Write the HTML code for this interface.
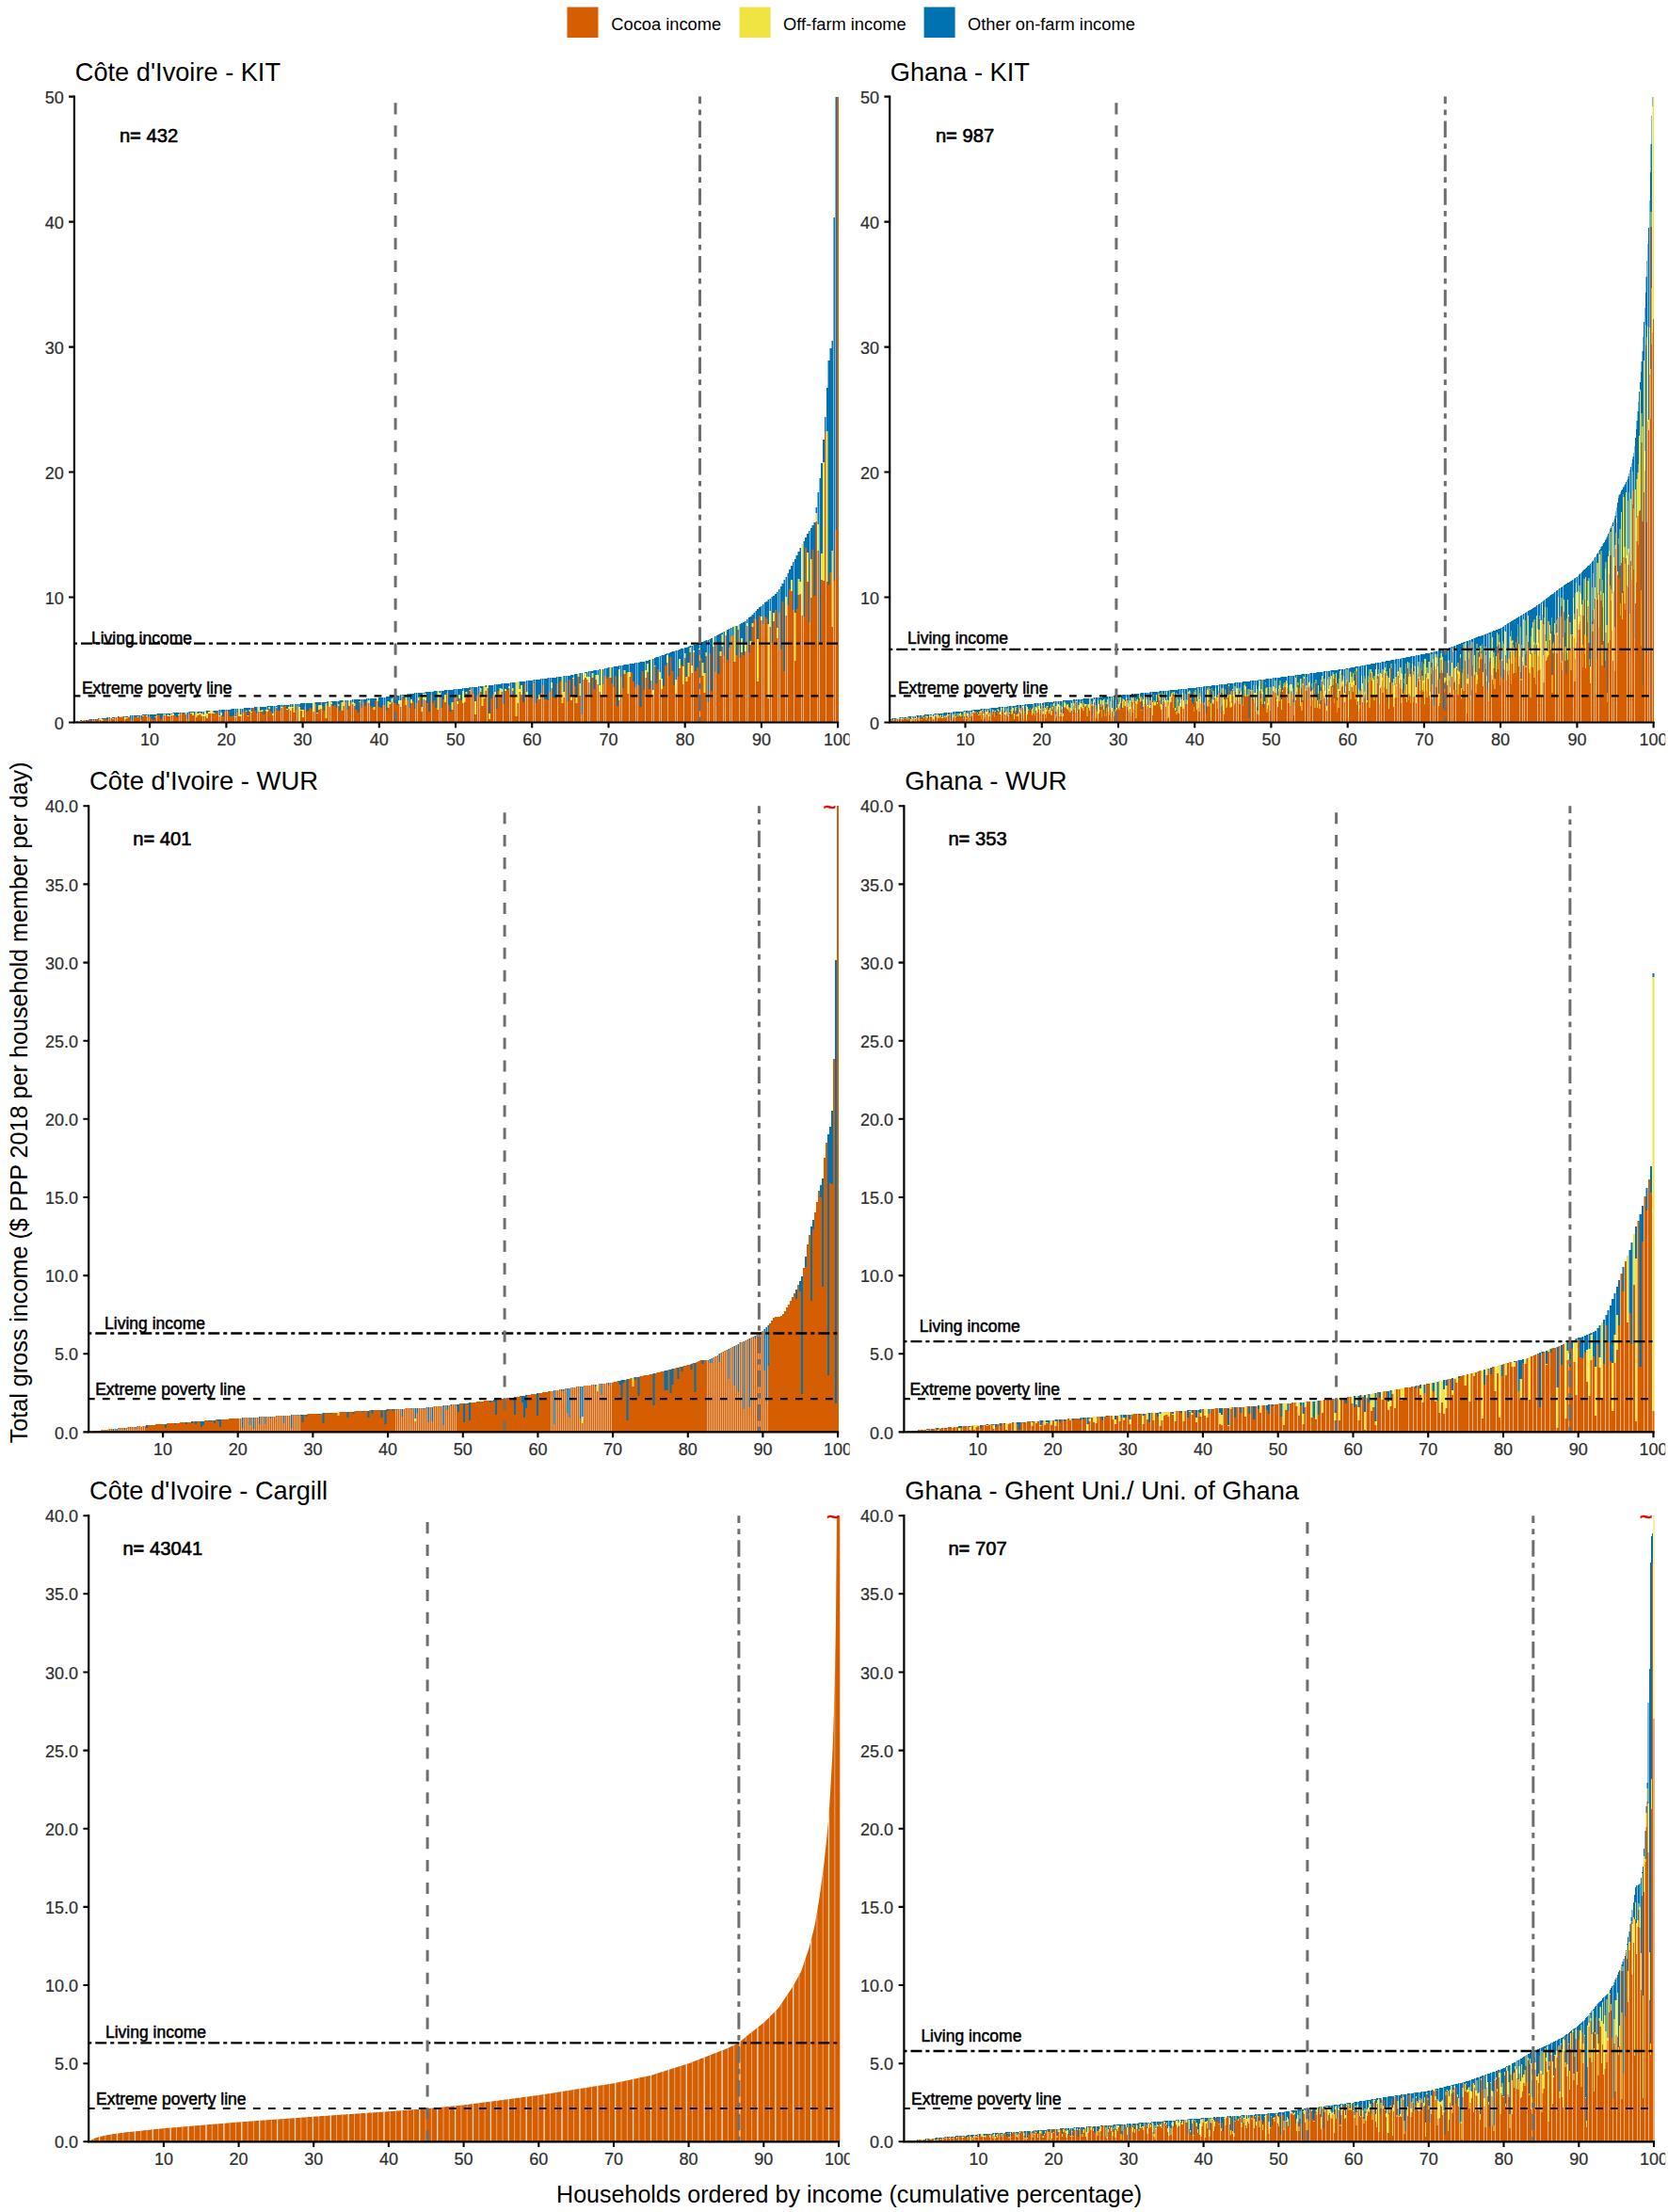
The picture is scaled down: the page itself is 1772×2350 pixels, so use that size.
<!DOCTYPE html>
<html lang="en"><head><meta charset="utf-8"><title>Household income distribution</title>
<style>html,body{margin:0;padding:0;background:#fff}svg{display:block}text{font-family:"Liberation Sans", sans-serif}</style></head><body>
<svg width="1772" height="2350" viewBox="0 0 1772 2350">
<rect width="1772" height="2350" fill="#fff"/>
<g font-size="18.3" fill="#000"><rect x="602.5" y="7.5" width="33" height="32.5" fill="#D55E00"/><text x="649.3" y="31.6">Cocoa income</text><rect x="785.6" y="7.5" width="33" height="32.5" fill="#F0E442"/><text x="832" y="31.6">Off-farm income</text><rect x="981.6" y="7.5" width="33" height="32.5" fill="#0072B2"/><text x="1028" y="31.6">Other on-farm income</text></g>
<text x="902.1" y="2340.4" font-size="25.04" text-anchor="middle">Households ordered by income (cumulative percentage)</text>
<text transform="translate(29.1 1171.4) rotate(-90)" font-size="25.17" text-anchor="middle">Total gross income ($ PPP 2018 per household member per day)</text>
<clipPath id="cl"><rect x="0" y="0" width="902.6" height="2350"/></clipPath><clipPath id="cr"><rect x="903" y="0" width="866.2" height="2350"/></clipPath>
<g clip-path="url(#cl)">
<text x="79.8" y="85.9" font-size="27.2">Côte d'Ivoire - KIT</text>
<g shape-rendering="crispEdges">
<path fill="#D55E00" d="M78 768v-1h2v1zM80 768v-1h1v1zM82 768v-1h1v1zM84 768v-1h1v1zM85 768v-1h2v1zM87 768v-2h2v2zM89 768v-3h2v3zM91 768v-2h2v2zM93 768v-3h2v3zM95 768v-3h2v3zM97 768v-3h1v3zM99 768v-3h1v3zM101 768v-3h1v3zM102 768v-4h2v4zM104 768v-4h2v4zM106 768v-3h2v3zM108 768v-2h2v2zM110 768v-4h2v4zM112 768v-4h2v4zM114 768v-3h1v3zM116 768v-5h1v5zM118 768v-5h1v5zM119 768v-4h2v4zM121 768v-5h2v5zM123 768v-6h2v6zM125 768v-6h2v6zM127 768v-6h2v6zM129 768v-6h2v6zM131 768v-6h1v6zM133 768v-4h1v4zM134 768v-5h2v5zM136 768v-6h2v6zM138 768v-4h2v4zM140 768v-3h2v3zM142 768v-7h2v7zM144 768v-6h2v6zM146 768v-6h2v6zM148 768v-7h1v7zM150 768v-4h1v4zM151 768v-7h2v7zM153 768v-8h2v8zM155 768v-7h2v7zM157 768v-6h2v6zM159 768v-7h2v7zM161 768v-4h2v4zM163 768v-3h2v3zM165 768v-6h1v6zM167 768v-8h1v8zM168 768v-9h2v9zM170 768v-4h2v4zM172 768v-7h2v7zM174 768v-8h2v8zM176 768v-8h2v8zM178 768v-7h2v7zM180 768v-7h1v7zM182 768v-8h1v8zM184 768v-8h1v8zM185 768v-8h2v8zM187 768v-6h2v6zM189 768v-8h2v8zM191 768v-10h2v10zM193 768v-11h2v11zM195 768v-9h2v9zM197 768v-9h1v9zM199 768v-4h1v4zM201 768v-9h1v9zM202 768v-10h2v10zM204 768v-8h2v8zM206 768v-9h2v9zM208 768v-6h2v6zM210 768v-8h2v8zM212 768v-9h2v9zM214 768v-7h1v7zM216 768v-7h1v7zM218 768v-7h1v7zM219 768v-5h2v5zM221 768v-10h2v10zM223 768v-10h2v10zM225 768v-10h2v10zM227 768v-10h2v10zM229 768v-10h2v10zM231 768v-13h1v13zM233 768v-7h1v7zM235 768v-8h1v8zM236 768v-7h2v7zM238 768v-12h2v12zM240 768v-13h2v13zM242 768v-12h2v12zM244 768v-7h2v7zM246 768v-7h2v7zM248 768v-8h1v8zM250 768v-6h1v6zM252 768v-11h1v11zM253 768v-7h2v7zM255 768v-7h2v7zM257 768v-11h2v11zM259 768v-12h2v12zM261 768v-12h2v12zM263 768v-7h2v7zM265 768v-12h1v12zM267 768v-11h1v11zM268 768v-16h2v16zM270 768v-13h2v13zM272 768v-10h2v10zM274 768v-12h2v12zM276 768v-12h2v12zM278 768v-12h2v12zM280 768v-9h2v9zM282 768v-13h1v13zM284 768v-12h1v12zM285 768v-15h2v15zM287 768v-12h2v12zM289 768v-8h2v8zM291 768v-12h2v12zM293 768v-16h2v16zM295 768v-13h2v13zM297 768v-13h1v13zM299 768v-16h1v16zM301 768v-17h1v17zM302 768v-18h2v18zM304 768v-14h2v14zM306 768v-15h2v15zM308 768v-13h2v13zM310 768v-16h2v16zM312 768v-11h2v11zM314 768v-13h1v13zM316 768v-18h1v18zM318 768v-2h1v2zM319 768v-13h2v13zM321 768v-6h2v6zM323 768v-17h2v17zM325 768v-12h2v12zM327 768v-13h2v13zM329 768v-16h2v16zM331 768v-15h1v15zM333 768v-12h1v12zM335 768v-20h1v20zM336 768v-10h2v10zM338 768v-14h2v14zM340 768v-15h2v15zM342 768v-18h2v18zM344 768v-13h2v13zM346 768v-5h2v5zM348 768v-18h1v18zM350 768v-17h1v17zM352 768v-20h1v20zM353 768v-18h2v18zM355 768v-19h2v19zM357 768v-16h2v16zM359 768v-18h2v18zM361 768v-13h2v13zM363 768v-13h2v13zM365 768v-18h1v18zM367 768v-22h1v22zM369 768v-14h1v14zM370 768v-18h2v18zM372 768v-21h2v21zM374 768v-20h2v20zM376 768v-18h2v18zM378 768v-14h2v14zM380 768v-11h2v11zM382 768v-22h1v22zM384 768v-16h1v16zM386 768v-22h1v22zM387 768v-18h2v18zM389 768v-23h2v23zM391 768v-21h2v21zM393 768v-18h2v18zM395 768v-16h2v16zM397 768v-14h2v14zM399 768v-24h1v24zM401 768v-23h1v23zM402 768v-17h2v17zM404 768v-16h2v16zM406 768v-19h2v19zM408 768v-19h2v19zM410 768v-13h2v13zM412 768v-16h2v16zM414 768v-20h2v20zM416 768v-22h1v22zM418 768v-22h1v22zM419 768v-21h2v21zM421 768v-19h2v19zM423 768v-20h2v20zM425 768v-17h2v17zM427 768v-28h2v28zM429 768v-25h2v25zM431 768v-19h1v19zM433 768v-24h1v24zM435 768v-16h1v16zM436 768v-21h2v21zM438 768v-23h2v23zM440 768v-15h2v15zM442 768v-21h2v21zM444 768v-24h2v24zM446 768v-27h2v27zM448 768v-12h1v12zM450 768v-25h1v25zM452 768v-24h1v24zM453 768v-21h2v21zM455 768v-12h2v12zM457 768v-30h2v30zM459 768v-21h2v21zM461 768v-24h2v24zM463 768v-16h2v16zM465 768v-14h1v14zM467 768v-28h1v28zM469 768v-16h1v16zM470 768v-25h2v25zM472 768v-22h2v22zM474 768v-32h2v32zM476 768v-19h2v19zM478 768v-12h2v12zM480 768v-14h2v14zM482 768v-26h1v26zM484 768v-29h1v29zM486 768v-20h1v20zM487 768v-26h2v26zM489 768v-24h2v24zM491 768v-21h2v21zM493 768v-22h2v22zM495 768v-31h2v31zM497 768v-27h2v27zM499 768v-34h1v34zM501 768v-36h1v36zM503 768v-31h1v31zM504 768v-9h2v9zM506 768v-29h2v29zM508 768v-31h2v31zM510 768v-33h2v33zM512 768v-18h2v18zM514 768v-26h2v26zM516 768v-34h1v34zM518 768v-37h1v37zM519 768v-4h2v4zM521 768v-26h2v26zM523 768v-30h2v30zM525 768v-28h2v28zM527 768v-15h2v15zM529 768v-34h2v34zM531 768v-30h2v30zM533 768v-33h1v33zM535 768v-20h1v20zM536 768v-34h2v34zM538 768v-35h2v35zM540 768v-37h2v37zM542 768v-30h2v30zM544 768v-34h2v34zM546 768v-29h2v29zM548 768v-7h2v7zM550 768v-21h1v21zM552 768v-33h1v33zM553 768v-30h2v30zM555 768v-22h2v22zM557 768v-42h2v42zM559 768v-29h2v29zM561 768v-27h2v27zM563 768v-28h2v28zM565 768v-26h1v26zM567 768v-42h1v42zM569 768v-21h1v21zM570 768v-26h2v26zM572 768v-25h2v25zM574 768v-32h2v32zM576 768v-40h2v40zM578 768v-25h2v25zM580 768v-25h2v25zM582 768v-24h1v24zM584 768v-33h1v33zM586 768v-37h1v37zM587 768v-27h2v27zM589 768v-26h2v26zM591 768v-42h2v42zM593 768v-29h2v29zM595 768v-44h2v44zM597 768v-21h2v21zM599 768v-27h1v27zM601 768v-43h1v43zM603 768v-23h1v23zM604 768v-46h2v46zM606 768v-24h2v24zM608 768v-47h2v47zM610 768v-39h2v39zM612 768v-21h2v21zM614 768v-49h2v49zM616 768v-29h1v29zM618 768v-9h1v9zM620 768v-46h1v46zM621 768v-48h2v48zM623 768v-46h2v46zM625 768v-43h2v43zM627 768v-30h2v30zM629 768v-48h2v48zM631 768v-36h2v36zM633 768v-46h1v46zM635 768v-41h1v41zM637 768v-33h1v33zM638 768v-28h2v28zM640 768v-41h2v41zM642 768v-50h2v50zM644 768v-47h2v47zM646 768v-49h2v49zM648 768v-48h2v48zM650 768v-42h1v42zM652 768v-38h1v38zM653 768v-50h2v50zM655 768v-18h2v18zM657 768v-24h2v24zM659 768v-49h2v49zM661 768v-37h2v37zM663 768v-52h2v52zM665 768v-53h2v53zM667 768v-31h1v31zM669 768v-49h1v49zM670 768v-54h2v54zM672 768v-44h2v44zM674 768v-38h2v38zM676 768v-41h2v41zM678 768v-40h2v40zM680 768v-17h2v17zM682 768v-55h2v55zM684 768v-35h1v35zM686 768v-48h1v48zM687 768v-54h2v54zM689 768v-36h2v36zM691 768v-45h2v45zM693 768v-30h2v30zM695 768v-60h2v60zM697 768v-42h2v42zM699 768v-57h1v57zM701 768v-46h1v46zM703 768v-36h1v36zM704 768v-39h2v39zM706 768v-61h2v61zM708 768v-64h2v64zM710 768v-50h2v50zM712 768v-70h2v70zM714 768v-55h2v55zM716 768v-40h1v40zM718 768v-31h1v31zM720 768v-49h1v49zM721 768v-58h2v58zM723 768v-61h2v61zM725 768v-41h2v41zM727 768v-69h2v69zM729 768v-44h2v44zM731 768v-49h2v49zM733 768v-75h1v75zM735 768v-53h1v53zM737 768v-75h1v75zM738 768v-55h2v55zM740 768v-59h2v59zM742 768v-78h2v78zM744 768v-69h2v69zM746 768v-50h2v50zM748 768v-32h2v32zM750 768v-71h1v71zM752 768v-22h1v22zM754 768v-74h1v74zM755 768v-34h2v34zM757 768v-81h2v81zM759 768v-54h2v54zM761 768v-84h2v84zM763 768v-52h2v52zM765 768v-71h2v71zM767 768v-81h1v81zM769 768v-71h1v71zM771 768v-93h1v93zM772 768v-67h2v67zM774 768v-80h2v80zM776 768v-92h2v92zM778 768v-93h2v93zM780 768v-65h2v65zM782 768v-72h2v72zM784 768v-99h1v99zM786 768v-69h1v69zM787 768v-75h2v75zM789 768v-72h2v72zM791 768v-76h2v76zM793 768v-103h2v103zM795 768v-75h2v75zM797 768v-83h2v83zM799 768v-102h2v102zM801 768v-111h1v111zM803 768v-110h1v110zM804 768v-44h2v44zM806 768v-114h2v114zM808 768v-109h2v109zM810 768v-105h2v105zM812 768v-113h2v113zM814 768v-111h2v111zM816 768v-26h1v26zM818 768v-102h1v102zM820 768v-85h1v85zM821 768v-108h2v108zM823 768v-120h2v120zM825 768v-90h2v90zM827 768v-117h2v117zM829 768v-78h2v78zM831 768v-129h2v129zM833 768v-55h1v55zM835 768v-114h1v114zM837 768v-125h1v125zM838 768v-142h2v142zM840 768v-140h2v140zM842 768v-120h2v120zM844 768v-66h2v66zM846 768v-121h2v121zM848 768v-136h2v136zM850 768v-137h1v137zM852 768v-114h1v114zM854 768v-113h1v113zM855 768v-186h2v186zM857 768v-150h2v150zM859 768v-107h2v107zM861 768v-133h2v133zM863 768v-184h2v184zM865 768v-135h2v135zM867 768v-214h1v214zM869 768v-183h1v183zM871 768v-85h1v85zM872 768v-152h2v152zM874 768v-151h2v151zM876 768v-309h2v309zM878 768v-150h2v150zM880 768v-147h2v147zM882 768v-160h2v160zM884 768v-102h1v102zM886 768v-151h1v151zM888 768v-205h1v205zM889 768v-665h2v665z"/>
<path fill="#F0E442" d="M78 767v-1h2v1zM80 767v-1h1v1zM84 767v-1h1v1zM85 767v-1h2v1zM87 766v-1h2v1zM106 765v-2h2v2zM108 766v-2h2v2zM118 763v-1h1v1zM119 764v-1h2v1zM127 762v-1h2v1zM129 762v-1h2v1zM133 764v-2h1v2zM134 763v-1h2v1zM136 762v-1h2v1zM146 762v-1h2v1zM151 761v-1h2v1zM155 761v-1h2v1zM165 762v-1h1v1zM174 760v-1h2v1zM178 761v-2h2v2zM180 761v-1h1v1zM182 760v-1h1v1zM184 760v-2h1v2zM189 760v-1h2v1zM197 759v-2h1v2zM202 758v-1h2v1zM204 760v-3h2v3zM208 762v-6h2v6zM210 760v-2h2v2zM212 759v-2h2v2zM214 761v-3h1v3zM216 761v-2h1v2zM218 761v-6h1v6zM219 763v-5h2v5zM221 758v-2h2v2zM223 758v-3h2v3zM225 758v-3h2v3zM227 758v-1h2v1zM233 761v-1h1v1zM235 760v-3h1v3zM250 762v-1h1v1zM253 761v-8h2v8zM255 761v-2h2v2zM261 756v-1h2v1zM263 761v-1h2v1zM265 756v-2h1v2zM267 757v-1h1v1zM274 756v-5h2v5zM276 756v-1h2v1zM278 756v-2h2v2zM282 755v-1h1v1zM284 756v-2h1v2zM285 753v-2h2v2zM289 760v-2h2v2zM293 752v-1h2v1zM299 752v-1h1v1zM304 754v-1h2v1zM306 753v-2h2v2zM308 755v-4h2v4zM310 752v-1h2v1zM312 757v-9h2v9zM318 766v-15h1v15zM319 755v-1h2v1zM321 762v-8h2v8zM333 756v-9h1v9zM336 758v-1h2v1zM338 754v-5h2v5zM340 753v-4h2v4zM346 763v-16h2v16zM350 751v-6h1v6zM352 748v-2h1v2zM359 750v-2h2v2zM363 755v-9h2v9zM365 750v-6h1v6zM370 750v-6h2v6zM374 748v-2h2v2zM376 750v-3h2v3zM382 746v-1h1v1zM391 747v-3h2v3zM397 754v-3h2v3zM401 745v-3h1v3zM412 752v-7h2v7zM414 748v-2h2v2zM416 746v-4h1v4zM423 748v-4h2v4zM425 751v-7h2v7zM427 740v-1h2v1zM431 749v-11h1v11zM436 747v-4h2v4zM444 744v-3h2v3zM446 741v-2h2v2zM448 756v-5h1v5zM450 743v-6h1v6zM452 744v-7h1v7zM465 754v-20h1v20zM467 740v-4h1v4zM472 746v-8h2v8zM480 754v-8h2v8zM486 748v-3h1v3zM487 742v-4h2v4zM491 747v-13h2v13zM493 746v-5h2v5zM495 737v-2h2v2zM499 734v-1h1v1zM504 759v-14h2v14zM510 735v-4h2v4zM512 750v-10h2v10zM514 742v-13h2v13zM516 734v-4h1v4zM518 731v-3h1v3zM519 764v-6h2v6zM525 740v-5h2v5zM531 738v-7h2v7zM533 735v-3h1v3zM536 734v-2h2v2zM540 731v-2h2v2zM544 734v-3h2v3zM546 739v-1h2v1zM548 761v-36h2v36zM550 747v-23h1v23zM552 735v-3h1v3zM553 738v-10h2v10zM559 739v-4h2v4zM572 743v-5h2v5zM586 731v-6h1v6zM597 747v-28h2v28zM599 741v-6h1v6zM606 744v-4h2v4zM608 721v-1h2v1zM612 747v-6h2v6zM614 719v-3h2v3zM616 739v-13h1v13zM620 722v-7h1v7zM621 720v-5h2v5zM623 722v-3h2v3zM625 725v-6h2v6zM629 720v-5h2v5zM633 722v-5h1v5zM635 727v-10h1v10zM637 735v-7h1v7zM638 740v-29h2v29zM648 720v-11h2v11zM657 744v-33h2v33zM663 716v-4h2v4zM667 737v-23h1v23zM669 719v-5h1v5zM686 720v-8h1v8zM687 714v-9h2v9zM691 723v-23h2v23zM693 738v-5h2v5zM695 708v-1h2v1zM701 722v-8h1v8zM703 732v-11h1v11zM708 704v-8h2v8zM718 737v-15h1v15zM721 710v-10h2v10zM725 727v-19h2v19zM727 699v-5h2v5zM729 724v-5h2v5zM731 719v-15h2v15zM733 693v-5h1v5zM735 715v-8h1v8zM737 693v-2h1v2zM742 690v-1h2v1zM746 718v-14h2v14zM748 736v-21h2v21zM750 697v-4h1v4zM757 687v-10h2v10zM765 697v-5h2v5zM767 687v-13h1v13zM771 675v-5h1v5zM780 703v-38h2v38zM784 669v-5h1v5zM787 693v-15h2v15zM791 692v-7h2v7zM793 665v-3h2v3zM797 685v-4h2v4zM799 666v-4h2v4zM804 724v-45h2v45zM808 659v-4h2v4zM816 742v-79h1v79zM818 666v-17h1v17zM821 660v-9h2v9zM825 678v-11h2v11zM835 654v-20h1v20zM840 628v-12h2v12zM844 702v-51h2v51zM848 632v-17h2v17zM850 631v-13h1v13zM852 654v-76h1v76zM857 618v-31h2v31zM861 635v-41h2v41zM867 554v-9h1v9zM869 585v-28h1v28zM872 616v-28h2v28zM874 617v-126h2v126zM878 618v-160h2v160zM884 666v-81h1v81z"/>
<path fill="#0072B2" d="M82 767v-1h1v1zM85 766v-1h2v1zM91 766v-1h2v1zM95 765v-1h2v1zM97 765v-1h1v1zM99 765v-1h1v1zM101 765v-1h1v1zM104 764v-1h2v1zM108 764v-1h2v1zM110 764v-1h2v1zM112 764v-1h2v1zM114 765v-3h1v3zM116 763v-1h1v1zM119 763v-1h2v1zM121 763v-1h2v1zM125 762v-1h2v1zM131 762v-1h1v1zM133 762v-1h1v1zM134 762v-1h2v1zM138 764v-4h2v4zM140 765v-5h2v5zM142 761v-1h2v1zM144 762v-2h2v2zM146 761v-1h2v1zM148 761v-1h1v1zM150 764v-4h1v4zM151 760v-1h2v1zM153 760v-1h2v1zM155 760v-1h2v1zM157 762v-3h2v3zM159 761v-2h2v2zM161 764v-5h2v5zM163 765v-6h2v6zM165 761v-2h1v2zM167 760v-2h1v2zM168 759v-1h2v1zM170 764v-6h2v6zM172 761v-3h2v3zM174 759v-1h2v1zM176 760v-2h2v2zM178 759v-1h2v1zM180 760v-2h1v2zM182 759v-1h1v1zM184 758v-1h1v1zM185 760v-3h2v3zM187 762v-5h2v5zM189 759v-2h2v2zM191 758v-1h2v1zM195 759v-2h2v2zM199 764v-7h1v7zM201 759v-3h1v3zM202 757v-1h2v1zM204 757v-1h2v1zM206 759v-3h2v3zM210 758v-2h2v2zM212 757v-1h2v1zM214 758v-2h1v2zM216 759v-3h1v3zM219 758v-3h2v3zM221 756v-1h2v1zM227 757v-2h2v2zM229 758v-3h2v3zM233 760v-6h1v6zM235 757v-3h1v3zM236 761v-7h2v7zM238 756v-2h2v2zM240 755v-1h2v1zM242 756v-2h2v2zM244 761v-7h2v7zM246 761v-8h2v8zM248 760v-7h1v7zM250 761v-8h1v8zM252 757v-4h1v4zM255 759v-6h2v6zM257 757v-4h2v4zM259 756v-4h2v4zM261 755v-3h2v3zM263 760v-8h2v8zM265 754v-2h1v2zM267 756v-4h1v4zM270 755v-4h2v4zM272 758v-7h2v7zM276 755v-4h2v4zM278 754v-3h2v3zM280 759v-8h2v8zM282 754v-3h1v3zM284 754v-4h1v4zM285 751v-1h2v1zM287 756v-6h2v6zM289 758v-8h2v8zM291 756v-6h2v6zM293 751v-1h2v1zM295 755v-6h2v6zM297 755v-6h1v6zM299 751v-2h1v2zM301 751v-2h1v2zM302 750v-1h2v1zM304 753v-4h2v4zM306 751v-2h2v2zM308 751v-3h2v3zM310 751v-3h2v3zM314 755v-7h1v7zM316 750v-2h1v2zM318 751v-3h1v3zM319 754v-7h2v7zM321 754v-7h2v7zM323 751v-4h2v4zM325 756v-9h2v9zM327 755v-8h2v8zM329 752v-5h2v5zM331 753v-6h1v6zM335 748v-2h1v2zM336 757v-11h2v11zM338 749v-3h2v3zM340 749v-3h2v3zM342 750v-4h2v4zM344 755v-9h2v9zM346 747v-1h2v1zM348 750v-5h1v5zM352 746v-1h1v1zM353 750v-5h2v5zM355 749v-4h2v4zM357 752v-7h2v7zM359 748v-3h2v3zM361 755v-11h2v11zM363 746v-2h2v2zM367 746v-2h1v2zM369 754v-10h1v10zM372 747v-3h2v3zM374 746v-3h2v3zM376 747v-4h2v4zM378 754v-11h2v11zM380 757v-14h2v14zM382 745v-2h1v2zM384 752v-9h1v9zM386 746v-3h1v3zM387 750v-7h2v7zM389 745v-3h2v3zM391 744v-2h2v2zM393 750v-8h2v8zM395 752v-10h2v10zM397 751v-9h2v9zM399 744v-2h1v2zM402 751v-10h2v10zM404 752v-11h2v11zM406 749v-8h2v8zM408 749v-8h2v8zM410 755v-15h2v15zM412 745v-5h2v5zM414 746v-6h2v6zM416 742v-2h1v2zM418 746v-7h1v7zM419 747v-8h2v8zM421 749v-10h2v10zM423 744v-5h2v5zM425 744v-6h2v6zM427 739v-1h2v1zM429 743v-5h2v5zM433 744v-7h1v7zM435 752v-15h1v15zM436 743v-6h2v6zM438 745v-8h2v8zM440 753v-17h2v17zM442 747v-11h2v11zM444 741v-5h2v5zM446 739v-3h2v3zM448 751v-15h1v15zM450 737v-1h1v1zM452 737v-2h1v2zM453 747v-12h2v12zM455 756v-21h2v21zM457 738v-3h2v3zM459 747v-12h2v12zM461 744v-10h2v10zM463 752v-18h2v18zM467 736v-2h1v2zM469 752v-18h1v18zM470 743v-9h2v9zM472 738v-5h2v5zM474 736v-3h2v3zM476 749v-16h2v16zM478 756v-23h2v23zM480 746v-13h2v13zM482 742v-10h1v10zM484 739v-7h1v7zM486 745v-13h1v13zM487 738v-6h2v6zM489 744v-12h2v12zM491 734v-3h2v3zM493 741v-10h2v10zM495 735v-4h2v4zM497 741v-10h2v10zM499 733v-3h1v3zM501 732v-2h1v2zM503 737v-7h1v7zM504 745v-15h2v15zM506 739v-9h2v9zM508 737v-8h2v8zM510 731v-2h2v2zM512 740v-11h2v11zM516 730v-2h1v2zM519 758v-30h2v30zM521 742v-14h2v14zM523 738v-10h2v10zM525 735v-8h2v8zM527 753v-26h2v26zM529 734v-7h2v7zM531 731v-4h2v4zM533 732v-6h1v6zM535 748v-22h1v22zM536 732v-6h2v6zM538 733v-7h2v7zM540 729v-3h2v3zM542 738v-13h2v13zM544 731v-6h2v6zM546 738v-13h2v13zM552 732v-8h1v8zM553 728v-4h2v4zM555 746v-22h2v22zM557 726v-2h2v2zM559 735v-12h2v12zM561 741v-18h2v18zM563 740v-17h2v17zM565 742v-19h1v19zM567 726v-4h1v4zM569 747v-25h1v25zM570 742v-20h2v20zM572 738v-16h2v16zM574 736v-15h2v15zM576 728v-7h2v7zM578 743v-22h2v22zM580 743v-22h2v22zM582 744v-24h1v24zM584 735v-15h1v15zM586 725v-5h1v5zM587 741v-21h2v21zM589 742v-22h2v22zM591 726v-7h2v7zM593 739v-20h2v20zM595 724v-5h2v5zM599 735v-17h1v17zM601 725v-7h1v7zM603 745v-27h1v27zM604 722v-4h2v4zM606 740v-23h2v23zM608 720v-3h2v3zM610 729v-13h2v13zM612 741v-25h2v25zM616 726v-11h1v11zM618 759v-44h1v44zM621 715v-1h2v1zM623 719v-5h2v5zM625 719v-6h2v6zM627 738v-25h2v25zM629 715v-2h2v2zM631 732v-20h2v20zM633 717v-5h1v5zM635 717v-5h1v5zM637 728v-17h1v17zM640 727v-16h2v16zM642 718v-8h2v8zM644 721v-11h2v11zM646 719v-10h2v10zM650 726v-17h1v17zM652 730v-22h1v22zM653 718v-10h2v10zM655 750v-42h2v42zM657 711v-4h2v4zM659 719v-12h2v12zM661 731v-24h2v24zM663 712v-6h2v6zM665 715v-9h2v9zM667 714v-8h1v8zM669 714v-9h1v9zM670 714v-9h2v9zM672 724v-19h2v19zM674 730v-26h2v26zM676 727v-23h2v23zM678 728v-24h2v24zM680 751v-48h2v48zM682 713v-10h2v10zM684 733v-30h1v30zM686 712v-10h1v10zM687 705v-3h2v3zM689 732v-31h2v31zM693 733v-33h2v33zM695 707v-8h2v8zM697 726v-28h2v28zM699 711v-13h1v13zM701 714v-17h1v17zM703 721v-25h1v25zM704 729v-33h2v33zM706 707v-12h2v12zM708 696v-2h2v2zM710 718v-24h2v24zM712 698v-5h2v5zM714 713v-21h2v21zM716 728v-36h1v36zM718 722v-31h1v31zM720 719v-28h1v28zM721 700v-10h2v10zM723 707v-18h2v18zM725 708v-19h2v19zM727 694v-6h2v6zM729 719v-31h2v31zM731 704v-17h2v17zM733 688v-2h1v2zM735 707v-21h1v21zM737 691v-6h1v6zM738 713v-28h2v28zM740 709v-25h2v25zM742 689v-5h2v5zM744 699v-16h2v16zM746 704v-22h2v22zM748 715v-34h2v34zM750 693v-13h1v13zM752 746v-66h1v66zM754 694v-15h1v15zM755 734v-56h2v56zM759 714v-38h2v38zM761 684v-9h2v9zM763 716v-42h2v42zM765 692v-19h2v19zM767 674v-2h1v2zM769 697v-26h1v26zM772 701v-32h2v32zM774 688v-20h2v20zM776 676v-9h2v9zM778 675v-9h2v9zM782 696v-31h2v31zM786 699v-36h1v36zM787 678v-16h2v16zM789 696v-35h2v35zM791 685v-25h2v25zM793 662v-4h2v4zM795 693v-37h2v37zM797 681v-26h2v26zM799 662v-9h2v9zM801 657v-6h1v6zM803 658v-9h1v9zM804 679v-32h2v32zM806 654v-9h2v9zM808 655v-11h2v11zM810 663v-21h2v21zM812 655v-15h2v15zM814 657v-18h2v18zM816 663v-26h1v26zM818 649v-13h1v13zM820 683v-49h1v49zM821 651v-18h2v18zM823 648v-17h2v17zM825 667v-38h2v38zM827 651v-25h2v25zM829 690v-67h2v67zM831 639v-19h2v19zM833 713v-97h1v97zM835 634v-21h1v21zM837 643v-34h1v34zM838 626v-21h2v21zM840 616v-15h2v15zM842 648v-51h2v51zM844 651v-57h2v57zM846 647v-57h2v57zM848 615v-29h2v29zM850 618v-36h1v36zM854 655v-80h1v80zM855 582v-11h2v11zM857 587v-20h2v20zM859 661v-97h2v97zM861 594v-33h2v33zM863 584v-26h2v26zM865 633v-78h2v78zM867 545v-6h1v6zM869 557v-34h1v34zM871 683v-175h1v175zM872 588v-96h2v96zM874 491v-24h2v24zM876 459v-16h2v16zM878 458v-46h2v46zM880 621v-238h2v238zM882 608v-238h2v238zM884 585v-223h1v223zM886 617v-386h1v386zM888 563v-460h1v460z"/>
<g opacity=".5">
<path fill="#fff" d="M90 768v-3h1v3zM105 768v-5h1v5zM107 768v-5h1v5zM122 768v-6h1v6zM124 768v-6h1v6zM139 768v-8h1v8zM141 768v-8h1v8zM156 768v-9h1v9zM158 768v-9h1v9zM173 768v-10h1v10zM175 768v-10h1v10zM190 768v-11h1v11zM192 768v-11h1v11zM207 768v-12h1v12zM224 768v-13h1v13zM239 768v-14h1v14zM241 768v-14h1v14zM256 768v-15h1v15zM258 768v-15h1v15zM273 768v-17h1v17zM275 768v-17h1v17zM290 768v-18h1v18zM292 768v-18h1v18zM307 768v-19h1v19zM309 768v-20h1v20zM324 768v-21h1v21zM341 768v-22h1v22zM358 768v-23h1v23zM373 768v-24h1v24zM375 768v-25h1v25zM390 768v-26h1v26zM392 768v-26h1v26zM407 768v-27h1v27zM409 768v-27h1v27zM424 768v-29h1v29zM426 768v-30h1v30zM441 768v-32h1v32zM443 768v-32h1v32zM458 768v-33h1v33zM475 768v-35h1v35zM492 768v-37h1v37zM507 768v-38h1v38zM509 768v-39h1v39zM524 768v-40h1v40zM526 768v-41h1v41zM541 768v-42h1v42zM543 768v-43h1v43zM558 768v-44h1v44zM560 768v-45h1v45zM575 768v-47h1v47zM577 768v-47h1v47zM592 768v-49h1v49zM609 768v-51h1v51zM624 768v-54h1v54zM626 768v-55h1v55zM641 768v-57h1v57zM643 768v-58h1v58zM658 768v-61h1v61zM660 768v-61h1v61zM675 768v-64h1v64zM677 768v-64h1v64zM692 768v-68h1v68zM694 768v-68h1v68zM709 768v-74h1v74zM726 768v-79h1v79zM743 768v-84h1v84zM758 768v-91h1v91zM760 768v-92h1v92zM775 768v-100h1v100zM777 768v-101h1v101zM792 768v-108h1v108zM794 768v-110h1v110zM809 768v-124h1v124zM811 768v-126h1v126zM826 768v-139h1v139zM828 768v-142h1v142zM843 768v-171h1v171zM860 768v-204h1v204zM877 768v-325h1v325z"/>
<path fill="#D55E00" d="M78 768v-1h1v1zM79 768v-1h2v1zM81 768v-1h2v1zM83 768v-1h2v1zM85 768v-1h2v1zM87 768v-2h2v2zM89 768v-3h1v3zM91 768v-2h1v2zM92 768v-3h2v3zM94 768v-3h2v3zM96 768v-3h2v3zM98 768v-3h2v3zM100 768v-3h2v3zM102 768v-4h2v4zM104 768v-4h1v4zM106 768v-3h1v3zM108 768v-2h1v2zM109 768v-4h2v4zM111 768v-4h2v4zM113 768v-3h2v3zM115 768v-5h2v5zM117 768v-5h2v5zM119 768v-4h2v4zM121 768v-5h1v5zM123 768v-6h1v6zM125 768v-6h1v6zM126 768v-6h2v6zM128 768v-6h2v6zM130 768v-6h2v6zM132 768v-4h2v4zM134 768v-5h2v5zM136 768v-6h2v6zM138 768v-4h1v4zM140 768v-3h1v3zM142 768v-7h1v7zM143 768v-6h2v6zM145 768v-6h2v6zM147 768v-7h2v7zM149 768v-4h2v4zM151 768v-7h2v7zM153 768v-8h2v8zM155 768v-7h1v7zM157 768v-6h1v6zM159 768v-7h1v7zM160 768v-4h2v4zM162 768v-3h2v3zM164 768v-6h2v6zM166 768v-8h2v8zM168 768v-9h2v9zM170 768v-4h2v4zM172 768v-7h1v7zM174 768v-8h1v8zM176 768v-8h1v8zM177 768v-7h2v7zM179 768v-7h2v7zM181 768v-8h2v8zM183 768v-8h2v8zM185 768v-8h2v8zM187 768v-6h2v6zM189 768v-8h1v8zM191 768v-10h1v10zM193 768v-11h1v11zM194 768v-9h2v9zM196 768v-9h2v9zM198 768v-4h2v4zM200 768v-9h2v9zM202 768v-10h2v10zM204 768v-8h2v8zM206 768v-9h1v9zM208 768v-6h1v6zM209 768v-8h2v8zM211 768v-9h2v9zM213 768v-7h2v7zM215 768v-7h2v7zM217 768v-7h2v7zM219 768v-5h2v5zM221 768v-10h2v10zM223 768v-10h1v10zM225 768v-10h1v10zM226 768v-10h2v10zM228 768v-10h2v10zM230 768v-13h2v13zM232 768v-7h2v7zM234 768v-8h2v8zM236 768v-7h2v7zM238 768v-12h1v12zM240 768v-13h1v13zM242 768v-12h1v12zM243 768v-7h2v7zM245 768v-7h2v7zM247 768v-8h2v8zM249 768v-6h2v6zM251 768v-11h2v11zM253 768v-7h2v7zM255 768v-7h1v7zM257 768v-11h1v11zM259 768v-12h1v12zM260 768v-12h2v12zM262 768v-7h2v7zM264 768v-12h2v12zM266 768v-11h2v11zM268 768v-16h2v16zM270 768v-13h2v13zM272 768v-10h1v10zM274 768v-12h1v12zM276 768v-12h1v12zM277 768v-12h2v12zM279 768v-9h2v9zM281 768v-13h2v13zM283 768v-12h2v12zM285 768v-15h2v15zM287 768v-12h2v12zM289 768v-8h1v8zM291 768v-12h1v12zM293 768v-16h1v16zM294 768v-13h2v13zM296 768v-13h2v13zM298 768v-16h2v16zM300 768v-17h2v17zM302 768v-18h2v18zM304 768v-14h2v14zM306 768v-15h1v15zM308 768v-13h1v13zM310 768v-16h1v16zM311 768v-11h2v11zM313 768v-13h2v13zM315 768v-18h2v18zM317 768v-2h2v2zM319 768v-13h2v13zM321 768v-6h2v6zM323 768v-17h1v17zM325 768v-12h1v12zM326 768v-13h2v13zM328 768v-16h2v16zM330 768v-15h2v15zM332 768v-12h2v12zM334 768v-20h2v20zM336 768v-10h2v10zM338 768v-14h2v14zM340 768v-15h1v15zM342 768v-18h1v18zM343 768v-13h2v13zM345 768v-5h2v5zM347 768v-18h2v18zM349 768v-17h2v17zM351 768v-20h2v20zM353 768v-18h2v18zM355 768v-19h2v19zM357 768v-16h1v16zM359 768v-18h1v18zM360 768v-13h2v13zM362 768v-13h2v13zM364 768v-18h2v18zM366 768v-22h2v22zM368 768v-14h2v14zM370 768v-18h2v18zM372 768v-21h1v21zM374 768v-20h1v20zM376 768v-18h1v18zM377 768v-14h2v14zM379 768v-11h2v11zM381 768v-22h2v22zM383 768v-16h2v16zM385 768v-22h2v22zM387 768v-18h2v18zM389 768v-23h1v23zM391 768v-21h1v21zM393 768v-18h1v18zM394 768v-16h2v16zM396 768v-14h2v14zM398 768v-24h2v24zM400 768v-23h2v23zM402 768v-17h2v17zM404 768v-16h2v16zM406 768v-19h1v19zM408 768v-19h1v19zM410 768v-13h1v13zM411 768v-16h2v16zM413 768v-20h2v20zM415 768v-22h2v22zM417 768v-22h2v22zM419 768v-21h2v21zM421 768v-19h2v19zM423 768v-20h1v20zM425 768v-17h1v17zM427 768v-28h1v28zM428 768v-25h2v25zM430 768v-19h2v19zM432 768v-24h2v24zM434 768v-16h2v16zM436 768v-21h2v21zM438 768v-23h2v23zM440 768v-15h1v15zM442 768v-21h1v21zM444 768v-24h1v24zM445 768v-27h2v27zM447 768v-12h2v12zM449 768v-25h2v25zM451 768v-24h2v24zM453 768v-21h2v21zM455 768v-12h2v12zM457 768v-30h1v30zM459 768v-21h1v21zM460 768v-24h2v24zM462 768v-16h2v16zM464 768v-14h2v14zM466 768v-28h2v28zM468 768v-16h2v16zM470 768v-25h2v25zM472 768v-22h2v22zM474 768v-32h1v32zM476 768v-19h1v19zM477 768v-12h2v12zM479 768v-14h2v14zM481 768v-26h2v26zM483 768v-29h2v29zM485 768v-20h2v20zM487 768v-26h2v26zM489 768v-24h2v24zM491 768v-21h1v21zM493 768v-22h1v22zM494 768v-31h2v31zM496 768v-27h2v27zM498 768v-34h2v34zM500 768v-36h2v36zM502 768v-31h2v31zM504 768v-9h2v9zM506 768v-29h1v29zM508 768v-31h1v31zM510 768v-33h1v33zM511 768v-18h2v18zM513 768v-26h2v26zM515 768v-34h2v34zM517 768v-37h2v37zM519 768v-4h2v4zM521 768v-26h2v26zM523 768v-30h1v30zM525 768v-28h1v28zM527 768v-15h1v15zM528 768v-34h2v34zM530 768v-30h2v30zM532 768v-33h2v33zM534 768v-20h2v20zM536 768v-34h2v34zM538 768v-35h2v35zM540 768v-37h1v37zM542 768v-30h1v30zM544 768v-34h1v34zM545 768v-29h2v29zM547 768v-7h2v7zM549 768v-21h2v21zM551 768v-33h2v33zM553 768v-30h2v30zM555 768v-22h2v22zM557 768v-42h1v42zM559 768v-29h1v29zM561 768v-27h1v27zM562 768v-28h2v28zM564 768v-26h2v26zM566 768v-42h2v42zM568 768v-21h2v21zM570 768v-26h2v26zM572 768v-25h2v25zM574 768v-32h1v32zM576 768v-40h1v40zM578 768v-25h1v25zM579 768v-25h2v25zM581 768v-24h2v24zM583 768v-33h2v33zM585 768v-37h2v37zM587 768v-27h2v27zM589 768v-26h2v26zM591 768v-42h1v42zM593 768v-29h1v29zM594 768v-44h2v44zM596 768v-21h2v21zM598 768v-27h2v27zM600 768v-43h2v43zM602 768v-23h2v23zM604 768v-46h2v46zM606 768v-24h2v24zM608 768v-47h1v47zM610 768v-39h1v39zM611 768v-21h2v21zM613 768v-49h2v49zM615 768v-29h2v29zM617 768v-9h2v9zM619 768v-46h2v46zM621 768v-48h2v48zM623 768v-46h1v46zM625 768v-43h1v43zM627 768v-30h1v30zM628 768v-48h2v48zM630 768v-36h2v36zM632 768v-46h2v46zM634 768v-41h2v41zM636 768v-33h2v33zM638 768v-28h2v28zM640 768v-41h1v41zM642 768v-50h1v50zM644 768v-47h1v47zM645 768v-49h2v49zM647 768v-48h2v48zM649 768v-42h2v42zM651 768v-38h2v38zM653 768v-50h2v50zM655 768v-18h2v18zM657 768v-24h1v24zM659 768v-49h1v49zM661 768v-37h1v37zM662 768v-52h2v52zM664 768v-53h2v53zM666 768v-31h2v31zM668 768v-49h2v49zM670 768v-54h2v54zM672 768v-44h2v44zM674 768v-38h1v38zM676 768v-41h1v41zM678 768v-40h1v40zM679 768v-17h2v17zM681 768v-55h2v55zM683 768v-35h2v35zM685 768v-48h2v48zM687 768v-54h2v54zM689 768v-36h2v36zM691 768v-45h1v45zM693 768v-30h1v30zM695 768v-60h1v60zM696 768v-42h2v42zM698 768v-57h2v57zM700 768v-46h2v46zM702 768v-36h2v36zM704 768v-39h2v39zM706 768v-61h2v61zM708 768v-64h1v64zM710 768v-50h1v50zM711 768v-70h2v70zM713 768v-55h2v55zM715 768v-40h2v40zM717 768v-31h2v31zM719 768v-49h2v49zM721 768v-58h2v58zM723 768v-61h2v61zM725 768v-41h1v41zM727 768v-69h1v69zM728 768v-44h2v44zM730 768v-49h2v49zM732 768v-75h2v75zM734 768v-53h2v53zM736 768v-75h2v75zM738 768v-55h2v55zM740 768v-59h2v59zM742 768v-78h1v78zM744 768v-69h1v69zM745 768v-50h2v50zM747 768v-32h2v32zM749 768v-71h2v71zM751 768v-22h2v22zM753 768v-74h2v74zM755 768v-34h2v34zM757 768v-81h1v81zM759 768v-54h1v54zM761 768v-84h1v84zM762 768v-52h2v52zM764 768v-71h2v71zM766 768v-81h2v81zM768 768v-71h2v71zM770 768v-93h2v93zM772 768v-67h2v67zM774 768v-80h1v80zM776 768v-92h1v92zM778 768v-93h1v93zM779 768v-65h2v65zM781 768v-72h2v72zM783 768v-99h2v99zM785 768v-69h2v69zM787 768v-75h2v75zM789 768v-72h2v72zM791 768v-76h1v76zM793 768v-103h1v103zM795 768v-75h1v75zM796 768v-83h2v83zM798 768v-102h2v102zM800 768v-111h2v111zM802 768v-110h2v110zM804 768v-44h2v44zM806 768v-114h2v114zM808 768v-109h1v109zM810 768v-105h1v105zM812 768v-113h1v113zM813 768v-111h2v111zM815 768v-26h2v26zM817 768v-102h2v102zM819 768v-85h2v85zM821 768v-108h2v108zM823 768v-120h2v120zM825 768v-90h1v90zM827 768v-117h1v117zM829 768v-78h1v78zM830 768v-129h2v129zM832 768v-55h2v55zM834 768v-114h2v114zM836 768v-125h2v125zM838 768v-142h2v142zM840 768v-140h2v140zM842 768v-120h1v120zM844 768v-66h1v66zM845 768v-121h2v121zM847 768v-136h2v136zM849 768v-137h2v137zM851 768v-114h2v114zM853 768v-113h2v113zM855 768v-186h2v186zM857 768v-150h2v150zM859 768v-107h1v107zM861 768v-133h1v133zM862 768v-184h2v184zM864 768v-135h2v135zM866 768v-214h2v214zM868 768v-183h2v183zM870 768v-85h2v85zM872 768v-152h2v152zM874 768v-151h2v151zM876 768v-309h1v309zM878 768v-150h1v150zM879 768v-147h2v147zM881 768v-160h2v160zM883 768v-102h2v102zM885 768v-151h2v151zM887 768v-205h2v205zM889 768v-665h2v665z"/>
<path fill="#F0E442" d="M78 767v-1h1v1zM79 767v-1h2v1zM83 767v-1h2v1zM85 767v-1h2v1zM87 766v-1h2v1zM106 765v-2h1v2zM108 766v-2h1v2zM117 763v-1h2v1zM119 764v-1h2v1zM126 762v-1h2v1zM128 762v-1h2v1zM132 764v-2h2v2zM134 763v-1h2v1zM136 762v-1h2v1zM145 762v-1h2v1zM151 761v-1h2v1zM155 761v-1h1v1zM164 762v-1h2v1zM174 760v-1h1v1zM177 761v-2h2v2zM179 761v-1h2v1zM181 760v-1h2v1zM183 760v-2h2v2zM189 760v-1h1v1zM196 759v-2h2v2zM202 758v-1h2v1zM204 760v-3h2v3zM208 762v-6h1v6zM209 760v-2h2v2zM211 759v-2h2v2zM213 761v-3h2v3zM215 761v-2h2v2zM217 761v-6h2v6zM219 763v-5h2v5zM221 758v-2h2v2zM223 758v-3h1v3zM225 758v-3h1v3zM226 758v-1h2v1zM232 761v-1h2v1zM234 760v-3h2v3zM249 762v-1h2v1zM253 761v-8h2v8zM255 761v-2h1v2zM260 756v-1h2v1zM262 761v-1h2v1zM264 756v-2h2v2zM266 757v-1h2v1zM274 756v-5h1v5zM276 756v-1h1v1zM277 756v-2h2v2zM281 755v-1h2v1zM283 756v-2h2v2zM285 753v-2h2v2zM289 760v-2h1v2zM293 752v-1h1v1zM298 752v-1h2v1zM304 754v-1h2v1zM306 753v-2h1v2zM308 755v-4h1v4zM310 752v-1h1v1zM311 757v-9h2v9zM317 766v-15h2v15zM319 755v-1h2v1zM321 762v-8h2v8zM332 756v-9h2v9zM336 758v-1h2v1zM338 754v-5h2v5zM340 753v-4h1v4zM345 763v-16h2v16zM349 751v-6h2v6zM351 748v-2h2v2zM359 750v-2h1v2zM362 755v-9h2v9zM364 750v-6h2v6zM370 750v-6h2v6zM374 748v-2h1v2zM376 750v-3h1v3zM381 746v-1h2v1zM391 747v-3h1v3zM396 754v-3h2v3zM400 745v-3h2v3zM411 752v-7h2v7zM413 748v-2h2v2zM415 746v-4h2v4zM423 748v-4h1v4zM425 751v-7h1v7zM427 740v-1h1v1zM430 749v-11h2v11zM436 747v-4h2v4zM444 744v-3h1v3zM445 741v-2h2v2zM447 756v-5h2v5zM449 743v-6h2v6zM451 744v-7h2v7zM464 754v-20h2v20zM466 740v-4h2v4zM472 746v-8h2v8zM479 754v-8h2v8zM485 748v-3h2v3zM487 742v-4h2v4zM491 747v-13h1v13zM493 746v-5h1v5zM494 737v-2h2v2zM498 734v-1h2v1zM504 759v-14h2v14zM510 735v-4h1v4zM511 750v-10h2v10zM513 742v-13h2v13zM515 734v-4h2v4zM517 731v-3h2v3zM519 764v-6h2v6zM525 740v-5h1v5zM530 738v-7h2v7zM532 735v-3h2v3zM536 734v-2h2v2zM540 731v-2h1v2zM544 734v-3h1v3zM545 739v-1h2v1zM547 761v-36h2v36zM549 747v-23h2v23zM551 735v-3h2v3zM553 738v-10h2v10zM559 739v-4h1v4zM572 743v-5h2v5zM585 731v-6h2v6zM596 747v-28h2v28zM598 741v-6h2v6zM606 744v-4h2v4zM608 721v-1h1v1zM611 747v-6h2v6zM613 719v-3h2v3zM615 739v-13h2v13zM619 722v-7h2v7zM621 720v-5h2v5zM623 722v-3h1v3zM625 725v-6h1v6zM628 720v-5h2v5zM632 722v-5h2v5zM634 727v-10h2v10zM636 735v-7h2v7zM638 740v-29h2v29zM647 720v-11h2v11zM657 744v-33h1v33zM662 716v-4h2v4zM666 737v-23h2v23zM668 719v-5h2v5zM685 720v-8h2v8zM687 714v-9h2v9zM691 723v-23h1v23zM693 738v-5h1v5zM695 708v-1h1v1zM700 722v-8h2v8zM702 732v-11h2v11zM708 704v-8h1v8zM717 737v-15h2v15zM721 710v-10h2v10zM725 727v-19h1v19zM727 699v-5h1v5zM728 724v-5h2v5zM730 719v-15h2v15zM732 693v-5h2v5zM734 715v-8h2v8zM736 693v-2h2v2zM742 690v-1h1v1zM745 718v-14h2v14zM747 736v-21h2v21zM749 697v-4h2v4zM757 687v-10h1v10zM764 697v-5h2v5zM766 687v-13h2v13zM770 675v-5h2v5zM779 703v-38h2v38zM783 669v-5h2v5zM787 693v-15h2v15zM791 692v-7h1v7zM793 665v-3h1v3zM796 685v-4h2v4zM798 666v-4h2v4zM804 724v-45h2v45zM808 659v-4h1v4zM815 742v-79h2v79zM817 666v-17h2v17zM821 660v-9h2v9zM825 678v-11h1v11zM834 654v-20h2v20zM840 628v-12h2v12zM844 702v-51h1v51zM847 632v-17h2v17zM849 631v-13h2v13zM851 654v-76h2v76zM857 618v-31h2v31zM861 635v-41h1v41zM866 554v-9h2v9zM868 585v-28h2v28zM872 616v-28h2v28zM874 617v-126h2v126zM878 618v-160h1v160zM883 666v-81h2v81z"/>
<path fill="#0072B2" d="M81 767v-1h2v1zM85 766v-1h2v1zM91 766v-1h1v1zM94 765v-1h2v1zM96 765v-1h2v1zM98 765v-1h2v1zM100 765v-1h2v1zM104 764v-1h1v1zM108 764v-1h1v1zM109 764v-1h2v1zM111 764v-1h2v1zM113 765v-3h2v3zM115 763v-1h2v1zM119 763v-1h2v1zM121 763v-1h1v1zM125 762v-1h1v1zM130 762v-1h2v1zM132 762v-1h2v1zM134 762v-1h2v1zM138 764v-4h1v4zM140 765v-5h1v5zM142 761v-1h1v1zM143 762v-2h2v2zM145 761v-1h2v1zM147 761v-1h2v1zM149 764v-4h2v4zM151 760v-1h2v1zM153 760v-1h2v1zM155 760v-1h1v1zM157 762v-3h1v3zM159 761v-2h1v2zM160 764v-5h2v5zM162 765v-6h2v6zM164 761v-2h2v2zM166 760v-2h2v2zM168 759v-1h2v1zM170 764v-6h2v6zM172 761v-3h1v3zM174 759v-1h1v1zM176 760v-2h1v2zM177 759v-1h2v1zM179 760v-2h2v2zM181 759v-1h2v1zM183 758v-1h2v1zM185 760v-3h2v3zM187 762v-5h2v5zM189 759v-2h1v2zM191 758v-1h1v1zM194 759v-2h2v2zM198 764v-7h2v7zM200 759v-3h2v3zM202 757v-1h2v1zM204 757v-1h2v1zM206 759v-3h1v3zM209 758v-2h2v2zM211 757v-1h2v1zM213 758v-2h2v2zM215 759v-3h2v3zM219 758v-3h2v3zM221 756v-1h2v1zM226 757v-2h2v2zM228 758v-3h2v3zM232 760v-6h2v6zM234 757v-3h2v3zM236 761v-7h2v7zM238 756v-2h1v2zM240 755v-1h1v1zM242 756v-2h1v2zM243 761v-7h2v7zM245 761v-8h2v8zM247 760v-7h2v7zM249 761v-8h2v8zM251 757v-4h2v4zM255 759v-6h1v6zM257 757v-4h1v4zM259 756v-4h1v4zM260 755v-3h2v3zM262 760v-8h2v8zM264 754v-2h2v2zM266 756v-4h2v4zM270 755v-4h2v4zM272 758v-7h1v7zM276 755v-4h1v4zM277 754v-3h2v3zM279 759v-8h2v8zM281 754v-3h2v3zM283 754v-4h2v4zM285 751v-1h2v1zM287 756v-6h2v6zM289 758v-8h1v8zM291 756v-6h1v6zM293 751v-1h1v1zM294 755v-6h2v6zM296 755v-6h2v6zM298 751v-2h2v2zM300 751v-2h2v2zM302 750v-1h2v1zM304 753v-4h2v4zM306 751v-2h1v2zM308 751v-3h1v3zM310 751v-3h1v3zM313 755v-7h2v7zM315 750v-2h2v2zM317 751v-3h2v3zM319 754v-7h2v7zM321 754v-7h2v7zM323 751v-4h1v4zM325 756v-9h1v9zM326 755v-8h2v8zM328 752v-5h2v5zM330 753v-6h2v6zM334 748v-2h2v2zM336 757v-11h2v11zM338 749v-3h2v3zM340 749v-3h1v3zM342 750v-4h1v4zM343 755v-9h2v9zM345 747v-1h2v1zM347 750v-5h2v5zM351 746v-1h2v1zM353 750v-5h2v5zM355 749v-4h2v4zM357 752v-7h1v7zM359 748v-3h1v3zM360 755v-11h2v11zM362 746v-2h2v2zM366 746v-2h2v2zM368 754v-10h2v10zM372 747v-3h1v3zM374 746v-3h1v3zM376 747v-4h1v4zM377 754v-11h2v11zM379 757v-14h2v14zM381 745v-2h2v2zM383 752v-9h2v9zM385 746v-3h2v3zM387 750v-7h2v7zM389 745v-3h1v3zM391 744v-2h1v2zM393 750v-8h1v8zM394 752v-10h2v10zM396 751v-9h2v9zM398 744v-2h2v2zM402 751v-10h2v10zM404 752v-11h2v11zM406 749v-8h1v8zM408 749v-8h1v8zM410 755v-15h1v15zM411 745v-5h2v5zM413 746v-6h2v6zM415 742v-2h2v2zM417 746v-7h2v7zM419 747v-8h2v8zM421 749v-10h2v10zM423 744v-5h1v5zM425 744v-6h1v6zM427 739v-1h1v1zM428 743v-5h2v5zM432 744v-7h2v7zM434 752v-15h2v15zM436 743v-6h2v6zM438 745v-8h2v8zM440 753v-17h1v17zM442 747v-11h1v11zM444 741v-5h1v5zM445 739v-3h2v3zM447 751v-15h2v15zM449 737v-1h2v1zM451 737v-2h2v2zM453 747v-12h2v12zM455 756v-21h2v21zM457 738v-3h1v3zM459 747v-12h1v12zM460 744v-10h2v10zM462 752v-18h2v18zM466 736v-2h2v2zM468 752v-18h2v18zM470 743v-9h2v9zM472 738v-5h2v5zM474 736v-3h1v3zM476 749v-16h1v16zM477 756v-23h2v23zM479 746v-13h2v13zM481 742v-10h2v10zM483 739v-7h2v7zM485 745v-13h2v13zM487 738v-6h2v6zM489 744v-12h2v12zM491 734v-3h1v3zM493 741v-10h1v10zM494 735v-4h2v4zM496 741v-10h2v10zM498 733v-3h2v3zM500 732v-2h2v2zM502 737v-7h2v7zM504 745v-15h2v15zM506 739v-9h1v9zM508 737v-8h1v8zM510 731v-2h1v2zM511 740v-11h2v11zM515 730v-2h2v2zM519 758v-30h2v30zM521 742v-14h2v14zM523 738v-10h1v10zM525 735v-8h1v8zM527 753v-26h1v26zM528 734v-7h2v7zM530 731v-4h2v4zM532 732v-6h2v6zM534 748v-22h2v22zM536 732v-6h2v6zM538 733v-7h2v7zM540 729v-3h1v3zM542 738v-13h1v13zM544 731v-6h1v6zM545 738v-13h2v13zM551 732v-8h2v8zM553 728v-4h2v4zM555 746v-22h2v22zM557 726v-2h1v2zM559 735v-12h1v12zM561 741v-18h1v18zM562 740v-17h2v17zM564 742v-19h2v19zM566 726v-4h2v4zM568 747v-25h2v25zM570 742v-20h2v20zM572 738v-16h2v16zM574 736v-15h1v15zM576 728v-7h1v7zM578 743v-22h1v22zM579 743v-22h2v22zM581 744v-24h2v24zM583 735v-15h2v15zM585 725v-5h2v5zM587 741v-21h2v21zM589 742v-22h2v22zM591 726v-7h1v7zM593 739v-20h1v20zM594 724v-5h2v5zM598 735v-17h2v17zM600 725v-7h2v7zM602 745v-27h2v27zM604 722v-4h2v4zM606 740v-23h2v23zM608 720v-3h1v3zM610 729v-13h1v13zM611 741v-25h2v25zM615 726v-11h2v11zM617 759v-44h2v44zM621 715v-1h2v1zM623 719v-5h1v5zM625 719v-6h1v6zM627 738v-25h1v25zM628 715v-2h2v2zM630 732v-20h2v20zM632 717v-5h2v5zM634 717v-5h2v5zM636 728v-17h2v17zM640 727v-16h1v16zM642 718v-8h1v8zM644 721v-11h1v11zM645 719v-10h2v10zM649 726v-17h2v17zM651 730v-22h2v22zM653 718v-10h2v10zM655 750v-42h2v42zM657 711v-4h1v4zM659 719v-12h1v12zM661 731v-24h1v24zM662 712v-6h2v6zM664 715v-9h2v9zM666 714v-8h2v8zM668 714v-9h2v9zM670 714v-9h2v9zM672 724v-19h2v19zM674 730v-26h1v26zM676 727v-23h1v23zM678 728v-24h1v24zM679 751v-48h2v48zM681 713v-10h2v10zM683 733v-30h2v30zM685 712v-10h2v10zM687 705v-3h2v3zM689 732v-31h2v31zM693 733v-33h1v33zM695 707v-8h1v8zM696 726v-28h2v28zM698 711v-13h2v13zM700 714v-17h2v17zM702 721v-25h2v25zM704 729v-33h2v33zM706 707v-12h2v12zM708 696v-2h1v2zM710 718v-24h1v24zM711 698v-5h2v5zM713 713v-21h2v21zM715 728v-36h2v36zM717 722v-31h2v31zM719 719v-28h2v28zM721 700v-10h2v10zM723 707v-18h2v18zM725 708v-19h1v19zM727 694v-6h1v6zM728 719v-31h2v31zM730 704v-17h2v17zM732 688v-2h2v2zM734 707v-21h2v21zM736 691v-6h2v6zM738 713v-28h2v28zM740 709v-25h2v25zM742 689v-5h1v5zM744 699v-16h1v16zM745 704v-22h2v22zM747 715v-34h2v34zM749 693v-13h2v13zM751 746v-66h2v66zM753 694v-15h2v15zM755 734v-56h2v56zM759 714v-38h1v38zM761 684v-9h1v9zM762 716v-42h2v42zM764 692v-19h2v19zM766 674v-2h2v2zM768 697v-26h2v26zM772 701v-32h2v32zM774 688v-20h1v20zM776 676v-9h1v9zM778 675v-9h1v9zM781 696v-31h2v31zM785 699v-36h2v36zM787 678v-16h2v16zM789 696v-35h2v35zM791 685v-25h1v25zM793 662v-4h1v4zM795 693v-37h1v37zM796 681v-26h2v26zM798 662v-9h2v9zM800 657v-6h2v6zM802 658v-9h2v9zM804 679v-32h2v32zM806 654v-9h2v9zM808 655v-11h1v11zM810 663v-21h1v21zM812 655v-15h1v15zM813 657v-18h2v18zM815 663v-26h2v26zM817 649v-13h2v13zM819 683v-49h2v49zM821 651v-18h2v18zM823 648v-17h2v17zM825 667v-38h1v38zM827 651v-25h1v25zM829 690v-67h1v67zM830 639v-19h2v19zM832 713v-97h2v97zM834 634v-21h2v21zM836 643v-34h2v34zM838 626v-21h2v21zM840 616v-15h2v15zM842 648v-51h1v51zM844 651v-57h1v57zM845 647v-57h2v57zM847 615v-29h2v29zM849 618v-36h2v36zM853 655v-80h2v80zM855 582v-11h2v11zM857 587v-20h2v20zM859 661v-97h1v97zM861 594v-33h1v33zM862 584v-26h2v26zM864 633v-78h2v78zM866 545v-6h2v6zM868 557v-34h2v34zM870 683v-175h2v175zM872 588v-96h2v96zM874 491v-24h2v24zM876 459v-16h1v16zM878 458v-46h1v46zM879 621v-238h2v238zM881 608v-238h2v238zM883 585v-223h2v223zM885 617v-386h2v386zM887 563v-460h2v460z"/>
</g></g>
<path d="M78.9 683.6H891" stroke="#000" stroke-width="2.3" stroke-dasharray="4.1 4 12 3.9" stroke-dashoffset="1" fill="none"/>
<path d="M78.9 739.3H891" stroke="#000" stroke-width="2.2" stroke-dasharray="7.8 8.2" stroke-dashoffset="1.3" fill="none"/>
<path d="M420.1 767.5V102.6" stroke="#6e6e6e" stroke-width="3" stroke-dasharray="12.1 11.83" fill="none"/>
<path d="M743.5 767.5V102.6" stroke="#6e6e6e" stroke-width="3" stroke-dasharray="5.65 6.35 17.5 6.35" fill="none"/>
<g font-size="17.5" stroke="#000" stroke-width=".5"><text x="97" y="684.2">Living income</text><text x="86.9" y="736.8">Extreme poverty line</text></g>
<text x="126.9" y="151.3" font-size="20.2" stroke="#000" stroke-width=".6">n= 432</text>
<path d="M78.9 102.6V767.5H890.1" stroke="#000" stroke-width="2.2" fill="none" stroke-linecap="square"/>
<path d="M78.9 767.5h-5.8M78.9 634.5h-5.8M78.9 501.5h-5.8M78.9 368.6h-5.8M78.9 235.6h-5.8M78.9 102.6h-5.8M159.1 767.5v5.8M240.4 767.5v5.8M321.6 767.5v5.8M402.8 767.5v5.8M484 767.5v5.8M565.2 767.5v5.8M646.5 767.5v5.8M727.7 767.5v5.8M808.9 767.5v5.8M890.1 767.5v5.8" stroke="#000" stroke-width="2.1" fill="none"/>
<g font-size="18" fill="#2e2e2e" stroke="#2e2e2e" stroke-width=".22"><g text-anchor="end"><text x="67.7" y="774.6">0</text><text x="67.7" y="641.6">10</text><text x="67.7" y="508.6">20</text><text x="67.7" y="375.7">30</text><text x="67.7" y="242.7">40</text><text x="67.7" y="109.7">50</text></g><g text-anchor="middle"><text x="159.1" y="792.3">10</text><text x="240.4" y="792.3">20</text><text x="321.6" y="792.3">30</text><text x="402.8" y="792.3">40</text><text x="484" y="792.3">50</text><text x="565.2" y="792.3">60</text><text x="646.5" y="792.3">70</text><text x="727.7" y="792.3">80</text><text x="808.9" y="792.3">90</text><text x="890.1" y="792.3">100</text></g></g>
</g>
<g clip-path="url(#cr)">
<text x="945.8" y="85.9" font-size="27.2">Ghana - KIT</text>
<g shape-rendering="crispEdges">
<path fill="#D55E00" d="M945 768v-1h1v1zM946 768v-3h1v3zM947 768v-2h1v2zM948 768v-3h1v3zM949 768v-3h1v3zM950 768v-4h1v4zM951 768v-3h1v3zM953 768v-4h1v4zM954 768v-4h1v4zM955 768v-3h1v3zM956 768v-4h1v4zM958 768v-4h1v4zM959 768v-3h1v3zM960 768v-4h1v4zM961 768v-4h1v4zM962 768v-4h1v4zM963 768v-5h1v5zM964 768v-3h1v3zM965 768v-5h1v5zM966 768v-4h1v4zM967 768v-1h1v1zM968 768v-5h1v5zM969 768v-4h1v4zM970 768v-2h1v2zM972 768v-4h1v4zM973 768v-5h1v5zM974 768v-6h1v6zM975 768v-6h1v6zM977 768v-6h1v6zM978 768v-6h1v6zM979 768v-3h1v3zM980 768v-6h1v6zM981 768v-5h1v5zM982 768v-8h1v8zM983 768v-3h1v3zM984 768v-3h1v3zM985 768v-6h1v6zM986 768v-4h1v4zM987 768v-6h1v6zM988 768v-7h1v7zM989 768v-7h1v7zM991 768v-4h1v4zM992 768v-4h1v4zM993 768v-6h1v6zM994 768v-7h1v7zM996 768v-5h1v5zM997 768v-7h1v7zM998 768v-5h1v5zM999 768v-7h1v7zM1000 768v-5h1v5zM1001 768v-5h1v5zM1002 768v-6h1v6zM1003 768v-6h1v6zM1004 768v-6h1v6zM1005 768v-6h1v6zM1006 768v-8h1v8zM1007 768v-7h1v7zM1008 768v-8h1v8zM1010 768v-3h1v3zM1011 768v-9h1v9zM1012 768v-3h1v3zM1013 768v-6h1v6zM1015 768v-6h1v6zM1016 768v-8h1v8zM1017 768v-7h1v7zM1018 768v-5h1v5zM1019 768v-8h1v8zM1020 768v-7h1v7zM1021 768v-7h1v7zM1022 768v-8h1v8zM1023 768v-5h1v5zM1024 768v-7h1v7zM1025 768v-10h1v10zM1026 768v-4h1v4zM1027 768v-7h1v7zM1029 768v-10h1v10zM1030 768v-4h1v4zM1031 768v-10h1v10zM1032 768v-7h1v7zM1034 768v-11h1v11zM1035 768v-10h1v10zM1036 768v-11h1v11zM1037 768v-12h1v12zM1038 768v-10h1v10zM1039 768v-8h1v8zM1040 768v-13h1v13zM1041 768v-8h1v8zM1042 768v-11h1v11zM1043 768v-13h1v13zM1044 768v-8h1v8zM1045 768v-4h1v4zM1046 768v-12h1v12zM1048 768v-9h1v9zM1049 768v-11h1v11zM1050 768v-3h1v3zM1051 768v-7h1v7zM1053 768v-12h1v12zM1054 768v-9h1v9zM1055 768v-12h1v12zM1056 768v-10h1v10zM1057 768v-12h1v12zM1058 768v-8h1v8zM1059 768v-10h1v10zM1060 768v-13h1v13zM1061 768v-12h1v12zM1062 768v-9h1v9zM1063 768v-9h1v9zM1064 768v-8h1v8zM1065 768v-14h1v14zM1067 768v-9h1v9zM1068 768v-8h1v8zM1069 768v-9h1v9zM1070 768v-12h1v12zM1072 768v-10h1v10zM1073 768v-6h1v6zM1074 768v-13h1v13zM1075 768v-9h1v9zM1076 768v-13h1v13zM1077 768v-4h1v4zM1078 768v-11h1v11zM1079 768v-13h1v13zM1080 768v-7h1v7zM1081 768v-7h1v7zM1082 768v-18h1v18zM1083 768v-12h1v12zM1084 768v-11h1v11zM1086 768v-16h1v16zM1087 768v-4h1v4zM1088 768v-11h1v11zM1089 768v-10h1v10zM1091 768v-9h1v9zM1092 768v-14h1v14zM1093 768v-13h1v13zM1094 768v-12h1v12zM1095 768v-14h1v14zM1096 768v-8h1v8zM1097 768v-15h1v15zM1098 768v-10h1v10zM1099 768v-11h1v11zM1100 768v-13h1v13zM1101 768v-11h1v11zM1102 768v-11h1v11zM1103 768v-14h1v14zM1105 768v-14h1v14zM1106 768v-18h1v18zM1107 768v-11h1v11zM1108 768v-9h1v9zM1110 768v-9h1v9zM1111 768v-5h1v5zM1112 768v-12h1v12zM1113 768v-17h1v17zM1114 768v-10h1v10zM1115 768v-13h1v13zM1116 768v-9h1v9zM1117 768v-8h1v8zM1118 768v-14h1v14zM1119 768v-18h1v18zM1120 768v-6h1v6zM1121 768v-5h1v5zM1122 768v-12h1v12zM1124 768v-17h1v17zM1125 768v-7h1v7zM1126 768v-10h1v10zM1127 768v-7h1v7zM1129 768v-7h1v7zM1130 768v-16h1v16zM1131 768v-17h1v17zM1132 768v-16h1v16zM1133 768v-15h1v15zM1134 768v-14h1v14zM1135 768v-12h1v12zM1136 768v-17h1v17zM1137 768v-11h1v11zM1138 768v-13h1v13zM1139 768v-8h1v8zM1140 768v-18h1v18zM1141 768v-14h1v14zM1143 768v-22h1v22zM1144 768v-11h1v11zM1145 768v-17h1v17zM1146 768v-14h1v14zM1148 768v-17h1v17zM1149 768v-15h1v15zM1150 768v-16h1v16zM1151 768v-13h1v13zM1152 768v-17h1v17zM1153 768v-18h1v18zM1154 768v-16h1v16zM1155 768v-7h1v7zM1156 768v-16h1v16zM1157 768v-13h1v13zM1158 768v-19h1v19zM1159 768v-20h1v20zM1160 768v-18h1v18zM1162 768v-22h1v22zM1163 768v-19h1v19zM1164 768v-5h1v5zM1165 768v-14h1v14zM1167 768v-10h1v10zM1168 768v-12h1v12zM1169 768v-20h1v20zM1170 768v-17h1v17zM1171 768v-19h1v19zM1172 768v-14h1v14zM1173 768v-7h1v7zM1174 768v-10h1v10zM1175 768v-20h1v20zM1176 768v-20h1v20zM1177 768v-12h1v12zM1178 768v-8h1v8zM1179 768v-13h1v13zM1181 768v-12h1v12zM1182 768v-24h1v24zM1183 768v-7h1v7zM1184 768v-15h1v15zM1186 768v-14h1v14zM1187 768v-25h1v25zM1188 768v-16h1v16zM1189 768v-14h1v14zM1190 768v-21h1v21zM1191 768v-15h1v15zM1192 768v-16h1v16zM1193 768v-16h1v16zM1194 768v-23h1v23zM1195 768v-18h1v18zM1196 768v-25h1v25zM1197 768v-26h1v26zM1198 768v-17h1v17zM1200 768v-15h1v15zM1201 768v-7h1v7zM1202 768v-25h1v25zM1203 768v-22h1v22zM1205 768v-24h1v24zM1206 768v-21h1v21zM1207 768v-5h1v5zM1208 768v-20h1v20zM1209 768v-24h1v24zM1210 768v-26h1v26zM1211 768v-22h1v22zM1212 768v-23h1v23zM1213 768v-13h1v13zM1214 768v-17h1v17zM1215 768v-20h1v20zM1216 768v-18h1v18zM1217 768v-27h1v27zM1219 768v-18h1v18zM1220 768v-29h1v29zM1221 768v-16h1v16zM1222 768v-16h1v16zM1224 768v-8h1v8zM1225 768v-28h1v28zM1226 768v-19h1v19zM1227 768v-18h1v18zM1228 768v-23h1v23zM1229 768v-20h1v20zM1230 768v-31h1v31zM1231 768v-27h1v27zM1232 768v-24h1v24zM1233 768v-14h1v14zM1234 768v-15h1v15zM1235 768v-20h1v20zM1236 768v-23h1v23zM1238 768v-17h1v17zM1239 768v-26h1v26zM1240 768v-22h1v22zM1241 768v-5h1v5zM1243 768v-22h1v22zM1244 768v-22h1v22zM1245 768v-27h1v27zM1246 768v-31h1v31zM1247 768v-30h1v30zM1248 768v-13h1v13zM1249 768v-14h1v14zM1250 768v-9h1v9zM1251 768v-11h1v11zM1252 768v-10h1v10zM1253 768v-18h1v18zM1254 768v-17h1v17zM1255 768v-17h1v17zM1257 768v-15h1v15zM1258 768v-20h1v20zM1259 768v-25h1v25zM1260 768v-20h1v20zM1262 768v-31h1v31zM1263 768v-31h1v31zM1264 768v-31h1v31zM1265 768v-25h1v25zM1266 768v-22h1v22zM1267 768v-20h1v20zM1268 768v-12h1v12zM1269 768v-29h1v29zM1270 768v-33h1v33zM1271 768v-14h1v14zM1272 768v-25h1v25zM1273 768v-16h1v16zM1274 768v-12h1v12zM1276 768v-22h1v22zM1277 768v-34h1v34zM1278 768v-15h1v15zM1279 768v-21h1v21zM1281 768v-10h1v10zM1282 768v-17h1v17zM1283 768v-18h1v18zM1284 768v-24h1v24zM1285 768v-35h1v35zM1286 768v-2h1v2zM1287 768v-33h1v33zM1288 768v-21h1v21zM1289 768v-20h1v20zM1290 768v-27h1v27zM1291 768v-26h1v26zM1292 768v-28h1v28zM1293 768v-23h1v23zM1295 768v-32h1v32zM1296 768v-10h1v10zM1297 768v-17h1v17zM1298 768v-32h1v32zM1300 768v-9h1v9zM1301 768v-31h1v31zM1302 768v-35h1v35zM1303 768v-16h1v16zM1304 768v-27h1v27zM1305 768v-39h1v39zM1306 768v-23h1v23zM1307 768v-16h1v16zM1308 768v-17h1v17zM1309 768v-35h1v35zM1310 768v-28h1v28zM1311 768v-19h1v19zM1312 768v-21h1v21zM1314 768v-28h1v28zM1315 768v-23h1v23zM1316 768v-34h1v34zM1317 768v-20h1v20zM1319 768v-20h1v20zM1320 768v-18h1v18zM1321 768v-29h1v29zM1322 768v-29h1v29zM1323 768v-28h1v28zM1324 768v-29h1v29zM1325 768v-28h1v28zM1326 768v-29h1v29zM1327 768v-5h1v5zM1328 768v-34h1v34zM1329 768v-33h1v33zM1330 768v-28h1v28zM1331 768v-24h1v24zM1333 768v-29h1v29zM1334 768v-12h1v12zM1335 768v-17h1v17zM1336 768v-9h1v9zM1338 768v-34h1v34zM1339 768v-23h1v23zM1340 768v-31h1v31zM1341 768v-20h1v20zM1342 768v-16h1v16zM1343 768v-20h1v20zM1344 768v-41h1v41zM1345 768v-30h1v30zM1346 768v-11h1v11zM1347 768v-19h1v19zM1348 768v-37h1v37zM1349 768v-13h1v13zM1350 768v-28h1v28zM1352 768v-34h1v34zM1353 768v-33h1v33zM1354 768v-36h1v36zM1355 768v-32h1v32zM1357 768v-17h1v17zM1358 768v-34h1v34zM1359 768v-23h1v23zM1360 768v-36h1v36zM1361 768v-14h1v14zM1362 768v-33h1v33zM1363 768v-36h1v36zM1364 768v-38h1v38zM1365 768v-42h1v42zM1366 768v-27h1v27zM1367 768v-37h1v37zM1368 768v-23h1v23zM1369 768v-21h1v21zM1371 768v-34h1v34zM1372 768v-33h1v33zM1373 768v-25h1v25zM1374 768v-33h1v33zM1376 768v-24h1v24zM1377 768v-33h1v33zM1378 768v-27h1v27zM1379 768v-40h1v40zM1380 768v-37h1v37zM1381 768v-18h1v18zM1382 768v-37h1v37zM1383 768v-13h1v13zM1384 768v-24h1v24zM1385 768v-47h1v47zM1386 768v-35h1v35zM1387 768v-39h1v39zM1388 768v-34h1v34zM1390 768v-38h1v38zM1391 768v-40h1v40zM1392 768v-18h1v18zM1393 768v-27h1v27zM1395 768v-37h1v37zM1396 768v-31h1v31zM1397 768v-16h1v16zM1398 768v-42h1v42zM1399 768v-16h1v16zM1400 768v-31h1v31zM1401 768v-18h1v18zM1402 768v-15h1v15zM1403 768v-24h1v24zM1404 768v-44h1v44zM1405 768v-35h1v35zM1406 768v-29h1v29zM1407 768v-26h1v26zM1409 768v-13h1v13zM1410 768v-25h1v25zM1411 768v-30h1v30zM1412 768v-34h1v34zM1414 768v-39h1v39zM1415 768v-27h1v27zM1416 768v-40h1v40zM1417 768v-47h1v47zM1418 768v-48h1v48zM1419 768v-42h1v42zM1420 768v-11h1v11zM1421 768v-27h1v27zM1422 768v-16h1v16zM1423 768v-34h1v34zM1424 768v-53h1v53zM1425 768v-38h1v38zM1426 768v-39h1v39zM1428 768v-22h1v22zM1429 768v-33h1v33zM1430 768v-41h1v41zM1431 768v-44h1v44zM1433 768v-34h1v34zM1434 768v-42h1v42zM1435 768v-25h1v25zM1436 768v-38h1v38zM1437 768v-33h1v33zM1438 768v-40h1v40zM1439 768v-51h1v51zM1440 768v-25h1v25zM1441 768v-55h1v55zM1442 768v-23h1v23zM1443 768v-12h1v12zM1444 768v-15h1v15zM1445 768v-28h1v28zM1447 768v-22h1v22zM1448 768v-22h1v22zM1449 768v-26h1v26zM1450 768v-30h1v30zM1452 768v-22h1v22zM1453 768v-43h1v43zM1454 768v-46h1v46zM1455 768v-16h1v16zM1456 768v-53h1v53zM1457 768v-45h1v45zM1458 768v-29h1v29zM1459 768v-29h1v29zM1460 768v-24h1v24zM1461 768v-28h1v28zM1462 768v-50h1v50zM1463 768v-42h1v42zM1464 768v-50h1v50zM1466 768v-37h1v37zM1467 768v-39h1v39zM1468 768v-45h1v45zM1469 768v-32h1v32zM1471 768v-53h1v53zM1472 768v-56h1v56zM1473 768v-36h1v36zM1474 768v-30h1v30zM1475 768v-15h1v15zM1476 768v-43h1v43zM1477 768v-32h1v32zM1478 768v-58h1v58zM1479 768v-31h1v31zM1480 768v-17h1v17zM1481 768v-26h1v26zM1482 768v-42h1v42zM1483 768v-27h1v27zM1485 768v-50h1v50zM1486 768v-42h1v42zM1487 768v-37h1v37zM1488 768v-46h1v46zM1490 768v-30h1v30zM1491 768v-42h1v42zM1492 768v-35h1v35zM1493 768v-26h1v26zM1494 768v-22h1v22zM1495 768v-58h1v58zM1496 768v-24h1v24zM1497 768v-31h1v31zM1498 768v-29h1v29zM1499 768v-58h1v58zM1500 768v-55h1v55zM1501 768v-22h1v22zM1502 768v-28h1v28zM1504 768v-21h1v21zM1505 768v-45h1v45zM1506 768v-52h1v52zM1507 768v-47h1v47zM1509 768v-58h1v58zM1510 768v-56h1v56zM1511 768v-35h1v35zM1512 768v-33h1v33zM1513 768v-20h1v20zM1514 768v-52h1v52zM1515 768v-34h1v34zM1516 768v-27h1v27zM1517 768v-47h1v47zM1518 768v-29h1v29zM1519 768v-23h1v23zM1520 768v-52h1v52zM1521 768v-64h1v64zM1523 768v-18h1v18zM1524 768v-60h1v60zM1525 768v-57h1v57zM1526 768v-38h1v38zM1528 768v-18h1v18zM1529 768v-21h1v21zM1530 768v-53h1v53zM1531 768v-67h1v67zM1532 768v-53h1v53zM1533 768v-15h1v15zM1534 768v-33h1v33zM1535 768v-43h1v43zM1536 768v-45h1v45zM1537 768v-40h1v40zM1538 768v-64h1v64zM1539 768v-45h1v45zM1540 768v-32h1v32zM1542 768v-49h1v49zM1543 768v-75h1v75zM1544 768v-29h1v29zM1545 768v-43h1v43zM1547 768v-58h1v58zM1548 768v-52h1v52zM1549 768v-30h1v30zM1550 768v-41h1v41zM1551 768v-69h1v69zM1552 768v-26h1v26zM1553 768v-36h1v36zM1554 768v-57h1v57zM1555 768v-34h1v34zM1556 768v-66h1v66zM1557 768v-79h1v79zM1558 768v-10h1v10zM1559 768v-42h1v42zM1561 768v-83h1v83zM1562 768v-24h1v24zM1563 768v-35h1v35zM1564 768v-80h1v80zM1566 768v-51h1v51zM1567 768v-48h1v48zM1568 768v-32h1v32zM1569 768v-41h1v41zM1570 768v-75h1v75zM1571 768v-58h1v58zM1572 768v-67h1v67zM1573 768v-76h1v76zM1574 768v-68h1v68zM1575 768v-39h1v39zM1576 768v-38h1v38zM1577 768v-63h1v63zM1578 768v-75h1v75zM1580 768v-35h1v35zM1581 768v-23h1v23zM1582 768v-65h1v65zM1583 768v-69h1v69zM1585 768v-46h1v46zM1586 768v-41h1v41zM1587 768v-58h1v58zM1588 768v-36h1v36zM1589 768v-54h1v54zM1590 768v-81h1v81zM1591 768v-57h1v57zM1592 768v-83h1v83zM1593 768v-79h1v79zM1594 768v-49h1v49zM1595 768v-66h1v66zM1596 768v-66h1v66zM1597 768v-46h1v46zM1599 768v-72h1v72zM1600 768v-45h1v45zM1601 768v-55h1v55zM1602 768v-69h1v69zM1604 768v-76h1v76zM1605 768v-41h1v41zM1606 768v-63h1v63zM1607 768v-85h1v85zM1608 768v-53h1v53zM1609 768v-70h1v70zM1610 768v-53h1v53zM1611 768v-80h1v80zM1612 768v-92h1v92zM1613 768v-60h1v60zM1614 768v-71h1v71zM1615 768v-54h1v54zM1616 768v-45h1v45zM1618 768v-61h1v61zM1619 768v-61h1v61zM1620 768v-73h1v73zM1621 768v-59h1v59zM1623 768v-86h1v86zM1624 768v-57h1v57zM1625 768v-53h1v53zM1626 768v-27h1v27zM1627 768v-74h1v74zM1628 768v-59h1v59zM1629 768v-83h1v83zM1630 768v-48h1v48zM1631 768v-73h1v73zM1632 768v-83h1v83zM1633 768v-55h1v55zM1634 768v-71h1v71zM1635 768v-56h1v56zM1637 768v-29h1v29zM1638 768v-115h1v115zM1639 768v-29h1v29zM1640 768v-43h1v43zM1642 768v-66h1v66zM1643 768v-67h1v67zM1644 768v-70h1v70zM1645 768v-72h1v72zM1646 768v-88h1v88zM1647 768v-78h1v78zM1648 768v-97h1v97zM1649 768v-32h1v32zM1650 768v-74h1v74zM1651 768v-94h1v94zM1652 768v-31h1v31zM1653 768v-105h1v105zM1654 768v-74h1v74zM1656 768v-113h1v113zM1657 768v-84h1v84zM1658 768v-64h1v64zM1659 768v-124h1v124zM1661 768v-118h1v118zM1662 768v-96h1v96zM1663 768v-66h1v66zM1664 768v-52h1v52zM1665 768v-67h1v67zM1666 768v-113h1v113zM1667 768v-31h1v31zM1668 768v-79h1v79zM1669 768v-56h1v56zM1670 768v-93h1v93zM1671 768v-80h1v80zM1672 768v-90h1v90zM1673 768v-44h1v44zM1675 768v-121h1v121zM1676 768v-99h1v99zM1677 768v-105h1v105zM1678 768v-99h1v99zM1680 768v-80h1v80zM1681 768v-59h1v59zM1682 768v-114h1v114zM1683 768v-131h1v131zM1684 768v-58h1v58zM1685 768v-92h1v92zM1686 768v-107h1v107zM1687 768v-124h1v124zM1688 768v-85h1v85zM1689 768v-42h1v42zM1690 768v-67h1v67zM1691 768v-108h1v108zM1692 768v-97h1v97zM1694 768v-132h1v132zM1695 768v-31h1v31zM1696 768v-68h1v68zM1697 768v-131h1v131zM1699 768v-153h1v153zM1700 768v-136h1v136zM1701 768v-130h1v130zM1702 768v-61h1v61zM1703 768v-87h1v87zM1704 768v-59h1v59zM1705 768v-66h1v66zM1706 768v-96h1v96zM1707 768v-77h1v77zM1708 768v-85h1v85zM1709 768v-158h1v158zM1710 768v-88h1v88zM1711 768v-178h1v178zM1713 768v-66h1v66zM1714 768v-140h1v140zM1715 768v-55h1v55zM1716 768v-167h1v167zM1718 768v-157h1v157zM1719 768v-190h1v190zM1720 768v-154h1v154zM1721 768v-167h1v167zM1722 768v-170h1v170zM1723 768v-110h1v110zM1724 768v-140h1v140zM1725 768v-176h1v176zM1726 768v-127h1v127zM1727 768v-175h1v175zM1728 768v-146h1v146zM1729 768v-144h1v144zM1730 768v-168h1v168zM1732 768v-172h1v172zM1733 768v-152h1v152zM1734 768v-232h1v232zM1735 768v-247h1v247zM1737 768v-127h1v127zM1738 768v-149h1v149zM1739 768v-193h1v193zM1740 768v-220h1v220zM1741 768v-225h1v225zM1742 768v-226h1v226zM1743 768v-82h1v82zM1744 768v-298h1v298zM1745 768v-214h1v214zM1746 768v-245h1v245zM1747 768v-268h1v268zM1748 768v-401h1v401zM1749 768v-74h1v74zM1751 768v-311h1v311zM1752 768v-370h1v370zM1753 768v-323h1v323zM1754 768v-527h1v527zM1756 768v-429h1v429z"/>
<path fill="#F0E442" d="M945 767v-2h1v2zM947 766v-1h1v1zM949 765v-1h1v1zM953 764v-1h1v1zM954 764v-1h1v1zM956 764v-1h1v1zM958 764v-1h1v1zM959 765v-1h1v1zM960 764v-2h1v2zM962 764v-1h1v1zM963 763v-1h1v1zM964 765v-2h1v2zM965 763v-1h1v1zM966 764v-1h1v1zM967 767v-3h1v3zM968 763v-1h1v1zM969 764v-3h1v3zM970 766v-3h1v3zM972 764v-1h1v1zM973 763v-2h1v2zM978 762v-1h1v1zM979 765v-1h1v1zM980 762v-2h1v2zM981 763v-1h1v1zM984 765v-5h1v5zM985 762v-1h1v1zM987 762v-2h1v2zM988 761v-1h1v1zM989 761v-1h1v1zM991 764v-3h1v3zM992 764v-4h1v4zM994 761v-2h1v2zM996 763v-4h1v4zM997 761v-1h1v1zM998 763v-2h1v2zM999 761v-1h1v1zM1000 763v-1h1v1zM1001 763v-4h1v4zM1003 762v-1h1v1zM1004 762v-2h1v2zM1005 762v-2h1v2zM1006 760v-1h1v1zM1007 761v-2h1v2zM1008 760v-1h1v1zM1012 765v-7h1v7zM1013 762v-3h1v3zM1015 762v-1h1v1zM1017 761v-3h1v3zM1019 760v-2h1v2zM1020 761v-4h1v4zM1021 761v-1h1v1zM1022 760v-1h1v1zM1024 761v-5h1v5zM1026 764v-2h1v2zM1027 761v-4h1v4zM1030 764v-1h1v1zM1031 758v-1h1v1zM1032 761v-5h1v5zM1034 757v-2h1v2zM1035 758v-1h1v1zM1036 757v-1h1v1zM1038 758v-1h1v1zM1039 760v-1h1v1zM1041 760v-4h1v4zM1042 757v-2h1v2zM1043 755v-1h1v1zM1044 760v-2h1v2zM1045 764v-6h1v6zM1048 759v-3h1v3zM1049 757v-3h1v3zM1050 765v-6h1v6zM1051 761v-4h1v4zM1054 759v-5h1v5zM1055 756v-2h1v2zM1057 756v-1h1v1zM1059 758v-1h1v1zM1060 755v-2h1v2zM1061 756v-2h1v2zM1062 759v-3h1v3zM1063 759v-7h1v7zM1064 760v-1h1v1zM1065 754v-2h1v2zM1067 759v-2h1v2zM1068 760v-4h1v4zM1069 759v-6h1v6zM1072 758v-1h1v1zM1074 755v-1h1v1zM1075 759v-9h1v9zM1076 755v-3h1v3zM1077 764v-6h1v6zM1078 757v-6h1v6zM1079 755v-4h1v4zM1080 761v-2h1v2zM1081 761v-3h1v3zM1083 756v-2h1v2zM1084 757v-5h1v5zM1086 752v-2h1v2zM1087 764v-14h1v14zM1088 757v-1h1v1zM1091 759v-8h1v8zM1092 754v-1h1v1zM1093 755v-1h1v1zM1096 760v-7h1v7zM1097 753v-1h1v1zM1098 758v-10h1v10zM1100 755v-4h1v4zM1101 757v-5h1v5zM1102 757v-3h1v3zM1103 754v-4h1v4zM1105 754v-1h1v1zM1106 750v-3h1v3zM1107 757v-8h1v8zM1108 759v-3h1v3zM1110 759v-7h1v7zM1111 763v-9h1v9zM1112 756v-6h1v6zM1113 751v-1h1v1zM1114 758v-4h1v4zM1115 755v-3h1v3zM1116 759v-11h1v11zM1117 760v-5h1v5zM1118 754v-3h1v3zM1119 750v-3h1v3zM1121 763v-4h1v4zM1122 756v-6h1v6zM1124 751v-3h1v3zM1125 761v-12h1v12zM1126 758v-9h1v9zM1127 761v-4h1v4zM1129 761v-3h1v3zM1130 752v-6h1v6zM1131 751v-6h1v6zM1132 752v-5h1v5zM1133 753v-4h1v4zM1134 754v-6h1v6zM1135 756v-5h1v5zM1137 757v-5h1v5zM1138 755v-8h1v8zM1139 760v-1h1v1zM1140 750v-5h1v5zM1141 754v-7h1v7zM1143 746v-1h1v1zM1144 757v-2h1v2zM1146 754v-5h1v5zM1148 751v-4h1v4zM1149 753v-5h1v5zM1150 752v-8h1v8zM1151 755v-4h1v4zM1152 751v-3h1v3zM1153 750v-2h1v2zM1154 752v-4h1v4zM1155 761v-9h1v9zM1156 752v-4h1v4zM1157 755v-13h1v13zM1159 748v-3h1v3zM1160 750v-2h1v2zM1162 746v-3h1v3zM1164 763v-14h1v14zM1167 758v-10h1v10zM1168 756v-2h1v2zM1169 748v-5h1v5zM1170 751v-7h1v7zM1171 749v-5h1v5zM1172 754v-11h1v11zM1173 761v-19h1v19zM1175 748v-2h1v2zM1176 748v-5h1v5zM1177 756v-5h1v5zM1178 760v-18h1v18zM1181 756v-4h1v4zM1182 744v-4h1v4zM1183 761v-5h1v5zM1186 754v-2h1v2zM1187 743v-2h1v2zM1188 752v-4h1v4zM1189 754v-13h1v13zM1190 747v-8h1v8zM1192 752v-7h1v7zM1193 752v-10h1v10zM1194 745v-2h1v2zM1195 750v-5h1v5zM1196 743v-2h1v2zM1197 742v-1h1v1zM1198 751v-7h1v7zM1200 753v-9h1v9zM1201 761v-10h1v10zM1202 743v-4h1v4zM1203 746v-4h1v4zM1206 747v-8h1v8zM1207 763v-18h1v18zM1208 748v-5h1v5zM1210 742v-5h1v5zM1211 746v-4h1v4zM1212 745v-5h1v5zM1213 755v-1h1v1zM1214 751v-8h1v8zM1215 748v-9h1v9zM1216 750v-1h1v1zM1217 741v-3h1v3zM1219 750v-1h1v1zM1221 752v-8h1v8zM1222 752v-3h1v3zM1224 760v-14h1v14zM1225 740v-2h1v2zM1226 749v-5h1v5zM1227 750v-4h1v4zM1228 745v-7h1v7zM1229 748v-2h1v2zM1230 737v-2h1v2zM1231 741v-4h1v4zM1232 744v-4h1v4zM1233 754v-6h1v6zM1234 753v-4h1v4zM1235 748v-4h1v4zM1236 745v-8h1v8zM1238 751v-7h1v7zM1239 742v-7h1v7zM1240 746v-3h1v3zM1241 763v-19h1v19zM1243 746v-6h1v6zM1244 746v-9h1v9zM1245 741v-5h1v5zM1246 737v-2h1v2zM1247 738v-3h1v3zM1248 755v-3h1v3zM1249 754v-18h1v18zM1250 759v-3h1v3zM1251 757v-20h1v20zM1252 758v-8h1v8zM1253 750v-3h1v3zM1254 751v-13h1v13zM1255 751v-8h1v8zM1257 753v-9h1v9zM1259 743v-6h1v6zM1260 748v-5h1v5zM1262 737v-2h1v2zM1263 737v-4h1v4zM1264 737v-3h1v3zM1265 743v-1h1v1zM1268 756v-5h1v5zM1269 739v-4h1v4zM1270 735v-2h1v2zM1271 754v-9h1v9zM1272 743v-3h1v3zM1273 752v-21h1v21zM1274 756v-13h1v13zM1277 734v-3h1v3zM1282 751v-20h1v20zM1283 750v-17h1v17zM1284 744v-14h1v14zM1285 733v-1h1v1zM1286 766v-19h1v19zM1287 735v-4h1v4zM1288 747v-4h1v4zM1289 748v-14h1v14zM1290 741v-1h1v1zM1291 742v-11h1v11zM1293 745v-4h1v4zM1297 751v-10h1v10zM1298 736v-5h1v5zM1300 759v-16h1v16zM1301 737v-5h1v5zM1303 752v-9h1v9zM1304 741v-3h1v3zM1305 729v-2h1v2zM1306 745v-8h1v8zM1307 752v-14h1v14zM1308 751v-17h1v17zM1309 733v-1h1v1zM1310 740v-6h1v6zM1311 749v-20h1v20zM1312 747v-9h1v9zM1314 740v-9h1v9zM1315 745v-6h1v6zM1316 734v-3h1v3zM1317 748v-11h1v11zM1320 750v-9h1v9zM1322 739v-11h1v11zM1323 740v-11h1v11zM1325 740v-2h1v2zM1326 739v-7h1v7zM1328 734v-1h1v1zM1329 735v-1h1v1zM1330 740v-7h1v7zM1333 739v-3h1v3zM1334 756v-28h1v28zM1335 751v-19h1v19zM1336 759v-4h1v4zM1338 734v-11h1v11zM1339 745v-3h1v3zM1340 737v-5h1v5zM1341 748v-26h1v26zM1343 748v-3h1v3zM1344 727v-2h1v2zM1345 738v-7h1v7zM1346 757v-27h1v27zM1347 749v-8h1v8zM1348 731v-1h1v1zM1349 755v-15h1v15zM1350 740v-10h1v10zM1352 734v-5h1v5zM1353 735v-5h1v5zM1355 736v-13h1v13zM1357 751v-12h1v12zM1358 734v-2h1v2zM1359 745v-17h1v17zM1360 732v-9h1v9zM1361 754v-11h1v11zM1362 735v-2h1v2zM1363 732v-3h1v3zM1364 730v-4h1v4zM1365 726v-1h1v1zM1366 741v-18h1v18zM1367 731v-5h1v5zM1369 747v-10h1v10zM1371 734v-7h1v7zM1372 735v-8h1v8zM1373 743v-12h1v12zM1376 744v-24h1v24zM1377 735v-18h1v18zM1378 741v-11h1v11zM1379 728v-3h1v3zM1381 750v-29h1v29zM1382 731v-10h1v10zM1383 755v-9h1v9zM1384 744v-18h1v18zM1385 721v-2h1v2zM1386 733v-1h1v1zM1388 734v-6h1v6zM1390 730v-5h1v5zM1391 728v-4h1v4zM1392 750v-15h1v15zM1393 741v-7h1v7zM1396 737v-12h1v12zM1397 752v-12h1v12zM1398 726v-4h1v4zM1399 752v-8h1v8zM1400 737v-9h1v9zM1401 750v-7h1v7zM1402 753v-5h1v5zM1403 744v-10h1v10zM1404 724v-6h1v6zM1405 733v-6h1v6zM1406 739v-11h1v11zM1407 742v-21h1v21zM1409 755v-5h1v5zM1410 743v-21h1v21zM1411 738v-6h1v6zM1412 734v-15h1v15zM1414 729v-11h1v11zM1415 741v-11h1v11zM1416 728v-14h1v14zM1417 721v-5h1v5zM1419 726v-11h1v11zM1420 757v-13h1v13zM1421 741v-15h1v15zM1422 752v-20h1v20zM1423 734v-21h1v21zM1424 715v-3h1v3zM1425 730v-13h1v13zM1426 729v-5h1v5zM1428 746v-10h1v10zM1429 735v-6h1v6zM1430 727v-4h1v4zM1431 724v-13h1v13zM1433 734v-9h1v9zM1434 726v-13h1v13zM1435 743v-29h1v29zM1436 730v-11h1v11zM1437 735v-20h1v20zM1438 728v-5h1v5zM1439 717v-4h1v4zM1440 743v-15h1v15zM1441 713v-3h1v3zM1442 745v-4h1v4zM1443 756v-24h1v24zM1444 753v-4h1v4zM1445 740v-6h1v6zM1447 746v-20h1v20zM1449 742v-24h1v24zM1450 738v-3h1v3zM1452 746v-2h1v2zM1453 725v-7h1v7zM1455 752v-41h1v41zM1456 715v-4h1v4zM1457 723v-9h1v9zM1458 739v-19h1v19zM1459 739v-17h1v17zM1460 744v-26h1v26zM1461 740v-29h1v29zM1462 718v-11h1v11zM1463 726v-5h1v5zM1464 718v-2h1v2zM1466 731v-16h1v16zM1467 729v-13h1v13zM1468 723v-3h1v3zM1469 736v-25h1v25zM1471 715v-6h1v6zM1472 712v-7h1v7zM1473 732v-19h1v19zM1474 738v-20h1v20zM1475 753v-33h1v33zM1476 725v-15h1v15zM1478 710v-5h1v5zM1479 737v-12h1v12zM1480 751v-30h1v30zM1481 742v-14h1v14zM1482 726v-21h1v21zM1483 741v-22h1v22zM1485 718v-5h1v5zM1486 726v-6h1v6zM1487 731v-22h1v22zM1488 722v-13h1v13zM1490 738v-1h1v1zM1491 726v-5h1v5zM1493 742v-26h1v26zM1494 746v-19h1v19zM1495 710v-7h1v7zM1496 744v-25h1v25zM1497 737v-33h1v33zM1498 739v-23h1v23zM1500 713v-8h1v8zM1501 746v-29h1v29zM1502 740v-27h1v27zM1504 747v-17h1v17zM1506 716v-8h1v8zM1507 721v-18h1v18zM1510 712v-9h1v9zM1511 733v-15h1v15zM1512 735v-12h1v12zM1513 748v-48h1v48zM1514 716v-16h1v16zM1515 734v-14h1v14zM1516 741v-32h1v32zM1517 721v-6h1v6zM1518 739v-36h1v36zM1519 745v-10h1v10zM1520 716v-7h1v7zM1521 704v-9h1v9zM1524 708v-13h1v13zM1525 711v-13h1v13zM1526 730v-35h1v35zM1528 750v-13h1v13zM1529 747v-26h1v26zM1530 715v-16h1v16zM1531 701v-7h1v7zM1532 715v-17h1v17zM1534 735v-32h1v32zM1535 725v-19h1v19zM1536 723v-12h1v12zM1537 728v-13h1v13zM1538 704v-2h1v2zM1539 723v-22h1v22zM1540 736v-18h1v18zM1542 719v-15h1v15zM1543 693v-4h1v4zM1544 739v-6h1v6zM1545 725v-15h1v15zM1547 710v-2h1v2zM1548 716v-4h1v4zM1549 738v-34h1v34zM1550 727v-14h1v14zM1551 699v-4h1v4zM1552 742v-11h1v11zM1553 732v-17h1v17zM1555 734v-50h1v50zM1556 702v-19h1v19zM1557 689v-1h1v1zM1558 758v-67h1v67zM1559 726v-5h1v5zM1562 744v-5h1v5zM1563 733v-15h1v15zM1564 688v-6h1v6zM1566 717v-21h1v21zM1568 736v-22h1v22zM1569 727v-43h1v43zM1570 693v-5h1v5zM1571 710v-12h1v12zM1572 701v-15h1v15zM1573 692v-6h1v6zM1574 700v-6h1v6zM1575 729v-15h1v15zM1577 705v-12h1v12zM1578 693v-6h1v6zM1581 745v-20h1v20zM1582 703v-29h1v29zM1583 699v-10h1v10zM1585 722v-45h1v45zM1586 727v-29h1v29zM1587 710v-17h1v17zM1588 732v-11h1v11zM1589 714v-17h1v17zM1590 687v-15h1v15zM1591 711v-17h1v17zM1592 685v-11h1v11zM1593 689v-7h1v7zM1595 702v-2h1v2zM1596 702v-21h1v21zM1599 696v-25h1v25zM1600 723v-19h1v19zM1601 713v-8h1v8zM1604 692v-16h1v16zM1605 727v-57h1v57zM1606 705v-24h1v24zM1607 683v-3h1v3zM1608 715v-27h1v27zM1610 715v-33h1v33zM1613 708v-24h1v24zM1614 697v-6h1v6zM1615 714v-48h1v48zM1616 723v-2h1v2zM1618 707v-49h1v49zM1620 695v-36h1v36zM1621 709v-2h1v2zM1623 682v-28h1v28zM1624 711v-23h1v23zM1625 715v-25h1v25zM1626 741v-46h1v46zM1627 694v-27h1v27zM1628 709v-48h1v48zM1629 685v-3h1v3zM1630 720v-62h1v62zM1632 685v-31h1v31zM1633 713v-45h1v45zM1634 697v-14h1v14zM1635 712v-43h1v43zM1637 739v-80h1v80zM1638 653v-12h1v12zM1639 739v-43h1v43zM1640 725v-62h1v62zM1642 702v-21h1v21zM1643 701v-56h1v56zM1644 698v-6h1v6zM1645 696v-36h1v36zM1646 680v-16h1v16zM1647 690v-17h1v17zM1648 671v-15h1v15zM1649 736v-19h1v19zM1650 694v-10h1v10zM1651 674v-12h1v12zM1652 737v-64h1v64zM1653 663v-4h1v4zM1654 694v-22h1v22zM1658 704v-49h1v49zM1659 644v-9h1v9zM1661 650v-13h1v13zM1662 672v-13h1v13zM1663 702v-15h1v15zM1665 701v-64h1v64zM1666 655v-2h1v2zM1667 737v-46h1v46zM1668 689v-28h1v28zM1669 712v-38h1v38zM1670 675v-1h1v1zM1671 688v-53h1v53zM1672 678v-26h1v26zM1673 724v-66h1v66zM1675 647v-18h1v18zM1676 669v-41h1v41zM1677 663v-8h1v8zM1678 669v-47h1v47zM1680 688v-46h1v46zM1681 709v-24h1v24zM1682 654v-17h1v17zM1683 637v-22h1v22zM1684 710v-97h1v97zM1686 661v-23h1v23zM1687 644v-27h1v27zM1688 683v-69h1v69zM1689 726v-18h1v18zM1691 660v-36h1v36zM1692 671v-8h1v8zM1694 636v-12h1v12zM1695 737v-102h1v102zM1697 637v-39h1v39zM1699 615v-26h1v26zM1700 632v-4h1v4zM1701 638v-53h1v53zM1702 707v-22h1v22zM1703 681v-51h1v51zM1705 702v-98h1v98zM1706 672v-75h1v75zM1707 691v-27h1v27zM1708 683v-92h1v92zM1709 610v-25h1v25zM1710 680v-58h1v58zM1711 590v-25h1v25zM1713 702v-143h1v143zM1714 628v-36h1v36zM1715 713v-47h1v47zM1716 601v-22h1v22zM1718 611v-4h1v4zM1719 578v-6h1v6zM1721 601v-39h1v39zM1722 598v-54h1v54zM1723 658v-28h1v28zM1724 628v-103h1v103zM1725 592v-64h1v64zM1726 641v-60h1v60zM1727 593v-70h1v70zM1728 622v-32h1v32zM1729 624v-92h1v92zM1730 600v-17h1v17zM1732 596v-66h1v66zM1733 616v-15h1v15zM1734 536v-35h1v35zM1737 641v-121h1v121zM1738 619v-69h1v69zM1739 575v-66h1v66zM1740 548v-46h1v46zM1741 543v-80h1v80zM1742 542v-128h1v128zM1743 686v-59h1v59zM1744 470v-31h1v31zM1745 554v-101h1v101zM1746 523v-140h1v140zM1747 500v-21h1v21zM1748 367v-22h1v22zM1751 457v-11h1v11zM1752 398v-50h1v50zM1753 445v-53h1v53zM1754 241v-16h1v16zM1756 339v-236h1v236z"/>
<path fill="#0072B2" d="M945 765v-1h1v1zM946 765v-1h1v1zM947 765v-1h1v1zM948 765v-2h1v2zM949 764v-1h1v1zM950 764v-1h1v1zM951 765v-2h1v2zM955 765v-2h1v2zM956 763v-1h1v1zM958 763v-1h1v1zM959 764v-2h1v2zM961 764v-2h1v2zM962 763v-1h1v1zM964 763v-1h1v1zM965 762v-1h1v1zM966 763v-2h1v2zM967 764v-3h1v3zM968 762v-1h1v1zM970 763v-2h1v2zM972 763v-2h1v2zM973 761v-1h1v1zM974 762v-2h1v2zM975 762v-2h1v2zM977 762v-2h1v2zM978 761v-1h1v1zM979 764v-4h1v4zM981 762v-2h1v2zM982 760v-1h1v1zM983 765v-6h1v6zM984 760v-1h1v1zM985 761v-2h1v2zM986 764v-5h1v5zM987 760v-1h1v1zM988 760v-1h1v1zM989 760v-1h1v1zM991 761v-2h1v2zM992 760v-2h1v2zM993 762v-4h1v4zM994 759v-1h1v1zM996 759v-1h1v1zM997 760v-2h1v2zM998 761v-3h1v3zM999 760v-2h1v2zM1000 762v-4h1v4zM1001 759v-1h1v1zM1002 762v-4h1v4zM1003 761v-4h1v4zM1004 760v-3h1v3zM1005 760v-3h1v3zM1006 759v-2h1v2zM1007 759v-2h1v2zM1008 759v-2h1v2zM1010 765v-8h1v8zM1011 759v-2h1v2zM1012 758v-1h1v1zM1013 759v-3h1v3zM1015 761v-5h1v5zM1016 760v-4h1v4zM1017 758v-2h1v2zM1018 763v-7h1v7zM1019 758v-2h1v2zM1020 757v-1h1v1zM1021 760v-4h1v4zM1022 759v-3h1v3zM1023 763v-7h1v7zM1024 756v-1h1v1zM1025 758v-3h1v3zM1026 762v-7h1v7zM1027 757v-2h1v2zM1029 758v-3h1v3zM1030 763v-8h1v8zM1031 757v-2h1v2zM1032 756v-1h1v1zM1034 755v-1h1v1zM1035 757v-3h1v3zM1036 756v-2h1v2zM1037 756v-2h1v2zM1038 757v-3h1v3zM1039 759v-5h1v5zM1040 755v-1h1v1zM1041 756v-2h1v2zM1042 755v-2h1v2zM1043 754v-1h1v1zM1044 758v-5h1v5zM1045 758v-5h1v5zM1046 756v-3h1v3zM1048 756v-3h1v3zM1049 754v-1h1v1zM1050 759v-6h1v6zM1051 757v-4h1v4zM1053 756v-4h1v4zM1054 754v-2h1v2zM1055 754v-2h1v2zM1056 758v-6h1v6zM1057 755v-3h1v3zM1058 760v-8h1v8zM1059 757v-5h1v5zM1060 753v-1h1v1zM1061 754v-3h1v3zM1062 756v-5h1v5zM1063 752v-1h1v1zM1064 759v-8h1v8zM1065 752v-1h1v1zM1067 757v-6h1v6zM1068 756v-5h1v5zM1069 753v-2h1v2zM1070 756v-5h1v5zM1072 757v-7h1v7zM1073 762v-12h1v12zM1074 754v-4h1v4zM1076 752v-2h1v2zM1077 758v-8h1v8zM1078 751v-1h1v1zM1079 751v-1h1v1zM1080 759v-10h1v10zM1081 758v-9h1v9zM1082 750v-1h1v1zM1083 754v-5h1v5zM1084 752v-3h1v3zM1086 750v-1h1v1zM1087 750v-1h1v1zM1088 756v-7h1v7zM1089 758v-10h1v10zM1091 751v-3h1v3zM1092 753v-5h1v5zM1093 754v-6h1v6zM1094 756v-8h1v8zM1095 754v-6h1v6zM1096 753v-5h1v5zM1097 752v-4h1v4zM1099 757v-10h1v10zM1100 751v-4h1v4zM1101 752v-5h1v5zM1102 754v-7h1v7zM1103 750v-3h1v3zM1105 753v-6h1v6zM1107 749v-2h1v2zM1108 756v-9h1v9zM1110 752v-6h1v6zM1111 754v-8h1v8zM1112 750v-4h1v4zM1113 750v-4h1v4zM1114 754v-8h1v8zM1115 752v-6h1v6zM1116 748v-2h1v2zM1117 755v-9h1v9zM1118 751v-5h1v5zM1119 747v-2h1v2zM1120 762v-17h1v17zM1121 759v-14h1v14zM1122 750v-5h1v5zM1124 748v-3h1v3zM1125 749v-4h1v4zM1126 749v-4h1v4zM1127 757v-12h1v12zM1129 758v-14h1v14zM1130 746v-2h1v2zM1131 745v-1h1v1zM1132 747v-3h1v3zM1133 749v-5h1v5zM1134 748v-4h1v4zM1135 751v-7h1v7zM1136 751v-7h1v7zM1137 752v-8h1v8zM1138 747v-3h1v3zM1139 759v-15h1v15zM1140 745v-2h1v2zM1141 747v-4h1v4zM1143 745v-2h1v2zM1144 755v-12h1v12zM1145 751v-8h1v8zM1146 749v-6h1v6zM1148 747v-4h1v4zM1149 748v-5h1v5zM1150 744v-1h1v1zM1151 751v-9h1v9zM1152 748v-6h1v6zM1153 748v-6h1v6zM1154 748v-6h1v6zM1155 752v-10h1v10zM1156 748v-6h1v6zM1158 749v-7h1v7zM1159 745v-3h1v3zM1160 748v-6h1v6zM1162 743v-2h1v2zM1163 749v-8h1v8zM1164 749v-8h1v8zM1165 754v-13h1v13zM1167 748v-7h1v7zM1168 754v-13h1v13zM1169 743v-2h1v2zM1170 744v-3h1v3zM1171 744v-4h1v4zM1172 743v-3h1v3zM1173 742v-2h1v2zM1174 758v-18h1v18zM1175 746v-6h1v6zM1176 743v-3h1v3zM1177 751v-11h1v11zM1178 742v-2h1v2zM1179 755v-15h1v15zM1181 752v-12h1v12zM1182 740v-1h1v1zM1183 756v-17h1v17zM1184 753v-14h1v14zM1186 752v-13h1v13zM1187 741v-2h1v2zM1188 748v-9h1v9zM1189 741v-2h1v2zM1191 753v-14h1v14zM1192 745v-7h1v7zM1193 742v-4h1v4zM1194 743v-5h1v5zM1195 745v-7h1v7zM1196 741v-3h1v3zM1197 741v-3h1v3zM1198 744v-6h1v6zM1200 744v-6h1v6zM1201 751v-13h1v13zM1202 739v-2h1v2zM1203 742v-5h1v5zM1205 744v-7h1v7zM1206 739v-2h1v2zM1207 745v-8h1v8zM1208 743v-6h1v6zM1209 744v-7h1v7zM1211 742v-5h1v5zM1212 740v-4h1v4zM1213 754v-18h1v18zM1214 743v-7h1v7zM1215 739v-3h1v3zM1216 749v-13h1v13zM1217 738v-2h1v2zM1219 749v-13h1v13zM1220 739v-3h1v3zM1221 744v-8h1v8zM1222 749v-14h1v14zM1224 746v-11h1v11zM1225 738v-3h1v3zM1226 744v-9h1v9zM1227 746v-11h1v11zM1228 738v-3h1v3zM1229 746v-11h1v11zM1231 737v-2h1v2zM1232 740v-6h1v6zM1233 748v-14h1v14zM1234 749v-15h1v15zM1235 744v-10h1v10zM1236 737v-3h1v3zM1238 744v-10h1v10zM1239 735v-1h1v1zM1240 743v-9h1v9zM1241 744v-10h1v10zM1243 740v-7h1v7zM1244 737v-4h1v4zM1245 736v-3h1v3zM1246 735v-2h1v2zM1247 735v-2h1v2zM1248 752v-19h1v19zM1249 736v-3h1v3zM1250 756v-23h1v23zM1251 737v-4h1v4zM1252 750v-18h1v18zM1253 747v-15h1v15zM1254 738v-6h1v6zM1255 743v-11h1v11zM1257 744v-12h1v12zM1258 748v-16h1v16zM1259 737v-5h1v5zM1260 743v-11h1v11zM1262 735v-4h1v4zM1263 733v-2h1v2zM1264 734v-3h1v3zM1265 742v-11h1v11zM1266 746v-15h1v15zM1267 748v-17h1v17zM1268 751v-20h1v20zM1269 735v-4h1v4zM1270 733v-2h1v2zM1271 745v-15h1v15zM1272 740v-10h1v10zM1273 731v-1h1v1zM1274 743v-13h1v13zM1276 746v-16h1v16zM1277 731v-1h1v1zM1278 753v-23h1v23zM1279 747v-18h1v18zM1281 758v-29h1v29zM1282 731v-2h1v2zM1283 733v-4h1v4zM1284 730v-1h1v1zM1285 732v-3h1v3zM1286 747v-18h1v18zM1287 731v-3h1v3zM1288 743v-15h1v15zM1289 734v-6h1v6zM1290 740v-12h1v12zM1291 731v-3h1v3zM1292 740v-12h1v12zM1293 741v-13h1v13zM1295 736v-9h1v9zM1296 758v-31h1v31zM1297 741v-14h1v14zM1298 731v-4h1v4zM1300 743v-16h1v16zM1301 732v-5h1v5zM1302 733v-6h1v6zM1303 743v-16h1v16zM1304 738v-12h1v12zM1305 727v-1h1v1zM1306 737v-11h1v11zM1307 738v-12h1v12zM1308 734v-8h1v8zM1309 732v-6h1v6zM1310 734v-8h1v8zM1311 729v-3h1v3zM1312 738v-13h1v13zM1314 731v-6h1v6zM1315 739v-14h1v14zM1316 731v-6h1v6zM1317 737v-12h1v12zM1319 748v-23h1v23zM1320 741v-17h1v17zM1321 739v-15h1v15zM1322 728v-4h1v4zM1323 729v-5h1v5zM1324 739v-15h1v15zM1325 738v-14h1v14zM1326 732v-8h1v8zM1327 763v-39h1v39zM1328 733v-10h1v10zM1329 734v-11h1v11zM1330 733v-10h1v10zM1331 744v-21h1v21zM1333 736v-13h1v13zM1334 728v-5h1v5zM1335 732v-9h1v9zM1336 755v-32h1v32zM1338 723v-1h1v1zM1339 742v-20h1v20zM1340 732v-10h1v10zM1342 752v-30h1v30zM1343 745v-23h1v23zM1344 725v-3h1v3zM1345 731v-10h1v10zM1346 730v-9h1v9zM1347 741v-20h1v20zM1348 730v-9h1v9zM1349 740v-19h1v19zM1350 730v-9h1v9zM1352 729v-9h1v9zM1353 730v-10h1v10zM1354 732v-12h1v12zM1355 723v-3h1v3zM1357 739v-19h1v19zM1358 732v-12h1v12zM1359 728v-8h1v8zM1360 723v-3h1v3zM1361 743v-24h1v24zM1362 733v-14h1v14zM1363 729v-10h1v10zM1364 726v-7h1v7zM1365 725v-6h1v6zM1366 723v-4h1v4zM1367 726v-7h1v7zM1368 745v-27h1v27zM1369 737v-19h1v19zM1371 727v-9h1v9zM1372 727v-9h1v9zM1373 731v-13h1v13zM1374 735v-17h1v17zM1376 720v-3h1v3zM1378 730v-13h1v13zM1379 725v-8h1v8zM1380 731v-14h1v14zM1381 721v-4h1v4zM1382 721v-4h1v4zM1383 746v-30h1v30zM1384 726v-10h1v10zM1385 719v-3h1v3zM1386 732v-16h1v16zM1387 729v-13h1v13zM1388 728v-12h1v12zM1390 725v-9h1v9zM1391 724v-9h1v9zM1392 735v-20h1v20zM1393 734v-19h1v19zM1395 731v-16h1v16zM1396 725v-10h1v10zM1397 740v-25h1v25zM1398 722v-7h1v7zM1399 744v-30h1v30zM1400 728v-14h1v14zM1401 743v-29h1v29zM1402 748v-34h1v34zM1403 734v-20h1v20zM1404 718v-4h1v4zM1405 727v-13h1v13zM1406 728v-15h1v15zM1407 721v-8h1v8zM1409 750v-37h1v37zM1410 722v-9h1v9zM1411 732v-19h1v19zM1412 719v-6h1v6zM1414 718v-6h1v6zM1415 730v-18h1v18zM1416 714v-2h1v2zM1417 716v-4h1v4zM1418 720v-8h1v8zM1419 715v-3h1v3zM1420 744v-32h1v32zM1421 726v-14h1v14zM1422 732v-21h1v21zM1423 713v-2h1v2zM1424 712v-1h1v1zM1425 717v-6h1v6zM1426 724v-13h1v13zM1428 736v-25h1v25zM1429 729v-19h1v19zM1430 723v-13h1v13zM1431 711v-1h1v1zM1433 725v-15h1v15zM1434 713v-3h1v3zM1435 714v-5h1v5zM1436 719v-10h1v10zM1437 715v-6h1v6zM1438 723v-14h1v14zM1439 713v-4h1v4zM1440 728v-20h1v20zM1441 710v-2h1v2zM1442 741v-33h1v33zM1443 732v-24h1v24zM1444 749v-41h1v41zM1445 734v-26h1v26zM1447 726v-19h1v19zM1448 746v-39h1v39zM1449 718v-11h1v11zM1450 735v-28h1v28zM1452 744v-38h1v38zM1453 718v-12h1v12zM1454 722v-16h1v16zM1455 711v-5h1v5zM1456 711v-6h1v6zM1457 714v-9h1v9zM1458 720v-15h1v15zM1459 722v-17h1v17zM1460 718v-13h1v13zM1461 711v-7h1v7zM1462 707v-3h1v3zM1463 721v-17h1v17zM1464 716v-12h1v12zM1466 715v-11h1v11zM1467 716v-13h1v13zM1468 720v-17h1v17zM1469 711v-8h1v8zM1471 709v-6h1v6zM1472 705v-3h1v3zM1473 713v-11h1v11zM1474 718v-16h1v16zM1475 720v-18h1v18zM1476 710v-8h1v8zM1477 736v-34h1v34zM1478 705v-4h1v4zM1479 725v-24h1v24zM1480 721v-20h1v20zM1481 728v-27h1v27zM1482 705v-4h1v4zM1483 719v-19h1v19zM1485 713v-13h1v13zM1486 720v-20h1v20zM1487 709v-9h1v9zM1488 709v-9h1v9zM1490 737v-38h1v38zM1491 721v-22h1v22zM1492 733v-34h1v34zM1493 716v-17h1v17zM1494 727v-29h1v29zM1495 703v-5h1v5zM1496 719v-21h1v21zM1497 704v-6h1v6zM1498 716v-18h1v18zM1499 710v-13h1v13zM1500 705v-8h1v8zM1501 717v-20h1v20zM1502 713v-16h1v16zM1504 730v-34h1v34zM1505 723v-27h1v27zM1506 708v-12h1v12zM1507 703v-7h1v7zM1509 710v-15h1v15zM1510 703v-8h1v8zM1511 718v-23h1v23zM1512 723v-28h1v28zM1513 700v-5h1v5zM1514 700v-6h1v6zM1515 720v-26h1v26zM1516 709v-15h1v15zM1517 715v-21h1v21zM1518 703v-9h1v9zM1519 735v-42h1v42zM1520 709v-16h1v16zM1521 695v-2h1v2zM1523 750v-58h1v58zM1524 695v-3h1v3zM1525 698v-6h1v6zM1526 695v-3h1v3zM1528 737v-46h1v46zM1529 721v-30h1v30zM1530 699v-8h1v8zM1531 694v-3h1v3zM1532 698v-8h1v8zM1533 753v-63h1v63zM1534 703v-13h1v13zM1535 706v-16h1v16zM1536 711v-21h1v21zM1537 715v-26h1v26zM1538 702v-13h1v13zM1539 701v-13h1v13zM1540 718v-30h1v30zM1542 704v-17h1v17zM1543 689v-2h1v2zM1544 733v-46h1v46zM1545 710v-24h1v24zM1547 708v-23h1v23zM1548 712v-27h1v27zM1549 704v-19h1v19zM1550 713v-29h1v29zM1551 695v-11h1v11zM1552 731v-48h1v48zM1553 715v-32h1v32zM1554 711v-28h1v28zM1555 684v-2h1v2zM1556 683v-1h1v1zM1557 688v-7h1v7zM1558 691v-10h1v10zM1559 721v-40h1v40zM1561 685v-5h1v5zM1562 739v-59h1v59zM1563 718v-39h1v39zM1564 682v-3h1v3zM1566 696v-18h1v18zM1567 720v-42h1v42zM1568 714v-37h1v37zM1569 684v-7h1v7zM1570 688v-12h1v12zM1571 698v-22h1v22zM1572 686v-10h1v10zM1573 686v-10h1v10zM1574 694v-19h1v19zM1575 714v-39h1v39zM1576 730v-56h1v56zM1577 693v-19h1v19zM1578 687v-13h1v13zM1580 733v-60h1v60zM1581 725v-53h1v53zM1582 674v-2h1v2zM1583 689v-17h1v17zM1585 677v-6h1v6zM1586 698v-28h1v28zM1587 693v-23h1v23zM1588 721v-51h1v51zM1589 697v-28h1v28zM1590 672v-3h1v3zM1591 694v-25h1v25zM1592 674v-6h1v6zM1593 682v-14h1v14zM1594 719v-52h1v52zM1595 700v-33h1v33zM1596 681v-15h1v15zM1597 722v-56h1v56zM1599 671v-7h1v7zM1600 704v-41h1v41zM1601 705v-42h1v42zM1602 699v-37h1v37zM1604 676v-15h1v15zM1605 670v-10h1v10zM1606 681v-21h1v21zM1607 680v-21h1v21zM1608 688v-30h1v30zM1609 698v-40h1v40zM1610 682v-25h1v25zM1611 688v-31h1v31zM1612 676v-20h1v20zM1613 684v-29h1v29zM1614 691v-36h1v36zM1615 666v-12h1v12zM1616 721v-67h1v67zM1618 658v-6h1v6zM1619 707v-55h1v55zM1620 659v-8h1v8zM1621 707v-56h1v56zM1623 654v-5h1v5zM1624 688v-39h1v39zM1625 690v-42h1v42zM1626 695v-47h1v47zM1627 667v-20h1v20zM1628 661v-15h1v15zM1629 682v-36h1v36zM1630 658v-13h1v13zM1631 695v-50h1v50zM1632 654v-11h1v11zM1633 668v-25h1v25zM1634 683v-41h1v41zM1635 669v-27h1v27zM1637 659v-19h1v19zM1638 641v-2h1v2zM1639 696v-57h1v57zM1640 663v-25h1v25zM1642 681v-45h1v45zM1643 645v-9h1v9zM1644 692v-57h1v57zM1645 660v-26h1v26zM1646 664v-31h1v31zM1647 673v-41h1v41zM1648 656v-24h1v24zM1649 717v-86h1v86zM1650 684v-53h1v53zM1651 662v-33h1v33zM1652 673v-44h1v44zM1653 659v-31h1v31zM1654 672v-45h1v45zM1656 655v-30h1v30zM1657 684v-59h1v59zM1658 655v-31h1v31zM1659 635v-11h1v11zM1661 637v-15h1v15zM1662 659v-38h1v38zM1663 687v-66h1v66zM1664 716v-96h1v96zM1665 637v-18h1v18zM1666 653v-34h1v34zM1667 691v-73h1v73zM1668 661v-43h1v43zM1669 674v-57h1v57zM1670 674v-58h1v58zM1671 635v-19h1v19zM1672 652v-37h1v37zM1673 658v-44h1v44zM1675 629v-16h1v16zM1676 628v-16h1v16zM1677 655v-44h1v44zM1678 622v-12h1v12zM1680 642v-34h1v34zM1681 685v-78h1v78zM1682 637v-31h1v31zM1683 615v-10h1v10zM1684 613v-9h1v9zM1685 676v-73h1v73zM1686 638v-36h1v36zM1687 617v-16h1v16zM1688 614v-13h1v13zM1689 708v-109h1v109zM1690 701v-103h1v103zM1691 624v-27h1v27zM1692 663v-67h1v67zM1694 624v-32h1v32zM1695 635v-44h1v44zM1696 700v-111h1v111zM1697 598v-10h1v10zM1699 589v-5h1v5zM1700 628v-45h1v45zM1701 585v-4h1v4zM1702 685v-105h1v105zM1703 630v-53h1v53zM1704 709v-133h1v133zM1705 604v-30h1v30zM1706 597v-24h1v24zM1707 664v-93h1v93zM1708 591v-24h1v24zM1709 585v-20h1v20zM1710 622v-59h1v59zM1711 565v-4h1v4zM1713 559v-4h1v4zM1714 592v-39h1v39zM1715 666v-115h1v115zM1716 579v-31h1v31zM1718 607v-73h1v73zM1719 572v-43h1v43zM1720 614v-88h1v88zM1721 562v-37h1v37zM1722 544v-23h1v23zM1723 630v-110h1v110zM1724 525v-7h1v7zM1725 528v-11h1v11zM1726 581v-66h1v66zM1727 523v-11h1v11zM1728 590v-80h1v80zM1729 532v-23h1v23zM1730 583v-77h1v77zM1732 530v-34h1v34zM1733 601v-109h1v109zM1734 501v-13h1v13zM1735 521v-36h1v36zM1737 520v-55h1v55zM1738 550v-94h1v94zM1739 509v-62h1v62zM1740 502v-65h1v65zM1741 463v-47h1v47zM1742 414v-8h1v8zM1743 627v-232h1v232zM1744 439v-55h1v55zM1745 453v-80h1v80zM1746 383v-41h1v41zM1747 479v-152h1v152zM1748 345v-34h1v34zM1749 694v-400h1v400zM1751 446v-204h1v204zM1752 348v-135h1v135zM1753 392v-209h1v209zM1754 225v-72h1v72z"/>
<g opacity=".5">
<path fill="#fff" d="M949 768v-5h1v5zM954 768v-5h1v5zM968 768v-7h1v7zM973 768v-8h1v8zM987 768v-9h1v9zM992 768v-10h1v10zM1006 768v-11h1v11zM1011 768v-11h1v11zM1025 768v-13h1v13zM1030 768v-13h1v13zM1044 768v-15h1v15zM1049 768v-15h1v15zM1063 768v-17h1v17zM1068 768v-17h1v17zM1082 768v-19h1v19zM1087 768v-19h1v19zM1101 768v-21h1v21zM1106 768v-21h1v21zM1120 768v-23h1v23zM1125 768v-23h1v23zM1139 768v-24h1v24zM1144 768v-25h1v25zM1158 768v-26h1v26zM1163 768v-27h1v27zM1177 768v-28h1v28zM1182 768v-29h1v29zM1196 768v-30h1v30zM1201 768v-30h1v30zM1215 768v-32h1v32zM1220 768v-32h1v32zM1234 768v-34h1v34zM1239 768v-34h1v34zM1253 768v-36h1v36zM1258 768v-36h1v36zM1272 768v-38h1v38zM1277 768v-38h1v38zM1291 768v-40h1v40zM1296 768v-41h1v41zM1310 768v-42h1v42zM1315 768v-43h1v43zM1329 768v-45h1v45zM1334 768v-45h1v45zM1348 768v-47h1v47zM1353 768v-48h1v48zM1367 768v-49h1v49zM1372 768v-50h1v50zM1386 768v-52h1v52zM1391 768v-53h1v53zM1405 768v-54h1v54zM1410 768v-55h1v55zM1424 768v-57h1v57zM1429 768v-58h1v58zM1443 768v-60h1v60zM1448 768v-61h1v61zM1462 768v-64h1v64zM1467 768v-65h1v65zM1481 768v-67h1v67zM1486 768v-68h1v68zM1500 768v-71h1v71zM1505 768v-72h1v72zM1519 768v-75h1v75zM1524 768v-76h1v76zM1538 768v-79h1v79zM1543 768v-81h1v81zM1557 768v-87h1v87zM1562 768v-88h1v88zM1576 768v-94h1v94zM1581 768v-96h1v96zM1595 768v-101h1v101zM1600 768v-105h1v105zM1614 768v-113h1v113zM1619 768v-116h1v116zM1633 768v-125h1v125zM1638 768v-129h1v129zM1652 768v-139h1v139zM1657 768v-143h1v143zM1671 768v-152h1v152zM1676 768v-156h1v156zM1690 768v-170h1v170zM1695 768v-177h1v177zM1709 768v-203h1v203zM1714 768v-215h1v215zM1728 768v-258h1v258zM1733 768v-276h1v276zM1747 768v-441h1v441zM1752 768v-555h1v555z"/>
<path fill="#D55E00" d="M945 768v-3h1v3zM946 768v-2h1v2zM947 768v-3h1v3zM948 768v-3h1v3zM950 768v-3h1v3zM951 768v-3h1v3zM952 768v-3h1v3zM953 768v-4h1v4zM955 768v-4h1v4zM956 768v-5h1v5zM957 768v-4h1v4zM958 768v-4h1v4zM959 768v-4h1v4zM960 768v-4h1v4zM961 768v-5h1v5zM962 768v-4h1v4zM963 768v-5h1v5zM964 768v-5h1v5zM965 768v-4h1v4zM966 768v-4h1v4zM967 768v-1h1v1zM969 768v-2h1v2zM970 768v-6h1v6zM971 768v-5h1v5zM972 768v-4h1v4zM974 768v-6h1v6zM975 768v-3h1v3zM976 768v-6h1v6zM977 768v-6h1v6zM978 768v-3h1v3zM979 768v-6h1v6zM980 768v-7h1v7zM981 768v-5h1v5zM982 768v-8h1v8zM983 768v-3h1v3zM984 768v-6h1v6zM985 768v-5h1v5zM986 768v-4h1v4zM988 768v-7h1v7zM989 768v-6h1v6zM990 768v-6h1v6zM991 768v-4h1v4zM993 768v-7h1v7zM994 768v-6h1v6zM995 768v-8h1v8zM996 768v-5h1v5zM997 768v-5h1v5zM998 768v-7h1v7zM999 768v-6h1v6zM1000 768v-5h1v5zM1001 768v-5h1v5zM1002 768v-6h1v6zM1003 768v-6h1v6zM1004 768v-5h1v5zM1005 768v-6h1v6zM1007 768v-8h1v8zM1008 768v-9h1v9zM1009 768v-6h1v6zM1010 768v-3h1v3zM1012 768v-6h1v6zM1013 768v-7h1v7zM1014 768v-8h1v8zM1015 768v-6h1v6zM1016 768v-7h1v7zM1017 768v-5h1v5zM1018 768v-6h1v6zM1019 768v-8h1v8zM1020 768v-7h1v7zM1021 768v-8h1v8zM1022 768v-5h1v5zM1023 768v-4h1v4zM1024 768v-7h1v7zM1026 768v-7h1v7zM1027 768v-8h1v8zM1028 768v-6h1v6zM1029 768v-10h1v10zM1031 768v-7h1v7zM1032 768v-8h1v8zM1033 768v-11h1v11zM1034 768v-11h1v11zM1035 768v-11h1v11zM1036 768v-12h1v12zM1037 768v-9h1v9zM1038 768v-10h1v10zM1039 768v-8h1v8zM1040 768v-8h1v8zM1041 768v-11h1v11zM1042 768v-4h1v4zM1043 768v-13h1v13zM1045 768v-12h1v12zM1046 768v-6h1v6zM1047 768v-9h1v9zM1048 768v-9h1v9zM1050 768v-7h1v7zM1051 768v-13h1v13zM1052 768v-8h1v8zM1053 768v-12h1v12zM1054 768v-12h1v12zM1055 768v-10h1v10zM1056 768v-6h1v6zM1057 768v-12h1v12zM1058 768v-8h1v8zM1059 768v-13h1v13zM1060 768v-12h1v12zM1061 768v-9h1v9zM1062 768v-9h1v9zM1064 768v-14h1v14zM1065 768v-11h1v11zM1066 768v-13h1v13zM1067 768v-9h1v9zM1069 768v-12h1v12zM1070 768v-7h1v7zM1071 768v-7h1v7zM1072 768v-10h1v10zM1073 768v-13h1v13zM1074 768v-9h1v9zM1075 768v-10h1v10zM1076 768v-13h1v13zM1077 768v-4h1v4zM1078 768v-13h1v13zM1079 768v-7h1v7zM1080 768v-16h1v16zM1081 768v-7h1v7zM1083 768v-11h1v11zM1084 768v-9h1v9zM1085 768v-14h1v14zM1086 768v-16h1v16zM1088 768v-10h1v10zM1089 768v-17h1v17zM1090 768v-3h1v3zM1091 768v-9h1v9zM1092 768v-13h1v13zM1093 768v-12h1v12zM1094 768v-15h1v15zM1095 768v-14h1v14zM1096 768v-8h1v8zM1097 768v-10h1v10zM1098 768v-11h1v11zM1099 768v-8h1v8zM1100 768v-13h1v13zM1102 768v-14h1v14zM1103 768v-15h1v15zM1104 768v-9h1v9zM1105 768v-14h1v14zM1107 768v-9h1v9zM1108 768v-10h1v10zM1109 768v-18h1v18zM1110 768v-9h1v9zM1111 768v-12h1v12zM1112 768v-17h1v17zM1113 768v-20h1v20zM1114 768v-10h1v10zM1115 768v-13h1v13zM1116 768v-8h1v8zM1117 768v-14h1v14zM1118 768v-16h1v16zM1119 768v-18h1v18zM1121 768v-12h1v12zM1122 768v-7h1v7zM1123 768v-14h1v14zM1124 768v-17h1v17zM1126 768v-7h1v7zM1127 768v-14h1v14zM1128 768v-15h1v15zM1129 768v-7h1v7zM1130 768v-17h1v17zM1131 768v-16h1v16zM1132 768v-20h1v20zM1133 768v-15h1v15zM1134 768v-14h1v14zM1135 768v-17h1v17zM1136 768v-11h1v11zM1137 768v-13h1v13zM1138 768v-13h1v13zM1140 768v-14h1v14zM1141 768v-15h1v15zM1142 768v-11h1v11zM1143 768v-22h1v22zM1145 768v-14h1v14zM1146 768v-15h1v15zM1147 768v-7h1v7zM1148 768v-17h1v17zM1149 768v-16h1v16zM1150 768v-13h1v13zM1151 768v-18h1v18zM1152 768v-17h1v17zM1153 768v-18h1v18zM1154 768v-7h1v7zM1155 768v-16h1v16zM1156 768v-16h1v16zM1157 768v-13h1v13zM1159 768v-18h1v18zM1160 768v-8h1v8zM1161 768v-18h1v18zM1162 768v-22h1v22zM1164 768v-14h1v14zM1165 768v-9h1v9zM1166 768v-4h1v4zM1167 768v-10h1v10zM1168 768v-20h1v20zM1169 768v-17h1v17zM1170 768v-6h1v6zM1171 768v-19h1v19zM1172 768v-14h1v14zM1173 768v-10h1v10zM1174 768v-20h1v20zM1175 768v-7h1v7zM1176 768v-20h1v20zM1178 768v-13h1v13zM1179 768v-14h1v14zM1180 768v-6h1v6zM1181 768v-12h1v12zM1183 768v-15h1v15zM1184 768v-8h1v8zM1185 768v-10h1v10zM1186 768v-14h1v14zM1187 768v-16h1v16zM1188 768v-14h1v14zM1189 768v-18h1v18zM1190 768v-21h1v21zM1191 768v-15h1v15zM1192 768v-16h1v16zM1193 768v-23h1v23zM1194 768v-18h1v18zM1195 768v-18h1v18zM1197 768v-17h1v17zM1198 768v-13h1v13zM1199 768v-11h1v11zM1200 768v-15h1v15zM1202 768v-22h1v22zM1203 768v-11h1v11zM1204 768v-14h1v14zM1205 768v-24h1v24zM1206 768v-5h1v5zM1207 768v-20h1v20zM1208 768v-23h1v23zM1209 768v-24h1v24zM1210 768v-26h1v26zM1211 768v-23h1v23zM1212 768v-13h1v13zM1213 768v-23h1v23zM1214 768v-17h1v17zM1216 768v-27h1v27zM1217 768v-20h1v20zM1218 768v-15h1v15zM1219 768v-18h1v18zM1221 768v-16h1v16zM1222 768v-20h1v20zM1223 768v-24h1v24zM1224 768v-8h1v8zM1225 768v-19h1v19zM1226 768v-18h1v18zM1227 768v-19h1v19zM1228 768v-23h1v23zM1229 768v-20h1v20zM1230 768v-27h1v27zM1231 768v-24h1v24zM1232 768v-17h1v17zM1233 768v-14h1v14zM1235 768v-23h1v23zM1236 768v-22h1v22zM1237 768v-22h1v22zM1238 768v-17h1v17zM1240 768v-5h1v5zM1241 768v-7h1v7zM1242 768v-19h1v19zM1243 768v-22h1v22zM1244 768v-27h1v27zM1245 768v-31h1v31zM1246 768v-16h1v16zM1247 768v-30h1v30zM1248 768v-13h1v13zM1249 768v-9h1v9zM1250 768v-11h1v11zM1251 768v-22h1v22zM1252 768v-10h1v10zM1254 768v-17h1v17zM1255 768v-27h1v27zM1256 768v-15h1v15zM1257 768v-15h1v15zM1259 768v-20h1v20zM1260 768v-19h1v19zM1261 768v-20h1v20zM1262 768v-31h1v31zM1263 768v-31h1v31zM1264 768v-25h1v25zM1265 768v-28h1v28zM1266 768v-22h1v22zM1267 768v-20h1v20zM1268 768v-29h1v29zM1269 768v-33h1v33zM1270 768v-21h1v21zM1271 768v-14h1v14zM1273 768v-12h1v12zM1274 768v-24h1v24zM1275 768v-20h1v20zM1276 768v-22h1v22zM1278 768v-21h1v21zM1279 768v-19h1v19zM1280 768v-33h1v33zM1281 768v-10h1v10zM1282 768v-18h1v18zM1283 768v-24h1v24zM1284 768v-17h1v17zM1285 768v-35h1v35zM1286 768v-2h1v2zM1287 768v-21h1v21zM1288 768v-20h1v20zM1289 768v-22h1v22zM1290 768v-27h1v27zM1292 768v-23h1v23zM1293 768v-15h1v15zM1294 768v-34h1v34zM1295 768v-32h1v32zM1297 768v-32h1v32zM1298 768v-19h1v19zM1299 768v-13h1v13zM1300 768v-9h1v9zM1301 768v-35h1v35zM1302 768v-16h1v16zM1303 768v-18h1v18zM1304 768v-27h1v27zM1305 768v-39h1v39zM1306 768v-16h1v16zM1307 768v-17h1v17zM1308 768v-17h1v17zM1309 768v-35h1v35zM1311 768v-21h1v21zM1312 768v-33h1v33zM1313 768v-24h1v24zM1314 768v-28h1v28zM1316 768v-20h1v20zM1317 768v-26h1v26zM1318 768v-27h1v27zM1319 768v-20h1v20zM1320 768v-29h1v29zM1321 768v-29h1v29zM1322 768v-35h1v35zM1323 768v-28h1v28zM1324 768v-29h1v29zM1325 768v-29h1v29zM1326 768v-5h1v5zM1327 768v-29h1v29zM1328 768v-34h1v34zM1330 768v-24h1v24zM1331 768v-25h1v25zM1332 768v-21h1v21zM1333 768v-29h1v29zM1335 768v-9h1v9zM1336 768v-26h1v26zM1337 768v-8h1v8zM1338 768v-34h1v34zM1339 768v-31h1v31zM1340 768v-20h1v20zM1341 768v-30h1v30zM1342 768v-16h1v16zM1343 768v-20h1v20zM1344 768v-30h1v30zM1345 768v-11h1v11zM1346 768v-15h1v15zM1347 768v-19h1v19zM1349 768v-28h1v28zM1350 768v-26h1v26zM1351 768v-32h1v32zM1352 768v-34h1v34zM1354 768v-32h1v32zM1355 768v-27h1v27zM1356 768v-23h1v23zM1357 768v-17h1v17zM1358 768v-23h1v23zM1359 768v-36h1v36zM1360 768v-33h1v33zM1361 768v-14h1v14zM1362 768v-33h1v33zM1363 768v-38h1v38zM1364 768v-42h1v42zM1365 768v-38h1v38zM1366 768v-27h1v27zM1368 768v-21h1v21zM1369 768v-34h1v34zM1370 768v-18h1v18zM1371 768v-34h1v34zM1373 768v-33h1v33zM1374 768v-8h1v8zM1375 768v-18h1v18zM1376 768v-24h1v24zM1377 768v-27h1v27zM1378 768v-40h1v40zM1379 768v-29h1v29zM1380 768v-37h1v37zM1381 768v-18h1v18zM1382 768v-13h1v13zM1383 768v-24h1v24zM1384 768v-40h1v40zM1385 768v-47h1v47zM1387 768v-34h1v34zM1388 768v-38h1v38zM1389 768v-26h1v26zM1390 768v-38h1v38zM1392 768v-27h1v27zM1393 768v-38h1v38zM1394 768v-24h1v24zM1395 768v-37h1v37zM1396 768v-16h1v16zM1397 768v-42h1v42zM1398 768v-24h1v24zM1399 768v-16h1v16zM1400 768v-31h1v31zM1401 768v-15h1v15zM1402 768v-24h1v24zM1403 768v-38h1v38zM1404 768v-44h1v44zM1406 768v-26h1v26zM1407 768v-21h1v21zM1408 768v-32h1v32zM1409 768v-13h1v13zM1411 768v-34h1v34zM1412 768v-28h1v28zM1413 768v-39h1v39zM1414 768v-39h1v39zM1415 768v-40h1v40zM1416 768v-47h1v47zM1417 768v-21h1v21zM1418 768v-48h1v48zM1419 768v-42h1v42zM1420 768v-27h1v27zM1421 768v-16h1v16zM1422 768v-34h1v34zM1423 768v-34h1v34zM1425 768v-39h1v39zM1426 768v-41h1v41zM1427 768v-31h1v31zM1428 768v-22h1v22zM1430 768v-44h1v44zM1431 768v-47h1v47zM1432 768v-6h1v6zM1433 768v-34h1v34zM1434 768v-25h1v25zM1435 768v-38h1v38zM1436 768v-38h1v38zM1437 768v-33h1v33zM1438 768v-40h1v40zM1439 768v-25h1v25zM1440 768v-55h1v55zM1441 768v-19h1v19zM1442 768v-23h1v23zM1444 768v-28h1v28zM1445 768v-36h1v36zM1446 768v-36h1v36zM1447 768v-22h1v22zM1449 768v-30h1v30zM1450 768v-33h1v33zM1451 768v-21h1v21zM1452 768v-22h1v22zM1453 768v-46h1v46zM1454 768v-16h1v16zM1455 768v-47h1v47zM1456 768v-53h1v53zM1457 768v-45h1v45zM1458 768v-29h1v29zM1459 768v-24h1v24zM1460 768v-27h1v27zM1461 768v-28h1v28zM1463 768v-50h1v50zM1464 768v-49h1v49zM1465 768v-20h1v20zM1466 768v-37h1v37zM1468 768v-32h1v32zM1469 768v-51h1v51zM1470 768v-38h1v38zM1471 768v-53h1v53zM1472 768v-36h1v36zM1473 768v-30h1v30zM1474 768v-22h1v22zM1475 768v-15h1v15zM1476 768v-43h1v43zM1477 768v-58h1v58zM1478 768v-31h1v31zM1479 768v-39h1v39zM1480 768v-17h1v17zM1482 768v-27h1v27zM1483 768v-39h1v39zM1484 768v-53h1v53zM1485 768v-50h1v50zM1487 768v-46h1v46zM1488 768v-21h1v21zM1489 768v-36h1v36zM1490 768v-30h1v30zM1491 768v-35h1v35zM1492 768v-26h1v26zM1493 768v-51h1v51zM1494 768v-22h1v22zM1495 768v-58h1v58zM1496 768v-31h1v31zM1497 768v-29h1v29zM1498 768v-21h1v21zM1499 768v-58h1v58zM1501 768v-28h1v28zM1502 768v-58h1v58zM1503 768v-28h1v28zM1504 768v-21h1v21zM1506 768v-47h1v47zM1507 768v-44h1v44zM1508 768v-34h1v34zM1509 768v-58h1v58zM1510 768v-35h1v35zM1511 768v-33h1v33zM1512 768v-43h1v43zM1513 768v-20h1v20zM1514 768v-52h1v52zM1515 768v-27h1v27zM1516 768v-47h1v47zM1517 768v-46h1v46zM1518 768v-29h1v29zM1520 768v-64h1v64zM1521 768v-25h1v25zM1522 768v-56h1v56zM1523 768v-18h1v18zM1525 768v-38h1v38zM1526 768v-63h1v63zM1527 768v-46h1v46zM1528 768v-18h1v18zM1529 768v-53h1v53zM1530 768v-67h1v67zM1531 768v-56h1v56zM1532 768v-53h1v53zM1533 768v-15h1v15zM1534 768v-43h1v43zM1535 768v-45h1v45zM1536 768v-19h1v19zM1537 768v-40h1v40zM1539 768v-32h1v32zM1540 768v-32h1v32zM1541 768v-53h1v53zM1542 768v-49h1v49zM1544 768v-43h1v43zM1545 768v-45h1v45zM1546 768v-35h1v35zM1547 768v-58h1v58zM1548 768v-30h1v30zM1549 768v-41h1v41zM1550 768v-47h1v47zM1551 768v-69h1v69zM1552 768v-26h1v26zM1553 768v-57h1v57zM1554 768v-34h1v34zM1555 768v-40h1v40zM1556 768v-66h1v66zM1558 768v-42h1v42zM1559 768v-41h1v41zM1560 768v-68h1v68zM1561 768v-83h1v83zM1563 768v-80h1v80zM1564 768v-61h1v61zM1565 768v-59h1v59zM1566 768v-51h1v51zM1567 768v-32h1v32zM1568 768v-41h1v41zM1569 768v-46h1v46zM1570 768v-75h1v75zM1571 768v-58h1v58zM1572 768v-76h1v76zM1573 768v-68h1v68zM1574 768v-74h1v74zM1575 768v-39h1v39zM1577 768v-75h1v75zM1578 768v-57h1v57zM1579 768v-44h1v44zM1580 768v-35h1v35zM1582 768v-69h1v69zM1583 768v-63h1v63zM1584 768v-51h1v51zM1585 768v-46h1v46zM1586 768v-58h1v58zM1587 768v-36h1v36zM1588 768v-63h1v63zM1589 768v-54h1v54zM1590 768v-81h1v81zM1591 768v-83h1v83zM1592 768v-79h1v79zM1593 768v-40h1v40zM1594 768v-49h1v49zM1596 768v-46h1v46zM1597 768v-57h1v57zM1598 768v-56h1v56zM1599 768v-72h1v72zM1601 768v-69h1v69zM1602 768v-51h1v51zM1603 768v-56h1v56zM1604 768v-76h1v76zM1605 768v-63h1v63zM1606 768v-85h1v85zM1607 768v-52h1v52zM1608 768v-53h1v53zM1609 768v-70h1v70zM1610 768v-80h1v80zM1611 768v-92h1v92zM1612 768v-84h1v84zM1613 768v-60h1v60zM1615 768v-45h1v45zM1616 768v-78h1v78zM1617 768v-65h1v65zM1618 768v-61h1v61zM1620 768v-59h1v59zM1621 768v-76h1v76zM1622 768v-85h1v85zM1623 768v-86h1v86zM1624 768v-53h1v53zM1625 768v-27h1v27zM1626 768v-59h1v59zM1627 768v-74h1v74zM1628 768v-59h1v59zM1629 768v-48h1v48zM1630 768v-73h1v73zM1631 768v-41h1v41zM1632 768v-83h1v83zM1634 768v-56h1v56zM1635 768v-110h1v110zM1636 768v-57h1v57zM1637 768v-29h1v29zM1639 768v-43h1v43zM1640 768v-106h1v106zM1641 768v-94h1v94zM1642 768v-66h1v66zM1643 768v-70h1v70zM1644 768v-72h1v72zM1645 768v-109h1v109zM1646 768v-88h1v88zM1647 768v-78h1v78zM1648 768v-32h1v32zM1649 768v-74h1v74zM1650 768v-84h1v84zM1651 768v-94h1v94zM1653 768v-74h1v74zM1654 768v-93h1v93zM1655 768v-112h1v112zM1656 768v-113h1v113zM1658 768v-124h1v124zM1659 768v-56h1v56zM1660 768v-75h1v75zM1661 768v-118h1v118zM1662 768v-66h1v66zM1663 768v-52h1v52zM1664 768v-74h1v74zM1665 768v-67h1v67zM1666 768v-113h1v113zM1667 768v-79h1v79zM1668 768v-56h1v56zM1669 768v-78h1v78zM1670 768v-93h1v93zM1672 768v-44h1v44zM1673 768v-68h1v68zM1674 768v-85h1v85zM1675 768v-121h1v121zM1677 768v-99h1v99zM1678 768v-108h1v108zM1679 768v-115h1v115zM1680 768v-80h1v80zM1681 768v-114h1v114zM1682 768v-131h1v131zM1683 768v-73h1v73zM1684 768v-58h1v58zM1685 768v-92h1v92zM1686 768v-124h1v124zM1687 768v-85h1v85zM1688 768v-61h1v61zM1689 768v-42h1v42zM1691 768v-97h1v97zM1692 768v-120h1v120zM1693 768v-110h1v110zM1694 768v-132h1v132zM1696 768v-131h1v131zM1697 768v-138h1v138zM1698 768v-101h1v101zM1699 768v-153h1v153zM1700 768v-130h1v130zM1701 768v-61h1v61zM1702 768v-123h1v123zM1703 768v-87h1v87zM1704 768v-59h1v59zM1705 768v-96h1v96zM1706 768v-77h1v77zM1707 768v-22h1v22zM1708 768v-85h1v85zM1710 768v-178h1v178zM1711 768v-130h1v130zM1712 768v-98h1v98zM1713 768v-66h1v66zM1715 768v-167h1v167zM1716 768v-185h1v185zM1717 768v-213h1v213zM1718 768v-157h1v157zM1719 768v-154h1v154zM1720 768v-167h1v167zM1721 768v-114h1v114zM1722 768v-170h1v170zM1723 768v-110h1v110zM1724 768v-176h1v176zM1725 768v-127h1v127zM1726 768v-120h1v120zM1727 768v-175h1v175zM1729 768v-168h1v168zM1730 768v-181h1v181zM1731 768v-78h1v78zM1732 768v-172h1v172zM1734 768v-247h1v247zM1735 768v-163h1v163zM1736 768v-90h1v90zM1737 768v-127h1v127zM1738 768v-193h1v193zM1739 768v-220h1v220zM1740 768v-189h1v189zM1741 768v-225h1v225zM1742 768v-226h1v226zM1743 768v-298h1v298zM1744 768v-214h1v214zM1745 768v-41h1v41zM1746 768v-245h1v245zM1748 768v-74h1v74zM1749 768v-213h1v213zM1750 768v-320h1v320zM1751 768v-311h1v311zM1753 768v-527h1v527zM1754 768v-402h1v402zM1755 768v-415h1v415zM1756 768v-429h1v429z"/>
<path fill="#F0E442" d="M946 766v-1h1v1zM947 765v-1h1v1zM951 765v-1h1v1zM953 764v-1h1v1zM955 764v-1h1v1zM957 764v-1h1v1zM958 764v-1h1v1zM959 764v-2h1v2zM962 764v-1h1v1zM963 763v-1h1v1zM964 763v-1h1v1zM965 764v-1h1v1zM967 767v-3h1v3zM969 766v-3h1v3zM970 762v-1h1v1zM972 764v-1h1v1zM975 765v-3h1v3zM978 765v-1h1v1zM979 762v-2h1v2zM981 763v-1h1v1zM983 765v-5h1v5zM984 762v-1h1v1zM985 763v-2h1v2zM988 761v-1h1v1zM989 762v-2h1v2zM990 762v-3h1v3zM991 764v-3h1v3zM993 761v-2h1v2zM994 762v-3h1v3zM996 763v-4h1v4zM997 763v-2h1v2zM998 761v-1h1v1zM999 762v-3h1v3zM1000 763v-1h1v1zM1001 763v-4h1v4zM1002 762v-1h1v1zM1003 762v-2h1v2zM1004 763v-1h1v1zM1005 762v-2h1v2zM1007 760v-1h1v1zM1012 762v-3h1v3zM1014 760v-1h1v1zM1015 762v-1h1v1zM1016 761v-3h1v3zM1018 762v-4h1v4zM1019 760v-2h1v2zM1020 761v-4h1v4zM1021 760v-1h1v1zM1023 764v-8h1v8zM1024 761v-5h1v5zM1026 761v-4h1v4zM1027 760v-2h1v2zM1028 762v-4h1v4zM1031 761v-5h1v5zM1032 760v-1h1v1zM1033 757v-1h1v1zM1034 757v-2h1v2zM1035 757v-1h1v1zM1038 758v-1h1v1zM1039 760v-1h1v1zM1040 760v-4h1v4zM1041 757v-2h1v2zM1042 764v-9h1v9zM1043 755v-1h1v1zM1046 762v-8h1v8zM1047 759v-3h1v3zM1048 759v-3h1v3zM1050 761v-4h1v4zM1051 755v-2h1v2zM1054 756v-2h1v2zM1056 762v-7h1v7zM1057 756v-1h1v1zM1059 755v-2h1v2zM1060 756v-2h1v2zM1061 759v-2h1v2zM1062 759v-3h1v3zM1064 754v-2h1v2zM1065 757v-3h1v3zM1066 755v-4h1v4zM1067 759v-2h1v2zM1070 761v-9h1v9zM1071 761v-1h1v1zM1072 758v-1h1v1zM1073 755v-1h1v1zM1074 759v-9h1v9zM1075 758v-6h1v6zM1076 755v-3h1v3zM1077 764v-6h1v6zM1078 755v-4h1v4zM1079 761v-2h1v2zM1080 752v-1h1v1zM1081 761v-3h1v3zM1083 757v-5h1v5zM1084 759v-3h1v3zM1086 752v-2h1v2zM1089 751v-1h1v1zM1090 765v-15h1v15zM1091 759v-8h1v8zM1092 755v-1h1v1zM1094 753v-1h1v1zM1096 760v-7h1v7zM1097 758v-10h1v10zM1099 760v-9h1v9zM1100 755v-4h1v4zM1102 754v-4h1v4zM1103 753v-6h1v6zM1104 759v-9h1v9zM1105 754v-1h1v1zM1107 759v-3h1v3zM1108 758v-6h1v6zM1109 750v-1h1v1zM1110 759v-7h1v7zM1111 756v-6h1v6zM1112 751v-1h1v1zM1113 748v-1h1v1zM1114 758v-4h1v4zM1115 755v-3h1v3zM1116 760v-5h1v5zM1117 754v-3h1v3zM1118 752v-4h1v4zM1119 750v-3h1v3zM1121 756v-6h1v6zM1122 761v-16h1v16zM1123 754v-6h1v6zM1124 751v-3h1v3zM1126 761v-4h1v4zM1127 754v-4h1v4zM1128 753v-2h1v2zM1129 761v-3h1v3zM1130 751v-6h1v6zM1131 752v-5h1v5zM1133 753v-4h1v4zM1134 754v-6h1v6zM1136 757v-5h1v5zM1137 755v-10h1v10zM1138 755v-8h1v8zM1140 754v-7h1v7zM1142 757v-5h1v5zM1143 746v-1h1v1zM1145 754v-5h1v5zM1146 753v-7h1v7zM1147 761v-14h1v14zM1148 751v-4h1v4zM1149 752v-8h1v8zM1150 755v-4h1v4zM1151 750v-3h1v3zM1152 751v-3h1v3zM1153 750v-2h1v2zM1154 761v-9h1v9zM1155 752v-4h1v4zM1156 752v-4h1v4zM1157 755v-13h1v13zM1159 750v-2h1v2zM1161 750v-5h1v5zM1162 746v-3h1v3zM1165 759v-3h1v3zM1166 764v-20h1v20zM1167 758v-10h1v10zM1168 748v-5h1v5zM1169 751v-7h1v7zM1170 762v-8h1v8zM1171 749v-5h1v5zM1172 754v-11h1v11zM1174 748v-2h1v2zM1175 761v-9h1v9zM1176 748v-5h1v5zM1179 754v-9h1v9zM1180 762v-21h1v21zM1181 756v-4h1v4zM1184 760v-6h1v6zM1185 758v-1h1v1zM1186 754v-2h1v2zM1187 752v-4h1v4zM1188 754v-13h1v13zM1189 750v-4h1v4zM1190 747v-8h1v8zM1192 752v-10h1v10zM1193 745v-2h1v2zM1194 750v-6h1v6zM1195 750v-5h1v5zM1197 751v-7h1v7zM1198 755v-8h1v8zM1199 757v-6h1v6zM1200 753v-9h1v9zM1202 746v-4h1v4zM1203 757v-18h1v18zM1204 754v-7h1v7zM1206 763v-18h1v18zM1207 748v-5h1v5zM1208 745v-3h1v3zM1210 742v-5h1v5zM1211 745v-5h1v5zM1212 755v-1h1v1zM1213 745v-4h1v4zM1214 751v-8h1v8zM1216 741v-3h1v3zM1217 748v-8h1v8zM1218 753v-10h1v10zM1219 750v-1h1v1zM1221 752v-3h1v3zM1222 748v-4h1v4zM1223 744v-4h1v4zM1224 760v-14h1v14zM1225 749v-5h1v5zM1226 750v-4h1v4zM1227 749v-4h1v4zM1228 745v-7h1v7zM1229 748v-2h1v2zM1230 741v-4h1v4zM1231 744v-4h1v4zM1232 751v-15h1v15zM1233 754v-6h1v6zM1235 745v-8h1v8zM1237 746v-4h1v4zM1238 751v-7h1v7zM1240 763v-19h1v19zM1241 761v-12h1v12zM1242 749v-9h1v9zM1243 746v-6h1v6zM1244 741v-5h1v5zM1245 737v-2h1v2zM1246 752v-12h1v12zM1247 738v-3h1v3zM1248 755v-3h1v3zM1249 759v-3h1v3zM1250 757v-20h1v20zM1251 746v-3h1v3zM1252 758v-8h1v8zM1254 751v-8h1v8zM1255 741v-8h1v8zM1256 753v-17h1v17zM1257 753v-9h1v9zM1259 748v-5h1v5zM1261 748v-4h1v4zM1262 737v-2h1v2zM1263 737v-3h1v3zM1264 743v-1h1v1zM1265 740v-1h1v1zM1268 739v-4h1v4zM1269 735v-2h1v2zM1270 747v-12h1v12zM1271 754v-9h1v9zM1273 756v-13h1v13zM1274 744v-8h1v8zM1275 748v-8h1v8zM1279 749v-3h1v3zM1282 750v-17h1v17zM1283 744v-14h1v14zM1284 751v-6h1v6zM1285 733v-1h1v1zM1286 766v-19h1v19zM1287 747v-4h1v4zM1288 748v-14h1v14zM1289 746v-2h1v2zM1290 741v-1h1v1zM1292 745v-4h1v4zM1293 753v-15h1v15zM1294 734v-5h1v5zM1297 736v-5h1v5zM1298 749v-8h1v8zM1299 755v-24h1v24zM1300 759v-16h1v16zM1302 752v-9h1v9zM1303 750v-11h1v11zM1304 741v-3h1v3zM1305 729v-2h1v2zM1306 752v-14h1v14zM1307 751v-17h1v17zM1308 751v-4h1v4zM1309 733v-1h1v1zM1311 747v-9h1v9zM1312 735v-6h1v6zM1313 744v-13h1v13zM1314 740v-9h1v9zM1316 748v-11h1v11zM1317 742v-12h1v12zM1318 741v-7h1v7zM1321 739v-11h1v11zM1322 733v-7h1v7zM1323 740v-11h1v11zM1325 739v-7h1v7zM1327 739v-7h1v7zM1328 734v-1h1v1zM1331 743v-15h1v15zM1332 747v-11h1v11zM1333 739v-3h1v3zM1335 759v-4h1v4zM1337 760v-31h1v31zM1338 734v-11h1v11zM1339 737v-5h1v5zM1340 748v-26h1v26zM1341 738v-3h1v3zM1343 748v-3h1v3zM1344 738v-7h1v7zM1345 757v-27h1v27zM1346 753v-6h1v6zM1347 749v-8h1v8zM1349 740v-10h1v10zM1350 742v-1h1v1zM1352 734v-5h1v5zM1354 736v-13h1v13zM1355 741v-10h1v10zM1356 745v-2h1v2zM1357 751v-12h1v12zM1358 745v-17h1v17zM1359 732v-9h1v9zM1360 735v-4h1v4zM1361 754v-11h1v11zM1362 735v-2h1v2zM1363 730v-4h1v4zM1364 726v-1h1v1zM1365 730v-3h1v3zM1366 741v-18h1v18zM1368 747v-10h1v10zM1369 734v-6h1v6zM1370 750v-23h1v23zM1371 734v-7h1v7zM1374 760v-14h1v14zM1376 744v-24h1v24zM1377 741v-11h1v11zM1378 728v-3h1v3zM1381 750v-29h1v29zM1382 755v-9h1v9zM1383 744v-18h1v18zM1384 728v-10h1v10zM1385 721v-2h1v2zM1387 734v-6h1v6zM1388 730v-11h1v11zM1390 730v-5h1v5zM1392 741v-7h1v7zM1393 730v-4h1v4zM1394 744v-11h1v11zM1396 752v-12h1v12zM1397 726v-4h1v4zM1398 744v-4h1v4zM1399 752v-8h1v8zM1400 737v-9h1v9zM1401 753v-5h1v5zM1402 744v-10h1v10zM1403 730v-8h1v8zM1404 724v-6h1v6zM1406 742v-21h1v21zM1407 747v-13h1v13zM1408 736v-22h1v22zM1409 755v-5h1v5zM1411 734v-15h1v15zM1412 740v-12h1v12zM1413 729v-8h1v8zM1414 729v-11h1v11zM1415 728v-14h1v14zM1416 721v-5h1v5zM1417 747v-5h1v5zM1419 726v-11h1v11zM1420 741v-15h1v15zM1421 752v-20h1v20zM1422 734v-13h1v13zM1423 734v-21h1v21zM1425 729v-5h1v5zM1426 727v-5h1v5zM1427 737v-19h1v19zM1428 746v-10h1v10zM1430 724v-13h1v13zM1432 762v-24h1v24zM1433 734v-9h1v9zM1434 743v-29h1v29zM1435 730v-11h1v11zM1436 730v-5h1v5zM1437 735v-20h1v20zM1438 728v-5h1v5zM1439 743v-15h1v15zM1440 713v-3h1v3zM1441 749v-40h1v40zM1442 745v-4h1v4zM1444 740v-6h1v6zM1446 732v-14h1v14zM1447 746v-20h1v20zM1449 738v-3h1v3zM1450 735v-14h1v14zM1451 747v-39h1v39zM1452 746v-2h1v2zM1454 752v-41h1v41zM1455 721v-1h1v1zM1456 715v-4h1v4zM1457 723v-9h1v9zM1458 739v-17h1v17zM1459 744v-26h1v26zM1461 740v-29h1v29zM1463 718v-2h1v2zM1464 719v-8h1v8zM1465 748v-20h1v20zM1466 731v-16h1v16zM1468 736v-25h1v25zM1470 730v-18h1v18zM1471 715v-6h1v6zM1472 732v-19h1v19zM1473 738v-20h1v20zM1475 753v-33h1v33zM1476 725v-15h1v15zM1477 710v-5h1v5zM1478 737v-12h1v12zM1480 751v-30h1v30zM1482 741v-22h1v22zM1483 729v-2h1v2zM1484 715v-1h1v1zM1485 718v-5h1v5zM1487 722v-13h1v13zM1488 747v-32h1v32zM1489 732v-16h1v16zM1490 738v-1h1v1zM1492 742v-26h1v26zM1493 717v-12h1v12zM1494 746v-19h1v19zM1495 710v-7h1v7zM1496 737v-33h1v33zM1497 739v-23h1v23zM1498 747v-28h1v28zM1501 740v-27h1v27zM1502 710v-3h1v3zM1503 740v-32h1v32zM1504 747v-17h1v17zM1506 721v-18h1v18zM1507 724v-5h1v5zM1508 734v-12h1v12zM1510 733v-15h1v15zM1511 735v-12h1v12zM1512 725v-20h1v20zM1513 748v-48h1v48zM1514 716v-16h1v16zM1515 741v-32h1v32zM1516 721v-6h1v6zM1517 722v-19h1v19zM1518 739v-36h1v36zM1520 704v-9h1v9zM1521 743v-16h1v16zM1522 712v-12h1v12zM1525 730v-35h1v35zM1526 705v-6h1v6zM1527 722v-14h1v14zM1528 750v-13h1v13zM1529 715v-16h1v16zM1530 701v-7h1v7zM1531 712v-21h1v21zM1532 715v-17h1v17zM1534 725v-19h1v19zM1535 723v-12h1v12zM1536 749v-7h1v7zM1537 728v-13h1v13zM1539 736v-18h1v18zM1540 736v-6h1v6zM1542 719v-15h1v15zM1544 725v-15h1v15zM1545 723v-14h1v14zM1546 733v-24h1v24zM1547 710v-2h1v2zM1548 738v-34h1v34zM1549 727v-14h1v14zM1550 721v-7h1v7zM1551 699v-4h1v4zM1552 742v-11h1v11zM1554 734v-50h1v50zM1556 702v-19h1v19zM1558 726v-5h1v5zM1559 727v-11h1v11zM1560 700v-7h1v7zM1563 688v-6h1v6zM1564 707v-18h1v18zM1566 717v-21h1v21zM1567 736v-22h1v22zM1568 727v-43h1v43zM1569 722v-5h1v5zM1570 693v-5h1v5zM1571 710v-12h1v12zM1572 692v-6h1v6zM1573 700v-6h1v6zM1574 694v-10h1v10zM1575 729v-15h1v15zM1577 693v-6h1v6zM1578 711v-15h1v15zM1579 724v-6h1v6zM1582 699v-10h1v10zM1584 717v-25h1v25zM1585 722v-45h1v45zM1586 710v-17h1v17zM1587 732v-11h1v11zM1589 714v-17h1v17zM1590 687v-15h1v15zM1591 685v-11h1v11zM1592 689v-7h1v7zM1593 728v-27h1v27zM1597 711v-27h1v27zM1598 712v-42h1v42zM1599 696v-25h1v25zM1602 717v-28h1v28zM1603 712v-12h1v12zM1604 692v-16h1v16zM1605 705v-24h1v24zM1606 683v-3h1v3zM1607 716v-31h1v31zM1608 715v-27h1v27zM1612 684v-21h1v21zM1613 708v-24h1v24zM1615 723v-2h1v2zM1616 690v-5h1v5zM1617 703v-5h1v5zM1618 707v-49h1v49zM1620 709v-2h1v2zM1621 692v-17h1v17zM1623 682v-28h1v28zM1624 715v-25h1v25zM1625 741v-46h1v46zM1626 709v-33h1v33zM1627 694v-27h1v27zM1628 709v-48h1v48zM1629 720v-62h1v62zM1631 727v-44h1v44zM1632 685v-31h1v31zM1634 712v-43h1v43zM1635 658v-4h1v4zM1636 711v-52h1v52zM1637 739v-80h1v80zM1639 725v-62h1v62zM1640 662v-6h1v6zM1641 674v-29h1v29zM1642 702v-21h1v21zM1643 698v-6h1v6zM1644 696v-36h1v36zM1646 680v-16h1v16zM1647 690v-17h1v17zM1648 736v-19h1v19zM1649 694v-10h1v10zM1650 684v-2h1v2zM1651 674v-12h1v12zM1653 694v-22h1v22zM1654 675v-18h1v18zM1655 656v-22h1v22zM1658 644v-9h1v9zM1659 712v-10h1v10zM1660 693v-16h1v16zM1661 650v-13h1v13zM1662 702v-15h1v15zM1664 694v-37h1v37zM1665 701v-64h1v64zM1666 655v-2h1v2zM1667 689v-28h1v28zM1668 712v-38h1v38zM1670 675v-1h1v1zM1672 724v-66h1v66zM1673 700v-70h1v70zM1674 683v-64h1v64zM1675 647v-18h1v18zM1677 669v-47h1v47zM1678 660v-31h1v31zM1679 653v-22h1v22zM1680 688v-46h1v46zM1681 654v-17h1v17zM1682 637v-22h1v22zM1683 695v-21h1v21zM1684 710v-97h1v97zM1686 644v-27h1v27zM1687 683v-69h1v69zM1688 707v-7h1v7zM1689 726v-18h1v18zM1691 671v-8h1v8zM1692 648v-39h1v39zM1693 658v-11h1v11zM1694 636v-12h1v12zM1696 637v-39h1v39zM1697 630v-32h1v32zM1698 667v-35h1v35zM1699 615v-26h1v26zM1700 638v-53h1v53zM1701 707v-22h1v22zM1702 645v-29h1v29zM1703 681v-51h1v51zM1705 672v-75h1v75zM1706 691v-27h1v27zM1707 746v-10h1v10zM1708 683v-92h1v92zM1710 590v-25h1v25zM1711 638v-12h1v12zM1712 670v-39h1v39zM1713 702v-143h1v143zM1715 601v-22h1v22zM1716 583v-17h1v17zM1717 555v-5h1v5zM1718 611v-4h1v4zM1720 601v-39h1v39zM1721 654v-13h1v13zM1722 598v-54h1v54zM1723 658v-28h1v28zM1724 592v-64h1v64zM1725 641v-60h1v60zM1726 648v-49h1v49zM1727 593v-70h1v70zM1729 600v-17h1v17zM1730 587v-64h1v64zM1731 690v-38h1v38zM1732 596v-66h1v66zM1735 605v-65h1v65zM1737 641v-121h1v121zM1738 575v-66h1v66zM1739 548v-46h1v46zM1740 579v-86h1v86zM1741 543v-80h1v80zM1742 542v-128h1v128zM1743 470v-31h1v31zM1744 554v-101h1v101zM1746 523v-140h1v140zM1749 555v-197h1v197zM1750 448v-101h1v101zM1751 457v-11h1v11zM1753 241v-16h1v16zM1754 366v-60h1v60zM1755 353v-240h1v240zM1756 339v-236h1v236z"/>
<path fill="#0072B2" d="M945 765v-1h1v1zM946 765v-1h1v1zM947 764v-1h1v1zM948 765v-2h1v2zM950 765v-2h1v2zM951 764v-1h1v1zM952 765v-2h1v2zM955 763v-1h1v1zM956 763v-1h1v1zM957 763v-1h1v1zM958 763v-1h1v1zM960 764v-2h1v2zM961 763v-1h1v1zM962 763v-1h1v1zM964 762v-1h1v1zM965 763v-2h1v2zM966 764v-3h1v3zM967 764v-3h1v3zM969 763v-2h1v2zM971 763v-2h1v2zM972 763v-2h1v2zM974 762v-2h1v2zM975 762v-2h1v2zM976 762v-2h1v2zM977 762v-2h1v2zM978 764v-4h1v4zM980 761v-1h1v1zM981 762v-2h1v2zM982 760v-1h1v1zM983 760v-1h1v1zM984 761v-2h1v2zM985 761v-2h1v2zM986 764v-5h1v5zM988 760v-1h1v1zM989 760v-1h1v1zM991 761v-2h1v2zM993 759v-1h1v1zM994 759v-1h1v1zM995 760v-2h1v2zM996 759v-1h1v1zM997 761v-3h1v3zM998 760v-2h1v2zM999 759v-1h1v1zM1000 762v-4h1v4zM1001 759v-1h1v1zM1002 761v-4h1v4zM1003 760v-3h1v3zM1004 762v-5h1v5zM1005 760v-3h1v3zM1007 759v-2h1v2zM1008 759v-2h1v2zM1009 762v-5h1v5zM1010 765v-8h1v8zM1012 759v-3h1v3zM1013 761v-5h1v5zM1014 759v-3h1v3zM1015 761v-5h1v5zM1016 758v-2h1v2zM1017 763v-7h1v7zM1018 758v-2h1v2zM1019 758v-2h1v2zM1020 757v-1h1v1zM1021 759v-3h1v3zM1022 763v-7h1v7zM1023 756v-1h1v1zM1024 756v-1h1v1zM1026 757v-2h1v2zM1027 758v-3h1v3zM1028 758v-3h1v3zM1029 758v-3h1v3zM1031 756v-1h1v1zM1032 759v-5h1v5zM1033 756v-2h1v2zM1034 755v-1h1v1zM1035 756v-2h1v2zM1036 756v-2h1v2zM1037 759v-5h1v5zM1038 757v-3h1v3zM1039 759v-5h1v5zM1040 756v-2h1v2zM1041 755v-2h1v2zM1042 755v-2h1v2zM1043 754v-1h1v1zM1045 756v-3h1v3zM1046 754v-1h1v1zM1047 756v-3h1v3zM1048 756v-3h1v3zM1050 757v-4h1v4zM1051 753v-1h1v1zM1052 760v-8h1v8zM1053 756v-4h1v4zM1054 754v-2h1v2zM1055 758v-6h1v6zM1056 755v-3h1v3zM1057 755v-3h1v3zM1058 760v-8h1v8zM1059 753v-1h1v1zM1060 754v-3h1v3zM1061 757v-6h1v6zM1062 756v-5h1v5zM1064 752v-1h1v1zM1065 754v-3h1v3zM1067 757v-6h1v6zM1069 756v-5h1v5zM1070 752v-2h1v2zM1071 760v-10h1v10zM1072 757v-7h1v7zM1073 754v-4h1v4zM1075 752v-2h1v2zM1076 752v-2h1v2zM1077 758v-8h1v8zM1078 751v-1h1v1zM1079 759v-10h1v10zM1080 751v-2h1v2zM1081 758v-9h1v9zM1083 752v-3h1v3zM1084 756v-7h1v7zM1085 754v-5h1v5zM1086 750v-1h1v1zM1088 758v-10h1v10zM1089 750v-2h1v2zM1090 750v-2h1v2zM1091 751v-3h1v3zM1092 754v-6h1v6zM1093 756v-8h1v8zM1094 752v-4h1v4zM1095 754v-6h1v6zM1096 753v-5h1v5zM1098 757v-10h1v10zM1099 751v-4h1v4zM1100 751v-4h1v4zM1102 750v-3h1v3zM1104 750v-3h1v3zM1105 753v-6h1v6zM1107 756v-9h1v9zM1108 752v-6h1v6zM1109 749v-3h1v3zM1110 752v-6h1v6zM1111 750v-4h1v4zM1112 750v-4h1v4zM1113 747v-1h1v1zM1114 754v-8h1v8zM1115 752v-6h1v6zM1116 755v-9h1v9zM1117 751v-5h1v5zM1118 748v-2h1v2zM1119 747v-2h1v2zM1121 750v-5h1v5zM1123 748v-3h1v3zM1124 748v-3h1v3zM1126 757v-12h1v12zM1127 750v-5h1v5zM1128 751v-6h1v6zM1129 758v-14h1v14zM1130 745v-1h1v1zM1131 747v-3h1v3zM1132 748v-4h1v4zM1133 749v-5h1v5zM1134 748v-4h1v4zM1135 751v-7h1v7zM1136 752v-8h1v8zM1137 745v-1h1v1zM1138 747v-3h1v3zM1140 747v-4h1v4zM1141 753v-10h1v10zM1142 752v-9h1v9zM1143 745v-2h1v2zM1145 749v-6h1v6zM1146 746v-3h1v3zM1147 747v-4h1v4zM1148 747v-4h1v4zM1149 744v-1h1v1zM1150 751v-9h1v9zM1151 747v-5h1v5zM1152 748v-6h1v6zM1153 748v-6h1v6zM1154 752v-10h1v10zM1155 748v-6h1v6zM1156 748v-6h1v6zM1159 748v-6h1v6zM1160 760v-18h1v18zM1161 745v-4h1v4zM1162 743v-2h1v2zM1164 754v-13h1v13zM1165 756v-15h1v15zM1166 744v-3h1v3zM1167 748v-7h1v7zM1168 743v-2h1v2zM1169 744v-3h1v3zM1170 754v-13h1v13zM1171 744v-4h1v4zM1172 743v-3h1v3zM1173 758v-18h1v18zM1174 746v-6h1v6zM1175 752v-12h1v12zM1176 743v-3h1v3zM1178 755v-15h1v15zM1179 745v-5h1v5zM1180 741v-1h1v1zM1181 752v-12h1v12zM1183 753v-14h1v14zM1184 754v-15h1v15zM1185 757v-18h1v18zM1186 752v-13h1v13zM1187 748v-9h1v9zM1188 741v-2h1v2zM1189 746v-7h1v7zM1191 753v-14h1v14zM1192 742v-4h1v4zM1193 743v-5h1v5zM1194 744v-6h1v6zM1195 745v-7h1v7zM1197 744v-6h1v6zM1198 747v-9h1v9zM1199 751v-13h1v13zM1200 744v-6h1v6zM1202 742v-5h1v5zM1203 739v-2h1v2zM1204 747v-10h1v10zM1205 744v-7h1v7zM1206 745v-8h1v8zM1207 743v-6h1v6zM1208 742v-5h1v5zM1209 744v-7h1v7zM1211 740v-4h1v4zM1212 754v-18h1v18zM1213 741v-5h1v5zM1214 743v-7h1v7zM1216 738v-2h1v2zM1217 740v-4h1v4zM1218 743v-7h1v7zM1219 749v-13h1v13zM1221 749v-14h1v14zM1222 744v-9h1v9zM1223 740v-5h1v5zM1224 746v-11h1v11zM1225 744v-9h1v9zM1226 746v-11h1v11zM1227 745v-10h1v10zM1228 738v-3h1v3zM1229 746v-11h1v11zM1230 737v-2h1v2zM1231 740v-6h1v6zM1232 736v-2h1v2zM1233 748v-14h1v14zM1235 737v-3h1v3zM1236 746v-12h1v12zM1237 742v-8h1v8zM1238 744v-10h1v10zM1240 744v-10h1v10zM1241 749v-16h1v16zM1242 740v-7h1v7zM1243 740v-7h1v7zM1244 736v-3h1v3zM1245 735v-2h1v2zM1246 740v-7h1v7zM1247 735v-2h1v2zM1248 752v-19h1v19zM1249 756v-23h1v23zM1250 737v-4h1v4zM1251 743v-11h1v11zM1252 750v-18h1v18zM1254 743v-11h1v11zM1255 733v-1h1v1zM1256 736v-4h1v4zM1257 744v-12h1v12zM1259 743v-11h1v11zM1260 749v-17h1v17zM1261 744v-13h1v13zM1262 735v-4h1v4zM1263 734v-3h1v3zM1264 742v-11h1v11zM1265 739v-8h1v8zM1266 746v-15h1v15zM1267 748v-17h1v17zM1268 735v-4h1v4zM1269 733v-2h1v2zM1270 735v-4h1v4zM1271 745v-15h1v15zM1273 743v-13h1v13zM1274 736v-6h1v6zM1275 740v-10h1v10zM1276 746v-16h1v16zM1278 747v-18h1v18zM1279 746v-17h1v17zM1280 735v-6h1v6zM1281 758v-29h1v29zM1282 733v-4h1v4zM1283 730v-1h1v1zM1284 745v-16h1v16zM1285 732v-3h1v3zM1286 747v-18h1v18zM1287 743v-15h1v15zM1288 734v-6h1v6zM1289 744v-16h1v16zM1290 740v-12h1v12zM1292 741v-13h1v13zM1293 738v-10h1v10zM1294 729v-1h1v1zM1295 736v-9h1v9zM1297 731v-4h1v4zM1298 741v-14h1v14zM1299 731v-4h1v4zM1300 743v-16h1v16zM1301 733v-6h1v6zM1302 743v-16h1v16zM1303 739v-13h1v13zM1304 738v-12h1v12zM1305 727v-1h1v1zM1306 738v-12h1v12zM1307 734v-8h1v8zM1308 747v-21h1v21zM1309 732v-6h1v6zM1311 738v-13h1v13zM1312 729v-4h1v4zM1313 731v-6h1v6zM1314 731v-6h1v6zM1316 737v-12h1v12zM1317 730v-5h1v5zM1318 734v-9h1v9zM1319 748v-23h1v23zM1320 739v-15h1v15zM1321 728v-4h1v4zM1322 726v-2h1v2zM1323 729v-5h1v5zM1324 739v-15h1v15zM1325 732v-8h1v8zM1326 763v-39h1v39zM1327 732v-8h1v8zM1328 733v-10h1v10zM1330 744v-21h1v21zM1331 728v-5h1v5zM1332 736v-13h1v13zM1333 736v-13h1v13zM1335 755v-32h1v32zM1336 742v-20h1v20zM1337 729v-7h1v7zM1338 723v-1h1v1zM1339 732v-10h1v10zM1341 735v-13h1v13zM1342 752v-30h1v30zM1343 745v-23h1v23zM1344 731v-10h1v10zM1345 730v-9h1v9zM1346 747v-26h1v26zM1347 741v-20h1v20zM1349 730v-9h1v9zM1350 741v-20h1v20zM1351 736v-15h1v15zM1352 729v-9h1v9zM1354 723v-3h1v3zM1355 731v-11h1v11zM1356 743v-23h1v23zM1357 739v-19h1v19zM1358 728v-8h1v8zM1359 723v-3h1v3zM1360 731v-12h1v12zM1361 743v-24h1v24zM1362 733v-14h1v14zM1363 726v-7h1v7zM1364 725v-6h1v6zM1365 727v-8h1v8zM1366 723v-4h1v4zM1368 737v-19h1v19zM1369 728v-10h1v10zM1370 727v-9h1v9zM1371 727v-9h1v9zM1373 735v-17h1v17zM1374 746v-28h1v28zM1375 750v-33h1v33zM1376 720v-3h1v3zM1377 730v-13h1v13zM1378 725v-8h1v8zM1379 739v-22h1v22zM1380 731v-14h1v14zM1381 721v-4h1v4zM1382 746v-30h1v30zM1383 726v-10h1v10zM1384 718v-2h1v2zM1385 719v-3h1v3zM1387 728v-12h1v12zM1388 719v-3h1v3zM1389 742v-26h1v26zM1390 725v-9h1v9zM1392 734v-19h1v19zM1393 726v-11h1v11zM1394 733v-18h1v18zM1395 731v-16h1v16zM1396 740v-25h1v25zM1397 722v-7h1v7zM1398 740v-26h1v26zM1399 744v-30h1v30zM1400 728v-14h1v14zM1401 748v-34h1v34zM1402 734v-20h1v20zM1403 722v-8h1v8zM1404 718v-4h1v4zM1406 721v-8h1v8zM1407 734v-21h1v21zM1408 714v-1h1v1zM1409 750v-37h1v37zM1411 719v-6h1v6zM1412 728v-15h1v15zM1413 721v-9h1v9zM1414 718v-6h1v6zM1415 714v-2h1v2zM1416 716v-4h1v4zM1417 742v-30h1v30zM1418 720v-8h1v8zM1419 715v-3h1v3zM1420 726v-14h1v14zM1421 732v-21h1v21zM1422 721v-10h1v10zM1423 713v-2h1v2zM1425 724v-13h1v13zM1426 722v-11h1v11zM1427 718v-7h1v7zM1428 736v-25h1v25zM1430 711v-1h1v1zM1431 721v-11h1v11zM1432 738v-28h1v28zM1433 725v-15h1v15zM1434 714v-5h1v5zM1435 719v-10h1v10zM1436 725v-16h1v16zM1437 715v-6h1v6zM1438 723v-14h1v14zM1439 728v-20h1v20zM1440 710v-2h1v2zM1441 709v-1h1v1zM1442 741v-33h1v33zM1444 734v-26h1v26zM1445 732v-25h1v25zM1446 718v-11h1v11zM1447 726v-19h1v19zM1449 735v-28h1v28zM1450 721v-15h1v15zM1451 708v-2h1v2zM1452 744v-38h1v38zM1453 722v-16h1v16zM1454 711v-5h1v5zM1455 720v-14h1v14zM1456 711v-6h1v6zM1457 714v-9h1v9zM1458 722v-17h1v17zM1459 718v-13h1v13zM1460 741v-36h1v36zM1461 711v-7h1v7zM1463 716v-12h1v12zM1464 711v-7h1v7zM1465 728v-24h1v24zM1466 715v-11h1v11zM1468 711v-8h1v8zM1469 717v-14h1v14zM1470 712v-9h1v9zM1471 709v-6h1v6zM1472 713v-11h1v11zM1473 718v-16h1v16zM1474 746v-44h1v44zM1475 720v-18h1v18zM1476 710v-8h1v8zM1477 705v-4h1v4zM1478 725v-24h1v24zM1479 729v-28h1v28zM1480 721v-20h1v20zM1482 719v-19h1v19zM1483 727v-27h1v27zM1484 714v-14h1v14zM1485 713v-13h1v13zM1487 709v-9h1v9zM1488 715v-16h1v16zM1489 716v-17h1v17zM1490 737v-38h1v38zM1491 733v-34h1v34zM1492 716v-17h1v17zM1493 705v-7h1v7zM1494 727v-29h1v29zM1495 703v-5h1v5zM1496 704v-6h1v6zM1497 716v-18h1v18zM1498 719v-22h1v22zM1499 710v-13h1v13zM1501 713v-16h1v16zM1502 707v-10h1v10zM1503 708v-11h1v11zM1504 730v-34h1v34zM1506 703v-7h1v7zM1507 719v-23h1v23zM1508 722v-26h1v26zM1509 710v-15h1v15zM1510 718v-23h1v23zM1511 723v-28h1v28zM1512 705v-10h1v10zM1513 700v-5h1v5zM1514 700v-6h1v6zM1515 709v-15h1v15zM1516 715v-21h1v21zM1517 703v-9h1v9zM1518 703v-9h1v9zM1520 695v-2h1v2zM1521 727v-34h1v34zM1522 700v-7h1v7zM1523 750v-58h1v58zM1525 695v-3h1v3zM1526 699v-7h1v7zM1527 708v-16h1v16zM1528 737v-46h1v46zM1529 699v-8h1v8zM1530 694v-3h1v3zM1532 698v-8h1v8zM1533 753v-63h1v63zM1534 706v-16h1v16zM1535 711v-21h1v21zM1536 742v-53h1v53zM1537 715v-26h1v26zM1539 718v-30h1v30zM1540 730v-42h1v42zM1541 715v-28h1v28zM1542 704v-17h1v17zM1544 710v-24h1v24zM1545 709v-23h1v23zM1546 709v-23h1v23zM1547 708v-23h1v23zM1548 704v-19h1v19zM1549 713v-29h1v29zM1550 714v-30h1v30zM1551 695v-11h1v11zM1552 731v-48h1v48zM1553 711v-28h1v28zM1554 684v-2h1v2zM1555 728v-46h1v46zM1556 683v-1h1v1zM1558 721v-40h1v40zM1559 716v-35h1v35zM1560 693v-13h1v13zM1561 685v-5h1v5zM1563 682v-3h1v3zM1564 689v-10h1v10zM1565 709v-31h1v31zM1566 696v-18h1v18zM1567 714v-37h1v37zM1568 684v-7h1v7zM1569 717v-40h1v40zM1570 688v-12h1v12zM1571 698v-22h1v22zM1572 686v-10h1v10zM1573 694v-19h1v19zM1574 684v-9h1v9zM1575 714v-39h1v39zM1577 687v-13h1v13zM1578 696v-23h1v23zM1579 718v-45h1v45zM1580 733v-60h1v60zM1582 689v-17h1v17zM1583 705v-34h1v34zM1584 692v-21h1v21zM1585 677v-6h1v6zM1586 693v-23h1v23zM1587 721v-51h1v51zM1588 705v-35h1v35zM1589 697v-28h1v28zM1590 672v-3h1v3zM1591 674v-6h1v6zM1592 682v-14h1v14zM1593 701v-33h1v33zM1594 719v-52h1v52zM1596 722v-56h1v56zM1597 684v-19h1v19zM1598 670v-6h1v6zM1599 671v-7h1v7zM1601 699v-37h1v37zM1602 689v-27h1v27zM1603 700v-39h1v39zM1604 676v-15h1v15zM1605 681v-21h1v21zM1606 680v-21h1v21zM1607 685v-26h1v26zM1608 688v-30h1v30zM1609 698v-40h1v40zM1610 688v-31h1v31zM1611 676v-20h1v20zM1612 663v-7h1v7zM1613 684v-29h1v29zM1615 721v-67h1v67zM1616 685v-32h1v32zM1617 698v-45h1v45zM1618 658v-6h1v6zM1620 707v-56h1v56zM1621 675v-25h1v25zM1622 683v-33h1v33zM1623 654v-5h1v5zM1624 690v-42h1v42zM1625 695v-47h1v47zM1626 676v-29h1v29zM1627 667v-20h1v20zM1628 661v-15h1v15zM1629 658v-13h1v13zM1630 695v-50h1v50zM1631 683v-39h1v39zM1632 654v-11h1v11zM1634 669v-27h1v27zM1635 654v-13h1v13zM1636 659v-18h1v18zM1637 659v-19h1v19zM1639 663v-25h1v25zM1640 656v-19h1v19zM1641 645v-8h1v8zM1642 681v-45h1v45zM1643 692v-57h1v57zM1644 660v-26h1v26zM1645 659v-25h1v25zM1646 664v-31h1v31zM1647 673v-41h1v41zM1648 717v-86h1v86zM1649 684v-53h1v53zM1650 682v-52h1v52zM1651 662v-33h1v33zM1653 672v-45h1v45zM1654 657v-30h1v30zM1655 634v-8h1v8zM1656 655v-30h1v30zM1658 635v-11h1v11zM1659 702v-79h1v79zM1660 677v-54h1v54zM1661 637v-15h1v15zM1662 687v-66h1v66zM1663 716v-96h1v96zM1664 657v-37h1v37zM1665 637v-18h1v18zM1666 653v-34h1v34zM1667 661v-43h1v43zM1668 674v-57h1v57zM1669 690v-73h1v73zM1670 674v-58h1v58zM1672 658v-44h1v44zM1673 630v-16h1v16zM1674 619v-6h1v6zM1675 629v-16h1v16zM1677 622v-12h1v12zM1678 629v-20h1v20zM1679 631v-22h1v22zM1680 642v-34h1v34zM1681 637v-31h1v31zM1682 615v-10h1v10zM1683 674v-69h1v69zM1684 613v-9h1v9zM1685 676v-73h1v73zM1686 617v-16h1v16zM1687 614v-13h1v13zM1688 700v-100h1v100zM1689 708v-109h1v109zM1691 663v-67h1v67zM1692 609v-14h1v14zM1693 647v-54h1v54zM1694 624v-32h1v32zM1696 598v-10h1v10zM1697 598v-11h1v11zM1698 632v-47h1v47zM1699 589v-5h1v5zM1700 585v-4h1v4zM1701 685v-105h1v105zM1702 616v-38h1v38zM1703 630v-53h1v53zM1704 709v-133h1v133zM1705 597v-24h1v24zM1706 664v-93h1v93zM1707 736v-167h1v167zM1708 591v-24h1v24zM1710 565v-4h1v4zM1711 626v-67h1v67zM1712 631v-74h1v74zM1713 559v-4h1v4zM1715 579v-31h1v31zM1716 566v-23h1v23zM1717 550v-11h1v11zM1718 607v-73h1v73zM1719 614v-88h1v88zM1720 562v-37h1v37zM1721 641v-118h1v118zM1722 544v-23h1v23zM1723 630v-110h1v110zM1724 528v-11h1v11zM1725 581v-66h1v66zM1726 599v-85h1v85zM1727 523v-11h1v11zM1729 583v-77h1v77zM1730 523v-20h1v20zM1731 652v-153h1v153zM1732 530v-34h1v34zM1734 521v-36h1v36zM1735 540v-59h1v59zM1736 678v-204h1v204zM1737 520v-55h1v55zM1738 509v-62h1v62zM1739 502v-65h1v65zM1740 493v-66h1v66zM1741 463v-47h1v47zM1742 414v-8h1v8zM1743 439v-55h1v55zM1744 453v-80h1v80zM1745 727v-369h1v369zM1746 383v-41h1v41zM1748 694v-400h1v400zM1749 358v-81h1v81zM1750 347v-88h1v88zM1751 446v-204h1v204zM1753 225v-72h1v72zM1754 306v-183h1v183zM1755 113v-10h1v10z"/>
</g></g>
<path d="M945.2 689.8H1757.5" stroke="#000" stroke-width="2.3" stroke-dasharray="4.1 4 12 3.9" stroke-dashoffset="1" fill="none"/>
<path d="M945.2 739.3H1757.5" stroke="#000" stroke-width="2.2" stroke-dasharray="7.8 8.2" stroke-dashoffset="1.3" fill="none"/>
<path d="M1185.9 767.5V102.6" stroke="#6e6e6e" stroke-width="3" stroke-dasharray="12.1 11.83" fill="none"/>
<path d="M1535.3 767.5V102.6" stroke="#6e6e6e" stroke-width="3" stroke-dasharray="5.65 6.35 17.5 6.35" fill="none"/>
<g font-size="17.5" stroke="#000" stroke-width=".5"><text x="964.1" y="684.2">Living income</text><text x="953.9" y="736.8">Extreme poverty line</text></g>
<text x="993.9" y="151.3" font-size="20.2" stroke="#000" stroke-width=".6">n= 987</text>
<path d="M945.2 102.6V767.5H1756.6" stroke="#000" stroke-width="2.2" fill="none" stroke-linecap="square"/>
<path d="M945.2 767.5h-5.8M945.2 634.5h-5.8M945.2 501.5h-5.8M945.2 368.6h-5.8M945.2 235.6h-5.8M945.2 102.6h-5.8M1025.5 767.5v5.8M1106.8 767.5v5.8M1188 767.5v5.8M1269.2 767.5v5.8M1350.4 767.5v5.8M1431.7 767.5v5.8M1512.9 767.5v5.8M1594.1 767.5v5.8M1675.4 767.5v5.8M1756.6 767.5v5.8" stroke="#000" stroke-width="2.1" fill="none"/>
<g font-size="18" fill="#2e2e2e" stroke="#2e2e2e" stroke-width=".22"><g text-anchor="end"><text x="934" y="774.6">0</text><text x="934" y="641.6">10</text><text x="934" y="508.6">20</text><text x="934" y="375.7">30</text><text x="934" y="242.7">40</text><text x="934" y="109.7">50</text></g><g text-anchor="middle"><text x="1025.5" y="792.3">10</text><text x="1106.8" y="792.3">20</text><text x="1188" y="792.3">30</text><text x="1269.2" y="792.3">40</text><text x="1350.4" y="792.3">50</text><text x="1431.7" y="792.3">60</text><text x="1512.9" y="792.3">70</text><text x="1594.1" y="792.3">80</text><text x="1675.4" y="792.3">90</text><text x="1756.6" y="792.3">100</text></g></g>
</g>
<g clip-path="url(#cl)">
<text x="95" y="839.2" font-size="27.45">Côte d'Ivoire - WUR</text>
<text x="888.1" y="865.9" font-size="23" fill="#f00000" stroke="#f00000" stroke-width=".7" text-anchor="end">~</text>
<g shape-rendering="crispEdges">
<path fill="#D55E00" d="M94 1522v-1h1v1zM96 1522v-1h1v1zM98 1522v-1h1v1zM100 1522v-2h1v2zM102 1522v-2h1v2zM104 1522v-2h1v2zM106 1522v-2h1v2zM108 1522v-3h1v3zM110 1522v-3h1v3zM112 1522v-3h1v3zM114 1522v-3h1v3zM116 1522v-4h1v4zM118 1522v-4h1v4zM120 1522v-2h1v2zM122 1522v-4h1v4zM124 1522v-2h1v2zM126 1522v-4h1v4zM128 1522v-5h1v5zM130 1522v-5h1v5zM132 1522v-3h1v3zM134 1522v-5h1v5zM136 1522v-6h1v6zM138 1522v-5h1v5zM140 1522v-6h1v6zM142 1522v-6h1v6zM144 1522v-4h1v4zM146 1522v-7h1v7zM148 1522v-7h1v7zM150 1522v-6h1v6zM152 1522v-7h1v7zM154 1522v-7h1v7zM155 1522v-5h2v5zM157 1522v-8h2v8zM159 1522v-8h2v8zM161 1522v-8h2v8zM163 1522v-8h2v8zM165 1522v-9h2v9zM167 1522v-9h2v9zM169 1522v-9h2v9zM171 1522v-9h2v9zM173 1522v-9h2v9zM175 1522v-5h2v5zM177 1522v-10h2v10zM179 1522v-10h2v10zM181 1522v-10h2v10zM183 1522v-10h2v10zM185 1522v-9h2v9zM187 1522v-10h2v10zM189 1522v-10h2v10zM191 1522v-11h2v11zM193 1522v-11h2v11zM195 1522v-11h2v11zM197 1522v-9h2v9zM199 1522v-11h2v11zM201 1522v-11h2v11zM203 1522v-10h2v10zM205 1522v-12h2v12zM207 1522v-9h2v9zM209 1522v-12h2v12zM211 1522v-12h2v12zM213 1522v-6h2v6zM215 1522v-8h2v8zM217 1522v-13h2v13zM219 1522v-13h2v13zM221 1522v-12h2v12zM223 1522v-12h2v12zM225 1522v-13h2v13zM227 1522v-10h2v10zM229 1522v-14h2v14zM231 1522v-12h2v12zM233 1522v-6h2v6zM235 1522v-14h2v14zM237 1522v-14h2v14zM239 1522v-14h2v14zM241 1522v-14h2v14zM243 1522v-15h2v15zM245 1522v-15h2v15zM247 1522v-15h2v15zM249 1522v-15h2v15zM251 1522v-15h2v15zM253 1522v-15h2v15zM255 1522v-15h2v15zM257 1522v-5h2v5zM259 1522v-16h2v16zM261 1522v-16h2v16zM263 1522v-16h2v16zM265 1522v-8h2v8zM267 1522v-16h2v16zM269 1522v-4h2v4zM271 1522v-16h2v16zM273 1522v-16h2v16zM275 1522v-9h2v9zM277 1522v-17h2v17zM279 1522v-17h2v17zM281 1522v-9h2v9zM283 1522v-17h2v17zM285 1522v-17h2v17zM287 1522v-15h2v15zM289 1522v-17h2v17zM291 1522v-17h2v17zM293 1522v-18h2v18zM295 1522v-18h2v18zM297 1522v-18h2v18zM299 1522v-18h2v18zM301 1522v-10h2v10zM303 1522v-18h2v18zM305 1522v-18h2v18zM307 1522v-18h2v18zM309 1522v-5h2v5zM311 1522v-19h2v19zM313 1522v-19h2v19zM315 1522v-18h2v18zM317 1522v-19h2v19zM319 1522v-18h2v18zM321 1522v-11h2v11zM323 1522v-19h2v19zM325 1522v-17h2v17zM327 1522v-20h2v20zM329 1522v-20h2v20zM331 1522v-20h2v20zM333 1522v-20h2v20zM335 1522v-20h2v20zM337 1522v-20h2v20zM339 1522v-19h2v19zM341 1522v-20h2v20zM343 1522v-10h2v10zM345 1522v-21h2v21zM347 1522v-21h2v21zM349 1522v-21h2v21zM351 1522v-20h2v20zM353 1522v-21h2v21zM355 1522v-21h2v21zM357 1522v-21h2v21zM359 1522v-18h2v18zM361 1522v-22h2v22zM363 1522v-22h2v22zM365 1522v-22h2v22zM367 1522v-22h2v22zM369 1522v-16h2v16zM371 1522v-22h2v22zM373 1522v-22h2v22zM375 1522v-20h2v20zM377 1522v-23h2v23zM379 1522v-23h2v23zM381 1522v-23h2v23zM383 1522v-23h2v23zM385 1522v-22h2v22zM387 1522v-23h2v23zM389 1522v-23h2v23zM391 1522v-16h2v16zM393 1522v-24h2v24zM395 1522v-20h2v20zM397 1522v-24h2v24zM399 1522v-24h2v24zM401 1522v-24h2v24zM403 1522v-24h2v24zM405 1522v-16h2v16zM407 1522v-24h2v24zM409 1522v-9h2v9zM411 1522v-23h2v23zM413 1522v-25h2v25zM415 1522v-25h2v25zM417 1522v-23h2v23zM419 1522v-25h1v25zM421 1522v-24h1v24zM423 1522v-25h1v25zM425 1522v-25h1v25zM427 1522v-17h1v17zM429 1522v-25h1v25zM431 1522v-26h1v26zM433 1522v-26h1v26zM435 1522v-26h1v26zM437 1522v-25h1v25zM439 1522v-26h1v26zM441 1522v-12h1v12zM443 1522v-21h1v21zM445 1522v-26h1v26zM447 1522v-26h1v26zM449 1522v-25h1v25zM451 1522v-25h1v25zM453 1522v-27h1v27zM455 1522v-11h1v11zM457 1522v-27h1v27zM459 1522v-12h1v12zM461 1522v-28h1v28zM463 1522v-28h1v28zM465 1522v-28h1v28zM467 1522v-28h1v28zM469 1522v-28h1v28zM471 1522v-8h1v8zM473 1522v-29h1v29zM475 1522v-24h1v24zM477 1522v-29h1v29zM479 1522v-28h1v28zM481 1522v-30h1v30zM483 1522v-30h1v30zM485 1522v-28h1v28zM486 1522v-22h2v22zM488 1522v-31h2v31zM490 1522v-31h2v31zM492 1522v-11h2v11zM494 1522v-31h2v31zM496 1522v-30h2v30zM498 1522v-13h2v13zM500 1522v-32h2v32zM502 1522v-32h2v32zM504 1522v-32h2v32zM506 1522v-33h2v33zM508 1522v-33h2v33zM510 1522v-33h2v33zM512 1522v-33h2v33zM514 1522v-34h2v34zM516 1522v-34h2v34zM518 1522v-34h2v34zM520 1522v-32h2v32zM522 1522v-34h2v34zM524 1522v-33h2v33zM526 1522v-19h2v19zM528 1522v-35h2v35zM530 1522v-35h2v35zM532 1522v-36h2v36zM534 1522v-36h2v36zM536 1522v-36h2v36zM538 1522v-37h2v37zM540 1522v-37h2v37zM542 1522v-37h2v37zM544 1522v-37h2v37zM546 1522v-19h2v19zM548 1522v-38h2v38zM550 1522v-38h2v38zM552 1522v-39h2v39zM554 1522v-32h2v32zM556 1522v-16h2v16zM558 1522v-26h2v26zM560 1522v-40h2v40zM562 1522v-40h2v40zM564 1522v-41h2v41zM566 1522v-41h2v41zM568 1522v-41h2v41zM570 1522v-18h2v18zM572 1522v-42h2v42zM574 1522v-42h2v42zM576 1522v-43h2v43zM578 1522v-43h2v43zM580 1522v-43h2v43zM582 1522v-44h2v44zM584 1522v-44h2v44zM586 1522v-44h2v44zM588 1522v-9h2v9zM590 1522v-45h2v45zM592 1522v-45h2v45zM594 1522v-46h2v46zM596 1522v-44h2v44zM598 1522v-44h2v44zM600 1522v-47h2v47zM602 1522v-21h2v21zM604 1522v-16h2v16zM606 1522v-48h2v48zM608 1522v-48h2v48zM610 1522v-48h2v48zM612 1522v-49h2v49zM614 1522v-49h2v49zM616 1522v-15h2v15zM618 1522v-10h2v10zM620 1522v-50h2v50zM622 1522v-50h2v50zM624 1522v-50h2v50zM626 1522v-50h2v50zM628 1522v-51h2v51zM630 1522v-51h2v51zM632 1522v-49h2v49zM634 1522v-44h2v44zM636 1522v-52h2v52zM638 1522v-40h2v40zM640 1522v-52h2v52zM642 1522v-52h2v52zM644 1522v-53h2v53zM646 1522v-50h2v50zM648 1522v-53h2v53zM650 1522v-53h2v53zM652 1522v-54h2v54zM654 1522v-54h2v54zM656 1522v-55h2v55zM658 1522v-51h2v51zM660 1522v-36h2v36zM662 1522v-53h2v53zM664 1522v-56h2v56zM666 1522v-13h2v13zM668 1522v-57h2v57zM670 1522v-58h2v58zM672 1522v-49h2v49zM674 1522v-56h2v56zM676 1522v-59h2v59zM678 1522v-39h2v39zM680 1522v-60h2v60zM682 1522v-60h2v60zM684 1522v-61h2v61zM686 1522v-61h2v61zM688 1522v-61h2v61zM690 1522v-62h2v62zM692 1522v-62h2v62zM694 1522v-29h2v29zM696 1522v-63h2v63zM698 1522v-64h2v64zM700 1522v-64h2v64zM702 1522v-65h2v65zM704 1522v-65h2v65zM706 1522v-45h2v45zM708 1522v-45h2v45zM710 1522v-67h2v67zM712 1522v-42h2v42zM714 1522v-51h2v51zM716 1522v-68h2v68zM718 1522v-69h2v69zM720 1522v-57h2v57zM722 1522v-70h2v70zM724 1522v-65h2v65zM726 1522v-71h2v71zM728 1522v-71h2v71zM730 1522v-72h2v72zM732 1522v-72h2v72zM734 1522v-67h2v67zM736 1522v-74h2v74zM738 1522v-43h2v43zM740 1522v-75h2v75zM742 1522v-76h2v76zM744 1522v-77h2v77zM746 1522v-73h2v73zM748 1522v-77h2v77zM750 1522v-77h1v77zM752 1522v-77h1v77zM754 1522v-74h1v74zM756 1522v-74h1v74zM758 1522v-80h1v80zM760 1522v-81h1v81zM762 1522v-82h1v82zM764 1522v-75h1v75zM766 1522v-85h1v85zM768 1522v-86h1v86zM770 1522v-87h1v87zM772 1522v-88h1v88zM774 1522v-57h1v57zM776 1522v-90h1v90zM778 1522v-91h1v91zM780 1522v-50h1v50zM782 1522v-93h1v93zM784 1522v-43h1v43zM786 1522v-96h1v96zM788 1522v-96h1v96zM790 1522v-25h1v25zM792 1522v-98h1v98zM794 1522v-99h1v99zM796 1522v-27h1v27zM798 1522v-101h1v101zM800 1522v-102h1v102zM802 1522v-100h1v100zM804 1522v-104h1v104zM806 1522v-101h1v101zM808 1522v-107h1v107zM810 1522v-108h1v108zM812 1522v-66h1v66zM814 1522v-33h1v33zM816 1522v-71h1v71zM817 1522v-116h2v116zM819 1522v-119h2v119zM821 1522v-122h2v122zM823 1522v-123h2v123zM825 1522v-123h2v123zM827 1522v-123h2v123zM829 1522v-124h2v124zM831 1522v-126h2v126zM833 1522v-129h2v129zM835 1522v-133h2v133zM837 1522v-136h2v136zM839 1522v-140h2v140zM841 1522v-144h2v144zM843 1522v-148h2v148zM845 1522v-142h2v142zM847 1522v-157h2v157zM849 1522v-150h2v150zM851 1522v-41h2v41zM853 1522v-175h2v175zM855 1522v-176h2v176zM857 1522v-200h2v200zM859 1522v-210h2v210zM861 1522v-140h2v140zM863 1522v-216h2v216zM865 1522v-234h2v234zM867 1522v-245h2v245zM869 1522v-257h2v257zM871 1522v-250h2v250zM873 1522v-155h2v155zM875 1522v-292h2v292zM877 1522v-308h2v308zM879 1522v-61h2v61zM881 1522v-265h2v265zM883 1522v-264h2v264zM885 1522v-397h2v397zM887 1522v-31h2v31zM889 1522v-666h2v666z"/>
<path fill="#F0E442" d="M150 1516v-1h1v1zM359 1504v-3h2v3zM441 1510v-3h1v3zM618 1512v-7h2v7zM634 1478v-7h2v7zM672 1473v-9h2v9z"/>
<path fill="#0072B2" d="M120 1520v-2h1v2zM124 1520v-2h1v2zM126 1518v-1h1v1zM132 1519v-2h1v2zM138 1517v-1h1v1zM144 1518v-2h1v2zM155 1517v-3h2v3zM175 1517v-4h2v4zM185 1513v-1h2v1zM197 1513v-2h2v2zM203 1512v-2h2v2zM207 1513v-3h2v3zM213 1516v-6h2v6zM215 1514v-4h2v4zM221 1510v-1h2v1zM223 1510v-1h2v1zM227 1512v-3h2v3zM231 1510v-2h2v2zM233 1516v-8h2v8zM257 1517v-11h2v11zM265 1514v-8h2v8zM269 1518v-12h2v12zM275 1513v-8h2v8zM281 1513v-8h2v8zM287 1507v-2h2v2zM301 1512v-8h2v8zM309 1517v-14h2v14zM315 1504v-1h2v1zM319 1504v-1h2v1zM321 1511v-8h2v8zM325 1505v-2h2v2zM339 1503v-1h2v1zM343 1512v-11h2v11zM351 1502v-1h2v1zM369 1506v-6h2v6zM375 1502v-2h2v2zM385 1500v-1h2v1zM391 1506v-7h2v7zM395 1502v-4h2v4zM405 1506v-8h2v8zM409 1513v-15h2v15zM411 1499v-2h2v2zM417 1499v-2h2v2zM421 1498v-1h1v1zM427 1505v-8h1v8zM437 1497v-1h1v1zM441 1507v-11h1v11zM443 1501v-5h1v5zM449 1497v-1h1v1zM451 1497v-1h1v1zM455 1511v-16h1v16zM459 1510v-15h1v15zM471 1514v-21h1v21zM475 1498v-5h1v5zM479 1494v-2h1v2zM485 1494v-2h1v2zM486 1500v-8h2v8zM492 1511v-20h2v20zM496 1492v-1h2v1zM498 1509v-19h2v19zM520 1490v-2h2v2zM524 1489v-2h2v2zM526 1503v-16h2v16zM546 1503v-19h2v19zM554 1490v-7h2v7zM556 1506v-23h2v23zM558 1496v-14h2v14zM570 1504v-24h2v24zM588 1513v-36h2v36zM596 1478v-2h2v2zM598 1478v-2h2v2zM602 1501v-26h2v26zM604 1506v-31h2v31zM616 1507v-34h2v34zM618 1505v-32h2v32zM632 1473v-2h2v2zM638 1482v-12h2v12zM646 1472v-3h2v3zM658 1471v-4h2v4zM660 1486v-20h2v20zM662 1469v-3h2v3zM666 1509v-44h2v44zM674 1466v-3h2v3zM678 1483v-20h2v20zM694 1493v-34h2v34zM706 1477v-21h2v21zM708 1477v-21h2v21zM712 1480v-25h2v25zM714 1471v-17h2v17zM720 1465v-12h2v12zM724 1457v-5h2v5zM734 1455v-6h2v6zM738 1479v-31h2v31zM746 1449v-4h2v4zM754 1448v-4h1v4zM756 1448v-5h1v5zM764 1447v-9h1v9zM774 1465v-32h1v32zM780 1472v-42h1v42zM784 1479v-51h1v51zM790 1497v-72h1v72zM796 1495v-73h1v73zM802 1422v-3h1v3zM806 1421v-4h1v4zM812 1456v-44h1v44zM814 1489v-79h1v79zM816 1451v-43h1v43zM845 1380v-10h2v10zM849 1372v-11h2v11zM851 1481v-125h2v125zM855 1346v-11h2v11zM861 1382v-79h2v79zM863 1306v-10h2v10zM871 1272v-13h2v13zM873 1367v-115h2v115zM879 1461v-256h2v256zM881 1257v-60h2v60zM883 1258v-78h2v78zM887 1491v-471h2v471z"/>
<g opacity=".5">
<path fill="#fff" d="M254 1522v-15h1v15zM256 1522v-15h1v15zM258 1522v-16h1v16zM260 1522v-16h1v16zM262 1522v-16h1v16zM264 1522v-16h1v16zM266 1522v-16h1v16zM268 1522v-16h1v16zM270 1522v-16h1v16zM272 1522v-16h1v16zM274 1522v-16h1v16zM276 1522v-17h1v17zM278 1522v-17h1v17zM280 1522v-17h1v17zM282 1522v-17h1v17zM284 1522v-17h1v17zM286 1522v-17h1v17zM288 1522v-17h1v17zM290 1522v-17h1v17zM292 1522v-17h1v17zM294 1522v-18h1v18zM296 1522v-18h1v18zM298 1522v-18h1v18zM300 1522v-18h1v18zM302 1522v-18h1v18zM304 1522v-18h1v18zM306 1522v-18h1v18zM308 1522v-18h1v18zM310 1522v-19h1v19zM312 1522v-19h1v19zM314 1522v-19h1v19zM316 1522v-19h1v19zM318 1522v-19h1v19zM585 1522v-44h1v44zM587 1522v-44h1v44zM589 1522v-45h1v45zM591 1522v-45h1v45zM593 1522v-45h1v45zM595 1522v-46h1v46zM597 1522v-46h1v46zM599 1522v-46h1v46zM601 1522v-47h1v47zM603 1522v-47h1v47zM605 1522v-47h1v47zM607 1522v-48h1v48zM609 1522v-48h1v48zM611 1522v-48h1v48zM613 1522v-49h1v49zM615 1522v-49h1v49zM617 1522v-49h1v49zM619 1522v-49h1v49zM621 1522v-50h1v50zM623 1522v-50h1v50zM625 1522v-50h1v50zM627 1522v-50h1v50zM629 1522v-51h1v51zM631 1522v-51h1v51zM633 1522v-51h1v51zM635 1522v-51h1v51zM637 1522v-52h1v52zM639 1522v-52h1v52zM641 1522v-52h1v52zM643 1522v-52h1v52zM645 1522v-53h1v53zM647 1522v-53h1v53zM649 1522v-53h1v53z"/>
<path fill="#D55E00" d="M94 1522v-1h1v1zM95 1522v-1h2v1zM97 1522v-1h2v1zM99 1522v-2h2v2zM101 1522v-2h2v2zM103 1522v-2h2v2zM105 1522v-2h2v2zM107 1522v-3h2v3zM109 1522v-3h2v3zM111 1522v-3h2v3zM113 1522v-3h2v3zM115 1522v-4h2v4zM117 1522v-4h2v4zM119 1522v-2h2v2zM121 1522v-4h2v4zM123 1522v-2h2v2zM125 1522v-4h2v4zM127 1522v-5h2v5zM129 1522v-5h2v5zM131 1522v-3h2v3zM133 1522v-5h2v5zM135 1522v-6h2v6zM137 1522v-5h2v5zM139 1522v-6h2v6zM141 1522v-6h2v6zM143 1522v-4h2v4zM145 1522v-7h2v7zM147 1522v-7h2v7zM149 1522v-6h2v6zM151 1522v-7h2v7zM153 1522v-7h2v7zM155 1522v-5h2v5zM157 1522v-8h2v8zM159 1522v-8h2v8zM161 1522v-8h2v8zM163 1522v-8h2v8zM165 1522v-9h2v9zM167 1522v-9h2v9zM169 1522v-9h2v9zM171 1522v-9h2v9zM173 1522v-9h2v9zM175 1522v-5h2v5zM177 1522v-10h2v10zM179 1522v-10h2v10zM181 1522v-10h2v10zM183 1522v-10h2v10zM185 1522v-9h2v9zM187 1522v-10h2v10zM189 1522v-10h2v10zM191 1522v-11h2v11zM193 1522v-11h2v11zM195 1522v-11h2v11zM197 1522v-9h2v9zM199 1522v-11h2v11zM201 1522v-11h2v11zM203 1522v-10h2v10zM205 1522v-12h2v12zM207 1522v-9h2v9zM209 1522v-12h2v12zM211 1522v-12h2v12zM213 1522v-6h2v6zM215 1522v-8h2v8zM217 1522v-13h2v13zM219 1522v-13h2v13zM221 1522v-12h2v12zM223 1522v-12h2v12zM225 1522v-13h2v13zM227 1522v-10h2v10zM229 1522v-14h2v14zM231 1522v-12h2v12zM233 1522v-6h2v6zM235 1522v-14h2v14zM237 1522v-14h2v14zM239 1522v-14h2v14zM241 1522v-14h2v14zM243 1522v-15h2v15zM245 1522v-15h2v15zM247 1522v-15h2v15zM249 1522v-15h2v15zM251 1522v-15h2v15zM253 1522v-15h1v15zM255 1522v-15h1v15zM257 1522v-5h1v5zM259 1522v-16h1v16zM261 1522v-16h1v16zM263 1522v-16h1v16zM265 1522v-8h1v8zM267 1522v-16h1v16zM269 1522v-4h1v4zM271 1522v-16h1v16zM273 1522v-16h1v16zM275 1522v-9h1v9zM277 1522v-17h1v17zM279 1522v-17h1v17zM281 1522v-9h1v9zM283 1522v-17h1v17zM285 1522v-17h1v17zM287 1522v-15h1v15zM289 1522v-17h1v17zM291 1522v-17h1v17zM293 1522v-18h1v18zM295 1522v-18h1v18zM297 1522v-18h1v18zM299 1522v-18h1v18zM301 1522v-10h1v10zM303 1522v-18h1v18zM305 1522v-18h1v18zM307 1522v-18h1v18zM309 1522v-5h1v5zM311 1522v-19h1v19zM313 1522v-19h1v19zM315 1522v-18h1v18zM317 1522v-19h1v19zM319 1522v-18h1v18zM320 1522v-11h2v11zM322 1522v-19h2v19zM324 1522v-17h2v17zM326 1522v-20h2v20zM328 1522v-20h2v20zM330 1522v-20h2v20zM332 1522v-20h2v20zM334 1522v-20h2v20zM336 1522v-20h2v20zM338 1522v-19h2v19zM340 1522v-20h2v20zM342 1522v-10h2v10zM344 1522v-21h2v21zM346 1522v-21h2v21zM348 1522v-21h2v21zM350 1522v-20h2v20zM352 1522v-21h2v21zM354 1522v-21h2v21zM356 1522v-21h2v21zM358 1522v-18h2v18zM360 1522v-22h2v22zM362 1522v-22h2v22zM364 1522v-22h2v22zM366 1522v-22h2v22zM368 1522v-16h2v16zM370 1522v-22h2v22zM372 1522v-22h2v22zM374 1522v-20h2v20zM376 1522v-23h2v23zM378 1522v-23h2v23zM380 1522v-23h2v23zM382 1522v-23h2v23zM384 1522v-22h2v22zM386 1522v-23h2v23zM388 1522v-23h2v23zM390 1522v-16h2v16zM392 1522v-24h2v24zM394 1522v-20h2v20zM396 1522v-24h2v24zM398 1522v-24h2v24zM400 1522v-24h2v24zM402 1522v-24h2v24zM404 1522v-16h2v16zM406 1522v-24h2v24zM408 1522v-9h2v9zM410 1522v-23h2v23zM412 1522v-25h2v25zM414 1522v-25h2v25zM416 1522v-23h2v23zM418 1522v-25h2v25zM420 1522v-24h2v24zM422 1522v-25h2v25zM424 1522v-25h2v25zM426 1522v-17h2v17zM428 1522v-25h2v25zM430 1522v-26h2v26zM432 1522v-26h2v26zM434 1522v-26h2v26zM436 1522v-25h2v25zM438 1522v-26h2v26zM440 1522v-12h2v12zM442 1522v-21h2v21zM444 1522v-26h2v26zM446 1522v-26h2v26zM448 1522v-25h2v25zM450 1522v-25h2v25zM452 1522v-27h2v27zM454 1522v-11h2v11zM456 1522v-27h2v27zM458 1522v-12h2v12zM460 1522v-28h2v28zM462 1522v-28h2v28zM464 1522v-28h2v28zM466 1522v-28h2v28zM468 1522v-28h2v28zM470 1522v-8h2v8zM472 1522v-29h2v29zM474 1522v-24h2v24zM476 1522v-29h2v29zM478 1522v-28h2v28zM480 1522v-30h2v30zM482 1522v-30h2v30zM484 1522v-28h2v28zM486 1522v-22h2v22zM488 1522v-31h2v31zM490 1522v-31h2v31zM492 1522v-11h2v11zM494 1522v-31h2v31zM496 1522v-30h2v30zM498 1522v-13h2v13zM500 1522v-32h2v32zM502 1522v-32h2v32zM504 1522v-32h2v32zM506 1522v-33h2v33zM508 1522v-33h2v33zM510 1522v-33h2v33zM512 1522v-33h2v33zM514 1522v-34h2v34zM516 1522v-34h2v34zM518 1522v-34h2v34zM520 1522v-32h2v32zM522 1522v-34h2v34zM524 1522v-33h2v33zM526 1522v-19h2v19zM528 1522v-35h2v35zM530 1522v-35h2v35zM532 1522v-36h2v36zM534 1522v-36h2v36zM536 1522v-36h2v36zM538 1522v-37h2v37zM540 1522v-37h2v37zM542 1522v-37h2v37zM544 1522v-37h2v37zM546 1522v-19h2v19zM548 1522v-38h2v38zM550 1522v-38h2v38zM552 1522v-39h2v39zM554 1522v-32h2v32zM556 1522v-16h2v16zM558 1522v-26h2v26zM560 1522v-40h2v40zM562 1522v-40h2v40zM564 1522v-41h2v41zM566 1522v-41h2v41zM568 1522v-41h2v41zM570 1522v-18h2v18zM572 1522v-42h2v42zM574 1522v-42h2v42zM576 1522v-43h2v43zM578 1522v-43h2v43zM580 1522v-43h2v43zM582 1522v-44h2v44zM584 1522v-44h1v44zM586 1522v-44h1v44zM588 1522v-9h1v9zM590 1522v-45h1v45zM592 1522v-45h1v45zM594 1522v-46h1v46zM596 1522v-44h1v44zM598 1522v-44h1v44zM600 1522v-47h1v47zM602 1522v-21h1v21zM604 1522v-16h1v16zM606 1522v-48h1v48zM608 1522v-48h1v48zM610 1522v-48h1v48zM612 1522v-49h1v49zM614 1522v-49h1v49zM616 1522v-15h1v15zM618 1522v-10h1v10zM620 1522v-50h1v50zM622 1522v-50h1v50zM624 1522v-50h1v50zM626 1522v-50h1v50zM628 1522v-51h1v51zM630 1522v-51h1v51zM632 1522v-49h1v49zM634 1522v-44h1v44zM636 1522v-52h1v52zM638 1522v-40h1v40zM640 1522v-52h1v52zM642 1522v-52h1v52zM644 1522v-53h1v53zM646 1522v-50h1v50zM648 1522v-53h1v53zM650 1522v-53h1v53zM651 1522v-54h2v54zM653 1522v-54h2v54zM655 1522v-55h2v55zM657 1522v-51h2v51zM659 1522v-36h2v36zM661 1522v-53h2v53zM663 1522v-56h2v56zM665 1522v-13h2v13zM667 1522v-57h2v57zM669 1522v-58h2v58zM671 1522v-49h2v49zM673 1522v-56h2v56zM675 1522v-59h2v59zM677 1522v-39h2v39zM679 1522v-60h2v60zM681 1522v-60h2v60zM683 1522v-61h2v61zM685 1522v-61h2v61zM687 1522v-61h2v61zM689 1522v-62h2v62zM691 1522v-62h2v62zM693 1522v-29h2v29zM695 1522v-63h2v63zM697 1522v-64h2v64zM699 1522v-64h2v64zM701 1522v-65h2v65zM703 1522v-65h2v65zM705 1522v-45h2v45zM707 1522v-45h2v45zM709 1522v-67h2v67zM711 1522v-42h2v42zM713 1522v-51h2v51zM715 1522v-68h2v68zM717 1522v-69h2v69zM719 1522v-57h2v57zM721 1522v-70h2v70zM723 1522v-65h2v65zM725 1522v-71h2v71zM727 1522v-71h2v71zM729 1522v-72h2v72zM731 1522v-72h2v72zM733 1522v-67h2v67zM735 1522v-74h2v74zM737 1522v-43h2v43zM739 1522v-75h2v75zM741 1522v-76h2v76zM743 1522v-77h2v77zM745 1522v-73h2v73zM747 1522v-77h2v77zM749 1522v-77h2v77zM751 1522v-77h2v77zM753 1522v-74h2v74zM755 1522v-74h2v74zM757 1522v-80h2v80zM759 1522v-81h2v81zM761 1522v-82h2v82zM763 1522v-75h2v75zM765 1522v-85h2v85zM767 1522v-86h2v86zM769 1522v-87h2v87zM771 1522v-88h2v88zM773 1522v-57h2v57zM775 1522v-90h2v90zM777 1522v-91h2v91zM779 1522v-50h2v50zM781 1522v-93h2v93zM783 1522v-43h2v43zM785 1522v-96h2v96zM787 1522v-96h2v96zM789 1522v-25h2v25zM791 1522v-98h2v98zM793 1522v-99h2v99zM795 1522v-27h2v27zM797 1522v-101h2v101zM799 1522v-102h2v102zM801 1522v-100h2v100zM803 1522v-104h2v104zM805 1522v-101h2v101zM807 1522v-107h2v107zM809 1522v-108h2v108zM811 1522v-66h2v66zM813 1522v-33h2v33zM815 1522v-71h2v71zM817 1522v-116h2v116zM819 1522v-119h2v119zM821 1522v-122h2v122zM823 1522v-123h2v123zM825 1522v-123h2v123zM827 1522v-123h2v123zM829 1522v-124h2v124zM831 1522v-126h2v126zM833 1522v-129h2v129zM835 1522v-133h2v133zM837 1522v-136h2v136zM839 1522v-140h2v140zM841 1522v-144h2v144zM843 1522v-148h2v148zM845 1522v-142h2v142zM847 1522v-157h2v157zM849 1522v-150h2v150zM851 1522v-41h2v41zM853 1522v-175h2v175zM855 1522v-176h2v176zM857 1522v-200h2v200zM859 1522v-210h2v210zM861 1522v-140h2v140zM863 1522v-216h2v216zM865 1522v-234h2v234zM867 1522v-245h2v245zM869 1522v-257h2v257zM871 1522v-250h2v250zM873 1522v-155h2v155zM875 1522v-292h2v292zM877 1522v-308h2v308zM879 1522v-61h2v61zM881 1522v-265h2v265zM883 1522v-264h2v264zM885 1522v-397h2v397zM887 1522v-31h2v31zM889 1522v-666h2v666z"/>
<path fill="#F0E442" d="M149 1516v-1h2v1zM358 1504v-3h2v3zM440 1510v-3h2v3zM618 1512v-7h1v7zM634 1478v-7h1v7zM671 1473v-9h2v9z"/>
<path fill="#0072B2" d="M119 1520v-2h2v2zM123 1520v-2h2v2zM125 1518v-1h2v1zM131 1519v-2h2v2zM137 1517v-1h2v1zM143 1518v-2h2v2zM155 1517v-3h2v3zM175 1517v-4h2v4zM185 1513v-1h2v1zM197 1513v-2h2v2zM203 1512v-2h2v2zM207 1513v-3h2v3zM213 1516v-6h2v6zM215 1514v-4h2v4zM221 1510v-1h2v1zM223 1510v-1h2v1zM227 1512v-3h2v3zM231 1510v-2h2v2zM233 1516v-8h2v8zM257 1517v-11h1v11zM265 1514v-8h1v8zM269 1518v-12h1v12zM275 1513v-8h1v8zM281 1513v-8h1v8zM287 1507v-2h1v2zM301 1512v-8h1v8zM309 1517v-14h1v14zM315 1504v-1h1v1zM319 1504v-1h1v1zM320 1511v-8h2v8zM324 1505v-2h2v2zM338 1503v-1h2v1zM342 1512v-11h2v11zM350 1502v-1h2v1zM368 1506v-6h2v6zM374 1502v-2h2v2zM384 1500v-1h2v1zM390 1506v-7h2v7zM394 1502v-4h2v4zM404 1506v-8h2v8zM408 1513v-15h2v15zM410 1499v-2h2v2zM416 1499v-2h2v2zM420 1498v-1h2v1zM426 1505v-8h2v8zM436 1497v-1h2v1zM440 1507v-11h2v11zM442 1501v-5h2v5zM448 1497v-1h2v1zM450 1497v-1h2v1zM454 1511v-16h2v16zM458 1510v-15h2v15zM470 1514v-21h2v21zM474 1498v-5h2v5zM478 1494v-2h2v2zM484 1494v-2h2v2zM486 1500v-8h2v8zM492 1511v-20h2v20zM496 1492v-1h2v1zM498 1509v-19h2v19zM520 1490v-2h2v2zM524 1489v-2h2v2zM526 1503v-16h2v16zM546 1503v-19h2v19zM554 1490v-7h2v7zM556 1506v-23h2v23zM558 1496v-14h2v14zM570 1504v-24h2v24zM588 1513v-36h1v36zM596 1478v-2h1v2zM598 1478v-2h1v2zM602 1501v-26h1v26zM604 1506v-31h1v31zM616 1507v-34h1v34zM618 1505v-32h1v32zM632 1473v-2h1v2zM638 1482v-12h1v12zM646 1472v-3h1v3zM657 1471v-4h2v4zM659 1486v-20h2v20zM661 1469v-3h2v3zM665 1509v-44h2v44zM673 1466v-3h2v3zM677 1483v-20h2v20zM693 1493v-34h2v34zM705 1477v-21h2v21zM707 1477v-21h2v21zM711 1480v-25h2v25zM713 1471v-17h2v17zM719 1465v-12h2v12zM723 1457v-5h2v5zM733 1455v-6h2v6zM737 1479v-31h2v31zM745 1449v-4h2v4zM753 1448v-4h2v4zM755 1448v-5h2v5zM763 1447v-9h2v9zM773 1465v-32h2v32zM779 1472v-42h2v42zM783 1479v-51h2v51zM789 1497v-72h2v72zM795 1495v-73h2v73zM801 1422v-3h2v3zM805 1421v-4h2v4zM811 1456v-44h2v44zM813 1489v-79h2v79zM815 1451v-43h2v43zM845 1380v-10h2v10zM849 1372v-11h2v11zM851 1481v-125h2v125zM855 1346v-11h2v11zM861 1382v-79h2v79zM863 1306v-10h2v10zM871 1272v-13h2v13zM873 1367v-115h2v115zM879 1461v-256h2v256zM881 1257v-60h2v60zM883 1258v-78h2v78zM887 1491v-471h2v471z"/>
</g></g>
<path d="M94.2 1416.5H891" stroke="#000" stroke-width="2.3" stroke-dasharray="4.1 4 12 3.9" stroke-dashoffset="1" fill="none"/>
<path d="M94.2 1486.1H891" stroke="#000" stroke-width="2.2" stroke-dasharray="7.8 8.2" stroke-dashoffset="1.3" fill="none"/>
<path d="M536.1 1521.4V856.3" stroke="#6e6e6e" stroke-width="3" stroke-dasharray="12.1 11.83" fill="none"/>
<path d="M806.4 1521.4V856.3" stroke="#6e6e6e" stroke-width="3" stroke-dasharray="5.65 6.35 17.5 6.35" fill="none"/>
<g font-size="17.5" stroke="#000" stroke-width=".5"><text x="111.1" y="1412">Living income</text><text x="101.2" y="1481.5">Extreme poverty line</text></g>
<text x="141.2" y="897.8" font-size="20.2" stroke="#000" stroke-width=".6">n= 401</text>
<path d="M94.2 856.3V1521.4H890.1" stroke="#000" stroke-width="2.2" fill="none" stroke-linecap="square"/>
<path d="M94.2 1521.4h-5.8M94.2 1438.3h-5.8M94.2 1355.1h-5.8M94.2 1272h-5.8M94.2 1188.8h-5.8M94.2 1105.7h-5.8M94.2 1022.6h-5.8M94.2 939.4h-5.8M94.2 856.3h-5.8M173.1 1521.4v5.8M252.7 1521.4v5.8M332.4 1521.4v5.8M412.1 1521.4v5.8M491.8 1521.4v5.8M571.4 1521.4v5.8M651.1 1521.4v5.8M730.8 1521.4v5.8M810.4 1521.4v5.8M890.1 1521.4v5.8" stroke="#000" stroke-width="2.1" fill="none"/>
<g font-size="18" fill="#2e2e2e" stroke="#2e2e2e" stroke-width=".22"><g text-anchor="end"><text x="83" y="1528.5">0.0</text><text x="83" y="1445.4">5.0</text><text x="83" y="1362.2">10.0</text><text x="83" y="1279.1">15.0</text><text x="83" y="1195.9">20.0</text><text x="83" y="1112.8">25.0</text><text x="83" y="1029.7">30.0</text><text x="83" y="946.5">35.0</text><text x="83" y="863.4">40.0</text></g><g text-anchor="middle"><text x="173.1" y="1546.2">10</text><text x="252.7" y="1546.2">20</text><text x="332.4" y="1546.2">30</text><text x="412.1" y="1546.2">40</text><text x="491.8" y="1546.2">50</text><text x="571.4" y="1546.2">60</text><text x="651.1" y="1546.2">70</text><text x="730.8" y="1546.2">80</text><text x="810.4" y="1546.2">90</text><text x="890.1" y="1546.2">100</text></g></g>
</g>
<g clip-path="url(#cr)">
<text x="961.3" y="839.2" font-size="27.45">Ghana - WUR</text>
<g shape-rendering="crispEdges">
<path fill="#D55E00" d="M960 1522v-1h2v1zM962 1522v-1h2v1zM964 1522v-1h2v1zM966 1522v-1h2v1zM969 1522v-2h2v2zM971 1522v-2h2v2zM973 1522v-2h2v2zM975 1522v-3h2v3zM978 1522v-3h2v3zM980 1522v-3h2v3zM982 1522v-3h2v3zM984 1522v-2h3v2zM987 1522v-4h2v4zM989 1522v-3h2v3zM991 1522v-4h2v4zM994 1522v-5h2v5zM996 1522v-2h2v2zM998 1522v-4h2v4zM1000 1522v-5h2v5zM1003 1522v-5h2v5zM1005 1522v-4h2v4zM1007 1522v-6h2v6zM1009 1522v-6h2v6zM1012 1522v-5h2v5zM1014 1522v-6h2v6zM1016 1522v-6h2v6zM1018 1522v-2h3v2zM1021 1522v-5h2v5zM1023 1522v-7h2v7zM1025 1522v-7h2v7zM1028 1522v-7h2v7zM1030 1522v-3h2v3zM1032 1522v-7h2v7zM1034 1522v-3h2v3zM1037 1522v-6h2v6zM1039 1522v-7h2v7zM1041 1522v-5h2v5zM1043 1522v-8h2v8zM1046 1522v-8h2v8zM1048 1522v-7h2v7zM1050 1522v-8h2v8zM1053 1522v-9h2v9zM1055 1522v-4h2v4zM1057 1522v-6h2v6zM1059 1522v-9h2v9zM1062 1522v-7h2v7zM1064 1522v-10h2v10zM1066 1522v-9h2v9zM1068 1522v-3h2v3zM1071 1522v-9h2v9zM1073 1522v-10h2v10zM1075 1522v-11h2v11zM1077 1522v-2h2v2zM1080 1522v-9h2v9zM1082 1522v-3h2v3zM1084 1522v-11h2v11zM1087 1522v-10h2v10zM1089 1522v-11h2v11zM1091 1522v-12h2v12zM1093 1522v-12h2v12zM1096 1522v-7h2v7zM1098 1522v-12h2v12zM1100 1522v-10h2v10zM1102 1522v-12h2v12zM1105 1522v-7h2v7zM1107 1522v-11h2v11zM1109 1522v-8h2v8zM1111 1522v-10h3v10zM1114 1522v-10h2v10zM1116 1522v-8h2v8zM1118 1522v-13h2v13zM1121 1522v-7h2v7zM1123 1522v-13h2v13zM1125 1522v-11h2v11zM1127 1522v-14h2v14zM1130 1522v-12h2v12zM1132 1522v-14h2v14zM1134 1522v-15h2v15zM1136 1522v-13h2v13zM1139 1522v-13h2v13zM1141 1522v-15h2v15zM1143 1522v-15h2v15zM1145 1522v-15h3v15zM1148 1522v-13h2v13zM1150 1522v-14h2v14zM1152 1522v-16h2v16zM1155 1522v-1h2v1zM1157 1522v-12h2v12zM1159 1522v-16h2v16zM1161 1522v-11h2v11zM1164 1522v-10h2v10zM1166 1522v-17h2v17zM1168 1522v-17h2v17zM1170 1522v-13h2v13zM1173 1522v-17h2v17zM1175 1522v-17h2v17zM1177 1522v-18h2v18zM1180 1522v-18h2v18zM1182 1522v-14h2v14zM1184 1522v-9h2v9zM1186 1522v-18h2v18zM1189 1522v-12h2v12zM1191 1522v-16h2v16zM1193 1522v-13h2v13zM1195 1522v-16h2v16zM1198 1522v-19h2v19zM1200 1522v-9h2v9zM1202 1522v-19h2v19zM1204 1522v-20h3v20zM1207 1522v-20h2v20zM1209 1522v-19h2v19zM1211 1522v-20h2v20zM1214 1522v-9h2v9zM1216 1522v-20h2v20zM1218 1522v-14h2v14zM1220 1522v-11h2v11zM1223 1522v-21h2v21zM1225 1522v-13h2v13zM1227 1522v-21h2v21zM1229 1522v-17h2v17zM1232 1522v-7h2v7zM1234 1522v-13h2v13zM1236 1522v-18h2v18zM1238 1522v-19h3v19zM1241 1522v-17h2v17zM1243 1522v-22h2v22zM1245 1522v-19h2v19zM1248 1522v-12h2v12zM1250 1522v-23h2v23zM1252 1522v-23h2v23zM1254 1522v-21h2v21zM1257 1522v-12h2v12zM1259 1522v-23h2v23zM1261 1522v-16h2v16zM1263 1522v-22h2v22zM1266 1522v-19h2v19zM1268 1522v-24h2v24zM1270 1522v-11h2v11zM1273 1522v-22h2v22zM1275 1522v-17h2v17zM1277 1522v-25h2v25zM1279 1522v-18h2v18zM1282 1522v-16h2v16zM1284 1522v-20h2v20zM1286 1522v-25h2v25zM1288 1522v-25h2v25zM1291 1522v-26h2v26zM1293 1522v-26h2v26zM1295 1522v-9h2v9zM1297 1522v-8h2v8zM1300 1522v-26h2v26zM1302 1522v-26h2v26zM1304 1522v-7h2v7zM1307 1522v-25h2v25zM1309 1522v-27h2v27zM1311 1522v-16h2v16zM1313 1522v-27h2v27zM1316 1522v-27h2v27zM1318 1522v-21h2v21zM1320 1522v-27h2v27zM1322 1522v-17h2v17zM1325 1522v-28h2v28zM1327 1522v-20h2v20zM1329 1522v-28h2v28zM1331 1522v-14h3v14zM1334 1522v-28h2v28zM1336 1522v-25h2v25zM1338 1522v-21h2v21zM1341 1522v-29h2v29zM1343 1522v-29h2v29zM1345 1522v-24h2v24zM1347 1522v-20h2v20zM1350 1522v-30h2v30zM1352 1522v-28h2v28zM1354 1522v-30h2v30zM1356 1522v-30h2v30zM1359 1522v-31h2v31zM1361 1522v-17h2v17zM1363 1522v-8h2v8zM1365 1522v-24h3v24zM1368 1522v-23h2v23zM1370 1522v-31h2v31zM1372 1522v-32h2v32zM1375 1522v-32h2v32zM1377 1522v-28h2v28zM1379 1522v-18h2v18zM1381 1522v-29h2v29zM1384 1522v-9h2v9zM1386 1522v-27h2v27zM1388 1522v-33h2v33zM1390 1522v-33h2v33zM1393 1522v-16h2v16zM1395 1522v-16h2v16zM1397 1522v-14h2v14zM1400 1522v-19h2v19zM1402 1522v-34h2v34zM1404 1522v-21h2v21zM1406 1522v-35h2v35zM1409 1522v-35h2v35zM1411 1522v-35h2v35zM1413 1522v-35h2v35zM1415 1522v-36h2v36zM1418 1522v-13h2v13zM1420 1522v-36h2v36zM1422 1522v-13h2v13zM1424 1522v-37h2v37zM1427 1522v-37h2v37zM1429 1522v-31h2v31zM1431 1522v-38h2v38zM1434 1522v-38h2v38zM1436 1522v-31h2v31zM1438 1522v-27h2v27zM1440 1522v-30h2v30zM1443 1522v-13h2v13zM1445 1522v-37h2v37zM1447 1522v-38h2v38zM1449 1522v-3h2v3zM1452 1522v-37h2v37zM1454 1522v-32h2v32zM1456 1522v-23h2v23zM1458 1522v-27h3v27zM1461 1522v-8h2v8zM1463 1522v-43h2v43zM1465 1522v-37h2v37zM1468 1522v-35h2v35zM1470 1522v-44h2v44zM1472 1522v-44h2v44zM1474 1522v-24h2v24zM1477 1522v-28h2v28zM1479 1522v-41h2v41zM1481 1522v-26h2v26zM1483 1522v-46h2v46zM1486 1522v-46h2v46zM1488 1522v-34h2v34zM1490 1522v-36h2v36zM1492 1522v-48h3v48zM1495 1522v-48h2v48zM1497 1522v-48h2v48zM1499 1522v-49h2v49zM1502 1522v-49h2v49zM1504 1522v-47h2v47zM1506 1522v-50h2v50zM1508 1522v-40h2v40zM1511 1522v-32h2v32zM1513 1522v-42h2v42zM1515 1522v-52h2v52zM1517 1522v-52h2v52zM1520 1522v-35h2v35zM1522 1522v-44h2v44zM1524 1522v-33h2v33zM1527 1522v-34h2v34zM1529 1522v-21h2v21zM1531 1522v-32h2v32zM1533 1522v-20h2v20zM1536 1522v-26h2v26zM1538 1522v-57h2v57zM1540 1522v-57h2v57zM1542 1522v-40h2v40zM1545 1522v-57h2v57zM1547 1522v-53h2v53zM1549 1522v-58h2v58zM1551 1522v-60h3v60zM1554 1522v-61h2v61zM1556 1522v-50h2v50zM1558 1522v-62h2v62zM1561 1522v-33h2v33zM1563 1522v-63h2v63zM1565 1522v-60h2v60zM1567 1522v-64h2v64zM1570 1522v-65h2v65zM1572 1522v-66h2v66zM1574 1522v-15h2v15zM1576 1522v-51h2v51zM1579 1522v-61h2v61zM1581 1522v-68h2v68zM1583 1522v-62h2v62zM1585 1522v-70h3v70zM1588 1522v-44h2v44zM1590 1522v-63h2v63zM1592 1522v-16h2v16zM1595 1522v-60h2v60zM1597 1522v-73h2v73zM1599 1522v-61h2v61zM1601 1522v-74h2v74zM1604 1522v-75h2v75zM1606 1522v-70h2v70zM1608 1522v-70h2v70zM1610 1522v-76h2v76zM1613 1522v-44h2v44zM1615 1522v-36h2v36zM1617 1522v-74h2v74zM1620 1522v-73h2v73zM1622 1522v-79h2v79zM1624 1522v-35h2v35zM1626 1522v-81h2v81zM1629 1522v-82h2v82zM1631 1522v-83h2v83zM1633 1522v-84h2v84zM1635 1522v-27h2v27zM1638 1522v-84h2v84zM1640 1522v-86h2v86zM1642 1522v-72h2v72zM1644 1522v-86h2v86zM1647 1522v-85h2v85zM1649 1522v-90h2v90zM1651 1522v-90h2v90zM1654 1522v-5h2v5zM1656 1522v-92h2v92zM1658 1522v-72h2v72zM1660 1522v-94h2v94zM1663 1522v-15h2v15zM1665 1522v-77h2v77zM1667 1522v-70h2v70zM1669 1522v-89h2v89zM1672 1522v-75h2v75zM1674 1522v-40h2v40zM1676 1522v-99h2v99zM1678 1522v-80h3v80zM1681 1522v-79h2v79zM1683 1522v-85h2v85zM1685 1522v-54h2v54zM1688 1522v-39h2v39zM1690 1522v-77h2v77zM1692 1522v-81h2v81zM1694 1522v-18h2v18zM1697 1522v-94h2v94zM1699 1522v-69h2v69zM1701 1522v-36h2v36zM1703 1522v-73h2v73zM1706 1522v-114h2v114zM1708 1522v-96h2v96zM1710 1522v-76h2v76zM1712 1522v-23h3v23zM1715 1522v-74h2v74zM1717 1522v-88h2v88zM1719 1522v-114h2v114zM1722 1522v-169h2v169zM1724 1522v-150h2v150zM1726 1522v-182h2v182zM1728 1522v-117h2v117zM1731 1522v-127h2v127zM1733 1522v-94h2v94zM1735 1522v-157h2v157zM1737 1522v-12h2v12zM1740 1522v-225h2v225zM1742 1522v-70h2v70zM1744 1522v-203h2v203zM1747 1522v-251h2v251zM1749 1522v-236h2v236zM1751 1522v-269h2v269zM1753 1522v-255h2v255zM1756 1522v-23h2v23z"/>
<path fill="#F0E442" d="M966 1521v-1h2v1zM984 1520v-1h3v1zM996 1520v-1h2v1zM998 1518v-1h2v1zM1012 1517v-1h2v1zM1018 1520v-3h3v3zM1030 1519v-3h2v3zM1032 1515v-1h2v1zM1034 1519v-5h2v5zM1037 1516v-2h2v2zM1039 1515v-1h2v1zM1048 1515v-1h2v1zM1050 1514v-1h2v1zM1055 1518v-4h2v4zM1068 1519v-7h2v7zM1071 1513v-1h2v1zM1077 1520v-9h2v9zM1096 1515v-4h2v4zM1100 1512v-2h2v2zM1105 1515v-1h2v1zM1109 1514v-5h2v5zM1111 1512v-1h3v1zM1116 1514v-5h2v5zM1121 1515v-5h2v5zM1136 1509v-2h2v2zM1155 1521v-8h2v8zM1157 1510v-3h2v3zM1161 1511v-6h2v6zM1164 1512v-7h2v7zM1182 1508v-4h2v4zM1184 1513v-5h2v5zM1189 1510v-7h2v7zM1193 1509v-3h2v3zM1200 1513v-5h2v5zM1202 1503v-1h2v1zM1214 1513v-9h2v9zM1218 1508v-7h2v7zM1225 1509v-8h2v8zM1232 1515v-13h2v13zM1234 1509v-9h2v9zM1236 1504v-4h2v4zM1238 1503v-3h3v3zM1241 1505v-5h2v5zM1245 1503v-1h2v1zM1248 1510v-11h2v11zM1257 1510v-11h2v11zM1263 1500v-1h2v1zM1266 1503v-2h2v2zM1270 1511v-5h2v5zM1275 1505v-4h2v4zM1279 1504v-7h2v7zM1282 1506v-9h2v9zM1295 1513v-12h2v12zM1297 1514v-11h2v11zM1304 1515v-1h2v1zM1307 1497v-2h2v2zM1322 1505v-11h2v11zM1338 1501v-8h2v8zM1363 1514v-23h2v23zM1365 1498v-7h3v7zM1377 1494v-4h2v4zM1379 1504v-14h2v14zM1384 1513v-11h2v11zM1386 1495v-6h2v6zM1393 1506v-17h2v17zM1397 1508v-19h2v19zM1404 1501v-13h2v13zM1418 1509v-8h2v8zM1422 1509v-24h2v24zM1436 1491v-7h2v7zM1440 1492v-9h2v9zM1443 1509v-14h2v14zM1447 1484v-2h2v2zM1449 1519v-19h2v19zM1452 1485v-4h2v4zM1456 1499v-18h2v18zM1458 1495v-15h3v15zM1461 1514v-4h2v4zM1468 1487v-8h2v8zM1474 1498v-9h2v9zM1477 1494v-6h2v6zM1479 1481v-4h2v4zM1481 1496v-20h2v20zM1488 1488v-13h2v13zM1490 1486v-11h2v11zM1508 1482v-7h2v7zM1511 1490v-19h2v19zM1520 1487v-18h2v18zM1524 1489v-21h2v21zM1529 1501v-34h2v34zM1531 1490v-23h2v23zM1533 1502v-26h2v26zM1536 1496v-24h2v24zM1542 1482v-5h2v5zM1545 1465v-1h2v1zM1547 1469v-6h2v6zM1556 1472v-11h2v11zM1561 1489v-29h2v29zM1565 1462v-4h2v4zM1574 1507v-51h2v51zM1579 1461v-7h2v7zM1588 1478v-26h2v26zM1590 1459v-8h2v8zM1592 1506v-56h2v56zM1599 1461v-13h2v13zM1606 1452v-5h2v5zM1608 1452v-5h2v5zM1615 1486v-21h2v21zM1620 1449v-5h2v5zM1624 1487v-45h2v45zM1642 1450v-1h2v1zM1644 1436v-2h2v2zM1654 1517v-43h2v43zM1663 1507v-80h2v80zM1665 1445v-10h2v10zM1672 1447v-24h2v24zM1674 1482v-56h2v56zM1685 1468v-34h2v34zM1688 1483v-50h2v50zM1690 1445v-27h2v27zM1694 1504v-52h2v52zM1699 1453v-11h2v11zM1701 1486v-81h2v81zM1712 1499v-51h3v51zM1715 1448v-30h2v30zM1717 1434v-37h2v37zM1728 1405v-71h2v71zM1735 1365v-54h2v54zM1737 1510v-173h2v173zM1756 1499v-461h2v461z"/>
<path fill="#0072B2" d="M964 1521v-1h2v1zM984 1519v-1h3v1zM989 1519v-1h2v1zM996 1519v-2h2v2zM1005 1518v-1h2v1zM1018 1517v-2h3v2zM1021 1517v-2h2v2zM1030 1516v-1h2v1zM1041 1517v-3h2v3zM1048 1514v-1h2v1zM1055 1514v-1h2v1zM1057 1516v-3h2v3zM1062 1515v-3h2v3zM1066 1513v-1h2v1zM1080 1513v-2h2v2zM1082 1519v-8h2v8zM1087 1512v-1h2v1zM1096 1511v-1h2v1zM1105 1514v-5h2v5zM1107 1511v-2h2v2zM1111 1511v-2h3v2zM1114 1512v-3h2v3zM1121 1510v-2h2v2zM1123 1509v-1h2v1zM1125 1511v-3h2v3zM1130 1510v-2h2v2zM1139 1509v-2h2v2zM1148 1509v-3h2v3zM1150 1508v-2h2v2zM1155 1513v-7h2v7zM1157 1507v-1h2v1zM1170 1509v-4h2v4zM1175 1505v-1h2v1zM1184 1508v-4h2v4zM1191 1506v-3h2v3zM1193 1506v-3h2v3zM1195 1506v-3h2v3zM1200 1508v-5h2v5zM1209 1503v-1h2v1zM1214 1504v-2h2v2zM1220 1511v-10h2v10zM1229 1505v-4h2v4zM1232 1502v-2h2v2zM1245 1502v-2h2v2zM1254 1501v-2h2v2zM1261 1506v-8h2v8zM1263 1499v-1h2v1zM1266 1501v-3h2v3zM1270 1506v-8h2v8zM1273 1500v-2h2v2zM1275 1501v-4h2v4zM1284 1502v-5h2v5zM1295 1501v-5h2v5zM1297 1503v-7h2v7zM1304 1514v-18h2v18zM1311 1506v-11h2v11zM1318 1501v-6h2v6zM1327 1502v-8h2v8zM1331 1508v-14h3v14zM1336 1497v-4h2v4zM1345 1498v-5h2v5zM1347 1502v-10h2v10zM1352 1494v-2h2v2zM1361 1505v-14h2v14zM1368 1499v-8h2v8zM1381 1493v-3h2v3zM1384 1502v-12h2v12zM1395 1506v-17h2v17zM1400 1503v-15h2v15zM1418 1501v-15h2v15zM1429 1491v-6h2v6zM1438 1495v-12h2v12zM1443 1495v-12h2v12zM1445 1485v-3h2v3zM1449 1500v-18h2v18zM1454 1490v-9h2v9zM1461 1510v-30h2v30zM1465 1485v-6h2v6zM1474 1489v-11h2v11zM1477 1488v-11h2v11zM1504 1475v-3h2v3zM1508 1475v-4h2v4zM1513 1480v-9h2v9zM1522 1478v-9h2v9zM1527 1488v-20h2v20zM1533 1476v-10h2v10zM1536 1472v-6h2v6zM1542 1477v-13h2v13zM1549 1464v-2h2v2zM1576 1471v-16h2v16zM1583 1460v-7h2v7zM1595 1462v-12h2v12zM1608 1447v-1h2v1zM1613 1478v-33h2v33zM1615 1465v-20h2v20zM1617 1448v-4h2v4zM1635 1495v-58h2v58zM1638 1438v-2h2v2zM1642 1449v-14h2v14zM1647 1437v-4h2v4zM1654 1474v-43h2v43zM1658 1450v-21h2v21zM1665 1435v-9h2v9zM1667 1452v-27h2v27zM1669 1433v-9h2v9zM1674 1426v-4h2v4zM1676 1423v-2h2v2zM1678 1442v-21h3v21zM1681 1443v-23h2v23zM1683 1437v-18h2v18zM1685 1434v-16h2v16zM1688 1433v-16h2v16zM1690 1418v-2h2v2zM1692 1441v-26h2v26zM1694 1452v-38h2v38zM1697 1428v-17h2v17zM1699 1442v-34h2v34zM1703 1449v-47h2v47zM1706 1408v-11h2v11zM1708 1426v-34h2v34zM1710 1446v-59h2v59zM1712 1448v-68h3v68zM1715 1418v-44h2v44zM1717 1397v-30h2v30zM1719 1408v-48h2v48zM1724 1372v-26h2v26zM1731 1395v-67h2v67zM1733 1428v-108h2v108zM1737 1337v-34h2v34zM1742 1452v-162h2v162zM1744 1319v-38h2v38zM1749 1286v-24h2v24zM1753 1267v-28h2v28zM1756 1038v-4h2v4z"/>
<g opacity=".5">
<path fill="#fff" d="M963 1522v-1h1v1zM972 1522v-2h1v2zM981 1522v-3h1v3zM988 1522v-4h1v4zM997 1522v-5h1v5zM1006 1522v-5h1v5zM1015 1522v-6h1v6zM1022 1522v-7h1v7zM1031 1522v-7h1v7zM1040 1522v-8h1v8zM1056 1522v-9h1v9zM1065 1522v-10h1v10zM1074 1522v-10h1v10zM1090 1522v-11h1v11zM1099 1522v-12h1v12zM1108 1522v-13h1v13zM1115 1522v-13h1v13zM1124 1522v-14h1v14zM1133 1522v-14h1v14zM1149 1522v-16h1v16zM1158 1522v-16h1v16zM1167 1522v-17h1v17zM1183 1522v-18h1v18zM1192 1522v-19h1v19zM1201 1522v-19h1v19zM1208 1522v-20h1v20zM1217 1522v-20h1v20zM1226 1522v-21h1v21zM1235 1522v-22h1v22zM1242 1522v-22h1v22zM1251 1522v-23h1v23zM1260 1522v-23h1v23zM1276 1522v-25h1v25zM1285 1522v-25h1v25zM1294 1522v-26h1v26zM1310 1522v-27h1v27zM1319 1522v-27h1v27zM1328 1522v-28h1v28zM1335 1522v-28h1v28zM1344 1522v-29h1v29zM1353 1522v-30h1v30zM1362 1522v-31h1v31zM1369 1522v-31h1v31zM1378 1522v-32h1v32zM1387 1522v-33h1v33zM1403 1522v-34h1v34zM1412 1522v-35h1v35zM1421 1522v-36h1v36zM1437 1522v-38h1v38zM1446 1522v-40h1v40zM1455 1522v-41h1v41zM1462 1522v-42h1v42zM1471 1522v-44h1v44zM1480 1522v-45h1v45zM1496 1522v-48h1v48zM1505 1522v-50h1v50zM1514 1522v-51h1v51zM1530 1522v-55h1v55zM1539 1522v-57h1v57zM1548 1522v-59h1v59zM1564 1522v-63h1v63zM1573 1522v-66h1v66zM1582 1522v-68h1v68zM1589 1522v-70h1v70zM1598 1522v-73h1v73zM1607 1522v-75h1v75zM1623 1522v-79h1v79zM1632 1522v-83h1v83zM1641 1522v-86h1v86zM1657 1522v-92h1v92zM1666 1522v-96h1v96zM1675 1522v-100h1v100zM1682 1522v-102h1v102zM1691 1522v-106h1v106zM1700 1522v-114h1v114zM1709 1522v-130h1v130zM1716 1522v-148h1v148zM1725 1522v-176h1v176zM1734 1522v-202h1v202zM1750 1522v-260h1v260zM1757 1522v-488h1v488z"/>
<path fill="#D55E00" d="M960 1522v-1h1v1zM961 1522v-1h2v1zM964 1522v-1h2v1zM966 1522v-1h2v1zM968 1522v-2h2v2zM970 1522v-2h2v2zM973 1522v-2h2v2zM975 1522v-3h2v3zM977 1522v-3h2v3zM979 1522v-3h2v3zM982 1522v-3h2v3zM984 1522v-2h2v2zM986 1522v-4h2v4zM989 1522v-3h2v3zM991 1522v-4h2v4zM993 1522v-5h2v5zM995 1522v-2h2v2zM998 1522v-4h2v4zM1000 1522v-5h2v5zM1002 1522v-5h2v5zM1004 1522v-4h2v4zM1007 1522v-6h2v6zM1009 1522v-6h2v6zM1011 1522v-5h2v5zM1013 1522v-6h2v6zM1016 1522v-6h2v6zM1018 1522v-2h2v2zM1020 1522v-5h2v5zM1023 1522v-7h2v7zM1025 1522v-7h2v7zM1027 1522v-7h2v7zM1029 1522v-3h2v3zM1032 1522v-7h2v7zM1034 1522v-3h2v3zM1036 1522v-6h2v6zM1038 1522v-7h2v7zM1041 1522v-5h2v5zM1043 1522v-8h2v8zM1045 1522v-8h2v8zM1047 1522v-7h3v7zM1050 1522v-8h2v8zM1052 1522v-9h2v9zM1054 1522v-4h2v4zM1057 1522v-6h2v6zM1059 1522v-9h2v9zM1061 1522v-7h2v7zM1063 1522v-10h2v10zM1066 1522v-9h2v9zM1068 1522v-3h2v3zM1070 1522v-9h2v9zM1072 1522v-10h2v10zM1075 1522v-11h2v11zM1077 1522v-2h2v2zM1079 1522v-9h2v9zM1081 1522v-3h3v3zM1084 1522v-11h2v11zM1086 1522v-10h2v10zM1088 1522v-11h2v11zM1091 1522v-12h2v12zM1093 1522v-12h2v12zM1095 1522v-7h2v7zM1097 1522v-12h2v12zM1100 1522v-10h2v10zM1102 1522v-12h2v12zM1104 1522v-7h2v7zM1106 1522v-11h2v11zM1109 1522v-8h2v8zM1111 1522v-10h2v10zM1113 1522v-10h2v10zM1116 1522v-8h2v8zM1118 1522v-13h2v13zM1120 1522v-7h2v7zM1122 1522v-13h2v13zM1125 1522v-11h2v11zM1127 1522v-14h2v14zM1129 1522v-12h2v12zM1131 1522v-14h2v14zM1134 1522v-15h2v15zM1136 1522v-13h2v13zM1138 1522v-13h2v13zM1140 1522v-15h3v15zM1143 1522v-15h2v15zM1145 1522v-15h2v15zM1147 1522v-13h2v13zM1150 1522v-14h2v14zM1152 1522v-16h2v16zM1154 1522v-1h2v1zM1156 1522v-12h2v12zM1159 1522v-16h2v16zM1161 1522v-11h2v11zM1163 1522v-10h2v10zM1165 1522v-17h2v17zM1168 1522v-17h2v17zM1170 1522v-13h2v13zM1172 1522v-17h2v17zM1174 1522v-17h3v17zM1177 1522v-18h2v18zM1179 1522v-18h2v18zM1181 1522v-14h2v14zM1184 1522v-9h2v9zM1186 1522v-18h2v18zM1188 1522v-12h2v12zM1190 1522v-16h2v16zM1193 1522v-13h2v13zM1195 1522v-16h2v16zM1197 1522v-19h2v19zM1199 1522v-9h2v9zM1202 1522v-19h2v19zM1204 1522v-20h2v20zM1206 1522v-20h2v20zM1209 1522v-19h2v19zM1211 1522v-20h2v20zM1213 1522v-9h2v9zM1215 1522v-20h2v20zM1218 1522v-14h2v14zM1220 1522v-11h2v11zM1222 1522v-21h2v21zM1224 1522v-13h2v13zM1227 1522v-21h2v21zM1229 1522v-17h2v17zM1231 1522v-7h2v7zM1233 1522v-13h2v13zM1236 1522v-18h2v18zM1238 1522v-19h2v19zM1240 1522v-17h2v17zM1243 1522v-22h2v22zM1245 1522v-19h2v19zM1247 1522v-12h2v12zM1249 1522v-23h2v23zM1252 1522v-23h2v23zM1254 1522v-21h2v21zM1256 1522v-12h2v12zM1258 1522v-23h2v23zM1261 1522v-16h2v16zM1263 1522v-22h2v22zM1265 1522v-19h2v19zM1267 1522v-24h3v24zM1270 1522v-11h2v11zM1272 1522v-22h2v22zM1274 1522v-17h2v17zM1277 1522v-25h2v25zM1279 1522v-18h2v18zM1281 1522v-16h2v16zM1283 1522v-20h2v20zM1286 1522v-25h2v25zM1288 1522v-25h2v25zM1290 1522v-26h2v26zM1292 1522v-26h2v26zM1295 1522v-9h2v9zM1297 1522v-8h2v8zM1299 1522v-26h2v26zM1301 1522v-26h3v26zM1304 1522v-7h2v7zM1306 1522v-25h2v25zM1308 1522v-27h2v27zM1311 1522v-16h2v16zM1313 1522v-27h2v27zM1315 1522v-27h2v27zM1317 1522v-21h2v21zM1320 1522v-27h2v27zM1322 1522v-17h2v17zM1324 1522v-28h2v28zM1326 1522v-20h2v20zM1329 1522v-28h2v28zM1331 1522v-14h2v14zM1333 1522v-28h2v28zM1336 1522v-25h2v25zM1338 1522v-21h2v21zM1340 1522v-29h2v29zM1342 1522v-29h2v29zM1345 1522v-24h2v24zM1347 1522v-20h2v20zM1349 1522v-30h2v30zM1351 1522v-28h2v28zM1354 1522v-30h2v30zM1356 1522v-30h2v30zM1358 1522v-31h2v31zM1360 1522v-17h2v17zM1363 1522v-8h2v8zM1365 1522v-24h2v24zM1367 1522v-23h2v23zM1370 1522v-31h2v31zM1372 1522v-32h2v32zM1374 1522v-32h2v32zM1376 1522v-28h2v28zM1379 1522v-18h2v18zM1381 1522v-29h2v29zM1383 1522v-9h2v9zM1385 1522v-27h2v27zM1388 1522v-33h2v33zM1390 1522v-33h2v33zM1392 1522v-16h2v16zM1394 1522v-16h3v16zM1397 1522v-14h2v14zM1399 1522v-19h2v19zM1401 1522v-34h2v34zM1404 1522v-21h2v21zM1406 1522v-35h2v35zM1408 1522v-35h2v35zM1410 1522v-35h2v35zM1413 1522v-35h2v35zM1415 1522v-36h2v36zM1417 1522v-13h2v13zM1419 1522v-36h2v36zM1422 1522v-13h2v13zM1424 1522v-37h2v37zM1426 1522v-37h2v37zM1428 1522v-31h3v31zM1431 1522v-38h2v38zM1433 1522v-38h2v38zM1435 1522v-31h2v31zM1438 1522v-27h2v27zM1440 1522v-30h2v30zM1442 1522v-13h2v13zM1444 1522v-37h2v37zM1447 1522v-38h2v38zM1449 1522v-3h2v3zM1451 1522v-37h2v37zM1453 1522v-32h2v32zM1456 1522v-23h2v23zM1458 1522v-27h2v27zM1460 1522v-8h2v8zM1463 1522v-43h2v43zM1465 1522v-37h2v37zM1467 1522v-35h2v35zM1469 1522v-44h2v44zM1472 1522v-44h2v44zM1474 1522v-24h2v24zM1476 1522v-28h2v28zM1478 1522v-41h2v41zM1481 1522v-26h2v26zM1483 1522v-46h2v46zM1485 1522v-46h2v46zM1487 1522v-34h3v34zM1490 1522v-36h2v36zM1492 1522v-48h2v48zM1494 1522v-48h2v48zM1497 1522v-48h2v48zM1499 1522v-49h2v49zM1501 1522v-49h2v49zM1503 1522v-47h2v47zM1506 1522v-50h2v50zM1508 1522v-40h2v40zM1510 1522v-32h2v32zM1512 1522v-42h2v42zM1515 1522v-52h2v52zM1517 1522v-52h2v52zM1519 1522v-35h2v35zM1521 1522v-44h3v44zM1524 1522v-33h2v33zM1526 1522v-34h2v34zM1528 1522v-21h2v21zM1531 1522v-32h2v32zM1533 1522v-20h2v20zM1535 1522v-26h2v26zM1537 1522v-57h2v57zM1540 1522v-57h2v57zM1542 1522v-40h2v40zM1544 1522v-57h2v57zM1546 1522v-53h2v53zM1549 1522v-58h2v58zM1551 1522v-60h2v60zM1553 1522v-61h2v61zM1555 1522v-50h3v50zM1558 1522v-62h2v62zM1560 1522v-33h2v33zM1562 1522v-63h2v63zM1565 1522v-60h2v60zM1567 1522v-64h2v64zM1569 1522v-65h2v65zM1571 1522v-66h2v66zM1574 1522v-15h2v15zM1576 1522v-51h2v51zM1578 1522v-61h2v61zM1580 1522v-68h2v68zM1583 1522v-62h2v62zM1585 1522v-70h2v70zM1587 1522v-44h2v44zM1590 1522v-63h2v63zM1592 1522v-16h2v16zM1594 1522v-60h2v60zM1596 1522v-73h2v73zM1599 1522v-61h2v61zM1601 1522v-74h2v74zM1603 1522v-75h2v75zM1605 1522v-70h2v70zM1608 1522v-70h2v70zM1610 1522v-76h2v76zM1612 1522v-44h2v44zM1614 1522v-36h3v36zM1617 1522v-74h2v74zM1619 1522v-73h2v73zM1621 1522v-79h2v79zM1624 1522v-35h2v35zM1626 1522v-81h2v81zM1628 1522v-82h2v82zM1630 1522v-83h2v83zM1633 1522v-84h2v84zM1635 1522v-27h2v27zM1637 1522v-84h2v84zM1639 1522v-86h2v86zM1642 1522v-72h2v72zM1644 1522v-86h2v86zM1646 1522v-85h2v85zM1648 1522v-90h3v90zM1651 1522v-90h2v90zM1653 1522v-5h2v5zM1655 1522v-92h2v92zM1658 1522v-72h2v72zM1660 1522v-94h2v94zM1662 1522v-15h2v15zM1664 1522v-77h2v77zM1667 1522v-70h2v70zM1669 1522v-89h2v89zM1671 1522v-75h2v75zM1673 1522v-40h2v40zM1676 1522v-99h2v99zM1678 1522v-80h2v80zM1680 1522v-79h2v79zM1683 1522v-85h2v85zM1685 1522v-54h2v54zM1687 1522v-39h2v39zM1689 1522v-77h2v77zM1692 1522v-81h2v81zM1694 1522v-18h2v18zM1696 1522v-94h2v94zM1698 1522v-69h2v69zM1701 1522v-36h2v36zM1703 1522v-73h2v73zM1705 1522v-114h2v114zM1707 1522v-96h2v96zM1710 1522v-76h2v76zM1712 1522v-23h2v23zM1714 1522v-74h2v74zM1717 1522v-88h2v88zM1719 1522v-114h2v114zM1721 1522v-169h2v169zM1723 1522v-150h2v150zM1726 1522v-182h2v182zM1728 1522v-117h2v117zM1730 1522v-127h2v127zM1732 1522v-94h2v94zM1735 1522v-157h2v157zM1737 1522v-12h2v12zM1739 1522v-225h2v225zM1741 1522v-70h3v70zM1744 1522v-203h2v203zM1746 1522v-251h2v251zM1748 1522v-236h2v236zM1751 1522v-269h2v269zM1753 1522v-255h2v255zM1755 1522v-23h2v23z"/>
<path fill="#F0E442" d="M966 1521v-1h2v1zM984 1520v-1h2v1zM995 1520v-1h2v1zM998 1518v-1h2v1zM1011 1517v-1h2v1zM1018 1520v-3h2v3zM1029 1519v-3h2v3zM1032 1515v-1h2v1zM1034 1519v-5h2v5zM1036 1516v-2h2v2zM1038 1515v-1h2v1zM1047 1515v-1h3v1zM1050 1514v-1h2v1zM1054 1518v-4h2v4zM1068 1519v-7h2v7zM1070 1513v-1h2v1zM1077 1520v-9h2v9zM1095 1515v-4h2v4zM1100 1512v-2h2v2zM1104 1515v-1h2v1zM1109 1514v-5h2v5zM1111 1512v-1h2v1zM1116 1514v-5h2v5zM1120 1515v-5h2v5zM1136 1509v-2h2v2zM1154 1521v-8h2v8zM1156 1510v-3h2v3zM1161 1511v-6h2v6zM1163 1512v-7h2v7zM1181 1508v-4h2v4zM1184 1513v-5h2v5zM1188 1510v-7h2v7zM1193 1509v-3h2v3zM1199 1513v-5h2v5zM1202 1503v-1h2v1zM1213 1513v-9h2v9zM1218 1508v-7h2v7zM1224 1509v-8h2v8zM1231 1515v-13h2v13zM1233 1509v-9h2v9zM1236 1504v-4h2v4zM1238 1503v-3h2v3zM1240 1505v-5h2v5zM1245 1503v-1h2v1zM1247 1510v-11h2v11zM1256 1510v-11h2v11zM1263 1500v-1h2v1zM1265 1503v-2h2v2zM1270 1511v-5h2v5zM1274 1505v-4h2v4zM1279 1504v-7h2v7zM1281 1506v-9h2v9zM1295 1513v-12h2v12zM1297 1514v-11h2v11zM1304 1515v-1h2v1zM1306 1497v-2h2v2zM1322 1505v-11h2v11zM1338 1501v-8h2v8zM1363 1514v-23h2v23zM1365 1498v-7h2v7zM1376 1494v-4h2v4zM1379 1504v-14h2v14zM1383 1513v-11h2v11zM1385 1495v-6h2v6zM1392 1506v-17h2v17zM1397 1508v-19h2v19zM1404 1501v-13h2v13zM1417 1509v-8h2v8zM1422 1509v-24h2v24zM1435 1491v-7h2v7zM1440 1492v-9h2v9zM1442 1509v-14h2v14zM1447 1484v-2h2v2zM1449 1519v-19h2v19zM1451 1485v-4h2v4zM1456 1499v-18h2v18zM1458 1495v-15h2v15zM1460 1514v-4h2v4zM1467 1487v-8h2v8zM1474 1498v-9h2v9zM1476 1494v-6h2v6zM1478 1481v-4h2v4zM1481 1496v-20h2v20zM1487 1488v-13h3v13zM1490 1486v-11h2v11zM1508 1482v-7h2v7zM1510 1490v-19h2v19zM1519 1487v-18h2v18zM1524 1489v-21h2v21zM1528 1501v-34h2v34zM1531 1490v-23h2v23zM1533 1502v-26h2v26zM1535 1496v-24h2v24zM1542 1482v-5h2v5zM1544 1465v-1h2v1zM1546 1469v-6h2v6zM1555 1472v-11h3v11zM1560 1489v-29h2v29zM1565 1462v-4h2v4zM1574 1507v-51h2v51zM1578 1461v-7h2v7zM1587 1478v-26h2v26zM1590 1459v-8h2v8zM1592 1506v-56h2v56zM1599 1461v-13h2v13zM1605 1452v-5h2v5zM1608 1452v-5h2v5zM1614 1486v-21h3v21zM1619 1449v-5h2v5zM1624 1487v-45h2v45zM1642 1450v-1h2v1zM1644 1436v-2h2v2zM1653 1517v-43h2v43zM1662 1507v-80h2v80zM1664 1445v-10h2v10zM1671 1447v-24h2v24zM1673 1482v-56h2v56zM1685 1468v-34h2v34zM1687 1483v-50h2v50zM1689 1445v-27h2v27zM1694 1504v-52h2v52zM1698 1453v-11h2v11zM1701 1486v-81h2v81zM1712 1499v-51h2v51zM1714 1448v-30h2v30zM1717 1434v-37h2v37zM1728 1405v-71h2v71zM1735 1365v-54h2v54zM1737 1510v-173h2v173zM1755 1499v-461h2v461z"/>
<path fill="#0072B2" d="M964 1521v-1h2v1zM984 1519v-1h2v1zM989 1519v-1h2v1zM995 1519v-2h2v2zM1004 1518v-1h2v1zM1018 1517v-2h2v2zM1020 1517v-2h2v2zM1029 1516v-1h2v1zM1041 1517v-3h2v3zM1047 1514v-1h3v1zM1054 1514v-1h2v1zM1057 1516v-3h2v3zM1061 1515v-3h2v3zM1066 1513v-1h2v1zM1079 1513v-2h2v2zM1081 1519v-8h3v8zM1086 1512v-1h2v1zM1095 1511v-1h2v1zM1104 1514v-5h2v5zM1106 1511v-2h2v2zM1111 1511v-2h2v2zM1113 1512v-3h2v3zM1120 1510v-2h2v2zM1122 1509v-1h2v1zM1125 1511v-3h2v3zM1129 1510v-2h2v2zM1138 1509v-2h2v2zM1147 1509v-3h2v3zM1150 1508v-2h2v2zM1154 1513v-7h2v7zM1156 1507v-1h2v1zM1170 1509v-4h2v4zM1174 1505v-1h3v1zM1184 1508v-4h2v4zM1190 1506v-3h2v3zM1193 1506v-3h2v3zM1195 1506v-3h2v3zM1199 1508v-5h2v5zM1209 1503v-1h2v1zM1213 1504v-2h2v2zM1220 1511v-10h2v10zM1229 1505v-4h2v4zM1231 1502v-2h2v2zM1245 1502v-2h2v2zM1254 1501v-2h2v2zM1261 1506v-8h2v8zM1263 1499v-1h2v1zM1265 1501v-3h2v3zM1270 1506v-8h2v8zM1272 1500v-2h2v2zM1274 1501v-4h2v4zM1283 1502v-5h2v5zM1295 1501v-5h2v5zM1297 1503v-7h2v7zM1304 1514v-18h2v18zM1311 1506v-11h2v11zM1317 1501v-6h2v6zM1326 1502v-8h2v8zM1331 1508v-14h2v14zM1336 1497v-4h2v4zM1345 1498v-5h2v5zM1347 1502v-10h2v10zM1351 1494v-2h2v2zM1360 1505v-14h2v14zM1367 1499v-8h2v8zM1381 1493v-3h2v3zM1383 1502v-12h2v12zM1394 1506v-17h3v17zM1399 1503v-15h2v15zM1417 1501v-15h2v15zM1428 1491v-6h3v6zM1438 1495v-12h2v12zM1442 1495v-12h2v12zM1444 1485v-3h2v3zM1449 1500v-18h2v18zM1453 1490v-9h2v9zM1460 1510v-30h2v30zM1465 1485v-6h2v6zM1474 1489v-11h2v11zM1476 1488v-11h2v11zM1503 1475v-3h2v3zM1508 1475v-4h2v4zM1512 1480v-9h2v9zM1521 1478v-9h3v9zM1526 1488v-20h2v20zM1533 1476v-10h2v10zM1535 1472v-6h2v6zM1542 1477v-13h2v13zM1549 1464v-2h2v2zM1576 1471v-16h2v16zM1583 1460v-7h2v7zM1594 1462v-12h2v12zM1608 1447v-1h2v1zM1612 1478v-33h2v33zM1614 1465v-20h3v20zM1617 1448v-4h2v4zM1635 1495v-58h2v58zM1637 1438v-2h2v2zM1642 1449v-14h2v14zM1646 1437v-4h2v4zM1653 1474v-43h2v43zM1658 1450v-21h2v21zM1664 1435v-9h2v9zM1667 1452v-27h2v27zM1669 1433v-9h2v9zM1673 1426v-4h2v4zM1676 1423v-2h2v2zM1678 1442v-21h2v21zM1680 1443v-23h2v23zM1683 1437v-18h2v18zM1685 1434v-16h2v16zM1687 1433v-16h2v16zM1689 1418v-2h2v2zM1692 1441v-26h2v26zM1694 1452v-38h2v38zM1696 1428v-17h2v17zM1698 1442v-34h2v34zM1703 1449v-47h2v47zM1705 1408v-11h2v11zM1707 1426v-34h2v34zM1710 1446v-59h2v59zM1712 1448v-68h2v68zM1714 1418v-44h2v44zM1717 1397v-30h2v30zM1719 1408v-48h2v48zM1723 1372v-26h2v26zM1730 1395v-67h2v67zM1732 1428v-108h2v108zM1737 1337v-34h2v34zM1741 1452v-162h3v162zM1744 1319v-38h2v38zM1748 1286v-24h2v24zM1753 1267v-28h2v28zM1755 1038v-4h2v4z"/>
</g></g>
<path d="M960.4 1425.1H1757.4" stroke="#000" stroke-width="2.3" stroke-dasharray="4.1 4 12 3.9" stroke-dashoffset="1" fill="none"/>
<path d="M960.4 1486.1H1757.4" stroke="#000" stroke-width="2.2" stroke-dasharray="7.8 8.2" stroke-dashoffset="1.3" fill="none"/>
<path d="M1419.6 1521.4V856.3" stroke="#6e6e6e" stroke-width="3" stroke-dasharray="12.1 11.83" fill="none"/>
<path d="M1667.9 1521.4V856.3" stroke="#6e6e6e" stroke-width="3" stroke-dasharray="5.65 6.35 17.5 6.35" fill="none"/>
<g font-size="17.5" stroke="#000" stroke-width=".5"><text x="976.8" y="1415.2">Living income</text><text x="966.5" y="1481.5">Extreme poverty line</text></g>
<text x="1007.4" y="897.8" font-size="20.2" stroke="#000" stroke-width=".6">n= 353</text>
<path d="M960.4 856.3V1521.4H1756.5" stroke="#000" stroke-width="2.2" fill="none" stroke-linecap="square"/>
<path d="M960.4 1521.4h-5.8M960.4 1438.3h-5.8M960.4 1355.1h-5.8M960.4 1272h-5.8M960.4 1188.8h-5.8M960.4 1105.7h-5.8M960.4 1022.6h-5.8M960.4 939.4h-5.8M960.4 856.3h-5.8M1038.7 1521.4v5.8M1118.4 1521.4v5.8M1198.2 1521.4v5.8M1277.9 1521.4v5.8M1357.7 1521.4v5.8M1437.5 1521.4v5.8M1517.2 1521.4v5.8M1597 1521.4v5.8M1676.7 1521.4v5.8M1756.5 1521.4v5.8" stroke="#000" stroke-width="2.1" fill="none"/>
<g font-size="18" fill="#2e2e2e" stroke="#2e2e2e" stroke-width=".22"><g text-anchor="end"><text x="949.1" y="1528.5">0.0</text><text x="949.1" y="1445.4">5.0</text><text x="949.1" y="1362.2">10.0</text><text x="949.1" y="1279.1">15.0</text><text x="949.1" y="1195.9">20.0</text><text x="949.1" y="1112.8">25.0</text><text x="949.1" y="1029.7">30.0</text><text x="949.1" y="946.5">35.0</text><text x="949.1" y="863.4">40.0</text></g><g text-anchor="middle"><text x="1038.7" y="1546.2">10</text><text x="1118.4" y="1546.2">20</text><text x="1198.2" y="1546.2">30</text><text x="1277.9" y="1546.2">40</text><text x="1357.7" y="1546.2">50</text><text x="1437.5" y="1546.2">60</text><text x="1517.2" y="1546.2">70</text><text x="1597" y="1546.2">80</text><text x="1676.7" y="1546.2">90</text><text x="1756.5" y="1546.2">100</text></g></g>
</g>
<g clip-path="url(#cl)">
<text x="95" y="1592.7" font-size="27.2">Côte d'Ivoire - Cargill</text>
<clipPath id="cg"><path d="M94.5 2275.3L94.2 2275.3L95.2 2274.7L96.2 2274.1L97.2 2273.4L98.2 2272.8L99.2 2272.4L100.2 2272L101.2 2271.6L102.2 2271.1L103.2 2270.9L104.2 2270.6L105.2 2270.3L106.2 2270.1L107.1 2269.8L108.1 2269.5L109.1 2269.3L110.1 2269L111.1 2268.8L112.1 2268.6L113.1 2268.4L114.1 2268.2L115.1 2268L116.1 2267.9L117.1 2267.7L118.1 2267.5L119.1 2267.3L120.1 2267.2L121.1 2267.1L122.1 2266.9L123.1 2266.8L124.1 2266.7L125.1 2266.5L126.1 2266.4L127.1 2266.3L128.1 2266.1L129.1 2266L130.1 2265.9L131.1 2265.7L132 2265.6L133 2265.5L134 2265.3L135 2265.2L136 2265.1L137 2265L138 2264.9L139 2264.8L140 2264.7L141 2264.6L142 2264.5L143 2264.4L144 2264.3L145 2264.2L146 2264.1L147 2264L148 2263.9L149 2263.8L150 2263.7L151 2263.6L152 2263.5L153 2263.3L154 2263.2L155 2263.1L156 2263L156.9 2262.9L157.9 2262.8L158.9 2262.7L159.9 2262.6L160.9 2262.5L161.9 2262.4L162.9 2262.3L163.9 2262.2L164.9 2262.1L165.9 2262L166.9 2261.9L167.9 2261.8L168.9 2261.7L169.9 2261.6L170.9 2261.5L171.9 2261.4L172.9 2261.3L173.9 2261.2L174.9 2261.1L175.9 2261L176.9 2260.9L177.9 2260.8L178.9 2260.8L179.9 2260.7L180.9 2260.6L181.8 2260.5L182.8 2260.4L183.8 2260.3L184.8 2260.3L185.8 2260.2L186.8 2260.1L187.8 2260L188.8 2259.9L189.8 2259.8L190.8 2259.8L191.8 2259.7L192.8 2259.6L193.8 2259.5L194.8 2259.4L195.8 2259.3L196.8 2259.3L197.8 2259.2L198.8 2259.1L199.8 2259L200.8 2258.9L201.8 2258.8L202.8 2258.8L203.8 2258.7L204.8 2258.6L205.8 2258.5L206.7 2258.4L207.7 2258.3L208.7 2258.3L209.7 2258.2L210.7 2258.1L211.7 2258L212.7 2257.9L213.7 2257.8L214.7 2257.8L215.7 2257.7L216.7 2257.6L217.7 2257.5L218.7 2257.4L219.7 2257.3L220.7 2257.3L221.7 2257.2L222.7 2257.1L223.7 2257L224.7 2256.9L225.7 2256.8L226.7 2256.8L227.7 2256.7L228.7 2256.6L229.7 2256.5L230.7 2256.4L231.6 2256.3L232.6 2256.3L233.6 2256.2L234.6 2256.1L235.6 2256L236.6 2255.9L237.6 2255.8L238.6 2255.8L239.6 2255.7L240.6 2255.6L241.6 2255.5L242.6 2255.4L243.6 2255.3L244.6 2255.3L245.6 2255.2L246.6 2255.1L247.6 2255L248.6 2254.9L249.6 2254.8L250.6 2254.8L251.6 2254.7L252.6 2254.6L253.6 2254.5L254.6 2254.4L255.6 2254.4L256.5 2254.3L257.5 2254.2L258.5 2254.2L259.5 2254.1L260.5 2254L261.5 2253.9L262.5 2253.9L263.5 2253.8L264.5 2253.7L265.5 2253.6L266.5 2253.6L267.5 2253.5L268.5 2253.4L269.5 2253.4L270.5 2253.3L271.5 2253.2L272.5 2253.1L273.5 2253.1L274.5 2253L275.5 2252.9L276.5 2252.8L277.5 2252.8L278.5 2252.7L279.5 2252.6L280.5 2252.6L281.4 2252.5L282.4 2252.4L283.4 2252.3L284.4 2252.3L285.4 2252.2L286.4 2252.1L287.4 2252L288.4 2252L289.4 2251.9L290.4 2251.8L291.4 2251.8L292.4 2251.7L293.4 2251.6L294.4 2251.5L295.4 2251.5L296.4 2251.4L297.4 2251.3L298.4 2251.2L299.4 2251.2L300.4 2251.1L301.4 2251L302.4 2251L303.4 2250.9L304.4 2250.8L305.4 2250.7L306.3 2250.7L307.3 2250.6L308.3 2250.5L309.3 2250.4L310.3 2250.4L311.3 2250.3L312.3 2250.2L313.3 2250.2L314.3 2250.1L315.3 2250L316.3 2249.9L317.3 2249.9L318.3 2249.8L319.3 2249.7L320.3 2249.6L321.3 2249.6L322.3 2249.5L323.3 2249.4L324.3 2249.4L325.3 2249.3L326.3 2249.2L327.3 2249.1L328.3 2249.1L329.3 2249L330.3 2248.9L331.2 2248.8L332.2 2248.8L333.2 2248.7L334.2 2248.6L335.2 2248.6L336.2 2248.5L337.2 2248.4L338.2 2248.4L339.2 2248.3L340.2 2248.2L341.2 2248.1L342.2 2248.1L343.2 2248L344.2 2247.9L345.2 2247.9L346.2 2247.8L347.2 2247.7L348.2 2247.7L349.2 2247.6L350.2 2247.5L351.2 2247.5L352.2 2247.4L353.2 2247.3L354.2 2247.3L355.2 2247.2L356.1 2247.1L357.1 2247L358.1 2247L359.1 2246.9L360.1 2246.8L361.1 2246.8L362.1 2246.7L363.1 2246.6L364.1 2246.6L365.1 2246.5L366.1 2246.4L367.1 2246.4L368.1 2246.3L369.1 2246.2L370.1 2246.2L371.1 2246.1L372.1 2246L373.1 2246L374.1 2245.9L375.1 2245.8L376.1 2245.7L377.1 2245.7L378.1 2245.6L379.1 2245.5L380.1 2245.5L381 2245.4L382 2245.3L383 2245.3L384 2245.2L385 2245.1L386 2245.1L387 2245L388 2244.9L389 2244.9L390 2244.8L391 2244.7L392 2244.6L393 2244.6L394 2244.5L395 2244.4L396 2244.4L397 2244.3L398 2244.2L399 2244.2L400 2244.1L401 2244L402 2244L403 2243.9L404 2243.8L405 2243.8L405.9 2243.7L406.9 2243.6L407.9 2243.6L408.9 2243.5L409.9 2243.4L410.9 2243.3L411.9 2243.3L412.9 2243.2L413.9 2243.1L414.9 2243.1L415.9 2243L416.9 2242.9L417.9 2242.8L418.9 2242.8L419.9 2242.7L420.9 2242.6L421.9 2242.5L422.9 2242.4L423.9 2242.4L424.9 2242.3L425.9 2242.2L426.9 2242.1L427.9 2242.1L428.9 2242L429.9 2241.9L430.8 2241.8L431.8 2241.8L432.8 2241.7L433.8 2241.6L434.8 2241.5L435.8 2241.5L436.8 2241.4L437.8 2241.3L438.8 2241.2L439.8 2241.2L440.8 2241.1L441.8 2241L442.8 2240.9L443.8 2240.9L444.8 2240.8L445.8 2240.7L446.8 2240.6L447.8 2240.6L448.8 2240.5L449.8 2240.4L450.8 2240.3L451.8 2240.2L452.8 2240.2L453.8 2240.1L454.8 2240L455.7 2239.9L456.7 2239.8L457.7 2239.7L458.7 2239.6L459.7 2239.5L460.7 2239.4L461.7 2239.3L462.7 2239.2L463.7 2239.2L464.7 2239.1L465.7 2239L466.7 2238.9L467.7 2238.8L468.7 2238.7L469.7 2238.6L470.7 2238.5L471.7 2238.4L472.7 2238.3L473.7 2238.2L474.7 2238.1L475.7 2238L476.7 2237.9L477.7 2237.8L478.7 2237.7L479.7 2237.6L480.6 2237.5L481.6 2237.4L482.6 2237.3L483.6 2237.2L484.6 2237.2L485.6 2237.1L486.6 2237L487.6 2236.9L488.6 2236.8L489.6 2236.7L490.6 2236.6L491.6 2236.5L492.6 2236.4L493.6 2236.3L494.6 2236.1L495.6 2236L496.6 2235.9L497.6 2235.7L498.6 2235.6L499.6 2235.5L500.6 2235.3L501.6 2235.2L502.6 2235.1L503.6 2235L504.6 2234.8L505.5 2234.7L506.5 2234.6L507.5 2234.4L508.5 2234.3L509.5 2234.2L510.5 2234L511.5 2233.9L512.5 2233.8L513.5 2233.6L514.5 2233.5L515.5 2233.4L516.5 2233.2L517.5 2233.1L518.5 2233L519.5 2232.9L520.5 2232.7L521.5 2232.6L522.5 2232.5L523.5 2232.3L524.5 2232.2L525.5 2232.1L526.5 2231.9L527.5 2231.8L528.5 2231.7L529.5 2231.5L530.4 2231.4L531.4 2231.3L532.4 2231.2L533.4 2231L534.4 2230.9L535.4 2230.8L536.4 2230.6L537.4 2230.5L538.4 2230.4L539.4 2230.2L540.4 2230.1L541.4 2230L542.4 2229.8L543.4 2229.7L544.4 2229.6L545.4 2229.5L546.4 2229.3L547.4 2229.2L548.4 2229.1L549.4 2228.9L550.4 2228.8L551.4 2228.7L552.4 2228.5L553.4 2228.4L554.4 2228.3L555.3 2228.1L556.3 2228L557.3 2227.9L558.3 2227.7L559.3 2227.6L560.3 2227.5L561.3 2227.4L562.3 2227.2L563.3 2227.1L564.3 2227L565.3 2226.8L566.3 2226.7L567.3 2226.6L568.3 2226.4L569.3 2226.3L570.3 2226.2L571.3 2226L572.3 2225.9L573.3 2225.8L574.3 2225.6L575.3 2225.4L576.3 2225.3L577.3 2225.1L578.3 2225L579.3 2224.8L580.2 2224.7L581.2 2224.5L582.2 2224.3L583.2 2224.2L584.2 2224L585.2 2223.9L586.2 2223.7L587.2 2223.5L588.2 2223.4L589.2 2223.2L590.2 2223.1L591.2 2222.9L592.2 2222.8L593.2 2222.6L594.2 2222.4L595.2 2222.3L596.2 2222.1L597.2 2222L598.2 2221.8L599.2 2221.7L600.2 2221.5L601.2 2221.3L602.2 2221.2L603.2 2221L604.2 2220.9L605.1 2220.7L606.1 2220.5L607.1 2220.4L608.1 2220.2L609.1 2220.1L610.1 2219.9L611.1 2219.8L612.1 2219.6L613.1 2219.4L614.1 2219.3L615.1 2219.1L616.1 2219L617.1 2218.8L618.1 2218.7L619.1 2218.5L620.1 2218.3L621.1 2218.2L622.1 2218L623.1 2217.9L624.1 2217.7L625.1 2217.5L626.1 2217.4L627.1 2217.2L628.1 2217.1L629.1 2216.9L630 2216.8L631 2216.6L632 2216.4L633 2216.3L634 2216.1L635 2216L636 2215.8L637 2215.6L638 2215.5L639 2215.3L640 2215.2L641 2215L642 2214.9L643 2214.7L644 2214.5L645 2214.4L646 2214.2L647 2214.1L648 2213.9L649 2213.8L650 2213.6L651 2213.4L652 2213.3L653 2213.1L654 2212.9L654.9 2212.6L655.9 2212.4L656.9 2212.2L657.9 2212L658.9 2211.8L659.9 2211.6L660.9 2211.4L661.9 2211.2L662.9 2210.9L663.9 2210.7L664.9 2210.5L665.9 2210.3L666.9 2210.1L667.9 2209.9L668.9 2209.7L669.9 2209.5L670.9 2209.3L671.9 2209L672.9 2208.8L673.9 2208.6L674.9 2208.4L675.9 2208.2L676.9 2208L677.9 2207.8L678.9 2207.6L679.8 2207.3L680.8 2207.1L681.8 2206.9L682.8 2206.7L683.8 2206.5L684.8 2206.3L685.8 2206.1L686.8 2205.9L687.8 2205.6L688.8 2205.4L689.8 2205.2L690.8 2205L691.8 2204.8L692.8 2204.5L693.8 2204.2L694.8 2203.9L695.8 2203.5L696.8 2203.2L697.8 2202.9L698.8 2202.6L699.8 2202.3L700.8 2202L701.8 2201.6L702.8 2201.3L703.8 2201L704.7 2200.7L705.7 2200.4L706.7 2200.1L707.7 2199.7L708.7 2199.4L709.7 2199.1L710.7 2198.8L711.7 2198.5L712.7 2198.2L713.7 2197.8L714.7 2197.5L715.7 2197.2L716.7 2196.9L717.7 2196.6L718.7 2196.3L719.7 2196L720.7 2195.6L721.7 2195.3L722.7 2195L723.7 2194.7L724.7 2194.4L725.7 2194.1L726.7 2193.7L727.7 2193.4L728.7 2193.1L729.6 2192.8L730.6 2192.5L731.6 2192.2L732.6 2191.8L733.6 2191.4L734.6 2191L735.6 2190.6L736.6 2190.2L737.6 2189.8L738.6 2189.5L739.6 2189.1L740.6 2188.7L741.6 2188.3L742.6 2187.9L743.6 2187.5L744.6 2187.1L745.6 2186.8L746.6 2186.4L747.6 2186L748.6 2185.6L749.6 2185.2L750.6 2184.8L751.6 2184.4L752.6 2184L753.6 2183.7L754.5 2183.3L755.5 2182.9L756.5 2182.5L757.5 2182.1L758.5 2181.7L759.5 2181.3L760.5 2181L761.5 2180.6L762.5 2180.2L763.5 2179.8L764.5 2179.4L765.5 2179L766.5 2178.6L767.5 2178.2L768.5 2177.9L769.5 2177.5L770.5 2177.1L771.5 2176.7L772.5 2176.2L773.5 2175.7L774.5 2175.3L775.5 2174.8L776.5 2174.3L777.5 2173.8L778.5 2173.4L779.4 2172.9L780.4 2172.4L781.4 2171.9L782.4 2171.5L783.4 2171L784.4 2170.5L785.4 2169.9L786.4 2169L787.4 2168.2L788.4 2167.3L789.4 2166.5L790.4 2165.6L791.4 2164.8L792.4 2163.9L793.4 2163.1L794.4 2162.2L795.4 2161.4L796.4 2160.6L797.4 2159.8L798.4 2159.1L799.4 2158.3L800.4 2157.5L801.4 2156.7L802.4 2155.9L803.4 2155.2L804.3 2154.4L805.3 2153.6L806.3 2152.8L807.3 2152L808.3 2151.3L809.3 2150.5L810.3 2149.7L811.3 2148.9L812.3 2147.9L813.3 2146.9L814.3 2145.9L815.3 2144.9L816.3 2143.9L817.3 2142.9L818.3 2141.9L819.3 2140.9L820.3 2140L821.3 2139L822.3 2138L823.3 2137L824.3 2136L825.3 2135L826.3 2134L827.3 2133L828.3 2131.5L829.2 2130L830.2 2128.5L831.2 2127L832.2 2125.5L833.2 2124L834.2 2122.5L835.2 2121L836.2 2119.5L837.2 2118L838.2 2116.5L839.2 2115L840.2 2113.5L841.2 2112L842.2 2110.5L843.2 2109L844.2 2107.2L845.2 2105.3L846.2 2103.4L847.2 2101.5L848.2 2099.7L849.2 2097.8L850.2 2095.9L851.2 2094.1L852.2 2091.2L853.2 2088.2L854.1 2085.3L855.1 2082.4L856.1 2079.5L857.1 2076.6L858.1 2073.7L859.1 2070.8L860.1 2066.9L861.1 2063L862.1 2059.1L863.1 2055.2L864.1 2051.3L865.1 2047.4L866.1 2042.3L867.1 2036.4L868.1 2030.5L869.1 2024.6L870.1 2018.8L871.1 2011.8L872.1 2004.5L873.1 1997.2L874.1 1989.9L875.1 1982.7L876.1 1973.3L877.1 1964L878.1 1954.6L879 1945.2L880 1934.8L881 1920.2L882 1905.5L883 1887.8L884 1870.2L885 1847.1L886 1816L887 1776.5L888 1721L889 1610.2L890 1610.2L891 1610.2L892.3 1610.2L892.3 2275.3z"/></clipPath>
<path fill="#D55E00" d="M94.5 2275.3L94.2 2275.3L95.2 2274.7L96.2 2274.1L97.2 2273.4L98.2 2272.8L99.2 2272.4L100.2 2272L101.2 2271.6L102.2 2271.1L103.2 2270.9L104.2 2270.6L105.2 2270.3L106.2 2270.1L107.1 2269.8L108.1 2269.5L109.1 2269.3L110.1 2269L111.1 2268.8L112.1 2268.6L113.1 2268.4L114.1 2268.2L115.1 2268L116.1 2267.9L117.1 2267.7L118.1 2267.5L119.1 2267.3L120.1 2267.2L121.1 2267.1L122.1 2266.9L123.1 2266.8L124.1 2266.7L125.1 2266.5L126.1 2266.4L127.1 2266.3L128.1 2266.1L129.1 2266L130.1 2265.9L131.1 2265.7L132 2265.6L133 2265.5L134 2265.3L135 2265.2L136 2265.1L137 2265L138 2264.9L139 2264.8L140 2264.7L141 2264.6L142 2264.5L143 2264.4L144 2264.3L145 2264.2L146 2264.1L147 2264L148 2263.9L149 2263.8L150 2263.7L151 2263.6L152 2263.5L153 2263.3L154 2263.2L155 2263.1L156 2263L156.9 2262.9L157.9 2262.8L158.9 2262.7L159.9 2262.6L160.9 2262.5L161.9 2262.4L162.9 2262.3L163.9 2262.2L164.9 2262.1L165.9 2262L166.9 2261.9L167.9 2261.8L168.9 2261.7L169.9 2261.6L170.9 2261.5L171.9 2261.4L172.9 2261.3L173.9 2261.2L174.9 2261.1L175.9 2261L176.9 2260.9L177.9 2260.8L178.9 2260.8L179.9 2260.7L180.9 2260.6L181.8 2260.5L182.8 2260.4L183.8 2260.3L184.8 2260.3L185.8 2260.2L186.8 2260.1L187.8 2260L188.8 2259.9L189.8 2259.8L190.8 2259.8L191.8 2259.7L192.8 2259.6L193.8 2259.5L194.8 2259.4L195.8 2259.3L196.8 2259.3L197.8 2259.2L198.8 2259.1L199.8 2259L200.8 2258.9L201.8 2258.8L202.8 2258.8L203.8 2258.7L204.8 2258.6L205.8 2258.5L206.7 2258.4L207.7 2258.3L208.7 2258.3L209.7 2258.2L210.7 2258.1L211.7 2258L212.7 2257.9L213.7 2257.8L214.7 2257.8L215.7 2257.7L216.7 2257.6L217.7 2257.5L218.7 2257.4L219.7 2257.3L220.7 2257.3L221.7 2257.2L222.7 2257.1L223.7 2257L224.7 2256.9L225.7 2256.8L226.7 2256.8L227.7 2256.7L228.7 2256.6L229.7 2256.5L230.7 2256.4L231.6 2256.3L232.6 2256.3L233.6 2256.2L234.6 2256.1L235.6 2256L236.6 2255.9L237.6 2255.8L238.6 2255.8L239.6 2255.7L240.6 2255.6L241.6 2255.5L242.6 2255.4L243.6 2255.3L244.6 2255.3L245.6 2255.2L246.6 2255.1L247.6 2255L248.6 2254.9L249.6 2254.8L250.6 2254.8L251.6 2254.7L252.6 2254.6L253.6 2254.5L254.6 2254.4L255.6 2254.4L256.5 2254.3L257.5 2254.2L258.5 2254.2L259.5 2254.1L260.5 2254L261.5 2253.9L262.5 2253.9L263.5 2253.8L264.5 2253.7L265.5 2253.6L266.5 2253.6L267.5 2253.5L268.5 2253.4L269.5 2253.4L270.5 2253.3L271.5 2253.2L272.5 2253.1L273.5 2253.1L274.5 2253L275.5 2252.9L276.5 2252.8L277.5 2252.8L278.5 2252.7L279.5 2252.6L280.5 2252.6L281.4 2252.5L282.4 2252.4L283.4 2252.3L284.4 2252.3L285.4 2252.2L286.4 2252.1L287.4 2252L288.4 2252L289.4 2251.9L290.4 2251.8L291.4 2251.8L292.4 2251.7L293.4 2251.6L294.4 2251.5L295.4 2251.5L296.4 2251.4L297.4 2251.3L298.4 2251.2L299.4 2251.2L300.4 2251.1L301.4 2251L302.4 2251L303.4 2250.9L304.4 2250.8L305.4 2250.7L306.3 2250.7L307.3 2250.6L308.3 2250.5L309.3 2250.4L310.3 2250.4L311.3 2250.3L312.3 2250.2L313.3 2250.2L314.3 2250.1L315.3 2250L316.3 2249.9L317.3 2249.9L318.3 2249.8L319.3 2249.7L320.3 2249.6L321.3 2249.6L322.3 2249.5L323.3 2249.4L324.3 2249.4L325.3 2249.3L326.3 2249.2L327.3 2249.1L328.3 2249.1L329.3 2249L330.3 2248.9L331.2 2248.8L332.2 2248.8L333.2 2248.7L334.2 2248.6L335.2 2248.6L336.2 2248.5L337.2 2248.4L338.2 2248.4L339.2 2248.3L340.2 2248.2L341.2 2248.1L342.2 2248.1L343.2 2248L344.2 2247.9L345.2 2247.9L346.2 2247.8L347.2 2247.7L348.2 2247.7L349.2 2247.6L350.2 2247.5L351.2 2247.5L352.2 2247.4L353.2 2247.3L354.2 2247.3L355.2 2247.2L356.1 2247.1L357.1 2247L358.1 2247L359.1 2246.9L360.1 2246.8L361.1 2246.8L362.1 2246.7L363.1 2246.6L364.1 2246.6L365.1 2246.5L366.1 2246.4L367.1 2246.4L368.1 2246.3L369.1 2246.2L370.1 2246.2L371.1 2246.1L372.1 2246L373.1 2246L374.1 2245.9L375.1 2245.8L376.1 2245.7L377.1 2245.7L378.1 2245.6L379.1 2245.5L380.1 2245.5L381 2245.4L382 2245.3L383 2245.3L384 2245.2L385 2245.1L386 2245.1L387 2245L388 2244.9L389 2244.9L390 2244.8L391 2244.7L392 2244.6L393 2244.6L394 2244.5L395 2244.4L396 2244.4L397 2244.3L398 2244.2L399 2244.2L400 2244.1L401 2244L402 2244L403 2243.9L404 2243.8L405 2243.8L405.9 2243.7L406.9 2243.6L407.9 2243.6L408.9 2243.5L409.9 2243.4L410.9 2243.3L411.9 2243.3L412.9 2243.2L413.9 2243.1L414.9 2243.1L415.9 2243L416.9 2242.9L417.9 2242.8L418.9 2242.8L419.9 2242.7L420.9 2242.6L421.9 2242.5L422.9 2242.4L423.9 2242.4L424.9 2242.3L425.9 2242.2L426.9 2242.1L427.9 2242.1L428.9 2242L429.9 2241.9L430.8 2241.8L431.8 2241.8L432.8 2241.7L433.8 2241.6L434.8 2241.5L435.8 2241.5L436.8 2241.4L437.8 2241.3L438.8 2241.2L439.8 2241.2L440.8 2241.1L441.8 2241L442.8 2240.9L443.8 2240.9L444.8 2240.8L445.8 2240.7L446.8 2240.6L447.8 2240.6L448.8 2240.5L449.8 2240.4L450.8 2240.3L451.8 2240.2L452.8 2240.2L453.8 2240.1L454.8 2240L455.7 2239.9L456.7 2239.8L457.7 2239.7L458.7 2239.6L459.7 2239.5L460.7 2239.4L461.7 2239.3L462.7 2239.2L463.7 2239.2L464.7 2239.1L465.7 2239L466.7 2238.9L467.7 2238.8L468.7 2238.7L469.7 2238.6L470.7 2238.5L471.7 2238.4L472.7 2238.3L473.7 2238.2L474.7 2238.1L475.7 2238L476.7 2237.9L477.7 2237.8L478.7 2237.7L479.7 2237.6L480.6 2237.5L481.6 2237.4L482.6 2237.3L483.6 2237.2L484.6 2237.2L485.6 2237.1L486.6 2237L487.6 2236.9L488.6 2236.8L489.6 2236.7L490.6 2236.6L491.6 2236.5L492.6 2236.4L493.6 2236.3L494.6 2236.1L495.6 2236L496.6 2235.9L497.6 2235.7L498.6 2235.6L499.6 2235.5L500.6 2235.3L501.6 2235.2L502.6 2235.1L503.6 2235L504.6 2234.8L505.5 2234.7L506.5 2234.6L507.5 2234.4L508.5 2234.3L509.5 2234.2L510.5 2234L511.5 2233.9L512.5 2233.8L513.5 2233.6L514.5 2233.5L515.5 2233.4L516.5 2233.2L517.5 2233.1L518.5 2233L519.5 2232.9L520.5 2232.7L521.5 2232.6L522.5 2232.5L523.5 2232.3L524.5 2232.2L525.5 2232.1L526.5 2231.9L527.5 2231.8L528.5 2231.7L529.5 2231.5L530.4 2231.4L531.4 2231.3L532.4 2231.2L533.4 2231L534.4 2230.9L535.4 2230.8L536.4 2230.6L537.4 2230.5L538.4 2230.4L539.4 2230.2L540.4 2230.1L541.4 2230L542.4 2229.8L543.4 2229.7L544.4 2229.6L545.4 2229.5L546.4 2229.3L547.4 2229.2L548.4 2229.1L549.4 2228.9L550.4 2228.8L551.4 2228.7L552.4 2228.5L553.4 2228.4L554.4 2228.3L555.3 2228.1L556.3 2228L557.3 2227.9L558.3 2227.7L559.3 2227.6L560.3 2227.5L561.3 2227.4L562.3 2227.2L563.3 2227.1L564.3 2227L565.3 2226.8L566.3 2226.7L567.3 2226.6L568.3 2226.4L569.3 2226.3L570.3 2226.2L571.3 2226L572.3 2225.9L573.3 2225.8L574.3 2225.6L575.3 2225.4L576.3 2225.3L577.3 2225.1L578.3 2225L579.3 2224.8L580.2 2224.7L581.2 2224.5L582.2 2224.3L583.2 2224.2L584.2 2224L585.2 2223.9L586.2 2223.7L587.2 2223.5L588.2 2223.4L589.2 2223.2L590.2 2223.1L591.2 2222.9L592.2 2222.8L593.2 2222.6L594.2 2222.4L595.2 2222.3L596.2 2222.1L597.2 2222L598.2 2221.8L599.2 2221.7L600.2 2221.5L601.2 2221.3L602.2 2221.2L603.2 2221L604.2 2220.9L605.1 2220.7L606.1 2220.5L607.1 2220.4L608.1 2220.2L609.1 2220.1L610.1 2219.9L611.1 2219.8L612.1 2219.6L613.1 2219.4L614.1 2219.3L615.1 2219.1L616.1 2219L617.1 2218.8L618.1 2218.7L619.1 2218.5L620.1 2218.3L621.1 2218.2L622.1 2218L623.1 2217.9L624.1 2217.7L625.1 2217.5L626.1 2217.4L627.1 2217.2L628.1 2217.1L629.1 2216.9L630 2216.8L631 2216.6L632 2216.4L633 2216.3L634 2216.1L635 2216L636 2215.8L637 2215.6L638 2215.5L639 2215.3L640 2215.2L641 2215L642 2214.9L643 2214.7L644 2214.5L645 2214.4L646 2214.2L647 2214.1L648 2213.9L649 2213.8L650 2213.6L651 2213.4L652 2213.3L653 2213.1L654 2212.9L654.9 2212.6L655.9 2212.4L656.9 2212.2L657.9 2212L658.9 2211.8L659.9 2211.6L660.9 2211.4L661.9 2211.2L662.9 2210.9L663.9 2210.7L664.9 2210.5L665.9 2210.3L666.9 2210.1L667.9 2209.9L668.9 2209.7L669.9 2209.5L670.9 2209.3L671.9 2209L672.9 2208.8L673.9 2208.6L674.9 2208.4L675.9 2208.2L676.9 2208L677.9 2207.8L678.9 2207.6L679.8 2207.3L680.8 2207.1L681.8 2206.9L682.8 2206.7L683.8 2206.5L684.8 2206.3L685.8 2206.1L686.8 2205.9L687.8 2205.6L688.8 2205.4L689.8 2205.2L690.8 2205L691.8 2204.8L692.8 2204.5L693.8 2204.2L694.8 2203.9L695.8 2203.5L696.8 2203.2L697.8 2202.9L698.8 2202.6L699.8 2202.3L700.8 2202L701.8 2201.6L702.8 2201.3L703.8 2201L704.7 2200.7L705.7 2200.4L706.7 2200.1L707.7 2199.7L708.7 2199.4L709.7 2199.1L710.7 2198.8L711.7 2198.5L712.7 2198.2L713.7 2197.8L714.7 2197.5L715.7 2197.2L716.7 2196.9L717.7 2196.6L718.7 2196.3L719.7 2196L720.7 2195.6L721.7 2195.3L722.7 2195L723.7 2194.7L724.7 2194.4L725.7 2194.1L726.7 2193.7L727.7 2193.4L728.7 2193.1L729.6 2192.8L730.6 2192.5L731.6 2192.2L732.6 2191.8L733.6 2191.4L734.6 2191L735.6 2190.6L736.6 2190.2L737.6 2189.8L738.6 2189.5L739.6 2189.1L740.6 2188.7L741.6 2188.3L742.6 2187.9L743.6 2187.5L744.6 2187.1L745.6 2186.8L746.6 2186.4L747.6 2186L748.6 2185.6L749.6 2185.2L750.6 2184.8L751.6 2184.4L752.6 2184L753.6 2183.7L754.5 2183.3L755.5 2182.9L756.5 2182.5L757.5 2182.1L758.5 2181.7L759.5 2181.3L760.5 2181L761.5 2180.6L762.5 2180.2L763.5 2179.8L764.5 2179.4L765.5 2179L766.5 2178.6L767.5 2178.2L768.5 2177.9L769.5 2177.5L770.5 2177.1L771.5 2176.7L772.5 2176.2L773.5 2175.7L774.5 2175.3L775.5 2174.8L776.5 2174.3L777.5 2173.8L778.5 2173.4L779.4 2172.9L780.4 2172.4L781.4 2171.9L782.4 2171.5L783.4 2171L784.4 2170.5L785.4 2169.9L786.4 2169L787.4 2168.2L788.4 2167.3L789.4 2166.5L790.4 2165.6L791.4 2164.8L792.4 2163.9L793.4 2163.1L794.4 2162.2L795.4 2161.4L796.4 2160.6L797.4 2159.8L798.4 2159.1L799.4 2158.3L800.4 2157.5L801.4 2156.7L802.4 2155.9L803.4 2155.2L804.3 2154.4L805.3 2153.6L806.3 2152.8L807.3 2152L808.3 2151.3L809.3 2150.5L810.3 2149.7L811.3 2148.9L812.3 2147.9L813.3 2146.9L814.3 2145.9L815.3 2144.9L816.3 2143.9L817.3 2142.9L818.3 2141.9L819.3 2140.9L820.3 2140L821.3 2139L822.3 2138L823.3 2137L824.3 2136L825.3 2135L826.3 2134L827.3 2133L828.3 2131.5L829.2 2130L830.2 2128.5L831.2 2127L832.2 2125.5L833.2 2124L834.2 2122.5L835.2 2121L836.2 2119.5L837.2 2118L838.2 2116.5L839.2 2115L840.2 2113.5L841.2 2112L842.2 2110.5L843.2 2109L844.2 2107.2L845.2 2105.3L846.2 2103.4L847.2 2101.5L848.2 2099.7L849.2 2097.8L850.2 2095.9L851.2 2094.1L852.2 2091.2L853.2 2088.2L854.1 2085.3L855.1 2082.4L856.1 2079.5L857.1 2076.6L858.1 2073.7L859.1 2070.8L860.1 2066.9L861.1 2063L862.1 2059.1L863.1 2055.2L864.1 2051.3L865.1 2047.4L866.1 2042.3L867.1 2036.4L868.1 2030.5L869.1 2024.6L870.1 2018.8L871.1 2011.8L872.1 2004.5L873.1 1997.2L874.1 1989.9L875.1 1982.7L876.1 1973.3L877.1 1964L878.1 1954.6L879 1945.2L880 1934.8L881 1920.2L882 1905.5L883 1887.8L884 1870.2L885 1847.1L886 1816L887 1776.5L888 1721L889 1610.2L890 1610.2L891 1610.2L892.3 1610.2L892.3 2275.3z"/>
<g clip-path="url(#cg)" fill="none" stroke="#fff"><path d="M105.6 2275.3V1610.2M124.5 2275.3V1610.2M143.4 2275.3V1610.2M162.3 2275.3V1610.2M181.2 2275.3V1610.2M200.1 2275.3V1610.2M219 2275.3V1610.2M237.9 2275.3V1610.2M256.8 2275.3V1610.2M275.7 2275.3V1610.2M294.6 2275.3V1610.2M313.5 2275.3V1610.2M332.4 2275.3V1610.2M351.3 2275.3V1610.2M370.2 2275.3V1610.2M389.1 2275.3V1610.2M408 2275.3V1610.2M426.9 2275.3V1610.2M445.8 2275.3V1610.2M464.7 2275.3V1610.2M483.6 2275.3V1610.2M502.5 2275.3V1610.2M521.4 2275.3V1610.2M540.3 2275.3V1610.2M559.2 2275.3V1610.2M578.1 2275.3V1610.2M597 2275.3V1610.2M615.9 2275.3V1610.2M634.8 2275.3V1610.2M653.7 2275.3V1610.2M672.6 2275.3V1610.2M691.5 2275.3V1610.2M710.4 2275.3V1610.2M729.3 2275.3V1610.2M748.2 2275.3V1610.2M767.1 2275.3V1610.2M786 2275.3V1610.2M804.9 2275.3V1610.2M823.8 2275.3V1610.2M842.7 2275.3V1610.2M861.6 2275.3V1610.2M880.5 2275.3V1610.2" stroke-opacity=".8" stroke-width="1.3"/><path d="M99.3 2275.3V1610.2M111.9 2275.3V1610.2M118.2 2275.3V1610.2M130.8 2275.3V1610.2M137.1 2275.3V1610.2M149.7 2275.3V1610.2M156 2275.3V1610.2M168.6 2275.3V1610.2M174.9 2275.3V1610.2M187.5 2275.3V1610.2M193.8 2275.3V1610.2M206.4 2275.3V1610.2M212.7 2275.3V1610.2M225.3 2275.3V1610.2M231.6 2275.3V1610.2M244.2 2275.3V1610.2M250.5 2275.3V1610.2M263.1 2275.3V1610.2M269.4 2275.3V1610.2M282 2275.3V1610.2M288.3 2275.3V1610.2M300.9 2275.3V1610.2M307.2 2275.3V1610.2M319.8 2275.3V1610.2M326.1 2275.3V1610.2M338.7 2275.3V1610.2M345 2275.3V1610.2M357.6 2275.3V1610.2M363.9 2275.3V1610.2M376.5 2275.3V1610.2M382.8 2275.3V1610.2M395.4 2275.3V1610.2M401.7 2275.3V1610.2M414.3 2275.3V1610.2M420.6 2275.3V1610.2M433.2 2275.3V1610.2M439.5 2275.3V1610.2M452.1 2275.3V1610.2M458.4 2275.3V1610.2M471 2275.3V1610.2M477.3 2275.3V1610.2M489.9 2275.3V1610.2M496.2 2275.3V1610.2M508.8 2275.3V1610.2M515.1 2275.3V1610.2M527.7 2275.3V1610.2M534 2275.3V1610.2M546.6 2275.3V1610.2M552.9 2275.3V1610.2M565.5 2275.3V1610.2M571.8 2275.3V1610.2M584.4 2275.3V1610.2M590.7 2275.3V1610.2M603.3 2275.3V1610.2M609.6 2275.3V1610.2M622.2 2275.3V1610.2M628.5 2275.3V1610.2M641.1 2275.3V1610.2M647.4 2275.3V1610.2M660 2275.3V1610.2M666.3 2275.3V1610.2M678.9 2275.3V1610.2M685.2 2275.3V1610.2M697.8 2275.3V1610.2M704.1 2275.3V1610.2M716.7 2275.3V1610.2M723 2275.3V1610.2M735.6 2275.3V1610.2M741.9 2275.3V1610.2M754.5 2275.3V1610.2M760.8 2275.3V1610.2M773.4 2275.3V1610.2M779.7 2275.3V1610.2M792.3 2275.3V1610.2M798.6 2275.3V1610.2M811.2 2275.3V1610.2M817.5 2275.3V1610.2M830.1 2275.3V1610.2M836.4 2275.3V1610.2M849 2275.3V1610.2M855.3 2275.3V1610.2M867.9 2275.3V1610.2M874.2 2275.3V1610.2M886.8 2275.3V1610.2" stroke-opacity=".45" stroke-width="1"/></g>
<text x="891.7" y="1619.8" font-size="23" fill="#f00000" stroke="#f00000" stroke-width=".7" text-anchor="end">~</text>
<path d="M94.2 2170.4H891.9" stroke="#000" stroke-width="2.3" stroke-dasharray="4.1 4 12 3.9" stroke-dashoffset="1" fill="none"/>
<path d="M94.2 2240H891.9" stroke="#000" stroke-width="2.2" stroke-dasharray="7.8 8.2" stroke-dashoffset="1.3" fill="none"/>
<path d="M454.1 2275.3V1610.2" stroke="#6e6e6e" stroke-width="3" stroke-dasharray="12.1 11.83" fill="none"/>
<path d="M784.9 2275.3V1610.2" stroke="#6e6e6e" stroke-width="3" stroke-dasharray="5.65 6.35 17.5 6.35" fill="none"/>
<g font-size="17.5" stroke="#000" stroke-width=".5"><text x="112" y="2165.4">Living income</text><text x="102" y="2235.5">Extreme poverty line</text></g>
<text x="130.4" y="1652.2" font-size="20.2" stroke="#000" stroke-width=".6">n= 43041</text>
<path d="M94.2 1610.2V2275.3H891" stroke="#000" stroke-width="2.2" fill="none" stroke-linecap="square"/>
<path d="M94.2 2275.3h-5.8M94.2 2192.2h-5.8M94.2 2109h-5.8M94.2 2025.9h-5.8M94.2 1942.8h-5.8M94.2 1859.6h-5.8M94.2 1776.5h-5.8M94.2 1693.3h-5.8M94.2 1610.2h-5.8M173.9 2275.3v5.8M253.6 2275.3v5.8M333.2 2275.3v5.8M412.9 2275.3v5.8M492.6 2275.3v5.8M572.3 2275.3v5.8M652 2275.3v5.8M731.6 2275.3v5.8M811.3 2275.3v5.8M891 2275.3v5.8" stroke="#000" stroke-width="2.1" fill="none"/>
<g font-size="18" fill="#2e2e2e" stroke="#2e2e2e" stroke-width=".22"><g text-anchor="end"><text x="83" y="2282.4">0.0</text><text x="83" y="2199.3">5.0</text><text x="83" y="2116.1">10.0</text><text x="83" y="2033">15.0</text><text x="83" y="1949.8">20.0</text><text x="83" y="1866.7">25.0</text><text x="83" y="1783.6">30.0</text><text x="83" y="1700.4">35.0</text><text x="83" y="1617.3">40.0</text></g><g text-anchor="middle"><text x="173.9" y="2300.1">10</text><text x="253.6" y="2300.1">20</text><text x="333.2" y="2300.1">30</text><text x="412.9" y="2300.1">40</text><text x="492.6" y="2300.1">50</text><text x="572.3" y="2300.1">60</text><text x="652" y="2300.1">70</text><text x="731.6" y="2300.1">80</text><text x="811.3" y="2300.1">90</text><text x="891" y="2300.1">100</text></g></g>
</g>
<g clip-path="url(#cr)">
<text x="961.3" y="1592.7" font-size="27.2">Ghana - Ghent Uni./ Uni. of Ghana</text>
<text x="1755.5" y="1619.8" font-size="23" fill="#f00000" stroke="#f00000" stroke-width=".7" text-anchor="end">~</text>
<g shape-rendering="crispEdges">
<path fill="#D55E00" d="M960 2276v-1h1v1zM961 2276v-1h1v1zM962 2276v-1h1v1zM963 2276v-1h1v1zM964 2276v-1h1v1zM965 2276v-2h1v2zM966 2276v-2h2v2zM968 2276v-2h1v2zM969 2276v-1h1v1zM970 2276v-2h1v2zM971 2276v-2h1v2zM972 2276v-2h1v2zM973 2276v-2h1v2zM974 2276v-2h1v2zM976 2276v-3h1v3zM977 2276v-3h1v3zM978 2276v-2h1v2zM979 2276v-3h1v3zM980 2276v-2h1v2zM981 2276v-3h1v3zM982 2276v-3h1v3zM983 2276v-2h1v2zM985 2276v-2h1v2zM986 2276v-2h1v2zM987 2276v-4h1v4zM988 2276v-3h1v3zM989 2276v-3h1v3zM990 2276v-4h1v4zM991 2276v-4h1v4zM993 2276v-1h1v1zM994 2276v-2h1v2zM995 2276v-2h1v2zM996 2276v-4h1v4zM997 2276v-5h1v5zM998 2276v-4h1v4zM999 2276v-3h1v3zM1000 2276v-5h1v5zM1002 2276v-3h1v3zM1003 2276v-4h1v4zM1004 2276v-4h1v4zM1005 2276v-5h1v5zM1006 2276v-5h1v5zM1007 2276v-6h1v6zM1008 2276v-4h1v4zM1010 2276v-6h1v6zM1011 2276v-5h1v5zM1012 2276v-4h1v4zM1013 2276v-6h1v6zM1014 2276v-1h1v1zM1015 2276v-6h1v6zM1016 2276v-4h1v4zM1017 2276v-6h1v6zM1019 2276v-6h1v6zM1020 2276v-7h1v7zM1021 2276v-6h1v6zM1022 2276v-5h1v5zM1023 2276v-5h1v5zM1024 2276v-7h1v7zM1025 2276v-6h1v6zM1026 2276v-4h2v4zM1028 2276v-3h1v3zM1029 2276v-7h1v7zM1030 2276v-8h1v8zM1031 2276v-1h1v1zM1032 2276v-7h1v7zM1033 2276v-3h1v3zM1034 2276v-5h1v5zM1036 2276v-8h1v8zM1037 2276v-5h1v5zM1038 2276v-5h1v5zM1039 2276v-7h1v7zM1040 2276v-6h1v6zM1041 2276v-9h1v9zM1042 2276v-6h1v6zM1043 2276v-6h1v6zM1045 2276v-6h1v6zM1046 2276v-6h1v6zM1047 2276v-5h1v5zM1048 2276v-7h1v7zM1049 2276v-9h1v9zM1050 2276v-8h1v8zM1051 2276v-5h1v5zM1053 2276v-7h1v7zM1054 2276v-9h1v9zM1055 2276v-4h1v4zM1056 2276v-7h1v7zM1057 2276v-4h1v4zM1058 2276v-7h1v7zM1059 2276v-5h1v5zM1060 2276v-10h1v10zM1062 2276v-7h1v7zM1063 2276v-10h1v10zM1064 2276v-6h1v6zM1065 2276v-6h1v6zM1066 2276v-9h1v9zM1067 2276v-10h1v10zM1068 2276v-9h1v9zM1069 2276v-6h2v6zM1071 2276v-9h1v9zM1072 2276v-4h1v4zM1073 2276v-9h1v9zM1074 2276v-7h1v7zM1075 2276v-10h1v10zM1076 2276v-11h1v11zM1077 2276v-11h1v11zM1079 2276v-9h1v9zM1080 2276v-6h1v6zM1081 2276v-5h1v5zM1082 2276v-9h1v9zM1083 2276v-10h1v10zM1084 2276v-11h1v11zM1085 2276v-11h1v11zM1086 2276v-11h1v11zM1088 2276v-7h1v7zM1089 2276v-3h1v3zM1090 2276v-11h1v11zM1091 2276v-4h1v4zM1092 2276v-9h1v9zM1093 2276v-8h1v8zM1094 2276v-12h1v12zM1096 2276v-11h1v11zM1097 2276v-5h1v5zM1098 2276v-12h1v12zM1099 2276v-8h1v8zM1100 2276v-10h1v10zM1101 2276v-12h1v12zM1102 2276v-5h1v5zM1103 2276v-10h1v10zM1105 2276v-10h1v10zM1106 2276v-9h1v9zM1107 2276v-13h1v13zM1108 2276v-5h1v5zM1109 2276v-8h1v8zM1110 2276v-10h1v10zM1111 2276v-12h1v12zM1113 2276v-12h1v12zM1114 2276v-3h1v3zM1115 2276v-13h1v13zM1116 2276v-14h1v14zM1117 2276v-4h1v4zM1118 2276v-14h1v14zM1119 2276v-10h1v10zM1120 2276v-14h1v14zM1122 2276v-14h1v14zM1123 2276v-5h1v5zM1124 2276v-11h1v11zM1125 2276v-11h1v11zM1126 2276v-14h1v14zM1127 2276v-13h1v13zM1128 2276v-6h1v6zM1129 2276v-11h2v11zM1131 2276v-14h1v14zM1132 2276v-10h1v10zM1133 2276v-5h1v5zM1134 2276v-9h1v9zM1135 2276v-8h1v8zM1136 2276v-13h1v13zM1137 2276v-6h1v6zM1139 2276v-11h1v11zM1140 2276v-6h1v6zM1141 2276v-14h1v14zM1142 2276v-13h1v13zM1143 2276v-12h1v12zM1144 2276v-13h1v13zM1145 2276v-6h1v6zM1146 2276v-13h1v13zM1148 2276v-9h1v9zM1149 2276v-16h1v16zM1150 2276v-6h1v6zM1151 2276v-10h1v10zM1152 2276v-15h1v15zM1153 2276v-6h1v6zM1154 2276v-3h1v3zM1156 2276v-10h1v10zM1157 2276v-16h1v16zM1158 2276v-17h1v17zM1159 2276v-13h1v13zM1160 2276v-16h1v16zM1161 2276v-12h1v12zM1162 2276v-11h1v11zM1163 2276v-10h1v10zM1165 2276v-17h1v17zM1166 2276v-7h1v7zM1167 2276v-12h1v12zM1168 2276v-11h1v11zM1169 2276v-12h1v12zM1170 2276v-17h1v17zM1171 2276v-18h1v18zM1173 2276v-18h1v18zM1174 2276v-18h1v18zM1175 2276v-6h1v6zM1176 2276v-4h1v4zM1177 2276v-11h1v11zM1178 2276v-15h1v15zM1179 2276v-18h1v18zM1180 2276v-12h1v12zM1182 2276v-7h1v7zM1183 2276v-14h1v14zM1184 2276v-15h1v15zM1185 2276v-5h1v5zM1186 2276v-14h1v14zM1187 2276v-12h1v12zM1188 2276v-16h1v16zM1189 2276v-16h2v16zM1191 2276v-3h1v3zM1192 2276v-12h1v12zM1193 2276v-8h1v8zM1194 2276v-14h1v14zM1195 2276v-19h1v19zM1196 2276v-16h1v16zM1197 2276v-8h1v8zM1199 2276v-1h1v1zM1200 2276v-18h1v18zM1201 2276v-15h1v15zM1202 2276v-19h1v19zM1203 2276v-11h1v11zM1204 2276v-17h1v17zM1205 2276v-10h1v10zM1206 2276v-20h1v20zM1208 2276v-14h1v14zM1209 2276v-12h1v12zM1210 2276v-12h1v12zM1211 2276v-15h1v15zM1212 2276v-15h1v15zM1213 2276v-16h1v16zM1214 2276v-13h1v13zM1216 2276v-18h1v18zM1217 2276v-19h1v19zM1218 2276v-17h1v17zM1219 2276v-9h1v9zM1220 2276v-15h1v15zM1221 2276v-20h1v20zM1222 2276v-16h1v16zM1223 2276v-20h1v20zM1225 2276v-11h1v11zM1226 2276v-6h1v6zM1227 2276v-3h1v3zM1228 2276v-14h1v14zM1229 2276v-17h1v17zM1230 2276v-17h1v17zM1231 2276v-21h1v21zM1232 2276v-17h2v17zM1234 2276v-15h1v15zM1235 2276v-16h1v16zM1236 2276v-22h1v22zM1237 2276v-20h1v20zM1238 2276v-18h1v18zM1239 2276v-19h1v19zM1240 2276v-11h1v11zM1242 2276v-7h1v7zM1243 2276v-9h1v9zM1244 2276v-8h1v8zM1245 2276v-18h1v18zM1246 2276v-17h1v17zM1247 2276v-16h1v16zM1248 2276v-23h1v23zM1249 2276v-19h1v19zM1251 2276v-16h1v16zM1252 2276v-18h1v18zM1253 2276v-17h1v17zM1254 2276v-22h1v22zM1255 2276v-19h1v19zM1256 2276v-19h1v19zM1257 2276v-20h1v20zM1259 2276v-24h1v24zM1260 2276v-21h1v21zM1261 2276v-21h1v21zM1262 2276v-9h1v9zM1263 2276v-14h1v14zM1264 2276v-11h1v11zM1265 2276v-8h1v8zM1266 2276v-20h1v20zM1268 2276v-7h1v7zM1269 2276v-23h1v23zM1270 2276v-22h1v22zM1271 2276v-17h1v17zM1272 2276v-10h1v10zM1273 2276v-10h1v10zM1274 2276v-8h1v8zM1276 2276v-6h1v6zM1277 2276v-17h1v17zM1278 2276v-21h1v21zM1279 2276v-25h1v25zM1280 2276v-5h1v5zM1281 2276v-20h1v20zM1282 2276v-15h1v15zM1283 2276v-26h1v26zM1285 2276v-6h1v6zM1286 2276v-21h1v21zM1287 2276v-20h1v20zM1288 2276v-24h1v24zM1289 2276v-12h1v12zM1290 2276v-17h1v17zM1291 2276v-26h1v26zM1292 2276v-22h2v22zM1294 2276v-27h1v27zM1295 2276v-19h1v19zM1296 2276v-24h1v24zM1297 2276v-12h1v12zM1298 2276v-21h1v21zM1299 2276v-12h1v12zM1300 2276v-25h1v25zM1302 2276v-18h1v18zM1303 2276v-26h1v26zM1304 2276v-27h1v27zM1305 2276v-27h1v27zM1306 2276v-19h1v19zM1307 2276v-8h1v8zM1308 2276v-27h1v27zM1309 2276v-9h1v9zM1311 2276v-6h1v6zM1312 2276v-22h1v22zM1313 2276v-24h1v24zM1314 2276v-24h1v24zM1315 2276v-23h1v23zM1316 2276v-27h1v27zM1317 2276v-25h1v25zM1319 2276v-16h1v16zM1320 2276v-26h1v26zM1321 2276v-21h1v21zM1322 2276v-25h1v25zM1323 2276v-18h1v18zM1324 2276v-15h1v15zM1325 2276v-22h1v22zM1326 2276v-20h1v20zM1328 2276v-27h1v27zM1329 2276v-28h1v28zM1330 2276v-24h1v24zM1331 2276v-29h1v29zM1332 2276v-15h1v15zM1333 2276v-27h1v27zM1334 2276v-18h1v18zM1336 2276v-30h1v30zM1337 2276v-27h1v27zM1338 2276v-16h1v16zM1339 2276v-29h1v29zM1340 2276v-24h1v24zM1341 2276v-13h1v13zM1342 2276v-21h1v21zM1343 2276v-27h1v27zM1345 2276v-2h1v2zM1346 2276v-30h1v30zM1347 2276v-30h1v30zM1348 2276v-9h1v9zM1349 2276v-15h1v15zM1350 2276v-27h1v27zM1351 2276v-18h1v18zM1352 2276v-25h2v25zM1354 2276v-22h1v22zM1355 2276v-31h1v31zM1356 2276v-29h1v29zM1357 2276v-20h1v20zM1358 2276v-17h1v17zM1359 2276v-30h1v30zM1360 2276v-8h1v8zM1362 2276v-30h1v30zM1363 2276v-29h1v29zM1364 2276v-13h1v13zM1365 2276v-15h1v15zM1366 2276v-22h1v22zM1367 2276v-22h1v22zM1368 2276v-17h1v17zM1369 2276v-16h1v16zM1371 2276v-31h1v31zM1372 2276v-30h1v30zM1373 2276v-31h1v31zM1374 2276v-29h1v29zM1375 2276v-30h1v30zM1376 2276v-20h1v20zM1377 2276v-12h1v12zM1379 2276v-22h1v22zM1380 2276v-12h1v12zM1381 2276v-25h1v25zM1382 2276v-20h1v20zM1383 2276v-3h1v3zM1384 2276v-32h1v32zM1385 2276v-30h1v30zM1386 2276v-21h1v21zM1388 2276v-32h1v32zM1389 2276v-13h1v13zM1390 2276v-29h1v29zM1391 2276v-23h1v23zM1392 2276v-36h1v36zM1393 2276v-33h1v33zM1394 2276v-25h1v25zM1395 2276v-22h2v22zM1397 2276v-31h1v31zM1398 2276v-33h1v33zM1399 2276v-29h1v29zM1400 2276v-37h1v37zM1401 2276v-35h1v35zM1402 2276v-30h1v30zM1403 2276v-14h1v14zM1405 2276v-36h1v36zM1406 2276v-15h1v15zM1407 2276v-32h1v32zM1408 2276v-37h1v37zM1409 2276v-37h1v37zM1410 2276v-23h1v23zM1411 2276v-29h1v29zM1412 2276v-31h1v31zM1414 2276v-26h1v26zM1415 2276v-25h1v25zM1416 2276v-30h1v30zM1417 2276v-10h1v10zM1418 2276v-35h1v35zM1419 2276v-25h1v25zM1420 2276v-25h1v25zM1422 2276v-35h1v35zM1423 2276v-34h1v34zM1424 2276v-17h1v17zM1425 2276v-29h1v29zM1426 2276v-34h1v34zM1427 2276v-40h1v40zM1428 2276v-25h1v25zM1429 2276v-26h1v26zM1431 2276v-40h1v40zM1432 2276v-39h1v39zM1433 2276v-34h1v34zM1434 2276v-35h1v35zM1435 2276v-34h1v34zM1436 2276v-41h1v41zM1437 2276v-33h1v33zM1439 2276v-26h1v26zM1440 2276v-35h1v35zM1441 2276v-18h1v18zM1442 2276v-34h1v34zM1443 2276v-37h1v37zM1444 2276v-28h1v28zM1445 2276v-27h1v27zM1446 2276v-40h1v40zM1448 2276v-27h1v27zM1449 2276v-20h1v20zM1450 2276v-33h1v33zM1451 2276v-23h1v23zM1452 2276v-28h1v28zM1453 2276v-33h1v33zM1454 2276v-32h1v32zM1455 2276v-37h2v37zM1457 2276v-30h1v30zM1458 2276v-24h1v24zM1459 2276v-42h1v42zM1460 2276v-44h1v44zM1461 2276v-22h1v22zM1462 2276v-16h1v16zM1463 2276v-41h1v41zM1465 2276v-11h1v11zM1466 2276v-30h1v30zM1467 2276v-36h1v36zM1468 2276v-45h1v45zM1469 2276v-36h1v36zM1470 2276v-45h1v45zM1471 2276v-34h1v34zM1472 2276v-27h1v27zM1474 2276v-10h1v10zM1475 2276v-10h1v10zM1476 2276v-31h1v31zM1477 2276v-38h1v38zM1478 2276v-46h1v46zM1479 2276v-7h1v7zM1480 2276v-33h1v33zM1482 2276v-48h1v48zM1483 2276v-48h1v48zM1484 2276v-27h1v27zM1485 2276v-36h1v36zM1486 2276v-27h1v27zM1487 2276v-28h1v28zM1488 2276v-27h1v27zM1489 2276v-50h1v50zM1491 2276v-45h1v45zM1492 2276v-9h1v9zM1493 2276v-12h1v12zM1494 2276v-33h1v33zM1495 2276v-28h1v28zM1496 2276v-50h1v50zM1497 2276v-51h1v51zM1499 2276v-27h1v27zM1500 2276v-32h1v32zM1501 2276v-42h1v42zM1502 2276v-33h1v33zM1503 2276v-40h1v40zM1504 2276v-47h1v47zM1505 2276v-37h1v37zM1506 2276v-34h1v34zM1508 2276v-33h1v33zM1509 2276v-46h1v46zM1510 2276v-42h1v42zM1511 2276v-34h1v34zM1512 2276v-38h1v38zM1513 2276v-39h1v39zM1514 2276v-6h1v6zM1515 2276v-51h2v51zM1517 2276v-45h1v45zM1518 2276v-35h1v35zM1519 2276v-21h1v21zM1520 2276v-30h1v30zM1521 2276v-49h1v49zM1522 2276v-55h1v55zM1523 2276v-54h1v54zM1525 2276v-45h1v45zM1526 2276v-55h1v55zM1527 2276v-18h1v18zM1528 2276v-25h1v25zM1529 2276v-26h1v26zM1530 2276v-40h1v40zM1531 2276v-38h1v38zM1532 2276v-29h1v29zM1534 2276v-32h1v32zM1535 2276v-8h1v8zM1536 2276v-50h1v50zM1537 2276v-55h1v55zM1538 2276v-12h1v12zM1539 2276v-24h1v24zM1540 2276v-42h1v42zM1542 2276v-52h1v52zM1543 2276v-31h1v31zM1544 2276v-53h1v53zM1545 2276v-58h1v58zM1546 2276v-41h1v41zM1547 2276v-58h1v58zM1548 2276v-48h1v48zM1549 2276v-38h1v38zM1551 2276v-20h1v20zM1552 2276v-20h1v20zM1553 2276v-3h1v3zM1554 2276v-48h1v48zM1555 2276v-63h1v63zM1556 2276v-54h1v54zM1557 2276v-62h1v62zM1558 2276v-53h2v53zM1560 2276v-54h1v54zM1561 2276v-36h1v36zM1562 2276v-42h1v42zM1563 2276v-47h1v47zM1564 2276v-64h1v64zM1565 2276v-32h1v32zM1566 2276v-58h1v58zM1568 2276v-50h1v50zM1569 2276v-49h1v49zM1570 2276v-35h1v35zM1571 2276v-34h1v34zM1572 2276v-24h1v24zM1573 2276v-66h1v66zM1574 2276v-69h1v69zM1575 2276v-56h1v56zM1577 2276v-38h1v38zM1578 2276v-16h1v16zM1579 2276v-58h1v58zM1580 2276v-49h1v49zM1581 2276v-40h1v40zM1582 2276v-17h1v17zM1583 2276v-63h1v63zM1585 2276v-49h1v49zM1586 2276v-18h1v18zM1587 2276v-12h1v12zM1588 2276v-66h1v66zM1589 2276v-67h1v67zM1590 2276v-54h1v54zM1591 2276v-76h1v76zM1592 2276v-69h1v69zM1594 2276v-30h1v30zM1595 2276v-52h1v52zM1596 2276v-50h1v50zM1597 2276v-48h1v48zM1598 2276v-71h1v71zM1599 2276v-38h1v38zM1600 2276v-76h1v76zM1602 2276v-51h1v51zM1603 2276v-48h1v48zM1604 2276v-15h1v15zM1605 2276v-72h1v72zM1606 2276v-30h1v30zM1607 2276v-73h1v73zM1608 2276v-58h1v58zM1609 2276v-78h1v78zM1611 2276v-57h1v57zM1612 2276v-68h1v68zM1613 2276v-56h1v56zM1614 2276v-73h1v73zM1615 2276v-47h1v47zM1616 2276v-48h1v48zM1617 2276v-54h1v54zM1618 2276v-63h2v63zM1620 2276v-60h1v60zM1621 2276v-81h1v81zM1622 2276v-64h1v64zM1623 2276v-87h1v87zM1624 2276v-50h1v50zM1625 2276v-83h1v83zM1626 2276v-35h1v35zM1628 2276v-46h1v46zM1629 2276v-95h1v95zM1630 2276v-90h1v90zM1631 2276v-77h1v77zM1632 2276v-66h1v66zM1633 2276v-37h1v37zM1634 2276v-63h1v63zM1635 2276v-92h1v92zM1637 2276v-73h1v73zM1638 2276v-32h1v32zM1639 2276v-52h1v52zM1640 2276v-57h1v57zM1641 2276v-98h1v98zM1642 2276v-86h1v86zM1643 2276v-75h1v75zM1645 2276v-22h1v22zM1646 2276v-81h1v81zM1647 2276v-97h1v97zM1648 2276v-93h1v93zM1649 2276v-41h1v41zM1650 2276v-69h1v69zM1651 2276v-92h1v92zM1652 2276v-79h1v79zM1654 2276v-90h1v90zM1655 2276v-101h1v101zM1656 2276v-97h1v97zM1657 2276v-47h1v47zM1658 2276v-104h1v104zM1659 2276v-48h1v48zM1660 2276v-37h1v37zM1662 2276v-97h1v97zM1663 2276v-80h1v80zM1664 2276v-113h1v113zM1665 2276v-70h1v70zM1666 2276v-104h1v104zM1667 2276v-56h1v56zM1668 2276v-99h1v99zM1669 2276v-116h1v116zM1671 2276v-117h1v117zM1672 2276v-66h1v66zM1673 2276v-91h1v91zM1674 2276v-110h1v110zM1675 2276v-61h1v61zM1676 2276v-119h1v119zM1677 2276v-109h1v109zM1678 2276v-99h2v99zM1680 2276v-59h1v59zM1681 2276v-117h1v117zM1682 2276v-84h1v84zM1683 2276v-113h1v113zM1684 2276v-47h1v47zM1685 2276v-16h1v16zM1686 2276v-80h1v80zM1688 2276v-123h1v123zM1689 2276v-90h1v90zM1690 2276v-129h1v129zM1691 2276v-85h1v85zM1692 2276v-117h1v117zM1693 2276v-54h1v54zM1694 2276v-115h1v115zM1695 2276v-133h1v133zM1697 2276v-94h1v94zM1698 2276v-71h1v71zM1699 2276v-129h1v129zM1700 2276v-123h1v123zM1701 2276v-84h1v84zM1702 2276v-104h1v104zM1703 2276v-72h1v72zM1705 2276v-78h1v78zM1706 2276v-94h1v94zM1707 2276v-85h1v85zM1708 2276v-108h1v108zM1709 2276v-138h1v138zM1710 2276v-157h1v157zM1711 2276v-140h1v140zM1712 2276v-111h1v111zM1714 2276v-47h1v47zM1715 2276v-105h1v105zM1716 2276v-54h1v54zM1717 2276v-114h1v114zM1718 2276v-112h1v112zM1719 2276v-93h1v93zM1720 2276v-102h1v102zM1722 2276v-182h1v182zM1723 2276v-46h1v46zM1724 2276v-182h1v182zM1725 2276v-73h1v73zM1726 2276v-134h1v134zM1727 2276v-202h1v202zM1728 2276v-195h1v195zM1729 2276v-149h1v149zM1731 2276v-204h1v204zM1732 2276v-213h1v213zM1733 2276v-234h1v234zM1734 2276v-178h1v178zM1735 2276v-212h1v212zM1736 2276v-92h1v92zM1737 2276v-237h1v237zM1738 2276v-200h1v200zM1740 2276v-229h1v229zM1741 2276v-247h1v247zM1742 2276v-228h1v228zM1743 2276v-162h1v162zM1744 2276v-262h1v262zM1745 2276v-47h1v47zM1746 2276v-266h1v266zM1748 2276v-298h1v298zM1749 2276v-335h1v335zM1750 2276v-362h1v362zM1751 2276v-308h1v308zM1752 2276v-151h1v151zM1753 2276v-93h1v93zM1754 2276v-354h1v354zM1755 2276v-615h1v615zM1757 2276v-450h1v450z"/>
<path fill="#F0E442" d="M969 2275v-1h1v1zM978 2274v-1h1v1zM980 2274v-1h1v1zM985 2274v-1h1v1zM988 2273v-1h1v1zM989 2273v-1h1v1zM993 2275v-2h1v2zM995 2274v-1h1v1zM999 2273v-1h1v1zM1002 2273v-1h1v1zM1004 2272v-1h1v1zM1008 2272v-1h1v1zM1012 2272v-1h1v1zM1014 2275v-1h1v1zM1016 2272v-2h1v2zM1022 2271v-1h1v1zM1023 2271v-1h1v1zM1025 2270v-1h1v1zM1028 2273v-3h1v3zM1031 2275v-5h1v5zM1033 2273v-2h1v2zM1034 2271v-2h1v2zM1037 2271v-2h1v2zM1038 2271v-1h1v1zM1039 2269v-1h1v1zM1042 2270v-3h1v3zM1043 2270v-3h1v3zM1045 2270v-1h1v1zM1046 2270v-1h1v1zM1047 2271v-3h1v3zM1051 2271v-3h1v3zM1054 2267v-1h1v1zM1055 2272v-4h1v4zM1056 2269v-2h1v2zM1057 2272v-2h1v2zM1058 2269v-1h1v1zM1059 2271v-4h1v4zM1064 2270v-3h1v3zM1066 2267v-1h1v1zM1071 2267v-1h1v1zM1072 2272v-2h1v2zM1073 2267v-1h1v1zM1075 2266v-1h1v1zM1080 2270v-4h1v4zM1081 2271v-3h1v3zM1083 2266v-1h1v1zM1084 2265v-1h1v1zM1086 2265v-1h1v1zM1088 2269v-3h1v3zM1089 2273v-2h1v2zM1091 2272v-1h1v1zM1096 2265v-1h1v1zM1097 2271v-5h1v5zM1098 2264v-1h1v1zM1099 2268v-1h1v1zM1100 2266v-1h1v1zM1101 2264v-1h1v1zM1102 2271v-4h1v4zM1105 2266v-2h1v2zM1106 2267v-3h1v3zM1108 2271v-2h1v2zM1109 2268v-1h1v1zM1110 2266v-2h1v2zM1114 2273v-8h1v8zM1117 2272v-6h1v6zM1119 2266v-1h1v1zM1123 2271v-2h1v2zM1124 2265v-3h1v3zM1125 2265v-2h1v2zM1128 2270v-3h1v3zM1129 2265v-3h2v3zM1131 2262v-1h1v1zM1132 2266v-3h1v3zM1133 2271v-7h1v7zM1134 2267v-4h1v4zM1136 2263v-2h1v2zM1137 2270v-1h1v1zM1139 2265v-1h1v1zM1140 2270v-1h1v1zM1141 2262v-1h1v1zM1142 2263v-2h1v2zM1144 2263v-2h1v2zM1146 2263v-1h1v1zM1150 2270v-3h1v3zM1151 2266v-4h1v4zM1152 2261v-1h1v1zM1153 2270v-10h1v10zM1154 2273v-8h1v8zM1156 2266v-6h1v6zM1159 2263v-3h1v3zM1160 2260v-1h1v1zM1161 2264v-3h1v3zM1166 2269v-5h1v5zM1168 2265v-3h1v3zM1169 2264v-5h1v5zM1175 2270v-10h1v10zM1176 2272v-2h1v2zM1177 2265v-3h1v3zM1178 2261v-2h1v2zM1180 2264v-4h1v4zM1182 2269v-4h1v4zM1183 2262v-1h1v1zM1184 2261v-2h1v2zM1185 2271v-8h1v8zM1186 2262v-4h1v4zM1187 2264v-6h1v6zM1188 2260v-2h1v2zM1191 2273v-6h1v6zM1192 2264v-6h1v6zM1196 2260v-3h1v3zM1197 2268v-8h1v8zM1202 2257v-1h1v1zM1203 2265v-5h1v5zM1204 2259v-1h1v1zM1205 2266v-4h1v4zM1208 2262v-4h1v4zM1210 2264v-2h1v2zM1211 2261v-5h1v5zM1212 2261v-1h1v1zM1213 2260v-1h1v1zM1214 2263v-4h1v4zM1217 2257v-1h1v1zM1218 2259v-1h1v1zM1219 2267v-6h1v6zM1220 2261v-5h1v5zM1221 2256v-1h1v1zM1222 2260v-3h1v3zM1223 2256v-1h1v1zM1225 2265v-9h1v9zM1226 2270v-3h1v3zM1227 2273v-15h1v15zM1228 2262v-1h1v1zM1229 2259v-2h1v2zM1230 2259v-1h1v1zM1232 2259v-2h2v2zM1234 2261v-6h1v6zM1237 2256v-2h1v2zM1238 2258v-1h1v1zM1239 2257v-2h1v2zM1240 2265v-4h1v4zM1242 2269v-10h1v10zM1244 2268v-7h1v7zM1245 2258v-3h1v3zM1246 2259v-5h1v5zM1249 2257v-4h1v4zM1251 2260v-7h1v7zM1252 2258v-3h1v3zM1253 2259v-7h1v7zM1254 2254v-1h1v1zM1255 2257v-2h1v2zM1256 2257v-4h1v4zM1260 2255v-3h1v3zM1261 2255v-3h1v3zM1263 2262v-10h1v10zM1264 2265v-2h1v2zM1266 2256v-4h1v4zM1268 2269v-1h1v1zM1269 2253v-1h1v1zM1270 2254v-1h1v1zM1271 2259v-4h1v4zM1272 2266v-4h1v4zM1274 2268v-12h1v12zM1276 2270v-18h1v18zM1277 2259v-8h1v8zM1278 2255v-4h1v4zM1280 2271v-17h1v17zM1281 2256v-2h1v2zM1282 2261v-8h1v8zM1285 2270v-7h1v7zM1286 2255v-4h1v4zM1287 2256v-6h1v6zM1288 2252v-1h1v1zM1289 2264v-12h1v12zM1290 2259v-5h1v5zM1291 2250v-1h1v1zM1295 2257v-1h1v1zM1297 2264v-3h1v3zM1300 2251v-1h1v1zM1302 2258v-9h1v9zM1303 2250v-1h1v1zM1306 2257v-7h1v7zM1307 2268v-5h1v5zM1308 2249v-1h1v1zM1309 2267v-3h1v3zM1311 2270v-4h1v4zM1312 2254v-1h1v1zM1313 2252v-4h1v4zM1315 2253v-2h1v2zM1316 2249v-1h1v1zM1317 2251v-1h1v1zM1319 2260v-5h1v5zM1320 2250v-2h1v2zM1321 2255v-5h1v5zM1322 2251v-1h1v1zM1323 2258v-11h1v11zM1324 2261v-10h1v10zM1325 2254v-7h1v7zM1326 2256v-6h1v6zM1330 2252v-2h1v2zM1332 2261v-10h1v10zM1333 2249v-1h1v1zM1334 2258v-4h1v4zM1337 2249v-1h1v1zM1338 2260v-7h1v7zM1341 2263v-6h1v6zM1343 2249v-1h1v1zM1345 2274v-27h1v27zM1348 2267v-13h1v13zM1349 2261v-1h1v1zM1350 2249v-1h1v1zM1352 2251v-1h2v1zM1354 2254v-5h1v5zM1356 2247v-1h1v1zM1357 2256v-8h1v8zM1358 2259v-10h1v10zM1364 2263v-10h1v10zM1366 2254v-1h1v1zM1367 2254v-5h1v5zM1368 2259v-8h1v8zM1371 2245v-2h1v2zM1372 2246v-3h1v3zM1373 2245v-1h1v1zM1374 2247v-2h1v2zM1375 2246v-2h1v2zM1377 2264v-13h1v13zM1379 2254v-7h1v7zM1380 2264v-5h1v5zM1381 2251v-8h1v8zM1384 2244v-1h1v1zM1385 2246v-5h1v5zM1386 2255v-13h1v13zM1388 2244v-3h1v3zM1389 2263v-16h1v16zM1390 2247v-2h1v2zM1392 2240v-1h1v1zM1393 2243v-2h1v2zM1395 2254v-1h2v1zM1398 2243v-1h1v1zM1399 2247v-7h1v7zM1400 2239v-1h1v1zM1402 2246v-8h1v8zM1403 2262v-13h1v13zM1405 2240v-2h1v2zM1407 2244v-4h1v4zM1409 2239v-1h1v1zM1410 2253v-15h1v15zM1411 2247v-8h1v8zM1412 2245v-6h1v6zM1414 2250v-7h1v7zM1415 2251v-6h1v6zM1416 2246v-2h1v2zM1417 2266v-20h1v20zM1418 2241v-3h1v3zM1419 2251v-14h1v14zM1422 2241v-1h1v1zM1423 2242v-4h1v4zM1424 2259v-2h1v2zM1425 2247v-11h1v11zM1426 2242v-2h1v2zM1427 2236v-1h1v1zM1428 2251v-9h1v9zM1429 2250v-3h1v3zM1431 2236v-1h1v1zM1432 2237v-1h1v1zM1433 2242v-7h1v7zM1434 2241v-1h1v1zM1435 2242v-8h1v8zM1436 2235v-1h1v1zM1437 2243v-1h1v1zM1439 2250v-3h1v3zM1440 2241v-4h1v4zM1441 2258v-14h1v14zM1442 2242v-6h1v6zM1444 2248v-8h1v8zM1445 2249v-1h1v1zM1448 2249v-7h1v7zM1449 2256v-5h1v5zM1450 2243v-3h1v3zM1451 2253v-8h1v8zM1452 2248v-7h1v7zM1453 2243v-4h1v4zM1454 2244v-12h1v12zM1455 2239v-4h2v4zM1458 2252v-12h1v12zM1459 2234v-3h1v3zM1460 2232v-1h1v1zM1461 2254v-8h1v8zM1462 2260v-26h1v26zM1463 2235v-4h1v4zM1465 2265v-35h1v35zM1467 2240v-6h1v6zM1468 2231v-2h1v2zM1469 2240v-3h1v3zM1471 2242v-1h1v1zM1472 2249v-4h1v4zM1474 2266v-25h1v25zM1475 2266v-20h1v20zM1476 2245v-6h1v6zM1477 2238v-1h1v1zM1479 2269v-30h1v30zM1480 2243v-7h1v7zM1482 2228v-1h1v1zM1484 2249v-2h1v2zM1485 2240v-8h1v8zM1486 2249v-1h1v1zM1487 2248v-2h1v2zM1488 2249v-20h1v20zM1491 2231v-3h1v3zM1492 2267v-14h1v14zM1495 2248v-10h1v10zM1499 2249v-9h1v9zM1500 2244v-11h1v11zM1501 2234v-5h1v5zM1504 2229v-2h1v2zM1505 2239v-7h1v7zM1506 2242v-8h1v8zM1508 2243v-12h1v12zM1509 2230v-1h1v1zM1510 2234v-4h1v4zM1512 2238v-4h1v4zM1513 2237v-9h1v9zM1514 2270v-15h1v15zM1515 2225v-2h2v2zM1517 2231v-2h1v2zM1518 2241v-4h1v4zM1520 2246v-20h1v20zM1522 2221v-1h1v1zM1523 2222v-2h1v2zM1525 2231v-4h1v4zM1526 2221v-1h1v1zM1527 2258v-28h1v28zM1528 2251v-19h1v19zM1529 2250v-17h1v17zM1530 2236v-3h1v3zM1531 2238v-6h1v6zM1532 2247v-16h1v16zM1534 2244v-2h1v2zM1536 2226v-4h1v4zM1537 2221v-1h1v1zM1538 2264v-43h1v43zM1539 2252v-25h1v25zM1540 2234v-14h1v14zM1542 2224v-8h1v8zM1543 2245v-8h1v8zM1544 2223v-3h1v3zM1545 2218v-2h1v2zM1548 2228v-3h1v3zM1549 2238v-9h1v9zM1552 2256v-2h1v2zM1553 2273v-33h1v33zM1554 2228v-10h1v10zM1556 2222v-8h1v8zM1557 2214v-1h1v1zM1558 2223v-3h2v3zM1560 2222v-4h1v4zM1561 2240v-23h1v23zM1562 2234v-13h1v13zM1563 2229v-7h1v7zM1565 2244v-31h1v31zM1566 2218v-3h1v3zM1568 2226v-5h1v5zM1569 2227v-17h1v17zM1570 2241v-17h1v17zM1571 2242v-19h1v19zM1572 2252v-6h1v6zM1573 2210v-2h1v2zM1577 2238v-9h1v9zM1578 2260v-41h1v41zM1579 2218v-13h1v13zM1580 2227v-15h1v15zM1581 2236v-3h1v3zM1583 2213v-1h1v1zM1585 2227v-6h1v6zM1586 2258v-36h1v36zM1587 2264v-6h1v6zM1588 2210v-1h1v1zM1589 2209v-2h1v2zM1590 2222v-3h1v3zM1592 2207v-5h1v5zM1594 2246v-44h1v44zM1595 2224v-7h1v7zM1596 2226v-13h1v13zM1597 2228v-1h1v1zM1598 2205v-4h1v4zM1599 2238v-3h1v3zM1600 2200v-4h1v4zM1602 2225v-25h1v25zM1603 2228v-16h1v16zM1604 2261v-15h1v15zM1605 2204v-11h1v11zM1606 2246v-36h1v36zM1608 2218v-16h1v16zM1609 2198v-3h1v3zM1611 2219v-21h1v21zM1612 2208v-18h1v18zM1613 2220v-11h1v11zM1614 2203v-8h1v8zM1615 2229v-18h1v18zM1616 2228v-35h1v35zM1617 2222v-15h1v15zM1618 2213v-9h2v9zM1620 2216v-17h1v17zM1621 2195v-11h1v11zM1623 2189v-3h1v3zM1624 2226v-2h1v2zM1625 2193v-6h1v6zM1626 2241v-49h1v49zM1630 2186v-6h1v6zM1631 2199v-8h1v8zM1632 2210v-4h1v4zM1633 2239v-33h1v33zM1634 2213v-10h1v10zM1637 2203v-3h1v3zM1638 2244v-65h1v65zM1639 2224v-20h1v20zM1640 2219v-39h1v39zM1641 2178v-2h1v2zM1642 2190v-4h1v4zM1643 2201v-27h1v27zM1645 2254v-55h1v55zM1646 2195v-5h1v5zM1648 2183v-2h1v2zM1649 2235v-45h1v45zM1650 2207v-2h1v2zM1651 2184v-1h1v1zM1652 2197v-14h1v14zM1654 2186v-7h1v7zM1656 2179v-6h1v6zM1657 2229v-7h1v7zM1658 2172v-1h1v1zM1659 2228v-51h1v51zM1660 2239v-73h1v73zM1662 2179v-12h1v12zM1663 2196v-5h1v5zM1665 2206v-13h1v13zM1666 2172v-1h1v1zM1667 2220v-20h1v20zM1668 2177v-17h1v17zM1671 2159v-2h1v2zM1672 2210v-7h1v7zM1673 2185v-7h1v7zM1674 2166v-10h1v10zM1675 2215v-14h1v14zM1678 2177v-20h2v20zM1680 2217v-66h1v66zM1682 2192v-21h1v21zM1683 2163v-1h1v1zM1684 2229v-1h1v1zM1685 2260v-7h1v7zM1686 2196v-44h1v44zM1688 2153v-4h1v4zM1689 2186v-46h1v46zM1690 2147v-3h1v3zM1691 2191v-30h1v30zM1692 2159v-23h1v23zM1693 2222v-46h1v46zM1694 2161v-2h1v2zM1697 2182v-21h1v21zM1698 2205v-34h1v34zM1699 2147v-3h1v3zM1700 2153v-21h1v21zM1701 2192v-45h1v45zM1702 2172v-45h1v45zM1703 2204v-54h1v54zM1705 2198v-57h1v57zM1706 2182v-24h1v24zM1707 2191v-67h1v67zM1708 2168v-3h1v3zM1709 2138v-22h1v22zM1710 2119v-1h1v1zM1711 2136v-7h1v7zM1715 2171v-26h1v26zM1716 2222v-97h1v97zM1717 2162v-37h1v37zM1718 2164v-47h1v47zM1719 2183v-8h1v8zM1720 2174v-22h1v22zM1722 2094v-4h1v4zM1723 2230v-92h1v92zM1724 2094v-5h1v5zM1727 2074v-1h1v1zM1728 2081v-15h1v15zM1729 2127v-33h1v33zM1731 2072v-9h1v9zM1733 2042v-1h1v1zM1734 2098v-54h1v54zM1735 2064v-27h1v27zM1736 2184v-145h1v145zM1737 2039v-18h1v18zM1738 2076v-33h1v33zM1740 2047v-7h1v7zM1741 2029v-7h1v7zM1742 2048v-22h1v22zM1743 2114v-39h1v39zM1744 2014v-24h1v24zM1745 2229v-109h1v109zM1746 2010v-38h1v38zM1748 1978v-3h1v3zM1749 1941v-15h1v15zM1750 1914v-14h1v14zM1751 1968v-52h1v52zM1752 2125v-51h1v51zM1753 2183v-12h1v12zM1754 1922v-32h1v32zM1757 1826v-216h1v216z"/>
<path fill="#0072B2" d="M964 2275v-1h1v1zM974 2274v-1h1v1zM983 2274v-2h1v2zM985 2273v-1h1v1zM986 2274v-2h1v2zM993 2273v-1h1v1zM994 2274v-3h1v3zM995 2273v-2h1v2zM996 2272v-1h1v1zM998 2272v-1h1v1zM999 2272v-1h1v1zM1002 2272v-1h1v1zM1003 2272v-1h1v1zM1004 2271v-1h1v1zM1005 2271v-1h1v1zM1006 2271v-1h1v1zM1008 2271v-1h1v1zM1011 2271v-1h1v1zM1012 2271v-1h1v1zM1014 2274v-4h1v4zM1015 2270v-1h1v1zM1016 2270v-1h1v1zM1017 2270v-1h1v1zM1019 2270v-1h1v1zM1021 2270v-1h1v1zM1022 2270v-1h1v1zM1023 2270v-1h1v1zM1026 2272v-3h2v3zM1028 2270v-2h1v2zM1029 2269v-1h1v1zM1031 2270v-2h1v2zM1032 2269v-1h1v1zM1033 2271v-3h1v3zM1034 2269v-1h1v1zM1037 2269v-1h1v1zM1038 2270v-2h1v2zM1039 2268v-1h1v1zM1040 2270v-3h1v3zM1045 2269v-2h1v2zM1046 2269v-2h1v2zM1047 2268v-1h1v1zM1048 2269v-2h1v2zM1050 2268v-1h1v1zM1051 2268v-1h1v1zM1053 2269v-2h1v2zM1055 2268v-2h1v2zM1056 2267v-1h1v1zM1057 2270v-4h1v4zM1058 2268v-2h1v2zM1059 2267v-1h1v1zM1062 2269v-3h1v3zM1064 2267v-1h1v1zM1065 2270v-4h1v4zM1068 2267v-2h1v2zM1069 2270v-5h2v5zM1071 2266v-1h1v1zM1072 2270v-5h1v5zM1073 2266v-1h1v1zM1074 2269v-4h1v4zM1079 2267v-2h1v2zM1080 2266v-1h1v1zM1081 2268v-3h1v3zM1082 2267v-2h1v2zM1083 2265v-1h1v1zM1085 2265v-1h1v1zM1088 2266v-2h1v2zM1089 2271v-7h1v7zM1090 2265v-1h1v1zM1091 2271v-7h1v7zM1092 2267v-3h1v3zM1093 2268v-4h1v4zM1097 2266v-2h1v2zM1099 2267v-4h1v4zM1100 2265v-2h1v2zM1102 2267v-4h1v4zM1103 2266v-3h1v3zM1105 2264v-1h1v1zM1106 2264v-1h1v1zM1108 2269v-6h1v6zM1109 2267v-4h1v4zM1110 2264v-1h1v1zM1111 2264v-1h1v1zM1113 2264v-2h1v2zM1114 2265v-3h1v3zM1115 2263v-1h1v1zM1117 2266v-4h1v4zM1119 2265v-3h1v3zM1123 2269v-7h1v7zM1125 2263v-1h1v1zM1126 2262v-1h1v1zM1127 2263v-2h1v2zM1128 2267v-6h1v6zM1129 2262v-1h2v1zM1132 2263v-2h1v2zM1133 2264v-3h1v3zM1134 2263v-2h1v2zM1135 2268v-7h1v7zM1137 2269v-8h1v8zM1139 2264v-3h1v3zM1140 2269v-8h1v8zM1141 2261v-1h1v1zM1142 2261v-1h1v1zM1143 2264v-4h1v4zM1144 2261v-1h1v1zM1145 2270v-10h1v10zM1146 2262v-2h1v2zM1148 2267v-7h1v7zM1150 2267v-7h1v7zM1151 2262v-2h1v2zM1154 2265v-6h1v6zM1156 2260v-1h1v1zM1157 2260v-1h1v1zM1159 2260v-1h1v1zM1161 2261v-2h1v2zM1162 2265v-6h1v6zM1163 2266v-7h1v7zM1166 2264v-5h1v5zM1167 2264v-5h1v5zM1168 2262v-3h1v3zM1169 2259v-1h1v1zM1170 2259v-1h1v1zM1175 2260v-2h1v2zM1176 2270v-12h1v12zM1177 2262v-4h1v4zM1178 2259v-1h1v1zM1180 2260v-2h1v2zM1182 2265v-7h1v7zM1183 2261v-4h1v4zM1184 2259v-2h1v2zM1185 2263v-6h1v6zM1186 2258v-1h1v1zM1187 2258v-1h1v1zM1188 2258v-1h1v1zM1189 2260v-3h2v3zM1191 2267v-10h1v10zM1192 2258v-1h1v1zM1193 2268v-11h1v11zM1194 2262v-5h1v5zM1197 2260v-4h1v4zM1199 2275v-19h1v19zM1200 2258v-2h1v2zM1201 2261v-5h1v5zM1203 2260v-4h1v4zM1204 2258v-2h1v2zM1205 2262v-6h1v6zM1208 2258v-2h1v2zM1209 2264v-8h1v8zM1210 2262v-7h1v7zM1211 2256v-1h1v1zM1212 2260v-5h1v5zM1213 2259v-4h1v4zM1214 2259v-4h1v4zM1216 2258v-3h1v3zM1217 2256v-1h1v1zM1218 2258v-3h1v3zM1219 2261v-6h1v6zM1220 2256v-1h1v1zM1222 2257v-2h1v2zM1223 2255v-1h1v1zM1225 2256v-2h1v2zM1226 2267v-13h1v13zM1227 2258v-4h1v4zM1228 2261v-7h1v7zM1229 2257v-3h1v3zM1230 2258v-4h1v4zM1231 2255v-1h1v1zM1232 2257v-3h2v3zM1234 2255v-1h1v1zM1235 2260v-6h1v6zM1236 2254v-1h1v1zM1237 2254v-1h1v1zM1238 2257v-4h1v4zM1239 2255v-2h1v2zM1240 2261v-8h1v8zM1242 2259v-6h1v6zM1243 2267v-14h1v14zM1244 2261v-8h1v8zM1245 2255v-2h1v2zM1246 2254v-1h1v1zM1247 2260v-7h1v7zM1249 2253v-1h1v1zM1251 2253v-1h1v1zM1252 2255v-3h1v3zM1254 2253v-1h1v1zM1255 2255v-3h1v3zM1256 2253v-1h1v1zM1257 2256v-4h1v4zM1262 2267v-16h1v16zM1263 2252v-1h1v1zM1264 2263v-12h1v12zM1265 2268v-17h1v17zM1266 2252v-1h1v1zM1268 2268v-17h1v17zM1269 2252v-1h1v1zM1270 2253v-2h1v2zM1271 2255v-4h1v4zM1272 2262v-11h1v11zM1273 2266v-15h1v15zM1274 2256v-5h1v5zM1276 2252v-2h1v2zM1277 2251v-1h1v1zM1278 2251v-1h1v1zM1279 2251v-1h1v1zM1280 2254v-4h1v4zM1281 2254v-4h1v4zM1282 2253v-3h1v3zM1285 2263v-13h1v13zM1286 2251v-1h1v1zM1288 2251v-1h1v1zM1289 2252v-3h1v3zM1290 2254v-5h1v5zM1292 2254v-5h2v5zM1295 2256v-7h1v7zM1296 2252v-3h1v3zM1297 2261v-12h1v12zM1298 2255v-6h1v6zM1299 2264v-15h1v15zM1300 2250v-1h1v1zM1304 2249v-1h1v1zM1305 2249v-1h1v1zM1306 2250v-2h1v2zM1307 2263v-15h1v15zM1309 2264v-16h1v16zM1311 2266v-18h1v18zM1312 2253v-5h1v5zM1314 2252v-4h1v4zM1315 2251v-3h1v3zM1317 2250v-2h1v2zM1319 2255v-8h1v8zM1320 2248v-1h1v1zM1321 2250v-3h1v3zM1322 2250v-3h1v3zM1324 2251v-4h1v4zM1326 2250v-3h1v3zM1328 2249v-2h1v2zM1329 2248v-1h1v1zM1330 2250v-3h1v3zM1332 2251v-4h1v4zM1333 2248v-2h1v2zM1334 2254v-8h1v8zM1337 2248v-2h1v2zM1338 2253v-7h1v7zM1339 2247v-1h1v1zM1340 2252v-6h1v6zM1341 2257v-11h1v11zM1342 2255v-9h1v9zM1343 2248v-2h1v2zM1345 2247v-1h1v1zM1347 2246v-1h1v1zM1348 2254v-9h1v9zM1349 2260v-15h1v15zM1350 2248v-3h1v3zM1351 2258v-13h1v13zM1352 2250v-5h2v5zM1354 2249v-4h1v4zM1356 2246v-1h1v1zM1357 2248v-3h1v3zM1358 2249v-5h1v5zM1359 2246v-2h1v2zM1360 2268v-24h1v24zM1362 2246v-2h1v2zM1363 2247v-3h1v3zM1364 2253v-9h1v9zM1365 2261v-18h1v18zM1366 2253v-10h1v10zM1367 2249v-6h1v6zM1368 2251v-8h1v8zM1369 2260v-17h1v17zM1372 2243v-1h1v1zM1373 2244v-2h1v2zM1374 2245v-3h1v3zM1375 2244v-2h1v2zM1376 2256v-14h1v14zM1377 2251v-9h1v9zM1379 2247v-6h1v6zM1380 2259v-18h1v18zM1381 2243v-2h1v2zM1382 2256v-15h1v15zM1383 2273v-32h1v32zM1384 2243v-2h1v2zM1385 2241v-1h1v1zM1386 2242v-2h1v2zM1388 2241v-1h1v1zM1389 2247v-7h1v7zM1390 2245v-5h1v5zM1391 2253v-13h1v13zM1393 2241v-2h1v2zM1394 2251v-12h1v12zM1395 2253v-14h2v14zM1397 2245v-6h1v6zM1398 2242v-3h1v3zM1399 2240v-1h1v1zM1401 2241v-3h1v3zM1403 2249v-11h1v11zM1406 2261v-23h1v23zM1407 2240v-2h1v2zM1408 2239v-2h1v2zM1409 2238v-1h1v1zM1410 2238v-1h1v1zM1411 2239v-2h1v2zM1412 2239v-2h1v2zM1414 2243v-6h1v6zM1415 2245v-8h1v8zM1416 2244v-8h1v8zM1417 2246v-10h1v10zM1418 2238v-2h1v2zM1419 2237v-1h1v1zM1420 2251v-15h1v15zM1422 2240v-4h1v4zM1423 2238v-2h1v2zM1424 2257v-22h1v22zM1425 2236v-1h1v1zM1426 2240v-5h1v5zM1428 2242v-7h1v7zM1429 2247v-12h1v12zM1431 2235v-1h1v1zM1432 2236v-2h1v2zM1433 2235v-1h1v1zM1434 2240v-6h1v6zM1437 2242v-8h1v8zM1439 2247v-14h1v14zM1440 2237v-4h1v4zM1441 2244v-11h1v11zM1442 2236v-3h1v3zM1443 2239v-6h1v6zM1444 2240v-8h1v8zM1445 2248v-16h1v16zM1446 2236v-4h1v4zM1448 2242v-10h1v10zM1449 2251v-19h1v19zM1450 2240v-8h1v8zM1451 2245v-14h1v14zM1452 2241v-10h1v10zM1453 2239v-8h1v8zM1454 2232v-1h1v1zM1455 2235v-4h2v4zM1457 2246v-16h1v16zM1458 2240v-10h1v10zM1459 2231v-1h1v1zM1460 2231v-1h1v1zM1461 2246v-16h1v16zM1462 2234v-5h1v5zM1463 2231v-2h1v2zM1465 2230v-1h1v1zM1466 2246v-17h1v17zM1467 2234v-5h1v5zM1469 2237v-9h1v9zM1470 2231v-3h1v3zM1471 2241v-13h1v13zM1472 2245v-17h1v17zM1474 2241v-13h1v13zM1475 2246v-19h1v19zM1476 2239v-12h1v12zM1477 2237v-10h1v10zM1478 2230v-3h1v3zM1479 2239v-12h1v12zM1480 2236v-9h1v9zM1482 2227v-1h1v1zM1483 2228v-2h1v2zM1484 2247v-21h1v21zM1485 2232v-6h1v6zM1486 2248v-22h1v22zM1487 2246v-20h1v20zM1488 2229v-4h1v4zM1489 2226v-1h1v1zM1491 2228v-3h1v3zM1492 2253v-28h1v28zM1493 2264v-39h1v39zM1494 2243v-18h1v18zM1495 2238v-14h1v14zM1496 2226v-2h1v2zM1497 2225v-1h1v1zM1499 2240v-16h1v16zM1500 2233v-9h1v9zM1501 2229v-5h1v5zM1502 2243v-20h1v20zM1503 2236v-13h1v13zM1504 2227v-4h1v4zM1505 2232v-9h1v9zM1506 2234v-11h1v11zM1508 2231v-8h1v8zM1509 2229v-6h1v6zM1510 2230v-8h1v8zM1511 2242v-20h1v20zM1512 2234v-12h1v12zM1513 2228v-6h1v6zM1514 2255v-33h1v33zM1515 2223v-1h2v1zM1517 2229v-8h1v8zM1518 2237v-16h1v16zM1519 2255v-34h1v34zM1520 2226v-5h1v5zM1521 2227v-7h1v7zM1525 2227v-8h1v8zM1526 2220v-1h1v1zM1527 2230v-11h1v11zM1528 2232v-13h1v13zM1529 2233v-15h1v15zM1530 2233v-15h1v15zM1531 2232v-14h1v14zM1532 2231v-13h1v13zM1534 2242v-25h1v25zM1535 2268v-51h1v51zM1536 2222v-5h1v5zM1537 2220v-4h1v4zM1538 2221v-5h1v5zM1539 2227v-11h1v11zM1540 2220v-4h1v4zM1542 2216v-1h1v1zM1543 2237v-22h1v22zM1544 2220v-5h1v5zM1545 2216v-2h1v2zM1546 2235v-21h1v21zM1547 2218v-4h1v4zM1548 2225v-11h1v11zM1549 2229v-16h1v16zM1551 2256v-43h1v43zM1552 2254v-41h1v41zM1553 2240v-27h1v27zM1554 2218v-6h1v6zM1555 2213v-1h1v1zM1556 2214v-2h1v2zM1557 2213v-2h1v2zM1558 2220v-9h2v9zM1560 2218v-7h1v7zM1561 2217v-7h1v7zM1562 2221v-11h1v11zM1563 2222v-13h1v13zM1564 2212v-3h1v3zM1565 2213v-4h1v4zM1566 2215v-7h1v7zM1568 2221v-13h1v13zM1569 2210v-3h1v3zM1570 2224v-17h1v17zM1571 2223v-16h1v16zM1572 2246v-40h1v40zM1573 2208v-2h1v2zM1574 2207v-2h1v2zM1575 2220v-15h1v15zM1577 2229v-24h1v24zM1578 2219v-15h1v15zM1579 2205v-1h1v1zM1580 2212v-9h1v9zM1581 2233v-30h1v30zM1582 2259v-56h1v56zM1583 2212v-10h1v10zM1585 2221v-19h1v19zM1586 2222v-21h1v21zM1587 2258v-57h1v57zM1588 2209v-8h1v8zM1589 2207v-7h1v7zM1590 2219v-19h1v19zM1591 2200v-1h1v1zM1592 2202v-3h1v3zM1594 2202v-3h1v3zM1595 2217v-19h1v19zM1596 2213v-15h1v15zM1597 2227v-30h1v30zM1598 2201v-4h1v4zM1599 2235v-39h1v39zM1600 2196v-1h1v1zM1602 2200v-5h1v5zM1603 2212v-18h1v18zM1604 2246v-52h1v52zM1606 2210v-18h1v18zM1607 2203v-11h1v11zM1608 2202v-11h1v11zM1609 2195v-4h1v4zM1611 2198v-8h1v8zM1612 2190v-1h1v1zM1613 2209v-20h1v20zM1614 2195v-7h1v7zM1615 2211v-24h1v24zM1616 2193v-6h1v6zM1617 2207v-21h1v21zM1618 2204v-19h2v19zM1620 2199v-15h1v15zM1622 2212v-29h1v29zM1623 2186v-4h1v4zM1624 2224v-42h1v42zM1625 2187v-6h1v6zM1626 2192v-12h1v12zM1628 2230v-50h1v50zM1629 2181v-2h1v2zM1630 2180v-2h1v2zM1631 2191v-13h1v13zM1632 2206v-28h1v28zM1633 2206v-29h1v29zM1634 2203v-26h1v26zM1635 2184v-8h1v8zM1637 2200v-24h1v24zM1638 2179v-4h1v4zM1639 2204v-29h1v29zM1640 2180v-6h1v6zM1641 2176v-2h1v2zM1642 2186v-13h1v13zM1643 2174v-1h1v1zM1645 2199v-27h1v27zM1646 2190v-18h1v18zM1647 2179v-8h1v8zM1648 2181v-11h1v11zM1649 2190v-20h1v20zM1650 2205v-36h1v36zM1651 2183v-14h1v14zM1652 2183v-15h1v15zM1654 2179v-11h1v11zM1655 2175v-8h1v8zM1656 2173v-7h1v7zM1657 2222v-56h1v56zM1658 2171v-6h1v6zM1659 2177v-12h1v12zM1660 2166v-2h1v2zM1662 2167v-4h1v4zM1663 2191v-29h1v29zM1664 2163v-2h1v2zM1665 2193v-32h1v32zM1666 2171v-11h1v11zM1667 2200v-41h1v41zM1668 2160v-2h1v2zM1669 2160v-3h1v3zM1671 2157v-1h1v1zM1672 2203v-48h1v48zM1673 2178v-23h1v23zM1674 2156v-2h1v2zM1675 2201v-48h1v48zM1676 2157v-5h1v5zM1677 2167v-16h1v16zM1678 2157v-7h2v7zM1680 2151v-2h1v2zM1681 2159v-11h1v11zM1682 2171v-24h1v24zM1683 2162v-16h1v16zM1684 2228v-84h1v84zM1685 2253v-110h1v110zM1686 2152v-10h1v10zM1688 2149v-8h1v8zM1689 2140v-1h1v1zM1690 2144v-6h1v6zM1691 2161v-25h1v25zM1692 2136v-1h1v1zM1693 2176v-42h1v42zM1694 2159v-27h1v27zM1695 2143v-12h1v12zM1697 2161v-32h1v32zM1698 2171v-43h1v43zM1699 2144v-17h1v17zM1700 2132v-6h1v6zM1701 2147v-22h1v22zM1702 2127v-4h1v4zM1703 2150v-28h1v28zM1705 2141v-20h1v20zM1706 2158v-38h1v38zM1707 2124v-5h1v5zM1708 2165v-47h1v47zM1710 2118v-4h1v4zM1711 2129v-17h1v17zM1712 2165v-55h1v55zM1714 2229v-120h1v120zM1715 2145v-39h1v39zM1716 2125v-22h1v22zM1717 2125v-24h1v24zM1718 2117v-19h1v19zM1719 2175v-80h1v80zM1720 2152v-59h1v59zM1723 2138v-51h1v51zM1724 2089v-5h1v5zM1725 2203v-122h1v122zM1726 2142v-64h1v64zM1727 2073v-1h1v1zM1728 2066v-1h1v1zM1729 2094v-36h1v36zM1731 2063v-11h1v11zM1732 2063v-19h1v19zM1733 2041v-4h1v4zM1734 2044v-15h1v15zM1735 2037v-16h1v16zM1736 2039v-26h1v26zM1737 2021v-16h1v16zM1738 2043v-40h1v40zM1740 2040v-37h1v37zM1741 2022v-20h1v20zM1742 2026v-25h1v25zM1743 2075v-80h1v80zM1744 1990v-1h1v1zM1745 2120v-137h1v137zM1746 1972v-8h1v8zM1748 1975v-30h1v30zM1749 1926v-7h1v7zM1750 1900v-6h1v6zM1751 1916v-107h1v107zM1752 2074v-301h1v301zM1753 2171v-511h1v511zM1754 1890v-258h1v258zM1755 1661v-32h1v32z"/>
<g opacity=".5">
<path fill="#fff" d="M962 2276v-1h1v1zM970 2276v-2h1v2zM979 2276v-3h1v3zM996 2276v-5h1v5zM1005 2276v-6h1v6zM1013 2276v-6h1v6zM1022 2276v-7h1v7zM1030 2276v-8h1v8zM1039 2276v-9h1v9zM1056 2276v-10h1v10zM1065 2276v-10h1v10zM1073 2276v-11h1v11zM1082 2276v-11h1v11zM1090 2276v-12h1v12zM1099 2276v-13h1v13zM1116 2276v-14h1v14zM1125 2276v-14h1v14zM1133 2276v-15h1v15zM1142 2276v-16h1v16zM1159 2276v-17h1v17zM1168 2276v-17h1v17zM1176 2276v-18h1v18zM1185 2276v-19h1v19zM1193 2276v-19h1v19zM1202 2276v-20h1v20zM1219 2276v-21h1v21zM1228 2276v-22h1v22zM1236 2276v-23h1v23zM1245 2276v-23h1v23zM1253 2276v-24h1v24zM1262 2276v-25h1v25zM1279 2276v-26h1v26zM1288 2276v-26h1v26zM1296 2276v-27h1v27zM1305 2276v-28h1v28zM1322 2276v-29h1v29zM1331 2276v-29h1v29zM1339 2276v-30h1v30zM1348 2276v-31h1v31zM1356 2276v-31h1v31zM1365 2276v-33h1v33zM1382 2276v-35h1v35zM1391 2276v-36h1v36zM1399 2276v-37h1v37zM1408 2276v-39h1v39zM1416 2276v-40h1v40zM1425 2276v-41h1v41zM1442 2276v-43h1v43zM1451 2276v-45h1v45zM1459 2276v-46h1v46zM1468 2276v-47h1v47zM1485 2276v-50h1v50zM1494 2276v-51h1v51zM1502 2276v-53h1v53zM1511 2276v-54h1v54zM1519 2276v-55h1v55zM1528 2276v-57h1v57zM1545 2276v-62h1v62zM1554 2276v-64h1v64zM1562 2276v-66h1v66zM1571 2276v-69h1v69zM1579 2276v-72h1v72zM1588 2276v-75h1v75zM1605 2276v-83h1v83zM1614 2276v-88h1v88zM1622 2276v-93h1v93zM1631 2276v-98h1v98zM1648 2276v-106h1v106zM1657 2276v-110h1v110zM1665 2276v-115h1v115zM1674 2276v-122h1v122zM1682 2276v-129h1v129zM1691 2276v-140h1v140zM1708 2276v-158h1v158zM1717 2276v-175h1v175zM1725 2276v-195h1v195zM1734 2276v-247h1v247zM1742 2276v-275h1v275zM1751 2276v-467h1v467zM1757 2276v-666h1v666z"/>
<path fill="#D55E00" d="M960 2276v-1h1v1zM961 2276v-1h1v1zM963 2276v-1h1v1zM964 2276v-1h1v1zM965 2276v-2h1v2zM966 2276v-2h1v2zM967 2276v-2h1v2zM968 2276v-1h1v1zM969 2276v-2h1v2zM971 2276v-2h1v2zM972 2276v-2h1v2zM973 2276v-2h1v2zM974 2276v-2h1v2zM975 2276v-3h1v3zM976 2276v-3h1v3zM977 2276v-2h1v2zM978 2276v-3h1v3zM980 2276v-2h1v2zM981 2276v-3h1v3zM982 2276v-3h1v3zM983 2276v-2h1v2zM984 2276v-2h1v2zM985 2276v-2h1v2zM986 2276v-4h1v4zM987 2276v-3h2v3zM989 2276v-3h1v3zM990 2276v-4h1v4zM991 2276v-4h1v4zM992 2276v-1h1v1zM993 2276v-2h1v2zM994 2276v-2h1v2zM995 2276v-4h1v4zM997 2276v-5h1v5zM998 2276v-4h1v4zM999 2276v-3h1v3zM1000 2276v-5h1v5zM1001 2276v-3h1v3zM1002 2276v-4h1v4zM1003 2276v-4h1v4zM1004 2276v-5h1v5zM1006 2276v-5h1v5zM1007 2276v-6h1v6zM1008 2276v-4h1v4zM1009 2276v-6h1v6zM1010 2276v-5h1v5zM1011 2276v-4h1v4zM1012 2276v-6h1v6zM1014 2276v-1h1v1zM1015 2276v-6h1v6zM1016 2276v-4h1v4zM1017 2276v-6h1v6zM1018 2276v-6h1v6zM1019 2276v-7h1v7zM1020 2276v-6h1v6zM1021 2276v-5h1v5zM1023 2276v-5h1v5zM1024 2276v-7h1v7zM1025 2276v-6h1v6zM1026 2276v-4h1v4zM1027 2276v-3h1v3zM1028 2276v-7h1v7zM1029 2276v-8h1v8zM1031 2276v-1h1v1zM1032 2276v-7h1v7zM1033 2276v-3h1v3zM1034 2276v-5h1v5zM1035 2276v-8h1v8zM1036 2276v-5h1v5zM1037 2276v-5h1v5zM1038 2276v-7h1v7zM1040 2276v-6h1v6zM1041 2276v-9h1v9zM1042 2276v-6h1v6zM1043 2276v-6h1v6zM1044 2276v-6h1v6zM1045 2276v-6h1v6zM1046 2276v-5h1v5zM1047 2276v-7h2v7zM1049 2276v-9h1v9zM1050 2276v-8h1v8zM1051 2276v-5h1v5zM1052 2276v-7h1v7zM1053 2276v-9h1v9zM1054 2276v-4h1v4zM1055 2276v-7h1v7zM1057 2276v-4h1v4zM1058 2276v-7h1v7zM1059 2276v-5h1v5zM1060 2276v-10h1v10zM1061 2276v-7h1v7zM1062 2276v-10h1v10zM1063 2276v-6h1v6zM1064 2276v-6h1v6zM1066 2276v-9h1v9zM1067 2276v-10h1v10zM1068 2276v-9h1v9zM1069 2276v-6h1v6zM1070 2276v-9h1v9zM1071 2276v-4h1v4zM1072 2276v-9h1v9zM1074 2276v-7h1v7zM1075 2276v-10h1v10zM1076 2276v-11h1v11zM1077 2276v-11h1v11zM1078 2276v-9h1v9zM1079 2276v-6h1v6zM1080 2276v-5h1v5zM1081 2276v-9h1v9zM1083 2276v-10h1v10zM1084 2276v-11h1v11zM1085 2276v-11h1v11zM1086 2276v-11h1v11zM1087 2276v-7h1v7zM1088 2276v-3h1v3zM1089 2276v-11h1v11zM1091 2276v-4h1v4zM1092 2276v-9h1v9zM1093 2276v-8h1v8zM1094 2276v-12h1v12zM1095 2276v-11h1v11zM1096 2276v-5h1v5zM1097 2276v-12h1v12zM1098 2276v-8h1v8zM1100 2276v-10h1v10zM1101 2276v-12h1v12zM1102 2276v-5h1v5zM1103 2276v-10h1v10zM1104 2276v-10h1v10zM1105 2276v-9h1v9zM1106 2276v-13h1v13zM1107 2276v-5h2v5zM1109 2276v-8h1v8zM1110 2276v-10h1v10zM1111 2276v-12h1v12zM1112 2276v-12h1v12zM1113 2276v-3h1v3zM1114 2276v-13h1v13zM1115 2276v-14h1v14zM1117 2276v-4h1v4zM1118 2276v-14h1v14zM1119 2276v-10h1v10zM1120 2276v-14h1v14zM1121 2276v-14h1v14zM1122 2276v-5h1v5zM1123 2276v-11h1v11zM1124 2276v-11h1v11zM1126 2276v-14h1v14zM1127 2276v-13h1v13zM1128 2276v-6h1v6zM1129 2276v-11h1v11zM1130 2276v-14h1v14zM1131 2276v-10h1v10zM1132 2276v-5h1v5zM1134 2276v-9h1v9zM1135 2276v-8h1v8zM1136 2276v-13h1v13zM1137 2276v-6h1v6zM1138 2276v-11h1v11zM1139 2276v-6h1v6zM1140 2276v-14h1v14zM1141 2276v-13h1v13zM1143 2276v-12h1v12zM1144 2276v-13h1v13zM1145 2276v-6h1v6zM1146 2276v-13h1v13zM1147 2276v-9h1v9zM1148 2276v-16h1v16zM1149 2276v-6h1v6zM1150 2276v-10h2v10zM1152 2276v-15h1v15zM1153 2276v-6h1v6zM1154 2276v-3h1v3zM1155 2276v-10h1v10zM1156 2276v-16h1v16zM1157 2276v-17h1v17zM1158 2276v-13h1v13zM1160 2276v-16h1v16zM1161 2276v-12h1v12zM1162 2276v-11h1v11zM1163 2276v-10h1v10zM1164 2276v-17h1v17zM1165 2276v-7h1v7zM1166 2276v-12h1v12zM1167 2276v-11h1v11zM1169 2276v-12h1v12zM1170 2276v-17h1v17zM1171 2276v-18h1v18zM1172 2276v-18h1v18zM1173 2276v-18h1v18zM1174 2276v-6h1v6zM1175 2276v-4h1v4zM1177 2276v-11h1v11zM1178 2276v-15h1v15zM1179 2276v-18h1v18zM1180 2276v-12h1v12zM1181 2276v-7h1v7zM1182 2276v-14h1v14zM1183 2276v-15h1v15zM1184 2276v-5h1v5zM1186 2276v-14h1v14zM1187 2276v-12h1v12zM1188 2276v-16h1v16zM1189 2276v-16h1v16zM1190 2276v-3h1v3zM1191 2276v-12h1v12zM1192 2276v-8h1v8zM1194 2276v-14h1v14zM1195 2276v-19h1v19zM1196 2276v-16h1v16zM1197 2276v-8h1v8zM1198 2276v-1h1v1zM1199 2276v-18h1v18zM1200 2276v-15h1v15zM1201 2276v-19h1v19zM1203 2276v-11h1v11zM1204 2276v-17h1v17zM1205 2276v-10h1v10zM1206 2276v-20h1v20zM1207 2276v-14h1v14zM1208 2276v-12h1v12zM1209 2276v-12h1v12zM1210 2276v-15h2v15zM1212 2276v-15h1v15zM1213 2276v-16h1v16zM1214 2276v-13h1v13zM1215 2276v-18h1v18zM1216 2276v-19h1v19zM1217 2276v-17h1v17zM1218 2276v-9h1v9zM1220 2276v-15h1v15zM1221 2276v-20h1v20zM1222 2276v-16h1v16zM1223 2276v-20h1v20zM1224 2276v-11h1v11zM1225 2276v-6h1v6zM1226 2276v-3h1v3zM1227 2276v-14h1v14zM1229 2276v-17h1v17zM1230 2276v-17h1v17zM1231 2276v-21h1v21zM1232 2276v-17h1v17zM1233 2276v-15h1v15zM1234 2276v-16h1v16zM1235 2276v-22h1v22zM1237 2276v-20h1v20zM1238 2276v-18h1v18zM1239 2276v-19h1v19zM1240 2276v-11h1v11zM1241 2276v-7h1v7zM1242 2276v-9h1v9zM1243 2276v-8h1v8zM1244 2276v-18h1v18zM1246 2276v-17h1v17zM1247 2276v-16h1v16zM1248 2276v-23h1v23zM1249 2276v-19h1v19zM1250 2276v-16h1v16zM1251 2276v-18h1v18zM1252 2276v-17h1v17zM1254 2276v-22h1v22zM1255 2276v-19h1v19zM1256 2276v-19h1v19zM1257 2276v-20h1v20zM1258 2276v-24h1v24zM1259 2276v-21h1v21zM1260 2276v-21h1v21zM1261 2276v-9h1v9zM1263 2276v-14h1v14zM1264 2276v-11h1v11zM1265 2276v-8h1v8zM1266 2276v-20h1v20zM1267 2276v-7h1v7zM1268 2276v-23h1v23zM1269 2276v-22h1v22zM1270 2276v-17h2v17zM1272 2276v-10h1v10zM1273 2276v-10h1v10zM1274 2276v-8h1v8zM1275 2276v-6h1v6zM1276 2276v-17h1v17zM1277 2276v-21h1v21zM1278 2276v-25h1v25zM1280 2276v-5h1v5zM1281 2276v-20h1v20zM1282 2276v-15h1v15zM1283 2276v-26h1v26zM1284 2276v-6h1v6zM1285 2276v-21h1v21zM1286 2276v-20h1v20zM1287 2276v-24h1v24zM1289 2276v-12h1v12zM1290 2276v-17h1v17zM1291 2276v-26h1v26zM1292 2276v-22h1v22zM1293 2276v-27h1v27zM1294 2276v-19h1v19zM1295 2276v-24h1v24zM1297 2276v-12h1v12zM1298 2276v-21h1v21zM1299 2276v-12h1v12zM1300 2276v-25h1v25zM1301 2276v-18h1v18zM1302 2276v-26h1v26zM1303 2276v-27h1v27zM1304 2276v-27h1v27zM1306 2276v-19h1v19zM1307 2276v-8h1v8zM1308 2276v-27h1v27zM1309 2276v-9h1v9zM1310 2276v-6h1v6zM1311 2276v-22h1v22zM1312 2276v-24h1v24zM1313 2276v-24h2v24zM1315 2276v-23h1v23zM1316 2276v-27h1v27zM1317 2276v-25h1v25zM1318 2276v-16h1v16zM1319 2276v-26h1v26zM1320 2276v-21h1v21zM1321 2276v-25h1v25zM1323 2276v-18h1v18zM1324 2276v-15h1v15zM1325 2276v-22h1v22zM1326 2276v-20h1v20zM1327 2276v-27h1v27zM1328 2276v-28h1v28zM1329 2276v-24h1v24zM1330 2276v-29h1v29zM1332 2276v-15h1v15zM1333 2276v-27h1v27zM1334 2276v-18h1v18zM1335 2276v-30h1v30zM1336 2276v-27h1v27zM1337 2276v-16h1v16zM1338 2276v-29h1v29zM1340 2276v-24h1v24zM1341 2276v-13h1v13zM1342 2276v-21h1v21zM1343 2276v-27h1v27zM1344 2276v-2h1v2zM1345 2276v-30h1v30zM1346 2276v-30h1v30zM1347 2276v-9h1v9zM1349 2276v-15h1v15zM1350 2276v-27h1v27zM1351 2276v-18h1v18zM1352 2276v-25h1v25zM1353 2276v-22h1v22zM1354 2276v-31h1v31zM1355 2276v-29h1v29zM1357 2276v-20h1v20zM1358 2276v-17h1v17zM1359 2276v-30h1v30zM1360 2276v-8h1v8zM1361 2276v-30h1v30zM1362 2276v-29h1v29zM1363 2276v-13h1v13zM1364 2276v-15h1v15zM1366 2276v-22h1v22zM1367 2276v-22h1v22zM1368 2276v-17h1v17zM1369 2276v-16h1v16zM1370 2276v-31h1v31zM1371 2276v-30h1v30zM1372 2276v-31h1v31zM1373 2276v-29h2v29zM1375 2276v-30h1v30zM1376 2276v-20h1v20zM1377 2276v-12h1v12zM1378 2276v-22h1v22zM1379 2276v-12h1v12zM1380 2276v-25h1v25zM1381 2276v-20h1v20zM1383 2276v-3h1v3zM1384 2276v-32h1v32zM1385 2276v-30h1v30zM1386 2276v-21h1v21zM1387 2276v-32h1v32zM1388 2276v-13h1v13zM1389 2276v-29h1v29zM1390 2276v-23h1v23zM1392 2276v-36h1v36zM1393 2276v-33h1v33zM1394 2276v-25h1v25zM1395 2276v-22h1v22zM1396 2276v-31h1v31zM1397 2276v-33h1v33zM1398 2276v-29h1v29zM1400 2276v-37h1v37zM1401 2276v-35h1v35zM1402 2276v-30h1v30zM1403 2276v-14h1v14zM1404 2276v-36h1v36zM1405 2276v-15h1v15zM1406 2276v-32h1v32zM1407 2276v-37h1v37zM1409 2276v-37h1v37zM1410 2276v-23h1v23zM1411 2276v-29h1v29zM1412 2276v-31h1v31zM1413 2276v-26h1v26zM1414 2276v-25h1v25zM1415 2276v-30h1v30zM1417 2276v-10h1v10zM1418 2276v-35h1v35zM1419 2276v-25h1v25zM1420 2276v-25h1v25zM1421 2276v-35h1v35zM1422 2276v-34h1v34zM1423 2276v-17h1v17zM1424 2276v-29h1v29zM1426 2276v-34h1v34zM1427 2276v-40h1v40zM1428 2276v-25h1v25zM1429 2276v-26h1v26zM1430 2276v-40h1v40zM1431 2276v-39h1v39zM1432 2276v-34h1v34zM1433 2276v-35h2v35zM1435 2276v-34h1v34zM1436 2276v-41h1v41zM1437 2276v-33h1v33zM1438 2276v-26h1v26zM1439 2276v-35h1v35zM1440 2276v-18h1v18zM1441 2276v-34h1v34zM1443 2276v-37h1v37zM1444 2276v-28h1v28zM1445 2276v-27h1v27zM1446 2276v-40h1v40zM1447 2276v-27h1v27zM1448 2276v-20h1v20zM1449 2276v-33h1v33zM1450 2276v-23h1v23zM1452 2276v-28h1v28zM1453 2276v-33h1v33zM1454 2276v-32h1v32zM1455 2276v-37h1v37zM1456 2276v-30h1v30zM1457 2276v-24h1v24zM1458 2276v-42h1v42zM1460 2276v-44h1v44zM1461 2276v-22h1v22zM1462 2276v-16h1v16zM1463 2276v-41h1v41zM1464 2276v-11h1v11zM1465 2276v-30h1v30zM1466 2276v-36h1v36zM1467 2276v-45h1v45zM1469 2276v-36h1v36zM1470 2276v-45h1v45zM1471 2276v-34h1v34zM1472 2276v-27h1v27zM1473 2276v-10h1v10zM1474 2276v-10h1v10zM1475 2276v-31h1v31zM1476 2276v-38h2v38zM1478 2276v-46h1v46zM1479 2276v-7h1v7zM1480 2276v-33h1v33zM1481 2276v-48h1v48zM1482 2276v-48h1v48zM1483 2276v-27h1v27zM1484 2276v-36h1v36zM1486 2276v-27h1v27zM1487 2276v-28h1v28zM1488 2276v-27h1v27zM1489 2276v-50h1v50zM1490 2276v-45h1v45zM1491 2276v-9h1v9zM1492 2276v-12h1v12zM1493 2276v-33h1v33zM1495 2276v-28h1v28zM1496 2276v-50h1v50zM1497 2276v-51h1v51zM1498 2276v-27h1v27zM1499 2276v-32h1v32zM1500 2276v-42h1v42zM1501 2276v-33h1v33zM1503 2276v-40h1v40zM1504 2276v-47h1v47zM1505 2276v-37h1v37zM1506 2276v-34h1v34zM1507 2276v-33h1v33zM1508 2276v-46h1v46zM1509 2276v-42h1v42zM1510 2276v-34h1v34zM1512 2276v-38h1v38zM1513 2276v-39h1v39zM1514 2276v-6h1v6zM1515 2276v-51h1v51zM1516 2276v-45h1v45zM1517 2276v-35h1v35zM1518 2276v-21h1v21zM1520 2276v-30h1v30zM1521 2276v-49h1v49zM1522 2276v-55h1v55zM1523 2276v-54h1v54zM1524 2276v-45h1v45zM1525 2276v-55h1v55zM1526 2276v-18h1v18zM1527 2276v-25h1v25zM1529 2276v-26h1v26zM1530 2276v-40h1v40zM1531 2276v-38h1v38zM1532 2276v-29h1v29zM1533 2276v-32h1v32zM1534 2276v-8h1v8zM1535 2276v-50h1v50zM1536 2276v-55h2v55zM1538 2276v-12h1v12zM1539 2276v-24h1v24zM1540 2276v-42h1v42zM1541 2276v-52h1v52zM1542 2276v-31h1v31zM1543 2276v-53h1v53zM1544 2276v-58h1v58zM1546 2276v-41h1v41zM1547 2276v-58h1v58zM1548 2276v-48h1v48zM1549 2276v-38h1v38zM1550 2276v-20h1v20zM1551 2276v-20h1v20zM1552 2276v-3h1v3zM1553 2276v-48h1v48zM1555 2276v-63h1v63zM1556 2276v-54h1v54zM1557 2276v-62h1v62zM1558 2276v-53h1v53zM1559 2276v-54h1v54zM1560 2276v-36h1v36zM1561 2276v-42h1v42zM1563 2276v-47h1v47zM1564 2276v-64h1v64zM1565 2276v-32h1v32zM1566 2276v-58h1v58zM1567 2276v-50h1v50zM1568 2276v-49h1v49zM1569 2276v-35h1v35zM1570 2276v-34h1v34zM1572 2276v-24h1v24zM1573 2276v-66h1v66zM1574 2276v-69h1v69zM1575 2276v-56h1v56zM1576 2276v-38h1v38zM1577 2276v-16h1v16zM1578 2276v-58h1v58zM1580 2276v-49h1v49zM1581 2276v-40h1v40zM1582 2276v-17h1v17zM1583 2276v-63h1v63zM1584 2276v-49h1v49zM1585 2276v-18h1v18zM1586 2276v-12h1v12zM1587 2276v-66h1v66zM1589 2276v-67h1v67zM1590 2276v-54h1v54zM1591 2276v-76h1v76zM1592 2276v-69h1v69zM1593 2276v-30h1v30zM1594 2276v-52h1v52zM1595 2276v-50h1v50zM1596 2276v-48h2v48zM1598 2276v-71h1v71zM1599 2276v-38h1v38zM1600 2276v-76h1v76zM1601 2276v-51h1v51zM1602 2276v-48h1v48zM1603 2276v-15h1v15zM1604 2276v-72h1v72zM1606 2276v-30h1v30zM1607 2276v-73h1v73zM1608 2276v-58h1v58zM1609 2276v-78h1v78zM1610 2276v-57h1v57zM1611 2276v-68h1v68zM1612 2276v-56h1v56zM1613 2276v-73h1v73zM1615 2276v-47h1v47zM1616 2276v-48h1v48zM1617 2276v-54h1v54zM1618 2276v-63h1v63zM1619 2276v-60h1v60zM1620 2276v-81h1v81zM1621 2276v-64h1v64zM1623 2276v-87h1v87zM1624 2276v-50h1v50zM1625 2276v-83h1v83zM1626 2276v-35h1v35zM1627 2276v-46h1v46zM1628 2276v-95h1v95zM1629 2276v-90h1v90zM1630 2276v-77h1v77zM1632 2276v-66h1v66zM1633 2276v-37h1v37zM1634 2276v-63h1v63zM1635 2276v-92h1v92zM1636 2276v-73h1v73zM1637 2276v-32h1v32zM1638 2276v-52h1v52zM1639 2276v-57h2v57zM1641 2276v-98h1v98zM1642 2276v-86h1v86zM1643 2276v-75h1v75zM1644 2276v-22h1v22zM1645 2276v-81h1v81zM1646 2276v-97h1v97zM1647 2276v-93h1v93zM1649 2276v-41h1v41zM1650 2276v-69h1v69zM1651 2276v-92h1v92zM1652 2276v-79h1v79zM1653 2276v-90h1v90zM1654 2276v-101h1v101zM1655 2276v-97h1v97zM1656 2276v-47h1v47zM1658 2276v-104h1v104zM1659 2276v-48h1v48zM1660 2276v-37h1v37zM1661 2276v-97h1v97zM1662 2276v-80h1v80zM1663 2276v-113h1v113zM1664 2276v-70h1v70zM1666 2276v-104h1v104zM1667 2276v-56h1v56zM1668 2276v-99h1v99zM1669 2276v-116h1v116zM1670 2276v-117h1v117zM1671 2276v-66h1v66zM1672 2276v-91h1v91zM1673 2276v-110h1v110zM1675 2276v-61h1v61zM1676 2276v-119h1v119zM1677 2276v-109h1v109zM1678 2276v-99h1v99zM1679 2276v-59h1v59zM1680 2276v-117h1v117zM1681 2276v-84h1v84zM1683 2276v-113h1v113zM1684 2276v-47h1v47zM1685 2276v-16h1v16zM1686 2276v-80h1v80zM1687 2276v-123h1v123zM1688 2276v-90h1v90zM1689 2276v-129h1v129zM1690 2276v-85h1v85zM1692 2276v-117h1v117zM1693 2276v-54h1v54zM1694 2276v-115h1v115zM1695 2276v-133h1v133zM1696 2276v-94h1v94zM1697 2276v-71h1v71zM1698 2276v-129h1v129zM1699 2276v-123h2v123zM1701 2276v-84h1v84zM1702 2276v-104h1v104zM1703 2276v-72h1v72zM1704 2276v-78h1v78zM1705 2276v-94h1v94zM1706 2276v-85h1v85zM1707 2276v-108h1v108zM1709 2276v-138h1v138zM1710 2276v-157h1v157zM1711 2276v-140h1v140zM1712 2276v-111h1v111zM1713 2276v-47h1v47zM1714 2276v-105h1v105zM1715 2276v-54h1v54zM1716 2276v-114h1v114zM1718 2276v-112h1v112zM1719 2276v-93h1v93zM1720 2276v-102h1v102zM1721 2276v-182h1v182zM1722 2276v-46h1v46zM1723 2276v-182h1v182zM1724 2276v-73h1v73zM1726 2276v-134h1v134zM1727 2276v-202h1v202zM1728 2276v-195h1v195zM1729 2276v-149h1v149zM1730 2276v-204h1v204zM1731 2276v-213h1v213zM1732 2276v-234h1v234zM1733 2276v-178h1v178zM1735 2276v-212h1v212zM1736 2276v-92h1v92zM1737 2276v-237h1v237zM1738 2276v-200h1v200zM1739 2276v-229h1v229zM1740 2276v-247h1v247zM1741 2276v-228h1v228zM1743 2276v-162h1v162zM1744 2276v-262h1v262zM1745 2276v-47h1v47zM1746 2276v-266h1v266zM1747 2276v-298h1v298zM1748 2276v-335h1v335zM1749 2276v-362h1v362zM1750 2276v-308h1v308zM1752 2276v-151h1v151zM1753 2276v-93h1v93zM1754 2276v-354h1v354zM1755 2276v-615h1v615zM1756 2276v-450h1v450z"/>
<path fill="#F0E442" d="M968 2275v-1h1v1zM977 2274v-1h1v1zM980 2274v-1h1v1zM984 2274v-1h1v1zM987 2273v-1h2v1zM989 2273v-1h1v1zM992 2275v-2h1v2zM994 2274v-1h1v1zM999 2273v-1h1v1zM1001 2273v-1h1v1zM1003 2272v-1h1v1zM1008 2272v-1h1v1zM1011 2272v-1h1v1zM1014 2275v-1h1v1zM1016 2272v-2h1v2zM1021 2271v-1h1v1zM1023 2271v-1h1v1zM1025 2270v-1h1v1zM1027 2273v-3h1v3zM1031 2275v-5h1v5zM1033 2273v-2h1v2zM1034 2271v-2h1v2zM1036 2271v-2h1v2zM1037 2271v-1h1v1zM1038 2269v-1h1v1zM1042 2270v-3h1v3zM1043 2270v-3h1v3zM1044 2270v-1h1v1zM1045 2270v-1h1v1zM1046 2271v-3h1v3zM1051 2271v-3h1v3zM1053 2267v-1h1v1zM1054 2272v-4h1v4zM1055 2269v-2h1v2zM1057 2272v-2h1v2zM1058 2269v-1h1v1zM1059 2271v-4h1v4zM1063 2270v-3h1v3zM1066 2267v-1h1v1zM1070 2267v-1h1v1zM1071 2272v-2h1v2zM1072 2267v-1h1v1zM1075 2266v-1h1v1zM1079 2270v-4h1v4zM1080 2271v-3h1v3zM1083 2266v-1h1v1zM1084 2265v-1h1v1zM1086 2265v-1h1v1zM1087 2269v-3h1v3zM1088 2273v-2h1v2zM1091 2272v-1h1v1zM1095 2265v-1h1v1zM1096 2271v-5h1v5zM1097 2264v-1h1v1zM1098 2268v-1h1v1zM1100 2266v-1h1v1zM1101 2264v-1h1v1zM1102 2271v-4h1v4zM1104 2266v-2h1v2zM1105 2267v-3h1v3zM1107 2271v-2h2v2zM1109 2268v-1h1v1zM1110 2266v-2h1v2zM1113 2273v-8h1v8zM1117 2272v-6h1v6zM1119 2266v-1h1v1zM1122 2271v-2h1v2zM1123 2265v-3h1v3zM1124 2265v-2h1v2zM1128 2270v-3h1v3zM1129 2265v-3h1v3zM1130 2262v-1h1v1zM1131 2266v-3h1v3zM1132 2271v-7h1v7zM1134 2267v-4h1v4zM1136 2263v-2h1v2zM1137 2270v-1h1v1zM1138 2265v-1h1v1zM1139 2270v-1h1v1zM1140 2262v-1h1v1zM1141 2263v-2h1v2zM1144 2263v-2h1v2zM1146 2263v-1h1v1zM1149 2270v-3h1v3zM1150 2266v-4h2v4zM1152 2261v-1h1v1zM1153 2270v-10h1v10zM1154 2273v-8h1v8zM1155 2266v-6h1v6zM1158 2263v-3h1v3zM1160 2260v-1h1v1zM1161 2264v-3h1v3zM1165 2269v-5h1v5zM1167 2265v-3h1v3zM1169 2264v-5h1v5zM1174 2270v-10h1v10zM1175 2272v-2h1v2zM1177 2265v-3h1v3zM1178 2261v-2h1v2zM1180 2264v-4h1v4zM1181 2269v-4h1v4zM1182 2262v-1h1v1zM1183 2261v-2h1v2zM1184 2271v-8h1v8zM1186 2262v-4h1v4zM1187 2264v-6h1v6zM1188 2260v-2h1v2zM1190 2273v-6h1v6zM1191 2264v-6h1v6zM1196 2260v-3h1v3zM1197 2268v-8h1v8zM1201 2257v-1h1v1zM1203 2265v-5h1v5zM1204 2259v-1h1v1zM1205 2266v-4h1v4zM1207 2262v-4h1v4zM1209 2264v-2h1v2zM1210 2261v-5h2v5zM1212 2261v-1h1v1zM1213 2260v-1h1v1zM1214 2263v-4h1v4zM1216 2257v-1h1v1zM1217 2259v-1h1v1zM1218 2267v-6h1v6zM1220 2261v-5h1v5zM1221 2256v-1h1v1zM1222 2260v-3h1v3zM1223 2256v-1h1v1zM1224 2265v-9h1v9zM1225 2270v-3h1v3zM1226 2273v-15h1v15zM1227 2262v-1h1v1zM1229 2259v-2h1v2zM1230 2259v-1h1v1zM1232 2259v-2h1v2zM1233 2261v-6h1v6zM1237 2256v-2h1v2zM1238 2258v-1h1v1zM1239 2257v-2h1v2zM1240 2265v-4h1v4zM1241 2269v-10h1v10zM1243 2268v-7h1v7zM1244 2258v-3h1v3zM1246 2259v-5h1v5zM1249 2257v-4h1v4zM1250 2260v-7h1v7zM1251 2258v-3h1v3zM1252 2259v-7h1v7zM1254 2254v-1h1v1zM1255 2257v-2h1v2zM1256 2257v-4h1v4zM1259 2255v-3h1v3zM1260 2255v-3h1v3zM1263 2262v-10h1v10zM1264 2265v-2h1v2zM1266 2256v-4h1v4zM1267 2269v-1h1v1zM1268 2253v-1h1v1zM1269 2254v-1h1v1zM1270 2259v-4h2v4zM1272 2266v-4h1v4zM1274 2268v-12h1v12zM1275 2270v-18h1v18zM1276 2259v-8h1v8zM1277 2255v-4h1v4zM1280 2271v-17h1v17zM1281 2256v-2h1v2zM1282 2261v-8h1v8zM1284 2270v-7h1v7zM1285 2255v-4h1v4zM1286 2256v-6h1v6zM1287 2252v-1h1v1zM1289 2264v-12h1v12zM1290 2259v-5h1v5zM1291 2250v-1h1v1zM1294 2257v-1h1v1zM1297 2264v-3h1v3zM1300 2251v-1h1v1zM1301 2258v-9h1v9zM1302 2250v-1h1v1zM1306 2257v-7h1v7zM1307 2268v-5h1v5zM1308 2249v-1h1v1zM1309 2267v-3h1v3zM1310 2270v-4h1v4zM1311 2254v-1h1v1zM1312 2252v-4h1v4zM1315 2253v-2h1v2zM1316 2249v-1h1v1zM1317 2251v-1h1v1zM1318 2260v-5h1v5zM1319 2250v-2h1v2zM1320 2255v-5h1v5zM1321 2251v-1h1v1zM1323 2258v-11h1v11zM1324 2261v-10h1v10zM1325 2254v-7h1v7zM1326 2256v-6h1v6zM1329 2252v-2h1v2zM1332 2261v-10h1v10zM1333 2249v-1h1v1zM1334 2258v-4h1v4zM1336 2249v-1h1v1zM1337 2260v-7h1v7zM1341 2263v-6h1v6zM1343 2249v-1h1v1zM1344 2274v-27h1v27zM1347 2267v-13h1v13zM1349 2261v-1h1v1zM1350 2249v-1h1v1zM1352 2251v-1h1v1zM1353 2254v-5h1v5zM1355 2247v-1h1v1zM1357 2256v-8h1v8zM1358 2259v-10h1v10zM1363 2263v-10h1v10zM1366 2254v-1h1v1zM1367 2254v-5h1v5zM1368 2259v-8h1v8zM1370 2245v-2h1v2zM1371 2246v-3h1v3zM1372 2245v-1h1v1zM1373 2247v-2h2v2zM1375 2246v-2h1v2zM1377 2264v-13h1v13zM1378 2254v-7h1v7zM1379 2264v-5h1v5zM1380 2251v-8h1v8zM1384 2244v-1h1v1zM1385 2246v-5h1v5zM1386 2255v-13h1v13zM1387 2244v-3h1v3zM1388 2263v-16h1v16zM1389 2247v-2h1v2zM1392 2240v-1h1v1zM1393 2243v-2h1v2zM1395 2254v-1h1v1zM1397 2243v-1h1v1zM1398 2247v-7h1v7zM1400 2239v-1h1v1zM1402 2246v-8h1v8zM1403 2262v-13h1v13zM1404 2240v-2h1v2zM1406 2244v-4h1v4zM1409 2239v-1h1v1zM1410 2253v-15h1v15zM1411 2247v-8h1v8zM1412 2245v-6h1v6zM1413 2250v-7h1v7zM1414 2251v-6h1v6zM1415 2246v-2h1v2zM1417 2266v-20h1v20zM1418 2241v-3h1v3zM1419 2251v-14h1v14zM1421 2241v-1h1v1zM1422 2242v-4h1v4zM1423 2259v-2h1v2zM1424 2247v-11h1v11zM1426 2242v-2h1v2zM1427 2236v-1h1v1zM1428 2251v-9h1v9zM1429 2250v-3h1v3zM1430 2236v-1h1v1zM1431 2237v-1h1v1zM1432 2242v-7h1v7zM1433 2241v-1h2v1zM1435 2242v-8h1v8zM1436 2235v-1h1v1zM1437 2243v-1h1v1zM1438 2250v-3h1v3zM1439 2241v-4h1v4zM1440 2258v-14h1v14zM1441 2242v-6h1v6zM1444 2248v-8h1v8zM1445 2249v-1h1v1zM1447 2249v-7h1v7zM1448 2256v-5h1v5zM1449 2243v-3h1v3zM1450 2253v-8h1v8zM1452 2248v-7h1v7zM1453 2243v-4h1v4zM1454 2244v-12h1v12zM1455 2239v-4h1v4zM1457 2252v-12h1v12zM1458 2234v-3h1v3zM1460 2232v-1h1v1zM1461 2254v-8h1v8zM1462 2260v-26h1v26zM1463 2235v-4h1v4zM1464 2265v-35h1v35zM1466 2240v-6h1v6zM1467 2231v-2h1v2zM1469 2240v-3h1v3zM1471 2242v-1h1v1zM1472 2249v-4h1v4zM1473 2266v-25h1v25zM1474 2266v-20h1v20zM1475 2245v-6h1v6zM1476 2238v-1h2v1zM1479 2269v-30h1v30zM1480 2243v-7h1v7zM1481 2228v-1h1v1zM1483 2249v-2h1v2zM1484 2240v-8h1v8zM1486 2249v-1h1v1zM1487 2248v-2h1v2zM1488 2249v-20h1v20zM1490 2231v-3h1v3zM1491 2267v-14h1v14zM1495 2248v-10h1v10zM1498 2249v-9h1v9zM1499 2244v-11h1v11zM1500 2234v-5h1v5zM1504 2229v-2h1v2zM1505 2239v-7h1v7zM1506 2242v-8h1v8zM1507 2243v-12h1v12zM1508 2230v-1h1v1zM1509 2234v-4h1v4zM1512 2238v-4h1v4zM1513 2237v-9h1v9zM1514 2270v-15h1v15zM1515 2225v-2h1v2zM1516 2231v-2h1v2zM1517 2241v-4h1v4zM1520 2246v-20h1v20zM1522 2221v-1h1v1zM1523 2222v-2h1v2zM1524 2231v-4h1v4zM1525 2221v-1h1v1zM1526 2258v-28h1v28zM1527 2251v-19h1v19zM1529 2250v-17h1v17zM1530 2236v-3h1v3zM1531 2238v-6h1v6zM1532 2247v-16h1v16zM1533 2244v-2h1v2zM1535 2226v-4h1v4zM1536 2221v-1h2v1zM1538 2264v-43h1v43zM1539 2252v-25h1v25zM1540 2234v-14h1v14zM1541 2224v-8h1v8zM1542 2245v-8h1v8zM1543 2223v-3h1v3zM1544 2218v-2h1v2zM1548 2228v-3h1v3zM1549 2238v-9h1v9zM1551 2256v-2h1v2zM1552 2273v-33h1v33zM1553 2228v-10h1v10zM1556 2222v-8h1v8zM1557 2214v-1h1v1zM1558 2223v-3h1v3zM1559 2222v-4h1v4zM1560 2240v-23h1v23zM1561 2234v-13h1v13zM1563 2229v-7h1v7zM1565 2244v-31h1v31zM1566 2218v-3h1v3zM1567 2226v-5h1v5zM1568 2227v-17h1v17zM1569 2241v-17h1v17zM1570 2242v-19h1v19zM1572 2252v-6h1v6zM1573 2210v-2h1v2zM1576 2238v-9h1v9zM1577 2260v-41h1v41zM1578 2218v-13h1v13zM1580 2227v-15h1v15zM1581 2236v-3h1v3zM1583 2213v-1h1v1zM1584 2227v-6h1v6zM1585 2258v-36h1v36zM1586 2264v-6h1v6zM1587 2210v-1h1v1zM1589 2209v-2h1v2zM1590 2222v-3h1v3zM1592 2207v-5h1v5zM1593 2246v-44h1v44zM1594 2224v-7h1v7zM1595 2226v-13h1v13zM1596 2228v-1h2v1zM1598 2205v-4h1v4zM1599 2238v-3h1v3zM1600 2200v-4h1v4zM1601 2225v-25h1v25zM1602 2228v-16h1v16zM1603 2261v-15h1v15zM1604 2204v-11h1v11zM1606 2246v-36h1v36zM1608 2218v-16h1v16zM1609 2198v-3h1v3zM1610 2219v-21h1v21zM1611 2208v-18h1v18zM1612 2220v-11h1v11zM1613 2203v-8h1v8zM1615 2229v-18h1v18zM1616 2228v-35h1v35zM1617 2222v-15h1v15zM1618 2213v-9h1v9zM1619 2216v-17h1v17zM1620 2195v-11h1v11zM1623 2189v-3h1v3zM1624 2226v-2h1v2zM1625 2193v-6h1v6zM1626 2241v-49h1v49zM1629 2186v-6h1v6zM1630 2199v-8h1v8zM1632 2210v-4h1v4zM1633 2239v-33h1v33zM1634 2213v-10h1v10zM1636 2203v-3h1v3zM1637 2244v-65h1v65zM1638 2224v-20h1v20zM1639 2219v-39h2v39zM1641 2178v-2h1v2zM1642 2190v-4h1v4zM1643 2201v-27h1v27zM1644 2254v-55h1v55zM1645 2195v-5h1v5zM1647 2183v-2h1v2zM1649 2235v-45h1v45zM1650 2207v-2h1v2zM1651 2184v-1h1v1zM1652 2197v-14h1v14zM1653 2186v-7h1v7zM1655 2179v-6h1v6zM1656 2229v-7h1v7zM1658 2172v-1h1v1zM1659 2228v-51h1v51zM1660 2239v-73h1v73zM1661 2179v-12h1v12zM1662 2196v-5h1v5zM1664 2206v-13h1v13zM1666 2172v-1h1v1zM1667 2220v-20h1v20zM1668 2177v-17h1v17zM1670 2159v-2h1v2zM1671 2210v-7h1v7zM1672 2185v-7h1v7zM1673 2166v-10h1v10zM1675 2215v-14h1v14zM1678 2177v-20h1v20zM1679 2217v-66h1v66zM1681 2192v-21h1v21zM1683 2163v-1h1v1zM1684 2229v-1h1v1zM1685 2260v-7h1v7zM1686 2196v-44h1v44zM1687 2153v-4h1v4zM1688 2186v-46h1v46zM1689 2147v-3h1v3zM1690 2191v-30h1v30zM1692 2159v-23h1v23zM1693 2222v-46h1v46zM1694 2161v-2h1v2zM1696 2182v-21h1v21zM1697 2205v-34h1v34zM1698 2147v-3h1v3zM1699 2153v-21h2v21zM1701 2192v-45h1v45zM1702 2172v-45h1v45zM1703 2204v-54h1v54zM1704 2198v-57h1v57zM1705 2182v-24h1v24zM1706 2191v-67h1v67zM1707 2168v-3h1v3zM1709 2138v-22h1v22zM1710 2119v-1h1v1zM1711 2136v-7h1v7zM1714 2171v-26h1v26zM1715 2222v-97h1v97zM1716 2162v-37h1v37zM1718 2164v-47h1v47zM1719 2183v-8h1v8zM1720 2174v-22h1v22zM1721 2094v-4h1v4zM1722 2230v-92h1v92zM1723 2094v-5h1v5zM1727 2074v-1h1v1zM1728 2081v-15h1v15zM1729 2127v-33h1v33zM1730 2072v-9h1v9zM1732 2042v-1h1v1zM1733 2098v-54h1v54zM1735 2064v-27h1v27zM1736 2184v-145h1v145zM1737 2039v-18h1v18zM1738 2076v-33h1v33zM1739 2047v-7h1v7zM1740 2029v-7h1v7zM1741 2048v-22h1v22zM1743 2114v-39h1v39zM1744 2014v-24h1v24zM1745 2229v-109h1v109zM1746 2010v-38h1v38zM1747 1978v-3h1v3zM1748 1941v-15h1v15zM1749 1914v-14h1v14zM1750 1968v-52h1v52zM1752 2125v-51h1v51zM1753 2183v-12h1v12zM1754 1922v-32h1v32zM1756 1826v-216h1v216z"/>
<path fill="#0072B2" d="M964 2275v-1h1v1zM974 2274v-1h1v1zM983 2274v-2h1v2zM984 2273v-1h1v1zM985 2274v-2h1v2zM992 2273v-1h1v1zM993 2274v-3h1v3zM994 2273v-2h1v2zM995 2272v-1h1v1zM998 2272v-1h1v1zM999 2272v-1h1v1zM1001 2272v-1h1v1zM1002 2272v-1h1v1zM1003 2271v-1h1v1zM1004 2271v-1h1v1zM1006 2271v-1h1v1zM1008 2271v-1h1v1zM1010 2271v-1h1v1zM1011 2271v-1h1v1zM1014 2274v-4h1v4zM1015 2270v-1h1v1zM1016 2270v-1h1v1zM1017 2270v-1h1v1zM1018 2270v-1h1v1zM1020 2270v-1h1v1zM1021 2270v-1h1v1zM1023 2270v-1h1v1zM1026 2272v-3h1v3zM1027 2270v-2h1v2zM1028 2269v-1h1v1zM1031 2270v-2h1v2zM1032 2269v-1h1v1zM1033 2271v-3h1v3zM1034 2269v-1h1v1zM1036 2269v-1h1v1zM1037 2270v-2h1v2zM1038 2268v-1h1v1zM1040 2270v-3h1v3zM1044 2269v-2h1v2zM1045 2269v-2h1v2zM1046 2268v-1h1v1zM1047 2269v-2h2v2zM1050 2268v-1h1v1zM1051 2268v-1h1v1zM1052 2269v-2h1v2zM1054 2268v-2h1v2zM1055 2267v-1h1v1zM1057 2270v-4h1v4zM1058 2268v-2h1v2zM1059 2267v-1h1v1zM1061 2269v-3h1v3zM1063 2267v-1h1v1zM1064 2270v-4h1v4zM1068 2267v-2h1v2zM1069 2270v-5h1v5zM1070 2266v-1h1v1zM1071 2270v-5h1v5zM1072 2266v-1h1v1zM1074 2269v-4h1v4zM1078 2267v-2h1v2zM1079 2266v-1h1v1zM1080 2268v-3h1v3zM1081 2267v-2h1v2zM1083 2265v-1h1v1zM1085 2265v-1h1v1zM1087 2266v-2h1v2zM1088 2271v-7h1v7zM1089 2265v-1h1v1zM1091 2271v-7h1v7zM1092 2267v-3h1v3zM1093 2268v-4h1v4zM1096 2266v-2h1v2zM1098 2267v-4h1v4zM1100 2265v-2h1v2zM1102 2267v-4h1v4zM1103 2266v-3h1v3zM1104 2264v-1h1v1zM1105 2264v-1h1v1zM1107 2269v-6h2v6zM1109 2267v-4h1v4zM1110 2264v-1h1v1zM1111 2264v-1h1v1zM1112 2264v-2h1v2zM1113 2265v-3h1v3zM1114 2263v-1h1v1zM1117 2266v-4h1v4zM1119 2265v-3h1v3zM1122 2269v-7h1v7zM1124 2263v-1h1v1zM1126 2262v-1h1v1zM1127 2263v-2h1v2zM1128 2267v-6h1v6zM1129 2262v-1h1v1zM1131 2263v-2h1v2zM1132 2264v-3h1v3zM1134 2263v-2h1v2zM1135 2268v-7h1v7zM1137 2269v-8h1v8zM1138 2264v-3h1v3zM1139 2269v-8h1v8zM1140 2261v-1h1v1zM1141 2261v-1h1v1zM1143 2264v-4h1v4zM1144 2261v-1h1v1zM1145 2270v-10h1v10zM1146 2262v-2h1v2zM1147 2267v-7h1v7zM1149 2267v-7h1v7zM1150 2262v-2h2v2zM1154 2265v-6h1v6zM1155 2260v-1h1v1zM1156 2260v-1h1v1zM1158 2260v-1h1v1zM1161 2261v-2h1v2zM1162 2265v-6h1v6zM1163 2266v-7h1v7zM1165 2264v-5h1v5zM1166 2264v-5h1v5zM1167 2262v-3h1v3zM1169 2259v-1h1v1zM1170 2259v-1h1v1zM1174 2260v-2h1v2zM1175 2270v-12h1v12zM1177 2262v-4h1v4zM1178 2259v-1h1v1zM1180 2260v-2h1v2zM1181 2265v-7h1v7zM1182 2261v-4h1v4zM1183 2259v-2h1v2zM1184 2263v-6h1v6zM1186 2258v-1h1v1zM1187 2258v-1h1v1zM1188 2258v-1h1v1zM1189 2260v-3h1v3zM1190 2267v-10h1v10zM1191 2258v-1h1v1zM1192 2268v-11h1v11zM1194 2262v-5h1v5zM1197 2260v-4h1v4zM1198 2275v-19h1v19zM1199 2258v-2h1v2zM1200 2261v-5h1v5zM1203 2260v-4h1v4zM1204 2258v-2h1v2zM1205 2262v-6h1v6zM1207 2258v-2h1v2zM1208 2264v-8h1v8zM1209 2262v-7h1v7zM1210 2256v-1h2v1zM1212 2260v-5h1v5zM1213 2259v-4h1v4zM1214 2259v-4h1v4zM1215 2258v-3h1v3zM1216 2256v-1h1v1zM1217 2258v-3h1v3zM1218 2261v-6h1v6zM1220 2256v-1h1v1zM1222 2257v-2h1v2zM1223 2255v-1h1v1zM1224 2256v-2h1v2zM1225 2267v-13h1v13zM1226 2258v-4h1v4zM1227 2261v-7h1v7zM1229 2257v-3h1v3zM1230 2258v-4h1v4zM1231 2255v-1h1v1zM1232 2257v-3h1v3zM1233 2255v-1h1v1zM1234 2260v-6h1v6zM1235 2254v-1h1v1zM1237 2254v-1h1v1zM1238 2257v-4h1v4zM1239 2255v-2h1v2zM1240 2261v-8h1v8zM1241 2259v-6h1v6zM1242 2267v-14h1v14zM1243 2261v-8h1v8zM1244 2255v-2h1v2zM1246 2254v-1h1v1zM1247 2260v-7h1v7zM1249 2253v-1h1v1zM1250 2253v-1h1v1zM1251 2255v-3h1v3zM1254 2253v-1h1v1zM1255 2255v-3h1v3zM1256 2253v-1h1v1zM1257 2256v-4h1v4zM1261 2267v-16h1v16zM1263 2252v-1h1v1zM1264 2263v-12h1v12zM1265 2268v-17h1v17zM1266 2252v-1h1v1zM1267 2268v-17h1v17zM1268 2252v-1h1v1zM1269 2253v-2h1v2zM1270 2255v-4h2v4zM1272 2262v-11h1v11zM1273 2266v-15h1v15zM1274 2256v-5h1v5zM1275 2252v-2h1v2zM1276 2251v-1h1v1zM1277 2251v-1h1v1zM1278 2251v-1h1v1zM1280 2254v-4h1v4zM1281 2254v-4h1v4zM1282 2253v-3h1v3zM1284 2263v-13h1v13zM1285 2251v-1h1v1zM1287 2251v-1h1v1zM1289 2252v-3h1v3zM1290 2254v-5h1v5zM1292 2254v-5h1v5zM1294 2256v-7h1v7zM1295 2252v-3h1v3zM1297 2261v-12h1v12zM1298 2255v-6h1v6zM1299 2264v-15h1v15zM1300 2250v-1h1v1zM1303 2249v-1h1v1zM1304 2249v-1h1v1zM1306 2250v-2h1v2zM1307 2263v-15h1v15zM1309 2264v-16h1v16zM1310 2266v-18h1v18zM1311 2253v-5h1v5zM1313 2252v-4h2v4zM1315 2251v-3h1v3zM1317 2250v-2h1v2zM1318 2255v-8h1v8zM1319 2248v-1h1v1zM1320 2250v-3h1v3zM1321 2250v-3h1v3zM1324 2251v-4h1v4zM1326 2250v-3h1v3zM1327 2249v-2h1v2zM1328 2248v-1h1v1zM1329 2250v-3h1v3zM1332 2251v-4h1v4zM1333 2248v-2h1v2zM1334 2254v-8h1v8zM1336 2248v-2h1v2zM1337 2253v-7h1v7zM1338 2247v-1h1v1zM1340 2252v-6h1v6zM1341 2257v-11h1v11zM1342 2255v-9h1v9zM1343 2248v-2h1v2zM1344 2247v-1h1v1zM1346 2246v-1h1v1zM1347 2254v-9h1v9zM1349 2260v-15h1v15zM1350 2248v-3h1v3zM1351 2258v-13h1v13zM1352 2250v-5h1v5zM1353 2249v-4h1v4zM1355 2246v-1h1v1zM1357 2248v-3h1v3zM1358 2249v-5h1v5zM1359 2246v-2h1v2zM1360 2268v-24h1v24zM1361 2246v-2h1v2zM1362 2247v-3h1v3zM1363 2253v-9h1v9zM1364 2261v-18h1v18zM1366 2253v-10h1v10zM1367 2249v-6h1v6zM1368 2251v-8h1v8zM1369 2260v-17h1v17zM1371 2243v-1h1v1zM1372 2244v-2h1v2zM1373 2245v-3h2v3zM1375 2244v-2h1v2zM1376 2256v-14h1v14zM1377 2251v-9h1v9zM1378 2247v-6h1v6zM1379 2259v-18h1v18zM1380 2243v-2h1v2zM1381 2256v-15h1v15zM1383 2273v-32h1v32zM1384 2243v-2h1v2zM1385 2241v-1h1v1zM1386 2242v-2h1v2zM1387 2241v-1h1v1zM1388 2247v-7h1v7zM1389 2245v-5h1v5zM1390 2253v-13h1v13zM1393 2241v-2h1v2zM1394 2251v-12h1v12zM1395 2253v-14h1v14zM1396 2245v-6h1v6zM1397 2242v-3h1v3zM1398 2240v-1h1v1zM1401 2241v-3h1v3zM1403 2249v-11h1v11zM1405 2261v-23h1v23zM1406 2240v-2h1v2zM1407 2239v-2h1v2zM1409 2238v-1h1v1zM1410 2238v-1h1v1zM1411 2239v-2h1v2zM1412 2239v-2h1v2zM1413 2243v-6h1v6zM1414 2245v-8h1v8zM1415 2244v-8h1v8zM1417 2246v-10h1v10zM1418 2238v-2h1v2zM1419 2237v-1h1v1zM1420 2251v-15h1v15zM1421 2240v-4h1v4zM1422 2238v-2h1v2zM1423 2257v-22h1v22zM1424 2236v-1h1v1zM1426 2240v-5h1v5zM1428 2242v-7h1v7zM1429 2247v-12h1v12zM1430 2235v-1h1v1zM1431 2236v-2h1v2zM1432 2235v-1h1v1zM1433 2240v-6h2v6zM1437 2242v-8h1v8zM1438 2247v-14h1v14zM1439 2237v-4h1v4zM1440 2244v-11h1v11zM1441 2236v-3h1v3zM1443 2239v-6h1v6zM1444 2240v-8h1v8zM1445 2248v-16h1v16zM1446 2236v-4h1v4zM1447 2242v-10h1v10zM1448 2251v-19h1v19zM1449 2240v-8h1v8zM1450 2245v-14h1v14zM1452 2241v-10h1v10zM1453 2239v-8h1v8zM1454 2232v-1h1v1zM1455 2235v-4h1v4zM1456 2246v-16h1v16zM1457 2240v-10h1v10zM1458 2231v-1h1v1zM1460 2231v-1h1v1zM1461 2246v-16h1v16zM1462 2234v-5h1v5zM1463 2231v-2h1v2zM1464 2230v-1h1v1zM1465 2246v-17h1v17zM1466 2234v-5h1v5zM1469 2237v-9h1v9zM1470 2231v-3h1v3zM1471 2241v-13h1v13zM1472 2245v-17h1v17zM1473 2241v-13h1v13zM1474 2246v-19h1v19zM1475 2239v-12h1v12zM1476 2237v-10h2v10zM1478 2230v-3h1v3zM1479 2239v-12h1v12zM1480 2236v-9h1v9zM1481 2227v-1h1v1zM1482 2228v-2h1v2zM1483 2247v-21h1v21zM1484 2232v-6h1v6zM1486 2248v-22h1v22zM1487 2246v-20h1v20zM1488 2229v-4h1v4zM1489 2226v-1h1v1zM1490 2228v-3h1v3zM1491 2253v-28h1v28zM1492 2264v-39h1v39zM1493 2243v-18h1v18zM1495 2238v-14h1v14zM1496 2226v-2h1v2zM1497 2225v-1h1v1zM1498 2240v-16h1v16zM1499 2233v-9h1v9zM1500 2229v-5h1v5zM1501 2243v-20h1v20zM1503 2236v-13h1v13zM1504 2227v-4h1v4zM1505 2232v-9h1v9zM1506 2234v-11h1v11zM1507 2231v-8h1v8zM1508 2229v-6h1v6zM1509 2230v-8h1v8zM1510 2242v-20h1v20zM1512 2234v-12h1v12zM1513 2228v-6h1v6zM1514 2255v-33h1v33zM1515 2223v-1h1v1zM1516 2229v-8h1v8zM1517 2237v-16h1v16zM1518 2255v-34h1v34zM1520 2226v-5h1v5zM1521 2227v-7h1v7zM1524 2227v-8h1v8zM1525 2220v-1h1v1zM1526 2230v-11h1v11zM1527 2232v-13h1v13zM1529 2233v-15h1v15zM1530 2233v-15h1v15zM1531 2232v-14h1v14zM1532 2231v-13h1v13zM1533 2242v-25h1v25zM1534 2268v-51h1v51zM1535 2222v-5h1v5zM1536 2220v-4h2v4zM1538 2221v-5h1v5zM1539 2227v-11h1v11zM1540 2220v-4h1v4zM1541 2216v-1h1v1zM1542 2237v-22h1v22zM1543 2220v-5h1v5zM1544 2216v-2h1v2zM1546 2235v-21h1v21zM1547 2218v-4h1v4zM1548 2225v-11h1v11zM1549 2229v-16h1v16zM1550 2256v-43h1v43zM1551 2254v-41h1v41zM1552 2240v-27h1v27zM1553 2218v-6h1v6zM1555 2213v-1h1v1zM1556 2214v-2h1v2zM1557 2213v-2h1v2zM1558 2220v-9h1v9zM1559 2218v-7h1v7zM1560 2217v-7h1v7zM1561 2221v-11h1v11zM1563 2222v-13h1v13zM1564 2212v-3h1v3zM1565 2213v-4h1v4zM1566 2215v-7h1v7zM1567 2221v-13h1v13zM1568 2210v-3h1v3zM1569 2224v-17h1v17zM1570 2223v-16h1v16zM1572 2246v-40h1v40zM1573 2208v-2h1v2zM1574 2207v-2h1v2zM1575 2220v-15h1v15zM1576 2229v-24h1v24zM1577 2219v-15h1v15zM1578 2205v-1h1v1zM1580 2212v-9h1v9zM1581 2233v-30h1v30zM1582 2259v-56h1v56zM1583 2212v-10h1v10zM1584 2221v-19h1v19zM1585 2222v-21h1v21zM1586 2258v-57h1v57zM1587 2209v-8h1v8zM1589 2207v-7h1v7zM1590 2219v-19h1v19zM1591 2200v-1h1v1zM1592 2202v-3h1v3zM1593 2202v-3h1v3zM1594 2217v-19h1v19zM1595 2213v-15h1v15zM1596 2227v-30h2v30zM1598 2201v-4h1v4zM1599 2235v-39h1v39zM1600 2196v-1h1v1zM1601 2200v-5h1v5zM1602 2212v-18h1v18zM1603 2246v-52h1v52zM1606 2210v-18h1v18zM1607 2203v-11h1v11zM1608 2202v-11h1v11zM1609 2195v-4h1v4zM1610 2198v-8h1v8zM1611 2190v-1h1v1zM1612 2209v-20h1v20zM1613 2195v-7h1v7zM1615 2211v-24h1v24zM1616 2193v-6h1v6zM1617 2207v-21h1v21zM1618 2204v-19h1v19zM1619 2199v-15h1v15zM1621 2212v-29h1v29zM1623 2186v-4h1v4zM1624 2224v-42h1v42zM1625 2187v-6h1v6zM1626 2192v-12h1v12zM1627 2230v-50h1v50zM1628 2181v-2h1v2zM1629 2180v-2h1v2zM1630 2191v-13h1v13zM1632 2206v-28h1v28zM1633 2206v-29h1v29zM1634 2203v-26h1v26zM1635 2184v-8h1v8zM1636 2200v-24h1v24zM1637 2179v-4h1v4zM1638 2204v-29h1v29zM1639 2180v-6h2v6zM1641 2176v-2h1v2zM1642 2186v-13h1v13zM1643 2174v-1h1v1zM1644 2199v-27h1v27zM1645 2190v-18h1v18zM1646 2179v-8h1v8zM1647 2181v-11h1v11zM1649 2190v-20h1v20zM1650 2205v-36h1v36zM1651 2183v-14h1v14zM1652 2183v-15h1v15zM1653 2179v-11h1v11zM1654 2175v-8h1v8zM1655 2173v-7h1v7zM1656 2222v-56h1v56zM1658 2171v-6h1v6zM1659 2177v-12h1v12zM1660 2166v-2h1v2zM1661 2167v-4h1v4zM1662 2191v-29h1v29zM1663 2163v-2h1v2zM1664 2193v-32h1v32zM1666 2171v-11h1v11zM1667 2200v-41h1v41zM1668 2160v-2h1v2zM1669 2160v-3h1v3zM1670 2157v-1h1v1zM1671 2203v-48h1v48zM1672 2178v-23h1v23zM1673 2156v-2h1v2zM1675 2201v-48h1v48zM1676 2157v-5h1v5zM1677 2167v-16h1v16zM1678 2157v-7h1v7zM1679 2151v-2h1v2zM1680 2159v-11h1v11zM1681 2171v-24h1v24zM1683 2162v-16h1v16zM1684 2228v-84h1v84zM1685 2253v-110h1v110zM1686 2152v-10h1v10zM1687 2149v-8h1v8zM1688 2140v-1h1v1zM1689 2144v-6h1v6zM1690 2161v-25h1v25zM1692 2136v-1h1v1zM1693 2176v-42h1v42zM1694 2159v-27h1v27zM1695 2143v-12h1v12zM1696 2161v-32h1v32zM1697 2171v-43h1v43zM1698 2144v-17h1v17zM1699 2132v-6h2v6zM1701 2147v-22h1v22zM1702 2127v-4h1v4zM1703 2150v-28h1v28zM1704 2141v-20h1v20zM1705 2158v-38h1v38zM1706 2124v-5h1v5zM1707 2165v-47h1v47zM1710 2118v-4h1v4zM1711 2129v-17h1v17zM1712 2165v-55h1v55zM1713 2229v-120h1v120zM1714 2145v-39h1v39zM1715 2125v-22h1v22zM1716 2125v-24h1v24zM1718 2117v-19h1v19zM1719 2175v-80h1v80zM1720 2152v-59h1v59zM1722 2138v-51h1v51zM1723 2089v-5h1v5zM1724 2203v-122h1v122zM1726 2142v-64h1v64zM1727 2073v-1h1v1zM1728 2066v-1h1v1zM1729 2094v-36h1v36zM1730 2063v-11h1v11zM1731 2063v-19h1v19zM1732 2041v-4h1v4zM1733 2044v-15h1v15zM1735 2037v-16h1v16zM1736 2039v-26h1v26zM1737 2021v-16h1v16zM1738 2043v-40h1v40zM1739 2040v-37h1v37zM1740 2022v-20h1v20zM1741 2026v-25h1v25zM1743 2075v-80h1v80zM1744 1990v-1h1v1zM1745 2120v-137h1v137zM1746 1972v-8h1v8zM1747 1975v-30h1v30zM1748 1926v-7h1v7zM1749 1900v-6h1v6zM1750 1916v-107h1v107zM1752 2074v-301h1v301zM1753 2171v-511h1v511zM1754 1890v-258h1v258zM1755 1661v-32h1v32z"/>
</g></g>
<path d="M960.4 2179H1757.9" stroke="#000" stroke-width="2.3" stroke-dasharray="4.1 4 12 3.9" stroke-dashoffset="1" fill="none"/>
<path d="M960.4 2240H1757.9" stroke="#000" stroke-width="2.2" stroke-dasharray="7.8 8.2" stroke-dashoffset="1.3" fill="none"/>
<path d="M1388.9 2275.3V1610.2" stroke="#6e6e6e" stroke-width="3" stroke-dasharray="12.1 11.83" fill="none"/>
<path d="M1628.8 2275.3V1610.2" stroke="#6e6e6e" stroke-width="3" stroke-dasharray="5.65 6.35 17.5 6.35" fill="none"/>
<g font-size="17.5" stroke="#000" stroke-width=".5"><text x="978.4" y="2168.7">Living income</text><text x="968" y="2235.6">Extreme poverty line</text></g>
<text x="1007.4" y="1652.2" font-size="20.2" stroke="#000" stroke-width=".6">n= 707</text>
<path d="M960.4 1610.2V2275.3H1757" stroke="#000" stroke-width="2.2" fill="none" stroke-linecap="square"/>
<path d="M960.4 2275.3h-5.8M960.4 2192.2h-5.8M960.4 2109h-5.8M960.4 2025.9h-5.8M960.4 1942.8h-5.8M960.4 1859.6h-5.8M960.4 1776.5h-5.8M960.4 1693.3h-5.8M960.4 1610.2h-5.8M1039.4 2275.3v5.8M1119.2 2275.3v5.8M1198.9 2275.3v5.8M1278.6 2275.3v5.8M1358.3 2275.3v5.8M1438.1 2275.3v5.8M1517.8 2275.3v5.8M1597.5 2275.3v5.8M1677.3 2275.3v5.8M1757 2275.3v5.8" stroke="#000" stroke-width="2.1" fill="none"/>
<g font-size="18" fill="#2e2e2e" stroke="#2e2e2e" stroke-width=".22"><g text-anchor="end"><text x="949.1" y="2282.4">0.0</text><text x="949.1" y="2199.3">5.0</text><text x="949.1" y="2116.1">10.0</text><text x="949.1" y="2033">15.0</text><text x="949.1" y="1949.8">20.0</text><text x="949.1" y="1866.7">25.0</text><text x="949.1" y="1783.6">30.0</text><text x="949.1" y="1700.4">35.0</text><text x="949.1" y="1617.3">40.0</text></g><g text-anchor="middle"><text x="1039.4" y="2300.1">10</text><text x="1119.2" y="2300.1">20</text><text x="1198.9" y="2300.1">30</text><text x="1278.6" y="2300.1">40</text><text x="1358.3" y="2300.1">50</text><text x="1438.1" y="2300.1">60</text><text x="1517.8" y="2300.1">70</text><text x="1597.5" y="2300.1">80</text><text x="1677.3" y="2300.1">90</text><text x="1757" y="2300.1">100</text></g></g>
</g>
</svg>
</body></html>
